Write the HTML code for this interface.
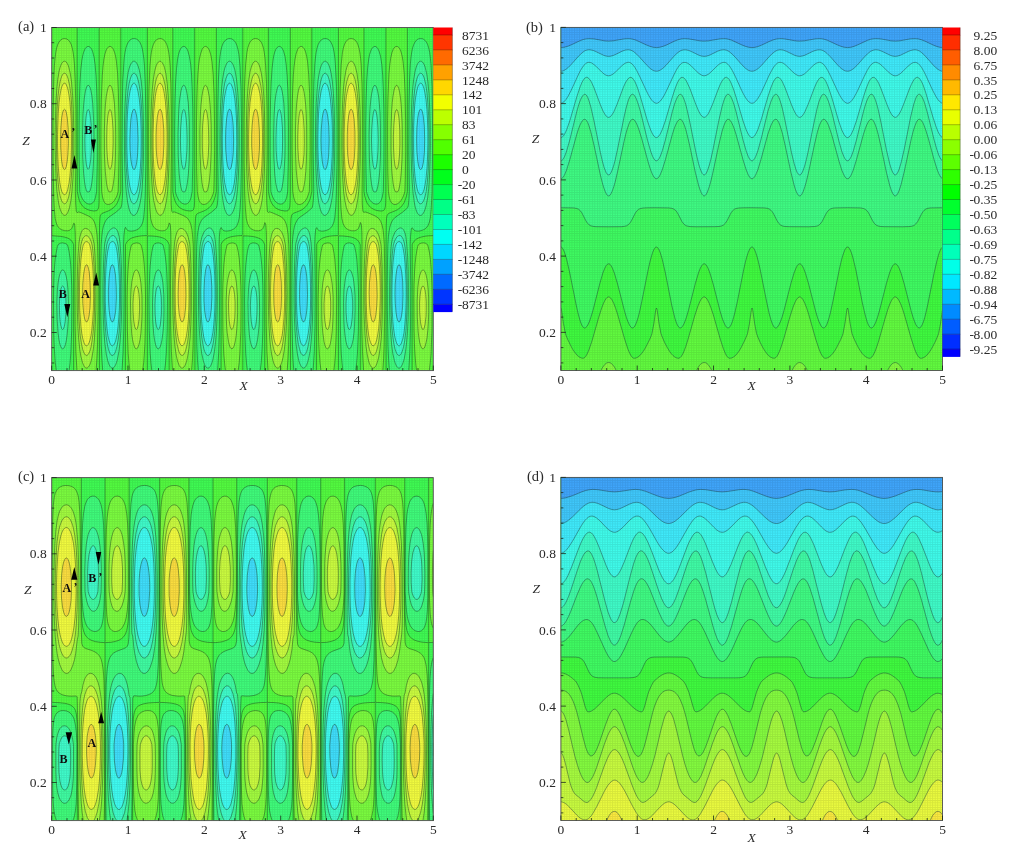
<!DOCTYPE html><html><head><meta charset="utf-8"><style>html,body{margin:0;padding:0;background:#fff;}svg{display:block}</style></head><body><svg width="1017" height="852" viewBox="0 0 1017 852"><clipPath id="cpa"><rect x="51.7" y="27.5" width="381.6" height="343.1"/></clipPath>
<clipPath id="cpb"><rect x="560.9" y="27.4" width="381.6" height="343.1"/></clipPath>
<clipPath id="cpc"><rect x="51.7" y="477.6" width="381.6" height="343"/></clipPath>
<clipPath id="cpd"><rect x="560.9" y="477.4" width="381.6" height="343.1"/></clipPath>
<defs><pattern id="mesh" x="0" y="0" width="2.54" height="2.286" patternUnits="userSpaceOnUse"><path d="M0.5 0V2.286M0 0.5H2.54" stroke="#000" stroke-width="0.9" stroke-opacity="0.1" fill="none"/></pattern></defs>
<g clip-path="url(#cpa)"><rect x="51.7" y="27.5" width="381.6" height="343.1" fill="#54ff40"/>
<path d="M51.7 370.6 73.6 370.6 73.6 244.5 72.5 242.1 71 240.2 69 238.7 67.2 237.9 64.5 237.1 60.8 236.4 51.7 235.7 51.7 28.4 52.6 27.5 77.2 27.5 77.3 191.4 78.3 196.8 79.3 200.4 80.5 203.1 82.3 205.8 84.5 207.9 87.2 209.4 90 210.4 93.6 211 96.3 210.7 97.2 210.2 97.9 209.5 98.3 208.6 98.7 206.7 99 202.2 99.1 191.4 99.1 28.4 100 27.5 120 27.5 120.8 28.4 120.8 191.4 119.8 195.9 118.7 199.5 117.3 202.9 115.5 205.7 113.6 207.6 110.9 209.6 108.2 211 102.8 213.1 101.8 213.6 100.7 214.9 100.3 215.8 100 217.6 99.6 224.9 99.4 243 99.4 370.6 125.4 370.6 125.5 244.6 126.8 242.1 128.2 240.4 130 239 131.8 238 134.6 237.1 138.2 236.3 141.9 235.8 146.4 235.6 147.3 234.8 147.3 27.5 171.9 27.5 172.8 28.4 172.8 191.4 173.6 195.9 174.8 200.4 176 203.1 177.8 205.8 180.1 207.9 182.8 209.5 185.6 210.4 189.2 211 192 210.7 192.9 210.2 193.5 209.5 194.3 206.7 194.6 202.2 194.7 191.4 194.7 28.4 195.6 27.5 215.6 27.5 216.3 28.4 216.3 191.4 215.4 195.9 214.3 199.5 212.9 202.7 211.1 205.6 209.3 207.5 206.5 209.6 203.8 211 198.4 213.1 196.9 214 196.2 214.9 195.9 215.8 195.5 218.5 195.1 226.7 194.9 244.8 194.9 370.6 221 370.6 221.1 244.4 222.3 242.1 223.8 240.3 225.7 238.9 227.5 238 230.2 237 233.8 236.3 237.5 235.8 242 235.6 242.8 234.8 242.8 28.4 243 27.5 267.5 27.5 268.4 28.4 268.4 191.4 269.2 195.9 270.4 200.4 271.6 203.1 273.4 205.8 275.7 208 278.5 209.5 281.2 210.4 284.8 211 286.7 210.9 287.6 210.7 288.5 210.1 289 209.5 289.8 206.7 290.1 202.2 290.3 191.4 290.3 27.5 311.3 27.5 311.8 28.4 311.8 191.4 310.9 195.9 309.9 199.5 308.5 202.6 306.7 205.5 304.9 207.5 302.2 209.6 299.4 211 293.9 213.1 292.5 214 291.8 214.9 291.5 215.8 291 218.5 290.6 226.7 290.5 244.8 290.5 370.6 316.5 370.6 316.7 244.2 317.9 242.1 319.4 240.2 321.3 238.9 323.1 237.9 325.8 237 329.5 236.2 333.1 235.8 337.7 235.6 338.3 234.8 338.4 28.4 338.6 27.5 363.2 27.5 364 28.4 364 191.4 364.7 195.9 366 200.4 367.1 203.1 369 205.8 371.4 208 374.1 209.5 376.8 210.5 380.5 211 382.3 210.9 383.2 210.6 384.1 210 384.6 209.5 385.4 206.7 385.7 202.2 385.8 191.4 385.9 27.5 406.9 27.5 407.4 28.4 407.4 191.4 406.5 195.9 405.4 199.5 404.2 202.5 402.3 205.4 400.5 207.4 397.8 209.5 395 210.9 389.4 213.1 388 214 387.4 214.9 387 215.8 386.5 218.5 386.2 225.8 386 243.9 386 370.6 412.1 370.6 412.2 244.8 412.4 244.1 412.9 243 414.2 241.1 416.1 239.3 418.7 237.9 421.5 237 425.1 236.2 428.7 235.8 433.3 235.6 433.3 27.5 51.7 27.5 51.7 370.6ZM147.3 370.6 169.2 370.6 169.2 244.7 168 242.1 166.6 240.2 164.6 238.8 162.8 237.9 160.1 237.1 156.4 236.4 151.9 236 147.3 235.9 147.3 370.6ZM242.8 370.6 264.8 370.6 264.7 244.8 263.6 242.1 262.2 240.2 260.3 238.8 258.4 238 255.7 237.1 252.1 236.4 247.5 236 243 235.9 242.8 370.6ZM338.4 370.6 360.3 370.6 360.2 244.8 359.1 242.1 357.7 240.2 355.9 238.9 354.1 238 351.3 237.1 347.7 236.5 343.1 236 338.6 235.9 338.4 236.6 338.4 241.1 338.4 370.6Z" fill="#40ff54"/>
<path d="M56.2 369.7 56.3 370.6 69.1 370.6 70.2 361.5 71 348.9 71.7 328.1 71.9 302.7 71.6 281.9 70.7 265.6 70 258.3 69.3 252.9 68.2 247.5 67.4 244.8 65.4 243.5 62.6 242.9 60.8 243.1 59 243.9 58 244.8 57.4 246.6 56.3 252 55.3 258.3 54.6 265.6 54.1 273.7 53.7 285.5 53.5 299.1 53.7 329.9 54.6 352.5 55.3 362.5 56.2 369.7ZM102.7 369.7 102.7 370.6 122 370.6 123.1 352.5 123.8 328.1 124.1 285.5 123.5 244.8 123.9 235.7 124.5 230.3 124.9 228.5 125.5 227.3 126.4 229.1 127.3 230 128.2 230.6 130 231.1 131.8 231.1 134.6 230.6 137.3 229.5 138.9 228.5 140 227.4 141 226.2 142.5 223 143.6 218.5 144 214.9 144.8 204 145.4 191.4 145.9 153.3 145.7 105.4 145.3 85.4 144.7 71 143.6 56.5 142.7 51 141.7 46.5 140.6 43.8 139 41.1 137.3 39.5 136.4 39 134.6 38.5 132.8 38.6 131.8 38.9 130 40 128.4 42 127.3 44 126.1 47.4 125.1 51.9 124.3 57.4 123.8 63.7 122.8 80.9 122.3 105.4 122.1 151.5 122.7 191.4 122.3 198.6 121.8 204.3 120.9 208 120 208.6 116 212.2 109.1 217 107.4 218.5 106 220.3 104.5 223.1 103.3 226.7 102.4 231.2 101.8 236.6 101.2 244.8 100.9 259.3 100.7 283.7 100.7 309 101.3 344.3 101.9 357.9 102.7 369.7ZM151.8 370.6 164.6 370.6 165.7 361.5 166.6 348.9 167.3 328.1 167.5 302.7 167.1 281.9 166.3 265.6 165.6 258.3 164.8 252.9 163.7 247.5 162.9 244.8 161 243.5 158.3 242.9 156.4 243.1 154.6 243.9 153.6 244.8 152.8 247.3 151.9 251.5 151 257.7 150.2 265.6 149.7 273.7 149.3 285.5 149 299.1 149.3 330.8 150.2 353.4 151 363.4 151.8 370.6ZM198.3 370.6 217.6 370.6 218.7 352.5 219.4 328.1 219.6 285.5 219.1 244.8 219.4 236.6 220 230.3 220.2 229.2 221.1 227.5 222 229.2 222.9 230.1 223.8 230.6 225.7 231.1 227.5 231.1 230.2 230.6 232.9 229.5 234.5 228.5 236.2 226.7 237.7 223.9 239 219.4 239.6 214.9 240.4 204 240.9 191.4 241.5 153.3 241.3 105.4 240.9 85.4 240.3 71 239.1 56.5 238.3 51 237.2 46.5 235.8 42.9 234.6 41.1 232.9 39.5 232 39 230.2 38.5 228.4 38.6 227.5 38.9 225.7 40 223.9 42 222.9 43.8 221.9 46.5 220.8 51 220 56.5 219.3 63.7 218.4 80 217.9 104.4 217.6 151.5 218.2 191.4 217.8 199.5 217.3 204.9 216.5 207.8 211.5 212.2 203.8 217.6 201.5 220.3 200.1 223 198.9 226.7 198 231.2 197.3 236.6 196.8 244.8 196.4 261.1 196.2 284.6 196.3 309.9 196.9 346.2 197.5 359.7 198.3 370.6ZM247.4 370.6 260.2 370.6 261.3 361.5 262.1 348.9 262.8 328.1 263 302.7 262.7 281.9 261.8 265.6 261.2 258.5 260.4 252.9 259.3 247.7 258.5 244.8 256.6 243.6 253.9 242.9 252.1 243 250.2 243.9 249.1 244.8 248.4 247 247.5 251.1 246.6 257.4 245.8 264.7 245.2 273.7 244.8 285.5 244.6 299.1 244.8 330.8 245.7 353.4 246.5 363.4 247.4 370.6ZM293.8 370.6 313.1 370.6 314.2 352.5 314.9 328.1 315.2 285.5 314.7 244.8 315 236.6 315.6 230.3 315.8 228.9 316.7 227.6 317.6 229.3 318.5 230.2 319.5 230.7 321.3 231.1 323.1 231.1 325.8 230.6 328.6 229.5 330 228.5 331.7 226.7 333.2 223.9 334.5 219.4 335.1 214.9 335.9 204 336.5 191.4 337 154.2 336.9 106.3 336.5 86.3 335.9 71.9 335.4 63.7 334.7 56.5 333.8 51 332.8 46.5 331.3 42.9 330.1 41.1 329.3 40.2 328 39.3 325.8 38.5 324 38.6 323.1 38.8 321.3 39.9 319.5 42 318.5 43.8 317.5 46.5 316.4 51 315.6 56.5 314.9 63.7 314 80.9 313.4 104.4 313.2 151.5 313.8 191.4 313.4 199.5 312.8 204.9 312.2 207.7 307.1 212.2 299.4 217.6 297.7 219.4 296.7 221 295.3 223.9 294.4 226.7 293.5 231.2 292.9 236.6 292.3 244.8 292 261.1 291.8 285.5 291.8 310.9 292.5 346.2 293 359.2 293.8 370.6ZM342.9 370.6 355.7 370.6 356.8 361.5 357.7 348.9 358.4 328.1 358.6 302.7 358.2 281.9 357.4 265.6 356.8 259.2 355.9 252.9 355 248 354.1 244.8 352.2 243.6 349.5 242.9 347.7 243 345.9 243.8 344.7 244.8 344 246.7 343.1 251.1 342.1 257.4 341.4 264.7 340.8 272.8 340.4 284.6 340.1 298.2 340.4 329.9 340.8 343.4 341.3 354.2 342.1 363.4 342.9 370.6ZM389.4 370.6 408.7 370.6 409.8 352.5 410.5 329 410.7 286.4 410.2 244.8 410.5 236.6 411.1 230.3 411.4 228.5 412.4 227.8 413.3 229.4 414.2 230.2 415.1 230.7 416.9 231.1 418.7 231.1 421.5 230.5 423.3 229.9 425.6 228.5 427.3 226.7 428.8 223.9 430.1 219.4 430.7 214.9 431.4 204.9 432 191.4 432.6 153.3 432.4 106.3 432 87.2 431.4 71.9 430.9 63.7 430.2 56.5 429.4 51 428.3 46.5 426.9 43 425.7 41.1 424.8 40.2 423.6 39.3 421.5 38.5 419.6 38.6 418.7 38.8 416.9 39.8 415.1 41.9 414 43.8 413 46.5 411.9 51 411.1 56.5 410.4 63.7 409.5 80.9 409 104.4 408.8 151.5 409.3 191.4 408.9 199.5 408.4 204.9 407.8 207.5 406.7 208.6 402.6 212.2 395 217.5 393.3 219.4 392.3 220.8 391.2 223 390 226.7 389.1 231.2 388.4 236.6 387.9 244.8 387.5 261.1 387.3 285.5 387.4 310.9 388 346.2 388.6 359.7 389.4 370.6ZM88.8 204 90 204.1 91.8 203.5 92.7 202.9 94 201.3 94.8 199.5 95.4 197.7 96.6 191.4 97.3 164.2 97.4 131.6 97.2 109 96.7 90.9 96.1 76.4 95.2 65.5 94.1 57.4 92.7 51.8 91.8 49.6 90.9 48.1 90 47.1 89 46.6 88.1 46.4 87.2 46.7 86.3 47.3 85.4 48.3 84.5 50 83.6 52.3 82.7 55.8 82.1 59.2 80.9 69.1 80 82.7 79.4 99.9 79.1 122.6 79 147.9 79.3 171.4 79.8 191.4 80.5 194.1 81.5 196.8 83.5 200.4 84.5 201.6 86.3 203.1 87.2 203.6 88.8 204ZM184.3 204 185.6 204.1 187.4 203.5 188.3 202.8 189.5 201.3 190.4 199.5 191 197.5 192.2 191.4 192.8 165.1 193 132.5 192.8 110.8 192.3 91.8 191.7 77.3 190.8 65.5 189.6 57.4 188.3 51.9 187.4 49.7 186.5 48.2 185.6 47.2 184.7 46.6 183.8 46.4 182.8 46.6 181.9 47.2 181 48.2 180.1 49.8 179.2 52.1 178.3 55.5 177.6 59.2 176.5 68.6 175.6 82.7 175 99.9 174.6 122.6 174.6 147 174.8 171.4 175.4 191.4 176.1 194.1 177.1 196.8 179 200.4 180.1 201.7 181.9 203.1 182.8 203.6 184.3 204ZM279.9 204 281.2 204.1 283 203.5 283.9 202.8 284.8 201.7 285.8 200 286.5 197.7 287.7 191.4 288.4 165.1 288.5 133.4 288.3 110.8 287.9 91.8 287.2 77.3 286.3 65.5 285.2 57.4 283.8 51.9 283 49.9 282.1 48.3 281.2 47.2 280.3 46.7 279.4 46.4 278.5 46.6 277.6 47.1 276.7 48.1 275.7 49.6 274.8 51.9 273.9 55.2 273.3 58.3 272.1 67.8 271.2 81.3 270.6 98.1 270.2 120.7 270.1 146.1 270.4 170.5 270.9 191.4 271.6 194.1 272.6 196.8 273.5 198.6 274.6 200.4 276.7 202.6 278.5 203.7 279.9 204ZM375.4 204 376.8 204.1 378.7 203.4 379.6 202.7 380.5 201.6 381.4 199.8 382.1 197.7 383.2 191.8 383.9 166.9 384.1 134.3 383.9 111.7 383.5 92.7 382.8 78.2 382 66.4 380.7 57.4 379.4 51.9 378.7 50.1 377.7 48.4 376.8 47.3 375.9 46.7 375 46.4 374.1 46.6 373.2 47.1 372.3 48 371.4 49.5 370.5 51.7 369.5 54.8 368.9 58.3 367.7 67 366.8 79.8 366.2 97.2 365.8 119.8 365.7 145.2 365.9 170.5 366.5 191.4 367.2 194.1 368.2 196.8 369 198.6 370.1 200.4 372.3 202.7 374.1 203.7 375.4 204Z" fill="#40ff7c"/>
<path d="M111.6 367.9 112.7 368.1 113.6 367.6 114.5 366.6 115.5 365.1 116.4 362.8 117.3 359.8 118.7 352.5 120 342.5 120.8 332.6 121.4 319.9 121.7 305.4 121.8 288.2 121.5 271 120.9 256 120 243.1 119.1 236.5 118.2 233 117.6 231.2 116.5 229.4 115.6 228.5 114.5 228 113.6 227.9 112.7 228.1 110.9 229.2 110 230 108.5 232.1 107.3 234.5 106.5 236.6 105.1 242.1 104.6 244.8 103.8 256.5 103 281 103 299.1 103.2 315.4 103.8 329.9 104.8 342.5 106 352.5 107.5 359.7 109.1 364.6 110 366.3 110.9 367.4 111.6 367.9ZM207.2 367.9 208.3 368.1 209.3 367.6 210.2 366.5 211.1 364.9 212 362.6 212.9 359.5 214.1 353.4 215.3 344.3 216.3 333.5 216.9 320.8 217.3 306.3 217.3 289.1 217.1 271.9 216.5 257.4 215.6 243.9 214.7 236.6 213.8 233 213.1 231.2 212 229.3 211.1 228.5 210.2 228 209.3 227.9 208.3 228.1 206.5 229.1 204.7 231.1 203.8 232.5 202 236.8 200.6 242.1 200.1 244.8 199.4 256.5 198.6 281 198.5 299.1 198.8 315.4 199.4 329.9 200.3 342.5 201.4 351.6 202.9 359.2 203.8 362.4 204.7 364.8 205.6 366.4 206.5 367.5 207.2 367.9ZM302.7 367.9 303.1 368.1 304 368 304.9 367.5 305.8 366.4 306.7 364.7 307.6 362.4 308.5 359.2 309.7 353.4 310.9 344.3 311.8 333.5 312.5 320.8 312.8 306.3 312.9 289.1 312.6 271.9 312.1 257.4 311.2 243.9 310.2 236.6 309.4 233.3 308.7 231.2 307.6 229.3 306.7 228.5 305.8 228 304.9 227.9 304 228.1 302.2 229 300.3 231 299.4 232.4 297.6 236.6 296.2 242.1 295.7 244.8 294.9 256.5 294.2 280.1 294.1 298.2 294.3 314.5 294.9 328.9 295.8 341.6 297 351.6 298.5 359.5 299.4 362.6 300.3 364.9 301.2 366.5 302.2 367.6 302.7 367.9ZM398.3 367.9 398.7 368.1 399.6 368 400.5 367.4 401.4 366.3 402.3 364.6 403.9 359.7 405.1 354.3 406.3 346.2 407.2 335.3 407.9 322.6 408.4 307.2 408.5 290 408.2 271.9 407.6 256.5 406.7 243.9 405.8 236.6 405.1 233.5 404.2 231.2 403.2 229.4 402.3 228.5 401.4 228.1 400.5 227.9 399.6 228.1 397.8 229 396 230.9 395 232.2 393.2 236.4 391.7 242.1 391.2 244.8 390.5 255.9 389.7 280.1 389.6 298.2 389.9 314.5 390.5 329.9 391.4 342.4 392.5 351.6 394.1 359.8 395 362.8 396 365.1 396.9 366.6 397.8 367.6 398.3 367.9ZM61.5 348 61.7 348.3 62.6 348.9 63.5 348.4 64.5 347.1 65.4 344.6 66.3 340.6 67.2 334.3 67.8 327.1 68.5 310.9 68.5 302.7 68.2 294.6 67.8 288.2 67.2 282 66.3 276.8 65.4 273.5 64.5 271.4 63.5 270.2 62.6 269.9 61.7 270.4 60.8 271.6 59.9 273.8 58.8 278.3 58.1 283 57.5 289.1 56.9 301.8 57.1 319 58.1 333.2 59 339.9 59.7 343.4 60.8 346.8 61.5 348ZM157.1 348 157.3 348.4 158.3 348.9 159.2 348.4 159.4 348 160.1 346.9 161 344.3 161.9 340.2 162.8 333.6 163.3 328.1 163.7 320.8 164 311.8 163.8 295.5 163.5 289.1 162.8 282.6 161.9 277.1 161 273.7 160.1 271.5 159.2 270.3 158.3 269.9 157.3 270.3 156.4 271.5 155.5 273.6 154.4 278.3 153.7 282.4 153 289.1 152.5 301.8 152.7 319 153.7 333.5 154.6 340.3 155.3 343.4 156.4 347 157.1 348ZM252.6 348 253 348.5 253.9 348.8 254.8 348.3 255 348 255.7 346.7 256.6 344 257.5 339.7 258.4 332.9 258.9 327.1 259.6 311.8 259.4 295.5 258.4 283.2 257.5 277.5 256.6 273.9 255.7 271.7 254.8 270.4 253.9 269.9 253 270.2 252.1 271.3 251.2 273.4 249.9 278.3 249.2 282.8 248.6 289.1 248 301.8 248.2 319 249.2 333.5 250.1 339.8 250.9 343.4 252.1 347.1 252.6 348ZM348.2 348 348.6 348.5 349.5 348.8 350.4 348.2 351.3 346.6 352.1 344.3 353.1 339.8 353.9 333.5 354.4 328.1 354.9 319.9 355.1 311.8 355 296 354.6 289.1 353.9 282.8 353.2 277.9 352.2 274.2 351.3 271.8 350.4 270.5 349.5 269.9 348.6 270.2 347.7 271.2 346.8 273.2 345.5 278.3 344.8 282.8 344.1 289.1 343.6 301.8 343.7 318.1 344 324.7 344.7 332.6 346 341.6 346.8 344.9 347.7 347.3 348.2 348ZM132.3 214.9 132.8 215.2 133.7 215.4 134.6 215.2 135.5 214.6 136.4 213.5 137.3 212 138.2 209.8 139.1 207 140.7 199.5 141.8 191.4 142.7 178.7 143.3 164.2 143.6 147.9 143.6 128 143.1 109.9 142.4 94.5 141.3 81.8 140 73.5 139.1 69.4 138.2 66.4 137.3 64.3 136.4 62.8 135.5 61.8 134.6 61.3 133.7 61.2 132.8 61.6 131.8 62.5 130.9 63.9 130 65.9 129.1 68.6 128.2 72.4 127.1 79.1 126.1 88.2 125.3 100.8 124.7 115.3 124.4 131.6 124.4 148.8 124.7 165.1 125.4 180.5 126.3 192.3 127.4 201.3 129 208.6 130 211.5 130.8 213.1 131.8 214.5 132.3 214.9ZM227.9 214.9 228.4 215.2 229.3 215.4 230.2 215.2 231.1 214.5 232 213.4 232.9 211.8 233.8 209.6 234.8 206.7 236.3 199.5 237.4 191.4 238.3 178.7 238.9 164.2 239.2 147.9 239.1 128 238.7 109.9 237.9 94.5 236.8 81.8 235.7 74 234.8 69.7 233.8 66.7 232.9 64.4 232 62.9 231.1 61.9 230.2 61.3 229.3 61.2 228.4 61.6 227.5 62.4 226.6 63.7 225.7 65.7 224.7 68.4 223.8 72.1 222.7 79.1 221.7 88.2 220.9 99.9 220.3 114.4 220 130.7 220 147.9 220.3 164.2 220.9 179.6 221.8 191.4 222.9 200.8 224.3 207.7 225.7 211.7 226.6 213.5 227.9 214.9ZM323.4 214.9 324 215.3 324.9 215.4 325.8 215.1 326.7 214.4 327.8 213.1 328.7 211.3 330 207.7 331.7 200.4 332.9 191.4 333.7 180.5 334.4 166 334.7 148.8 334.7 128.9 334.3 110.8 333.6 95.4 332.5 82.7 331.3 74.4 330.4 70 329.5 66.9 328.6 64.6 327.7 63 326.7 61.9 325.8 61.3 324.9 61.2 324 61.5 323.1 62.3 322.2 63.6 321.3 65.5 320.4 68.1 319.5 71.7 318.2 79.1 317.1 89.1 316.4 100.8 315.8 115.1 315.5 130.7 315.5 147.9 315.8 164.2 316.5 179.6 317.3 191.4 318.4 200.4 319.6 206.7 320.4 209.5 321.3 211.9 322.2 213.6 323.4 214.9ZM419 214.9 419.6 215.3 420.5 215.4 421.5 215.1 422.4 214.4 423.3 213.2 424.2 211.5 425.3 208.6 426.3 204.9 427.2 200.4 428.5 191.4 429.3 180.5 429.9 166 430.2 149.7 430.2 129.8 429.8 110.8 429.1 95.4 428 82.7 426.9 74.6 426 70.3 425.1 67.1 424.2 64.7 423.3 63.1 422.4 62 421.5 61.4 420.5 61.2 419.6 61.5 418.7 62.2 417.8 63.5 416.9 65.3 416 67.9 415.1 71.4 413.9 78.2 412.9 87.2 412 99 411.4 113.5 411.1 129.8 411.1 147.9 411.4 164.2 412 178.7 412.9 191.4 414 200.4 415.2 206.7 416 209.7 416.9 212.1 417.8 213.7 419 214.9ZM86.7 191.4 88.1 191.9 89 191.8 89.7 191.4 90.9 187.9 91.8 183 92.7 175.3 93.3 166.9 94 147 94 134.3 93.8 122.6 93.3 112.6 92.7 103.3 91.8 95.4 90.9 90.4 90 87.4 89 85.7 88.1 85.3 87.2 85.9 86.3 87.9 85.4 91.2 84.5 96.7 83.6 105.4 83.2 111.7 82.5 131.6 82.6 153.3 83.4 171.4 84.7 183.2 85.4 187.1 86.3 190.4 86.7 191.4ZM182.3 191.4 182.8 191.7 183.8 191.9 184.7 191.7 185.3 191.4 186.5 187.5 187.3 183.2 188.2 175.1 188.8 167.8 189.2 159.3 189.5 147.9 189.5 136.1 189.3 123.5 188.9 113.5 188.3 104.2 187.4 95.9 186.5 90.8 185.6 87.6 184.7 85.8 183.8 85.2 182.8 85.8 181.9 87.6 181 90.9 180 97.2 179.2 104.5 178.7 112.6 178 131.6 178.1 152.4 178.9 170.5 180.1 182.3 181 187.4 182.3 191.4ZM277.8 191.4 278.5 191.7 279.4 191.9 280.3 191.7 280.8 191.4 281.2 190.5 282.1 187.2 282.8 183.2 283.7 176 284.3 168.7 284.8 157.9 285.1 147.9 285.1 136.1 284.9 123.5 283.9 104.4 283 96.4 282.1 91.1 281.2 87.8 280.3 85.9 279.4 85.2 278.5 85.7 277.6 87.4 276.7 90.6 275.6 96.3 274.8 103.6 274.3 111.7 273.6 130.7 273.7 152.4 274.5 170.5 275.7 182.8 276.7 187.7 277.8 191.4ZM373.4 191.4 374.1 191.8 375 191.9 376.4 191.4 377 189.5 378.1 185 378.9 179.6 379.7 170.5 380.3 159.7 380.6 148.8 380.7 137 380.5 124.6 379.5 105.4 378.7 97 377.7 91.5 376.8 88 375.9 86 375 85.3 374.1 85.7 373.2 87.3 372.3 90.2 371.2 96.3 370.5 102.8 369.8 111.7 369.2 130.7 369.2 151.5 370 169.6 370.5 175.8 371.4 183.3 372.3 188.1 373.4 191.4Z" fill="#40ffa4"/>
<path d="M111.6 355.2 112.7 355.4 113.6 354.9 114.5 353.7 115.5 351.8 116.6 348 117.9 341.6 119 332.6 119.7 323.5 120.3 312.7 120.5 300 120.5 284.6 120.1 269.2 119.3 256.5 118.3 246.6 117.4 242.1 116.4 238.8 115.5 237.1 114.5 236.1 113.6 235.6 112.7 235.5 111.8 235.8 110.9 236.4 110 237.3 109.1 238.6 107.9 241.1 106.7 244.8 105.7 253.8 105 263.8 104.5 274.6 104.2 288.2 104.2 300.9 104.5 313.6 105.1 325.3 106 335.3 107.2 343.4 108.2 348.1 109.1 351.2 110 353.3 110.9 354.7 111.6 355.2ZM207.2 355.2 207.4 355.4 208.3 355.4 209.3 354.8 210.2 353.6 210.7 352.5 212 348.7 213.4 341.6 214.6 332.6 215.3 323.5 215.8 312.7 216.1 300 216 284.6 215.6 269.9 214.8 256.5 213.8 246.6 212.9 241.7 211.7 238.4 211.1 237.2 210.2 236.2 209.3 235.6 208.3 235.5 207.4 235.7 206.5 236.3 205.6 237.2 204.7 238.5 203.4 241.1 202.3 244.8 201.2 253.8 200.5 263.8 200 274.6 199.8 288.2 199.8 301.8 200.1 314.5 200.7 326.2 201.6 335.3 202.7 343.4 203.8 348.4 204.7 351.4 205.6 353.4 206.5 354.7 207.2 355.2ZM302.8 355.2 303.1 355.4 304 355.4 304.9 354.7 305.8 353.4 306.7 351.4 307.6 348.4 309 341.6 310 333.5 310.8 323.5 311.4 312.7 311.6 300 311.6 285.5 311.2 271 310.5 257.4 309.4 246.9 308.5 241.9 307.3 238.4 306.7 237.4 305.8 236.3 304.9 235.7 304 235.5 303.1 235.7 302.2 236.2 301.2 237.1 300.3 238.4 299 241.1 297.8 244.8 296.7 254.7 296.1 263.8 295.6 274.6 295.3 287.3 295.3 300.9 295.6 313.6 296.2 324.4 297 334.4 298.1 342.5 299.4 348.7 300.3 351.6 301.2 353.6 302.2 354.8 302.8 355.2ZM398.3 355.2 398.7 355.4 399.6 355.4 400.5 354.7 401.4 353.3 402.3 351.2 403.2 348.1 404.4 342.5 405.4 335.3 406.3 325.3 406.9 313.6 407.2 300.9 407.2 286.4 406.8 271.9 406.1 258.3 405.1 247.5 404.3 243 403.2 239.3 402.3 237.5 401.4 236.3 400.5 235.7 399.6 235.5 398.7 235.7 397.8 236.2 396.9 237 396 238.3 394.6 241.1 393.4 244.8 392.3 254.1 391.6 263.8 391.2 274.6 390.9 287.3 390.9 300.9 391.2 313.6 391.7 324.4 392.6 334.4 393.7 342.5 395 349 396 351.8 396.9 353.7 397.8 354.9 398.3 355.2ZM62.1 329 62.6 329.6 63.5 328.8 64.5 326.2 65.5 319 66 308.1 65.9 300.9 65.4 293.6 64.5 288.8 63.5 286.6 62.6 286 61.7 286.8 61.5 287.3 60.8 289.3 60.3 291.8 59.7 297.3 59.4 304.5 59.5 311.8 59.9 319.2 60.8 325.6 61.7 328.6 62.1 329ZM157.6 329 158.3 329.6 159.2 328.7 160.1 325.8 161.1 319 161.6 308.1 161.5 300.9 160.9 293.7 160.1 289.1 159.2 286.7 158.3 286 157.3 286.7 156.4 289 156 290.9 155.3 296.4 154.9 303.6 155 311.8 155.5 320 156.4 326 157.3 328.7 157.6 329ZM253.1 329 253.9 329.6 254.8 328.5 255.7 325.5 256.6 319 257.1 309 257.1 301.8 256.6 294.6 255.7 289.4 254.8 286.8 253.9 286 253 286.6 252.1 288.7 251.6 290.9 250.8 296.4 250.5 303.6 250.6 311.8 251.2 320.7 252.1 326.3 253.1 329ZM348.6 329 349.5 329.5 350.4 328.4 351.3 325.1 352.2 318.1 352.6 309.9 352.6 301.8 352.1 294.6 351.3 289.7 350.4 287 349.5 286 348.6 286.5 347.7 288.5 347.1 290.9 346.4 296.4 346 303.6 346.1 312.7 346.7 320.8 347.7 326.6 348.6 329ZM132.5 203.1 133.7 203.8 134.6 203.6 135.5 203 136.4 201.7 137.3 199.8 138.2 197.1 139.5 191.4 140.7 182.3 141.5 172.3 142 160.6 142.3 146.1 142.3 129.8 141.9 114.4 141.1 100.8 140.1 90.9 138.9 83.6 138.2 80.4 137.3 77.4 136.4 75.3 135.5 74 134.6 73.3 133.7 73.3 132.8 73.8 131.8 75 130.8 77.3 130 79.6 129.1 83.4 128.2 89.1 127.2 97.2 126.4 109 125.9 120.7 125.7 134.3 125.7 147.9 126 160.6 126.5 171.4 127.3 181.7 128.2 189.5 129.2 195 130 198.2 130.9 200.7 131.8 202.4 132.5 203.1ZM228.1 203.1 228.4 203.4 229.3 203.8 230.2 203.6 231.1 202.9 232 201.6 232.9 199.6 233.8 196.8 235.1 191.4 236.2 182.3 237 172.3 237.6 160.6 237.9 146.1 237.9 130.7 237.5 115.3 236.7 101.7 235.7 91.1 234.5 83.6 232.9 77.6 232 75.5 231.1 74.1 230.2 73.4 229.3 73.3 228.4 73.7 227.5 74.8 226.3 77.3 224.7 83.1 223.7 89.1 222.8 97.2 222 108.1 221.5 119.8 221.2 133.4 221.2 147 221.6 160.6 222.1 171.4 222.9 182.4 223.8 190 225 195.9 225.7 198.4 226.6 200.9 227.5 202.5 228.1 203.1ZM323.6 203.1 324 203.5 324.9 203.8 325.8 203.6 326.7 202.8 327.7 201.4 328.6 199.4 329.5 196.6 330.6 191.4 331.7 183.2 332.6 172.3 333.1 160.6 333.4 146.1 333.4 130.7 333 116.2 332.3 101.7 331.3 91.7 330.2 84.5 329.5 81 328.6 77.8 327.7 75.6 326.7 74.2 325.8 73.4 324.9 73.2 324 73.7 323.1 74.7 321.9 77.3 320.4 82.7 319.3 89.1 318.4 96.3 317.6 107.2 317.1 119.8 316.8 133.4 316.8 147 317.1 160.6 317.6 171.9 318.5 183.2 319.5 190.5 320.5 195.9 321.3 198.7 322.2 201 323.1 202.6 323.6 203.1ZM419.2 203.1 419.6 203.5 420.5 203.8 421.5 203.5 422.4 202.7 423.3 201.3 424.2 199.2 425.1 196.3 426.2 191.4 427.2 183.2 428.1 172.3 428.7 159.7 429 147 429 131.6 428.6 117.1 427.9 102.6 426.9 92.3 425.8 84.5 424.2 78.1 423.3 75.8 422.4 74.3 421.5 73.5 420.5 73.2 419.6 73.6 418.7 74.6 417.4 77.3 416 82.4 414.8 89.1 414 96.3 413.2 107.2 412.6 118.9 412.4 132.5 412.4 147 412.6 159.7 413.2 172.3 414 182.3 415.1 191 416 195.6 416.9 198.9 417.8 201.2 418.7 202.7 419.2 203.1ZM87.7 168.7 88.1 169.3 89 168.4 90 165.2 90.2 163.3 90.9 158.2 91.1 154.2 91.5 141.6 91.4 130.7 90.8 120.7 90 113.7 89 110.4 88.1 109.5 87.2 110.8 86.3 114.8 85.9 118 85.2 126.2 84.9 137.9 85 147.9 85.5 157 86.3 164.2 87.2 168 87.7 168.7ZM183.3 168.7 183.8 169.3 184.7 168.2 185.7 164.2 186.6 156 187.1 142.5 186.9 130.7 186.4 120.7 185.6 114.1 184.7 110.6 183.8 109.5 182.8 110.8 181.9 114.3 181.5 118 180.8 126.2 180.5 137.9 180.6 147.9 181 157 181.9 164.6 182.8 168.2 183.3 168.7ZM278.8 168.7 279.4 169.3 280.3 168.1 281.2 164.4 282.1 156 282.6 142.5 282.5 130.7 281.9 120.7 281 113.5 280.3 110.7 279.4 109.5 278.5 110.4 278.4 110.8 277.6 113.9 277 118 276.4 126.2 276 137.9 276.1 147.9 276.7 157.9 277.6 165 278.5 168.4 278.8 168.7ZM374.4 168.7 375 169.2 375.9 167.9 376.8 163.9 377.7 155.4 378.2 143.4 378 130.7 377.5 120.7 376.5 113.5 375.9 111 375 109.5 374.1 110.3 373.7 111.7 373.2 113.5 372.6 118 371.9 126.2 371.6 137 371.7 147.9 372.3 158.7 373.2 165.4 374.1 168.5 374.4 168.7Z" fill="#40ffcd"/>
<path d="M111.3 345.3 111.8 345.7 112.7 345.8 113.6 345.1 114.5 343.7 115.6 340.7 116.9 335.3 117.9 328.1 118.6 319.9 119.2 310.9 119.4 300 119.4 287.3 119.1 275.5 118.5 264.7 117.7 256.5 116.7 249.3 115.7 244.8 114.5 242.7 113.6 241.9 112.7 241.5 111.8 241.7 110.9 242.2 110 243.2 109.1 244.8 107.8 251.1 106.9 257.4 106.1 266.5 105.6 276.5 105.3 287.3 105.3 298.2 105.5 308.1 106 318.1 106.7 326.2 107.4 332.6 108.6 338.9 110 343.2 110.9 344.9 111.3 345.3ZM206.9 345.3 207.4 345.7 208.3 345.7 209.3 345 210.2 343.5 211.1 341.1 212.4 335.3 213.3 329 214.1 320.8 214.7 310.9 215 300.9 215 289.1 214.7 277 214.2 266.5 213.4 257.4 212.4 250.2 211.2 244.8 210.2 242.8 209.3 241.9 208.3 241.5 207.4 241.6 206.5 242.2 205.6 243.1 204.7 244.6 203.3 251.1 202.4 258.3 201.7 266.5 201.1 277.4 200.9 287.3 200.8 298.2 201.1 308.6 201.5 318.1 202.2 326.2 203 332.6 204.2 338.9 205.6 343.4 206.5 344.9 206.9 345.3ZM302.4 345.3 303.1 345.8 304 345.7 304.9 344.9 305.8 343.4 306.7 340.9 307.8 336.2 308.8 329.9 309.6 321.7 310.2 311.8 310.5 300.9 310.6 289.1 310.3 277.4 309.7 266.5 308.9 257.4 307.8 249.3 306.8 244.8 305.8 242.9 304.9 242 304 241.6 303.1 241.6 302.2 242.1 301.2 243 300.3 244.5 299 250.2 298 257.4 297.3 265.6 296.7 276.5 296.4 286.4 296.6 307.2 297 316.3 297.7 325.3 298.5 332.5 299.4 337.6 300.3 341.1 301.2 343.4 302.4 345.3ZM398 345.3 398.7 345.8 399.6 345.7 400.5 344.8 401.4 343.2 402.3 340.7 403.2 336.8 404.2 331.4 405.1 322.6 405.7 312.7 406.1 301.8 406.1 290 405.9 278.3 405.3 266.5 404.5 257.4 403.3 249.3 402.3 244.8 401.4 243 400.5 242 399.6 241.6 398.7 241.6 397.8 242 396.9 242.9 396 244.3 395.1 247.5 394.6 250.2 393.6 257.4 392.9 265.6 392.3 275 392 286.4 391.9 297.3 392.2 308.1 392.6 317.2 393.2 325.5 394.1 333 395 337.9 396.4 342.5 396.9 343.7 398 345.3ZM132.7 194.1 133.7 194.7 134.6 194.6 135.5 193.8 136.4 192.3 137.3 189.8 138.6 184.1 139.7 176 140.4 166.9 141 157 141.2 144.3 141.2 131.6 140.8 118.9 140 106.4 139.2 98.1 138.1 91.8 137.3 88.5 136.4 85.8 135.5 84.2 134.6 83.3 133.7 83.2 132.8 83.9 131.8 85.3 130.9 87.7 130 91.3 129 97.2 128.2 104 127.4 114.4 127 124.4 126.8 135.2 126.8 146.1 127.1 157 127.5 166 128.2 174.6 129.1 182 130 187.1 131.2 191.4 131.8 192.8 132.7 194.1ZM228.3 194.1 229.3 194.7 230.2 194.5 231.1 193.7 232 192.3 232.9 189.6 234.1 184.1 235.1 176.9 235.9 167.8 236.5 156 236.8 144.3 236.7 130.7 236.4 118.9 235.7 107.3 234.8 98.5 233.6 91.8 232.9 88.7 232 86 231.1 84.3 230.2 83.4 229.3 83.2 228.4 83.8 227.5 85.2 226.6 87.5 225.7 90.9 224.6 97.2 223.7 104.4 223 114.4 222.3 135.2 222.4 146.1 222.6 157 223.1 166 223.8 175.3 224.7 182.5 225.7 187.4 226.8 191.4 227.5 192.9 228.3 194.1ZM323.9 194.1 324.9 194.7 325.8 194.5 326.7 193.6 327.7 192 328.2 190.4 329.5 185.2 330.5 178.7 331.4 168.7 332.1 157 332.3 145.2 332.3 131.6 332 119.8 331.3 108.3 330.4 99.1 329.4 92.7 328.6 89 327.7 86.2 326.7 84.4 325.8 83.4 324.9 83.2 324 83.7 323.1 85 322.2 87.3 321.3 90.6 320.1 97.2 319.3 104.4 318.5 114.1 317.9 135.2 317.9 147 318.2 157.9 318.7 166.9 319.4 176 320.4 183 321.3 187.7 322.3 191.4 323.1 193.1 323.9 194.1ZM419.4 194.1 420.5 194.7 421.5 194.4 422.4 193.5 423.3 191.8 423.8 190.4 425.1 184.8 426 178.7 427 168.7 427.6 157 427.9 145.2 427.9 131.6 427.5 119.8 426.9 109.3 426 99.7 424.9 92.7 424.2 89.3 423.3 86.4 422.4 84.5 421.5 83.5 420.5 83.2 419.6 83.7 418.7 84.9 417.8 87 416.9 90.3 415.7 97.2 414.9 103.5 414.2 112.8 413.7 123.5 413.4 135.2 413.5 146.1 413.7 157 414.2 166 415 176 416 183.4 416.9 188 417.9 191.4 418.7 193.2 419.4 194.1Z" fill="#40fff5"/>
<path d="M111.8 321.7 112.7 321.9 113.6 320.7 114.6 317.2 115.5 312.3 115.8 309 116.4 297.6 116.2 286.4 115.5 275.1 114.5 269.3 113.6 266.2 112.7 264.8 111.8 265 110.9 266.7 110 270.4 109 278.3 108.4 290.9 108.5 300.9 109.1 310.3 110 316.7 110.9 320.1 111.8 321.7ZM207.4 321.7 208.3 321.8 209.3 320.5 210.2 317.2 211.3 309 211.9 297.3 211.8 286.4 211.1 275.8 210.2 269.6 209.3 266.3 208.3 264.9 207.4 264.9 206.5 266.5 205.6 270 204.6 278.3 204 290.9 204 300.9 204.7 311.1 205.6 317.1 206.5 320.3 207.4 321.7ZM303 321.7 303.1 321.8 304 321.8 304.9 320.3 305.9 316.3 306.7 311 307 307.2 307.5 294.6 307.1 281.9 306.7 276.5 306.1 271.9 305.8 270 304.9 266.5 304 264.9 303.1 264.9 302.2 266.3 301.2 269.6 300.4 275.5 299.7 284.6 299.5 293.7 299.7 302.7 300.3 311.7 301.2 317.4 302.2 320.5 303 321.7ZM398.6 321.7 398.7 321.9 399.6 321.7 400.5 320.1 401.5 316.3 402.3 310.9 402.6 307.2 403 294.6 402.7 281.9 402.3 277.3 401.7 271.9 400.5 266.7 399.6 265 398.7 264.8 397.8 266.1 396.9 269.2 396 275 395.2 284.6 395 293.7 395.2 302.7 396 312.4 396.9 317.8 397.8 320.7 398.6 321.7ZM133.1 168.7 133.7 169.5 134.6 169.3 135.5 167.7 136.4 164.2 137.5 155.1 138.1 141.6 137.8 128.9 137.3 121.6 136.9 118 136.4 114.8 135.5 111.2 134.6 109.4 133.7 109.3 132.8 110.6 131.8 113.7 130.9 119.4 130.2 128.9 129.9 137.9 130.1 147.9 130.8 158.8 131.8 165.2 132.8 168.2 133.1 168.7ZM228.7 168.7 229.3 169.5 230.2 169.2 231.1 167.5 232 163.8 233.1 155.1 233.6 142.5 233.4 128.9 232.9 122.3 232.4 118 232 115.2 231.1 111.4 230.2 109.5 229.3 109.2 228.4 110.4 227.5 113.3 226.6 118.8 225.8 128 225.5 137 225.6 148.8 226.3 157.9 227.5 165.6 228.4 168.4 228.7 168.7ZM324.2 168.7 324.9 169.6 325.8 169.1 326.7 167.2 327.7 163.4 328.6 155.1 329.2 142.5 328.9 128.9 328.6 123.1 328 118 327.7 115.6 326.7 111.6 325.8 109.6 324.9 109.2 324 110.3 323.1 113 322.2 118.2 321.3 128 321.1 137 321.2 148.8 321.9 157.9 322.2 160.9 323.1 165.9 324.2 168.7ZM419.7 168.7 420.5 169.6 421.5 169 422.4 167 423.3 163 424.2 155.1 424.7 143.4 424.5 129.8 424.2 124.1 423.7 118.9 423.3 116.1 422.4 111.8 421.5 109.7 420.5 109.2 419.6 110.1 418.7 112.7 417.8 117.6 416.9 127.1 416.6 136.1 416.7 147.9 417.3 157 417.8 161.4 418.5 165.1 419.7 168.7Z" fill="#40e1ff"/>
<path d="M77 370.6 96.1 370.6 96.8 360.6 97.3 348.9 98 320.8 98.1 281 97.6 244.8 97 234.8 96.2 228.5 95.1 223.9 94.4 222.1 93.5 220.3 92.1 218.5 91.1 217.6 89 216.3 87.2 215.4 79 212 78.1 212 77.2 212.8 76.3 211.3 76.2 210.4 75.7 204 75.4 191.4 76 154.2 75.9 109.9 75.3 83.6 74.5 65.5 73.9 58.3 73.2 52.8 72.3 48.3 71.3 44.7 69.9 41.9 68.1 39.8 66.3 38.8 64.5 38.5 62.6 38.8 60.8 39.9 59 42 57.7 44.7 56.6 48.3 55.7 52.8 55.1 58.3 54.4 65.5 53.9 76.4 53.5 89.1 53 122.6 53.1 164.2 53.7 195.9 54.3 208.6 55.2 218.5 56.3 223 57.2 225.3 58.1 226.8 59.9 228.7 61.7 229.8 64.5 230.6 67.2 230.8 69 230.5 69.9 230.1 70.8 229.4 71.7 228.5 72.6 226.6 73.6 223.3 74.5 223.7 74.8 225.8 75.2 232.1 75.5 244.8 75 283.7 75.2 325.3 75.8 351.6 77 370.6ZM129.9 370.6 142.7 370.6 143.7 362.1 144.5 351.6 145.2 331.7 145.5 306.3 145.3 285.5 144.5 268.3 143.3 255.6 142.6 251.1 141.5 246.6 141 244.8 140 243.9 139.1 243.4 137.3 242.9 135.5 243 133.7 243.5 131.6 244.8 131.3 245.7 130 251.2 129.2 256.5 128.5 262.9 127.9 271 127.4 282.8 127.1 296.4 127.3 329 127.7 342.5 128.2 353.4 129 363.4 129.9 370.6ZM172.5 370.6 191.6 370.6 192.4 360.6 192.9 348.9 193.5 320.8 193.7 281 193.2 244.8 192.5 234.8 191.7 228.5 190.6 223.9 190 222.1 189 220.3 187.7 218.5 186.7 217.6 182.8 215.4 174.6 212 173.7 211.9 172.8 212.7 171.9 211.4 171.7 210.4 171.2 204 171 191.4 171.5 154.2 171.4 109.9 170.9 83.6 170.1 65.5 169.5 58.3 168.8 52.8 167.9 48.3 166.8 44.7 165.5 42 163.7 39.9 161.9 38.8 160.1 38.5 158.3 38.8 156.4 39.8 154.6 41.9 153.3 44.7 152.2 48.3 151.3 52.8 150.6 58.3 150 65.5 149.5 75.5 149 89.1 148.6 122.6 148.6 164.2 149.2 195.9 149.9 208.6 150.7 218.5 151.9 223.2 152.8 225.4 153.7 226.9 155.5 228.8 157.3 229.8 160.1 230.7 162.8 230.8 164.6 230.5 165.5 230 166.5 229.4 167.2 228.5 168.3 226.4 169.2 222.9 170.1 224 170.4 225.8 170.8 232.1 171 244.8 170.5 283.7 170.7 325.3 171.4 351.6 172.5 370.6ZM225.5 370.6 238.2 370.6 239.3 361.5 240 351.6 240.8 331.7 241.1 307.2 240.8 286.4 240.1 269.2 239.6 262 238.8 255.6 238.1 251.1 237.1 246.6 236.5 244.8 235.7 244 234.8 243.4 232.9 242.9 231.1 242.9 229.3 243.5 227.2 244.8 226.9 245.7 225.7 250.8 224.7 256.6 224 263.8 223.5 271 223 282.8 222.7 296.4 222.9 329 223.3 342.5 223.8 353.4 224.6 363.4 225.5 370.6ZM268.1 370.6 287.2 370.6 287.9 360.6 288.4 349.8 289.1 320.8 289.2 281 288.7 244.8 288.1 234.8 287.3 228.5 286.2 223.9 285.5 222.1 284.6 220.3 283 218.3 280.3 216.4 276.7 214.6 270.3 212.1 269.4 211.9 268.5 212.5 267.5 211.7 267.3 210.4 266.8 204 266.5 191.4 267.1 154.2 267 109.9 266.5 83.6 265.6 65.5 265 58.3 264.3 52.8 263.5 48.3 262.4 44.7 261.2 42.2 259.3 39.9 257.5 38.8 255.7 38.5 253.9 38.7 252.1 39.7 250.2 41.8 248.8 44.7 247.7 48.3 246.9 52.8 245.6 64.6 245.1 74.6 244.6 87.2 244.1 120.7 244.1 162.4 244.8 195 245.4 208.6 246.3 218.5 247.5 223.4 249.1 226.7 250.7 228.5 253 229.9 255.7 230.7 258.4 230.8 260.3 230.4 261.2 230 262.1 229.3 262.8 228.5 263.9 226.2 264.8 222.6 265.6 223.9 265.9 225.8 266.3 232.1 266.6 244.8 266.1 283.7 266.3 325.3 266.9 351.6 268.1 370.6ZM321 370.6 333.8 370.6 334.9 360.5 335.7 348.9 336.4 328.1 336.6 302.7 336.3 281.9 335.4 265.6 334.8 259.3 334 253.2 333.1 248.5 332.2 245.1 332.1 244.8 331.3 244 330.4 243.5 329.5 243.1 327.7 242.9 324.9 243.4 323.1 244.5 322.7 244.8 322.2 246.5 321.2 251.1 320.2 257.4 319.5 264.7 318.9 272.8 318.5 284.6 318.2 298.2 318.4 329.9 318.8 343.4 319.4 354.3 320.1 363.4 321 370.6ZM363.6 370.6 382.8 370.6 383.5 360.6 384 349.8 384.6 320.8 384.8 281 384.3 244.8 383.7 235.7 382.8 228.5 381.7 223.9 381.1 222.1 380.1 220.3 378.7 218.4 375.9 216.4 373.2 215.1 366.8 212.4 365 211.9 364.1 212.4 363.5 212.2 363.2 211.9 362.8 210.4 362.3 204 362.1 191.4 362.6 154.2 362.5 109.9 362 83.6 361.2 65.5 360.6 58.3 359.9 52.8 359 48.3 357.9 44.7 356.8 42.3 355 40 353.2 38.9 351.3 38.5 349.5 38.7 348.6 39.1 347.1 40.2 345.7 42 344.4 44.7 343.3 48.3 342.4 52.8 341.2 64.6 340.2 87.2 339.7 120.7 339.7 162.4 340.3 195 341 208.6 341.9 218.5 343.1 223.6 344.7 226.7 346.3 228.5 348.6 229.9 351.3 230.7 354.1 230.8 355.9 230.4 356.8 230 358.3 228.5 359.5 225.9 360.4 222.5 361.1 223.9 361.5 225.8 361.9 232.1 362.1 244.8 361.6 283.7 361.8 325.3 362.5 351.6 363.6 370.6ZM416.6 370.6 429.3 370.6 430.5 360.6 431.2 349.8 431.9 329 432.2 303.6 431.8 282.8 431 266.5 430.5 260.2 429.7 253.7 428.7 248.8 427.8 245.3 427.6 244.8 426 243.5 425.1 243.1 423.3 242.9 421.5 243.1 419.6 243.8 418.3 244.8 417.8 246.2 416.9 250.2 415.9 256.5 415.1 263.8 414.5 272.8 414 284.6 413.8 298.2 414 329.9 414.4 343.4 415 354.3 415.7 363.4 416.6 370.6ZM106.3 204 107.3 204.4 109.1 204.4 110.9 203.7 111.8 203.2 113.6 201.5 114.5 200.3 116.4 197 117.3 194.7 118.2 191.4 118.6 177.8 119 149.7 118.9 118 118.4 92.7 117.6 73.7 116.4 61.2 115.5 55.9 114.7 52.8 113.6 49.9 112.7 48.3 111.8 47.2 110.9 46.6 110 46.4 109.1 46.6 108.2 47.2 107.3 48.2 106.3 49.8 105 53.8 103.9 59.2 103 66.4 102.3 75.5 101.3 99.9 101 122.6 100.9 148.8 101.2 172.3 101.7 191.4 102.5 196.8 103.5 200.4 104.5 202.4 105.4 203.5 106.3 204ZM201.8 204 202.9 204.4 204.7 204.4 206.5 203.7 207.4 203.1 208.5 202.2 210 200.4 211.6 197.7 212.9 194.5 213.8 191.4 214.2 178.7 214.6 150.6 214.5 119.8 214 93.6 213.2 74.6 212 61.8 211.1 56.5 210.5 53.8 209.3 50.1 208.3 48.4 207.4 47.3 206.5 46.7 205.6 46.4 204.7 46.6 203.8 47.1 202.9 48.1 202 49.7 200.6 53.8 199.4 59.2 198.5 66.4 197.9 74.6 197.3 85.4 196.9 99 196.5 121.6 196.5 147.9 196.7 171.4 197.3 191.4 198.1 196.8 199.1 200.4 200.2 202.5 201.1 203.5 201.8 204ZM297.4 204 298.5 204.4 299.4 204.5 300.3 204.4 302.2 203.7 304 202.3 304.9 201.3 305.8 200.1 307.2 197.7 308.5 194.2 309.3 191.4 309.7 178.7 310.1 150.6 310.1 119.8 309.6 93.6 308.7 74.6 307.6 61.9 306.7 56.6 305.8 52.8 304.9 50.2 304 48.5 303.1 47.4 302.2 46.7 301.2 46.4 300.3 46.6 299.4 47.1 298.5 48 297.6 49.5 296.1 53.8 295 59.2 294.1 66.4 293.4 74.6 292.9 85.4 292.4 99 292.1 122.6 292 147.9 292.3 171.4 292.8 191.4 293.6 196.8 294.6 200.4 295.8 202.6 296.7 203.6 297.4 204ZM393 204 394.1 204.4 395 204.5 396 204.4 397.8 203.6 399.6 202.2 400.5 201.2 402.3 198.5 403.8 195 404.9 191.4 405.3 179.6 405.7 151.5 405.6 120.7 405.1 94.5 404.3 74.6 403.1 61.9 402.3 57 401.4 53.1 400.5 50.4 399.6 48.6 398.7 47.4 397.8 46.7 396.9 46.5 396 46.5 395 47 394.1 47.9 393.2 49.4 391.9 52.8 390.7 58.3 389.7 65.5 389 73.7 388.5 84.5 388 98.1 387.6 120.7 387.6 147 387.8 171.4 388.4 191.4 389.2 196.8 390.2 200.4 391.4 202.7 393 204Z" fill="#7cff40"/>
<path d="M85.8 367.9 86.3 368.1 87.2 368 88.1 367.3 89 366.1 90 364.3 90.9 361.7 91.8 358.2 93.4 348.9 94.5 337.7 95.3 324.4 95.8 309 95.9 291.8 95.4 264.7 94.8 252 94.1 243.9 92.7 237.4 91.8 234.7 90.9 232.7 89.9 231.2 88.1 229.3 87.2 228.8 85.4 228.4 84.5 228.6 83.2 229.4 82.4 230.3 81.4 232.1 80.8 233.9 79.9 237.1 79 242.9 78.2 253.8 77.6 266.5 77.3 281.9 77.2 297.3 77.4 312.7 77.9 326.2 78.6 338 79.6 348 80.8 356 82.5 362.5 83.6 365.2 84.5 366.8 85.4 367.7 85.8 367.9ZM181.4 367.9 181.9 368.1 182.8 367.9 183.8 367.2 184.7 366 185.6 364.1 186.5 361.4 187.4 357.9 188.9 348.9 190.1 337.1 190.8 324.4 191.3 309 191.4 291.8 190.9 264.7 190.3 252 189.7 243.9 188.3 237.6 187.4 234.9 186.5 232.9 185.5 231.2 183.8 229.4 182.8 228.8 181 228.4 180.1 228.5 178.8 229.4 178 230.3 177 232.1 175.6 236.8 174.6 242.3 173.8 252.9 173.2 265.6 172.8 281 172.7 296.4 172.9 311.8 173.4 325.3 174.1 337.1 175 347.1 176.4 356.1 177.7 361.5 179.2 365.4 180.1 366.9 181.4 367.9ZM276.9 367.9 277.6 368.1 278.5 367.9 279.4 367.2 280.3 365.8 281.2 363.9 282.1 361.2 283 357.5 284.3 349.8 285.5 338.9 286.4 325.3 286.8 309.9 287 292.7 286.6 266.5 286 254.7 285.4 244.8 283.9 237.9 283 235.1 282.1 233 281 231.2 279.4 229.4 278.5 228.8 276.7 228.4 275.7 228.5 274.8 229 273.9 229.8 273 231.2 272.1 233.2 271.4 235.7 270.2 242.1 269.4 252 268.8 264.7 268.4 279.2 268.3 295.5 268.5 310.4 268.9 324.4 269.6 336.2 270.5 346.2 271.6 354.3 273 360.6 273.9 363.5 274.8 365.5 275.7 367 276.9 367.9ZM372.4 367.9 373.2 368.1 374.1 367.9 375 367.1 375.9 365.7 376.8 363.7 377.7 360.9 378.7 357.2 379.9 349.8 381.1 338.9 381.9 326.2 382.4 310.9 382.5 293.7 382.1 266.5 381.6 254.7 380.9 244.8 379.6 238.2 378.7 235.3 377.7 233.2 376.6 231.2 375 229.5 374.1 228.9 372.3 228.4 371.4 228.5 370.5 228.9 369.5 229.7 368.5 231.2 367.7 233 366.8 236.1 365.8 242.1 365 251.4 364.4 264.7 364 279.2 363.9 295.5 364 310.9 364.5 324.4 365.1 335.3 366 346.2 367.2 354.3 368.6 360.9 369.5 363.7 370.5 365.7 371.4 367.1 372.4 367.9ZM135.1 348 135.5 348.5 136.4 348.8 137.3 348.3 137.5 348 138.2 346.7 139.1 344 140 339.8 140.9 333.5 141.3 328.1 141.8 319.9 142 311.8 141.9 295.5 140.9 282.8 140 277.6 139.1 274 138.2 271.7 137.3 270.4 136.4 269.9 135.5 270.2 134.6 271.3 133.7 273.4 132.5 278.3 131.8 281.9 131.1 289.1 130.5 301.8 130.8 319 131.7 333.5 132.6 339.8 133.4 343.4 134.6 347.1 135.1 348ZM230.7 348 231.1 348.5 232 348.8 232.9 348.2 233.8 346.5 234.3 345.3 235.4 340.7 236.2 335.3 236.8 329 237.3 320.8 237.6 312.7 237.5 296.7 236.5 283.7 235.7 278 234.8 274.2 233.8 271.8 232.9 270.5 232 269.9 231.1 270.2 230.2 271.2 229.3 273.2 228 278.3 227.3 282.8 226.6 289.1 226.1 301.8 226.3 318.1 226.6 325.3 227.2 332.6 228.5 341.6 229.3 344.9 230.2 347.3 230.7 348ZM326.2 348 326.7 348.6 327.7 348.8 328.6 348.1 329.5 346.2 330.4 343.4 330.9 340.7 331.6 336.2 332.3 329.9 332.8 321.7 333.1 312.7 333.1 297.3 332.7 290 332.1 283.7 331.3 278.4 330.4 274.5 329.5 272 328.6 270.5 327.7 269.9 326.7 270.1 325.8 271.1 325.4 271.9 324.4 274.6 323.6 278.3 322.8 282.8 322.2 289.1 321.7 300.9 321.8 318.1 322.2 325.7 322.8 332.6 324 341.5 324.9 345.2 325.8 347.4 326.2 348ZM421.8 348 422.4 348.7 423.3 348.8 424.2 348 425.1 346.2 426.3 341.6 427 338 427.8 330.3 428.4 321.7 428.7 312.7 428.6 297.3 428.2 290 427.6 283.7 426.9 278.8 426 274.7 425.1 272.2 424.2 270.6 423.3 270 422.4 270.1 421.5 271 421 271.9 419.7 275.5 419.1 278.3 418.5 281.9 417.8 288.2 417.2 300.9 417.3 317.2 418.2 331.7 418.7 336.3 419.6 341.9 420.5 345.4 421.5 347.6 421.8 348ZM63.5 214.9 64.5 215.3 65.4 215.2 66.3 214.7 66.8 214 67.9 212.2 69.5 207.7 70.8 201.1 72 191.4 72.9 178.7 73.5 163.3 73.8 146.1 73.7 127.1 73.3 109.9 72.6 95.4 71.6 82.7 70.3 73.7 68.8 67.3 68.1 65.2 67.2 63.4 66.3 62.1 65.4 61.4 64.5 61.2 63.5 61.5 62.6 62.2 61.7 63.5 60.8 65.4 59.9 68.1 59 71.9 57.8 79.1 56.8 89.1 56 101.7 55.5 117.1 55.2 133.4 55.3 150.6 55.6 166 56.2 180.5 57 191.4 58.2 200.4 59 204.8 59.9 208.3 60.8 210.9 61.7 212.8 62.6 214.1 63.5 214.9ZM159.1 214.9 160.1 215.3 161 215.2 161.9 214.6 162.8 213.5 163.5 212.2 165 207.7 166.5 200.6 167.6 191.4 168.4 178.7 169 163.3 169.3 146.1 169.3 128 168.9 110.8 168.2 96.3 167.2 83.6 165.9 73.7 164.4 67.3 163.7 65.4 162.3 62.8 161 61.5 160.1 61.2 159.2 61.4 158.3 62.1 157.3 63.4 156.4 65.2 155.5 67.9 154.6 71.5 153.4 79.1 152.3 89.1 151.5 101.7 151 117.1 150.8 133.4 150.8 149.7 151.1 165.1 151.7 179.6 152.5 191.4 153.7 200.4 155.3 207.7 156.4 211.1 157.3 212.9 158.3 214.2 159.1 214.9ZM254.6 214.9 255.7 215.3 256.6 215.2 257.5 214.5 258.4 213.3 259 212.2 260.6 207.7 262.1 200.1 263.1 191.4 264 178.7 264.6 163.3 264.9 147 264.8 128 264.4 110.8 263.8 96.3 262.8 83.6 261.4 73.7 259.9 67.3 258.9 64.6 257.9 62.8 256.6 61.5 255.7 61.2 254.8 61.4 253.9 62 253 63.2 252.1 65 251.2 67.6 250.2 71.2 248.9 79.1 247.9 89.1 247.1 100.8 246.6 115.5 246.3 132.5 246.3 149.7 246.6 165.1 247.2 179.6 248.1 191.4 249.3 200.9 250.8 207.7 252.1 211.2 253 213 253.9 214.3 254.6 214.9ZM350.2 214.9 351.3 215.3 352.2 215.1 353.2 214.4 354.6 212.2 356.2 207.7 357.7 199.6 358.7 191.4 359.5 178.7 360.1 163.3 360.4 147 360.4 128 360 110.8 359.3 96.3 358.3 83.6 357 73.7 355.5 67.3 354.1 63.8 353.2 62.4 352.2 61.6 351.3 61.2 350.4 61.4 349.5 62 348.6 63.1 347.7 64.9 346.8 67.4 345.9 70.8 344.5 79.1 343.4 89.1 342.7 100.8 342.2 115.3 341.9 132.5 341.9 149.7 342.2 166 342.8 179.6 343.6 191.4 345 201.3 346.4 207.7 348.1 212.2 349.5 214.4 350.2 214.9ZM108.5 191.4 109.1 191.7 110 191.9 110.9 191.7 111.4 191.4 111.8 190.6 112.7 187.2 113.4 183.2 114.3 176 114.9 168.7 115.4 157.9 115.6 147.9 115.7 136.1 115.5 123.5 114.5 104.4 113.6 96.5 112.7 91.1 111.8 87.7 110.9 85.9 110 85.2 109.1 85.8 108.2 87.6 107.3 90.9 106.3 96.3 105.4 104.9 105 111.7 104.3 131.6 104.4 153.3 105.3 171.4 106.5 183.2 107.3 187.4 108.5 191.4ZM204 191.4 204.7 191.8 205.6 191.9 207 191.4 207.7 189.5 208.7 185 209.4 180.5 210.2 171.4 210.8 160.6 211.2 148.8 211.1 125.3 210.7 114.4 210 104.4 209.3 97.1 208.3 91.4 207.4 87.9 206.5 86 205.6 85.3 204.7 85.7 203.8 87.4 202.9 90.6 201.9 96.3 201.1 104 200.5 111.7 199.9 130.7 200 152.4 200.8 170.5 202 182.7 202.9 187.7 204 191.4ZM299.6 191.4 300.3 191.8 301.2 191.9 302.5 191.4 303.1 190.1 304.2 185 304.9 180.5 305.8 171.4 306.4 160.6 306.7 148.8 306.6 125.3 306.2 113.5 305.6 104.4 304.9 97.7 304 91.8 303.1 88.2 302.2 86.1 301.2 85.3 300.3 85.6 299.4 87.2 298.5 90.3 297.5 96.3 296.7 103.1 296.1 111.7 295.4 130.7 295.5 151.5 296.2 169.6 296.7 175.4 297.6 183.2 298.5 188 299.6 191.4ZM395.1 191.4 396 191.8 396.9 191.9 398.1 191.4 398.7 189.9 399.6 185.9 400.5 180.2 401.4 170.3 402 159.7 402.3 148.8 402.3 137 402.2 125.3 401.7 113.5 401.1 104.4 400.5 98.3 399.6 92.2 398.7 88.4 397.8 86.2 396.9 85.3 396 85.6 395 87.1 394.1 89.9 393 96.3 392.3 102.3 391.6 111.7 391 129.8 391 150.6 391.7 168.7 392.3 176.2 393.2 183.7 394.1 188.4 395.1 191.4Z" fill="#a4ff40"/>
<path d="M85.8 355.2 86.3 355.5 87.2 355.3 88.1 354.5 89 353 90 350.8 90.9 347.5 92.1 340.7 93.2 331.7 93.9 321.7 94.5 309 94.7 296.4 94.5 281 94.1 267.4 93.3 255.6 92.3 245.7 91.3 242.1 90 238.8 89 237.4 88.1 236.5 87.2 235.9 86.3 235.7 85.4 235.8 84.5 236.4 83.6 237.3 82.9 238.4 81.8 241.4 80.8 245.3 79.9 253.8 79.1 266.5 78.6 279.2 78.4 291.8 78.5 304.5 78.9 317.2 79.5 327.1 80.3 336.2 81.4 343.4 82.7 349.3 83.6 352 84.5 353.8 85.4 355 85.8 355.2ZM181.4 355.2 181.9 355.5 182.8 355.3 183.8 354.4 184.7 352.9 185.6 350.5 186.5 347.2 187.6 341.6 188.6 333.5 189.4 323.5 190 310.9 190.2 297.3 190.1 282.8 189.7 268.3 188.9 256.5 187.8 245.7 186.9 242.1 185.6 239 184.7 237.5 183.8 236.6 182.8 236 181.9 235.7 181 235.8 180.1 236.3 179 237.5 178.3 238.8 177.4 241.1 176.5 244.8 175.5 253.8 174.7 265.6 174.2 278.3 174 290.9 174.1 303.6 174.4 315.4 175 326.2 175.8 335.3 176.9 343.4 178.3 349.5 179.2 352.2 180.1 354 181 355 181.4 355.2ZM276.9 355.2 277.6 355.5 278.5 355.2 279.4 354.3 280.3 352.7 281.8 348 283 342.2 284.1 334.4 284.9 323.5 285.5 310.9 285.8 297.3 285.6 281.9 285.2 267.4 284.4 255.6 283.4 245.7 282.4 242.1 281.2 239.1 280.3 237.6 279.4 236.6 278.5 236 277.6 235.7 276.7 235.8 275.7 236.2 274.6 237.5 273.9 238.6 273 240.9 272 244.8 271.1 252.9 270.3 264.2 269.8 277.4 269.5 290.9 269.6 303.6 269.9 315.4 270.5 325.3 271.3 335.3 272.5 343.4 273.9 349.8 274.8 352.3 275.7 354.1 276.9 355.2ZM372.4 355.2 373.2 355.5 374.1 355.2 375 354.2 375.9 352.5 376.8 350.1 377.6 347.1 378.7 341.7 379.6 334.4 380.5 323.5 381 311.8 381.3 298.2 381.2 282.8 380.8 268.3 380 255.6 378.9 245.7 378 242.1 376.8 239.2 375.9 237.7 375 236.7 374.1 236 373.2 235.7 372.3 235.8 371.4 236.2 370.1 237.5 369.5 238.5 368.6 240.7 367.6 244.8 366.7 252.9 365.9 263.8 365.3 276.5 365.1 290 365.1 302.7 365.5 314.5 366 324.4 366.8 334.6 367.9 342.5 369.5 349.8 370.9 353.4 371.4 354.2 372.4 355.2ZM135.6 329 136.4 329.6 137.3 328.5 138.2 325.4 139.1 318.7 139.6 309 139.5 300.9 138.9 293.7 138.1 289.1 137.3 286.9 136.4 286 135.5 286.6 134.6 288.7 134.1 290.9 133.4 296.4 133 303.6 133.1 311.8 133.7 320.7 134.6 326.3 135.6 329ZM231.1 329 232 329.5 232.9 328.3 233.8 325 234.8 317.9 235.1 309.9 235.1 301.8 234.6 294.6 233.8 289.8 232.9 287 232 286 231.1 286.4 230.2 288.5 229.7 290.9 228.9 296.4 228.5 303.6 228.7 312.7 229.2 320.8 230.2 326.6 231.1 329ZM326.7 329 327.7 329.5 328.6 328.2 329.5 324.6 330.4 316.9 330.7 309.9 330.7 301.8 330.2 294.6 329.2 289.1 328.6 287.2 327.7 286 326.7 286.4 326.3 287.3 325.8 288.2 325.2 290.9 324.5 296.4 324.1 303.6 324.2 312.7 324.8 320.8 325.8 326.9 326.7 329ZM422.3 329 422.4 329.2 423.3 329.5 423.6 329 424.2 328 425.1 324.2 426 316.3 426.2 309.9 426.2 301.8 425.7 294.6 425.1 290.4 424.7 289.1 424.2 287.3 423.3 286.1 422.4 286.3 421.8 287.3 421.5 288 420.7 290.9 420 296.4 419.6 302.9 419.7 311.8 420.3 319.9 420.5 322.5 421.3 326.2 421.5 327.1 422.3 329ZM63.3 203.1 64.5 203.8 65.4 203.5 66.3 202.7 67.2 201.2 68.7 196.8 69.8 191.4 70.8 183.2 71.7 171.4 72.3 158.8 72.5 146.1 72.5 130.7 72.1 116.2 71.6 104.4 70.7 93.6 69.6 85.4 68.1 78.7 67.2 76.2 66.3 74.5 65.4 73.5 64.5 73.2 63.5 73.6 62.6 74.6 61.7 76.3 60.8 79 60.1 81.8 59 88.2 58 96.3 57.2 108.1 56.7 119.8 56.5 133.4 56.5 147 56.8 160.6 57.2 171.4 58.1 182.5 59 190.2 59.9 195 60.8 198.4 61.7 200.8 62.6 202.4 63.3 203.1ZM158.9 203.1 159.2 203.4 160.1 203.8 161 203.5 161.9 202.6 162.8 201 164.2 196.8 165.4 191.4 166.5 182.4 167.3 171.4 167.8 159.7 168.1 146.1 168 130.7 167.7 116.2 167.1 104.4 166.2 93.6 165.1 85.4 163.7 79 162.8 76.4 161.9 74.6 161 73.6 160.1 73.2 159.2 73.5 158.3 74.5 157.3 76.4 156.4 78.7 155.5 82.4 154.5 88.2 153.6 96.3 152.8 107.2 152.3 119.8 152 133.4 152 147 152.3 160.6 152.8 171.5 153.7 183.3 154.6 190.8 155.5 195.4 156.4 198.6 157.3 200.9 158.3 202.5 158.9 203.1ZM254.4 203.1 254.8 203.5 255.7 203.8 256.6 203.5 257.5 202.5 258.2 201.3 259.5 197.7 260.9 191.4 262.1 181.6 262.8 172.3 263.3 160.6 263.6 147 263.6 131.6 263.3 117.1 262.7 104.4 261.8 93.6 260.7 85.4 259.3 79.3 258.4 76.5 257.5 74.7 256.6 73.6 255.7 73.2 254.8 73.5 253.9 74.4 252.8 76.4 252.1 78.5 251.2 82 250.1 88.2 249.2 95.4 248.4 106.3 247.8 118.9 247.6 133.4 247.6 147.9 247.9 161.5 248.4 172.7 249.3 184 250.2 191.3 251.2 195.7 252.1 198.8 253 201.1 253.9 202.6 254.4 203.1ZM350 203.1 350.4 203.5 351.3 203.8 352.2 203.4 353.3 202.2 354.1 200.7 355 198.2 356.5 191.4 357.6 182.3 358.3 172.3 358.9 160.6 359.2 147 359.2 131.6 358.8 117.1 358.2 104.4 357.3 93.6 356.2 85.4 355 79.5 354.1 76.7 353.2 74.8 352.2 73.7 351.3 73.2 350.4 73.4 349.5 74.3 348.6 75.8 348 77.3 346.8 81.7 345.6 88.2 344.8 95.4 344 106.3 343.4 118.9 343.1 132.5 343.1 147 343.4 160.6 344 173.2 344.8 183.2 345.8 191.4 346.8 196 347.7 199.1 348.6 201.3 349.5 202.7 350 203.1ZM109.5 168.7 110 169.3 110.9 168.1 111.8 164.5 112.7 156 113.2 142.5 113.1 130.7 112.5 120.7 111.6 113.5 110.9 110.7 110 109.5 109 110.8 108.2 114.3 107.7 118 107 126.2 106.7 137.9 106.8 147.9 107.3 156.9 108.2 164.7 109.1 168.2 109.5 168.7ZM205 168.7 205.6 169.3 206.5 167.9 207.4 164 208.3 155.4 208.8 142.5 208.6 130.7 208.1 120.7 207.1 113.5 206.5 110.9 205.6 109.5 204.7 110.4 203.8 113.8 203.4 117.1 202.6 125.3 202.3 137 202.4 147.9 202.9 157.8 203.8 165.1 204.7 168.4 205 168.7ZM300.6 168.7 301.2 169.2 302.2 167.7 303.1 163.5 304 154.3 304.3 143.4 304.2 130.7 303.6 120.7 303.1 115.4 302.5 112.6 302.2 111.1 301.2 109.5 300.3 110.2 299.4 113.4 298.9 117.1 298.2 125.3 297.8 137 297.9 147.9 298.5 158.7 299.4 165.5 300.3 168.6 300.6 168.7ZM396 168.7 396.9 169.2 397.8 167.5 398.7 163 399.6 153.3 399.9 144.3 399.8 130.7 399.2 120.7 398.7 116 398 112.6 397.8 111.3 396.9 109.6 396 110.1 395.7 110.8 395 113.1 394.5 117.1 393.8 125.3 393.4 136.1 393.5 147.9 394.1 158.8 395 165.8 396 168.7Z" fill="#cdff40"/>
<path d="M85.4 345.3 86.3 345.8 87.2 345.6 88.1 344.7 89 342.9 89.8 340.7 90.9 336.1 91.8 330.2 92.7 320.8 93.3 309.9 93.6 298.2 93.5 286.4 93.2 274.6 92.7 265.6 91.7 255.6 90.9 249.6 89.8 244.8 89 243.4 88.1 242.3 87.2 241.7 86.3 241.6 85.4 241.9 84.5 242.7 83.3 244.8 82.7 247.3 81.8 252.5 80.8 260.3 80.2 269.2 79.7 279.2 79.5 290 79.8 309.9 80.9 326.2 81.8 333.4 82.7 338.3 83.9 342.5 84.5 343.9 85.4 345.3ZM181 345.3 181.9 345.8 182.8 345.6 183.8 344.6 184.7 342.7 185.3 340.7 186.5 335.7 187.4 329.6 188.3 320 188.9 309 189.1 298.2 189.1 286.4 188.7 274.6 188.2 265.6 187.3 255.6 186.5 250 185.3 244.8 184.7 243.5 183.8 242.4 182.8 241.8 181.9 241.6 181 241.8 180.1 242.6 178.8 244.8 177.4 252 176.5 259.5 175.7 269.2 175.3 279.2 175.1 290 175.3 309.9 175.8 318.1 176.5 326.9 177.4 333.9 178.3 338.6 179.2 341.8 180.1 344 181 345.3ZM276.6 345.3 277.6 345.8 278.5 345.5 279.4 344.4 280.3 342.5 281.1 339.8 282.1 335.3 283 329 283.9 318.9 284.4 309 284.7 298.2 284.6 286.4 284.3 274.6 283.7 264.7 282.8 255.6 282.1 250.5 280.9 244.8 279.4 242.5 278.5 241.8 277.6 241.6 276.7 241.8 275.7 242.5 274.8 243.9 273.9 246.6 273 251.5 272.1 258.7 271.3 268.3 270.9 278.3 270.6 289.1 270.6 300 270.9 309.9 271.4 319 272.1 327.6 273 334.3 273.9 338.9 274.8 342.1 275.7 344.2 276.6 345.3ZM372.1 345.3 373.2 345.8 374.1 345.5 375 344.3 375.9 342.3 376.7 339.8 377.7 334.8 378.7 328.4 379.5 318.1 380.2 299.1 380.2 287.3 379.9 275.5 379.3 265.6 378.5 256.5 377.7 250.9 376.4 244.8 375 242.6 374.1 241.8 373.2 241.6 372.3 241.8 371.4 242.4 370.4 243.9 369.5 246.3 368.6 251.1 367.7 258 366.9 268.3 366.4 278.3 366.2 289.1 366.2 300 366.5 310.9 366.9 319 367.7 328.1 368.6 334.8 369.5 339.2 370.5 342.3 371.4 344.3 372.1 345.3ZM63.3 194.1 64.5 194.7 65.4 194.4 66.3 193.3 67.2 191.4 67.7 189.5 69 183.4 69.9 176.4 70.8 166 71.2 156 71.4 145.2 71.4 133.4 71.2 121.6 70.7 111.7 69.9 101.7 68.9 94.5 68.1 90.2 67.3 87.2 66.3 84.8 65.4 83.5 64.5 83.2 63.5 83.6 62.6 84.9 61.7 87.1 60.8 90.5 59.8 96.3 59 102.8 58.2 113.5 57.5 134.3 57.5 146.1 57.8 157 58.2 166 59 175.7 59.9 183 60.8 187.9 61.8 191.4 62.6 193.2 63.3 194.1ZM158.9 194.1 159.2 194.4 160.1 194.7 161 194.3 161.9 193.2 162.8 191.2 163.5 188.6 164.6 182.9 165.5 175.6 166.3 166 166.8 156 167 145.2 167 132.5 166.7 120.7 166.2 110.8 165.4 101.7 164.3 93.6 163.7 90.5 162.8 87.1 161.9 84.9 161 83.6 160.1 83.2 159.2 83.5 158.3 84.7 157.3 86.9 156.4 90.1 155.3 96.3 154.5 103.5 153.7 113.5 153.1 134.3 153.1 146.1 153.3 157 153.8 166 154.6 176 155.5 183.4 156.4 188.2 157.3 191.4 158.3 193.3 158.9 194.1ZM254.5 194.1 254.8 194.4 255.7 194.7 256.6 194.3 257.5 193.1 258.4 191 259.1 188.6 260.3 182.4 261.2 174.9 261.9 165.1 262.6 145.2 262.5 132.5 262.2 120.7 261.7 110.8 261 101.7 259.9 93.6 258.4 87.3 257.5 85 256.6 83.7 255.7 83.2 254.8 83.5 253.9 84.6 253 86.6 252.1 89.8 250.9 96.3 250.1 102.6 249.3 112.6 248.9 123.5 248.6 134.3 248.6 146.1 248.9 157 249.3 166.2 250.1 176 251.2 183.9 252.1 188.5 253 191.6 253.9 193.4 254.5 194.1ZM350 194.1 350.4 194.5 351.3 194.7 352.2 194.2 353.2 192.9 354.4 189.5 355.7 183.2 356.7 175.1 357.3 166.9 357.8 157.9 358.1 146.1 358.1 133.4 357.8 121.6 357.3 110.8 356.5 101.7 355.4 93.6 354.1 87.6 353.2 85.2 352.2 83.8 351.3 83.2 350.4 83.4 349.5 84.5 348.6 86.4 347.7 89.5 346.4 96.3 345.7 102.6 345 111.4 344.5 121.6 344.2 133.4 344.2 145.2 344.4 156 344.9 166.9 345.6 175.1 346.6 183.2 347.7 188.8 348.6 191.8 349.5 193.5 350 194.1Z" fill="#f5ff40"/>
<path d="M86.1 321.7 86.3 321.9 87.2 321.6 88.1 319.8 89 316 90 308.1 90.5 295.5 90.1 281.9 89.2 271.9 88.1 267.1 87.2 265.1 86.3 264.8 85.4 265.9 84.5 268.8 83.6 274.4 82.8 283.7 82.6 293.7 82.8 303.6 83.6 313 84.5 318.2 85.4 320.9 86.1 321.7ZM181.7 321.7 181.9 322 182.8 321.5 183.8 319.5 184.7 315.6 185.6 307.2 186 295.5 185.7 281.9 184.7 271.9 183.8 267.3 182.8 265.2 181.9 264.7 181 265.8 180.1 268.5 179.2 273.8 178.4 283.7 178.1 293.7 178.3 303.6 179.2 313.6 180.1 318.4 181 321 181.7 321.7ZM277.3 321.7 277.6 322 278.5 321.4 279.4 319.3 280.3 315.2 281.2 306.9 281.6 295.5 281.3 281.9 280.3 272 279.4 267.6 278.5 265.3 277.6 264.7 276.7 265.6 275.7 268.2 274.8 273.2 273.9 283.7 273.7 292.7 273.9 304.3 274.8 313.6 275.7 318.7 276.7 321.1 277.3 321.7ZM372.8 321.7 373.2 322 374.1 321.3 375 319.1 375.9 314.7 376.8 305.8 377.2 295.5 376.8 282.1 375.9 272.6 375 267.9 374.1 265.5 373.2 264.7 372.3 265.5 371.4 267.9 370.5 272.6 369.5 282.3 369.2 292.7 369.5 304.5 370.3 313.6 371.4 319 372.3 321.3 372.8 321.7ZM63.5 168.7 64.5 169.6 65.4 168.9 66.3 166.5 66.7 164.2 67.2 161.5 67.9 154.2 68.4 143.4 68.2 128.9 67.3 118 66.3 112.4 65.4 109.9 64.5 109.2 63.5 110 62.6 112.6 61.7 117.7 60.9 127.1 60.6 136.1 60.7 147.9 61.3 157 61.7 161.3 62.2 164.2 62.6 166.2 63.5 168.7ZM159.1 168.7 160.1 169.6 161 168.7 162.1 165.1 162.8 161.3 163.3 156 163.9 144.3 163.8 129.8 162.9 118.9 161.9 112.7 161 110 160.1 109.2 159.2 109.9 158.3 112.3 157.3 117.2 156.4 127.1 156.1 136.1 156.2 147 156.7 156 157.6 163.3 158.3 166.5 159.1 168.7ZM254.7 168.7 254.8 169 255.7 169.6 256.6 168.6 257.5 165.9 258.4 160.7 258.8 157 259.3 150.6 259.5 144.3 259.3 130.4 258.4 118.4 257.5 113 256.6 110.2 255.7 109.2 254.8 109.8 253.9 112.1 253 116.7 252.1 125.9 251.7 135.2 251.7 146.1 252.3 156 253.1 163.3 253.9 166.8 254.7 168.7ZM350.2 168.7 350.4 169.1 351.3 169.6 352.2 168.5 353.2 165.6 354.1 160.1 354.4 157 355 144.3 354.9 131.6 354.1 119 353.2 113.3 352.2 110.3 351.3 109.2 350.4 109.7 349.5 111.8 348.6 116.2 347.7 124.8 347.3 135.2 347.3 145.2 347.7 155.1 348.6 162.9 349.5 167 350.2 168.7Z" fill="#ffe140"/>
<path d="M111.8 321.7 110.9 320.1 110 316.7 109.1 310.3 108.5 300.9 108.4 290.9 109 278.3 110 270.4 110.9 266.7 111.8 265 112.7 264.8 113.6 266.2 114.5 269.3 115.5 275.1 116.2 286.4 116.4 297.6 115.8 309 115.5 312.3 114.6 317.2 113.6 320.7 112.7 321.9 111.8 321.7M207.4 321.8 206.5 320.3 205.6 317.1 204.7 311.1 204 300.9 204 290.9 204.6 278.3 205.6 270 206.5 266.5 207.4 264.9 208.3 264.9 209.3 266.3 210.2 269.6 211.1 275.8 211.8 286.4 211.9 297.3 211.3 309 210.2 317.2 209.3 320.5 208.3 321.8 207.4 321.8M303.1 321.8 302.2 320.5 301.2 317.4 300.3 311.8 299.7 303.6 299.5 294.6 299.7 284.6 300.3 275.7 301.2 269.6 302.2 266.3 303.1 264.9 304 264.9 304.9 266.5 305.8 270 306.1 271.9 306.7 276.5 307.1 281.9 307.5 294.6 307.1 306.3 306.7 311 306.1 315.4 305.8 317.1 304.9 320.3 304 321.8 303.1 321.8M398.7 321.9 397.8 320.7 396.9 317.8 396 312.4 395.3 303.6 395 294.6 395.2 284.6 396 275 396.9 269.2 397.8 266.1 398.7 264.8 399.6 265 400.5 266.7 401.7 271.9 402.3 277.3 402.7 281.9 403 294.6 402.6 306.3 402.3 310.3 401.6 315.4 400.5 320.1 399.6 321.7 398.7 321.9M133.7 169.5 132.8 168.2 131.8 165.2 130.9 159.7 130.1 149.7 129.9 139.8 130.2 129.8 130.9 119.4 131.8 113.7 132.8 110.6 133.7 109.3 134.6 109.4 135.5 111.2 136.4 114.8 136.8 117.1 137.3 121.5 137.7 127.1 138.1 139.8 137.7 152.4 137.3 157.8 136.7 162.4 136.4 164.2 135.5 167.7 134.6 169.3 133.7 169.5M229.3 169.5 228.4 168.4 227.5 165.6 226.6 160.3 225.7 149.7 225.5 139.8 225.7 129.8 226.6 118.8 227.5 113.3 228.4 110.4 229.3 109.2 230.2 109.5 231.1 111.4 232.2 116.2 232.9 122.3 233.2 126.2 233.6 139.8 233.3 152.4 232.9 157 232.2 162.4 231.1 167.5 230.2 169.2 229.3 169.5M324.9 169.6 324 168.5 323.1 165.9 322.2 160.9 321.3 150.5 321 139.8 321.3 128.9 322.2 118.2 323.1 113 324 110.3 324.9 109.2 325.8 109.6 326.7 111.6 327.7 116.2 328.8 126.2 329.2 139.8 328.8 152.4 328.6 156.2 327.8 162.4 326.7 167.2 325.8 169.1 324.9 169.6M420.5 169.6 419.6 168.7 418.7 166.2 417.8 161.4 416.9 151.9 416.6 139.8 416.9 127.7 417.8 117.6 418.7 112.7 419.6 110.1 420.5 109.2 421.5 109.7 422.4 111.8 423.3 116.2 424.3 126.2 424.7 139.8 424.4 152.4 423.4 162.4 422.4 167 421.5 169 420.5 169.6M111.8 345.7 110.9 344.9 110.1 343.4 109.1 340.6 108 336.2 107 329 106.2 320.8 105.6 310.9 105.3 300.9 105.3 290 105.5 279.2 106 268.3 106.7 259.3 107.6 252 109.1 244.8 110 243.2 110.9 242.2 111.8 241.7 112.7 241.5 113.6 241.9 114.5 242.7 115.7 244.8 116.7 249.3 117.6 255.6 118.4 263.8 119.1 275.2 119.4 286.4 119.5 298.2 119.3 308.1 118.8 317.2 118.2 325.5 117.3 332.9 116.1 338.9 115.5 341.4 114.5 343.7 113.6 345.1 112.7 345.8 111.8 345.7M207.4 345.7 206.5 344.9 205.7 343.4 204.7 340.9 203.6 336.2 202.5 329 201.7 320.8 201.1 310.9 200.9 300.9 200.8 290 201.1 279.1 201.6 268.3 202.2 260.2 203.2 252 203.8 248.4 204.7 244.6 205.6 243.1 206.5 242.2 207.4 241.6 208.3 241.5 209.3 241.9 210.2 242.8 211.2 244.8 212.1 248.4 213.2 255.6 214 263.8 214.7 275.5 215 286.4 215 298.2 214.8 308.1 214.4 317.2 213.8 324.7 212.9 332.4 211.9 338 211.1 341.1 210.2 343.5 209.3 345 208.3 345.7 207.4 345.7M303.1 345.8 302.2 345 301.2 343.5 300.3 341.1 299.2 336.2 298.1 329 297.3 320.8 296.7 310.9 296.4 300.9 296.4 290 296.6 278.3 297.1 268.3 297.8 260.2 298.7 252 299.4 248 300.3 244.5 301.2 243 302.2 242.1 303.1 241.6 304 241.6 304.9 242 305.8 242.9 306.8 244.8 307.6 248.4 308.7 255.6 309.5 263.8 310.2 275.5 310.5 286.4 310.6 298.2 310.4 308.5 309.9 317.2 309.4 324.4 308.4 332.6 307.2 338.9 305.8 343.4 304.9 344.9 304 345.7 303.1 345.8M398.7 345.8 397.8 345.1 396.9 343.7 396 341.4 394.7 336.2 393.6 329 392.9 321.7 392.3 311.8 392 300.9 392 290 392.2 279.2 392.6 269.2 393.2 260.9 394.3 252 395 247.6 396 244.3 396.9 242.9 397.8 242 398.7 241.6 399.6 241.6 400.5 242 401.4 243 402.3 244.8 403.2 248.8 404.3 255.6 405.1 263.6 405.7 274.6 406.1 285.5 406.1 298.2 405.9 307.2 405.5 317.2 404.9 324.4 404 332.6 402.8 338.9 401.4 343.2 400.5 344.8 399.6 345.7 398.7 345.8M132.8 194.1 131.8 192.8 131.2 191.4 130 187.1 129.1 182 128.2 174.6 127.5 166 127.1 157 126.8 146.1 126.8 135.2 127 124.4 127.4 114.4 128.2 104 129 97.2 130 91.3 130.9 87.7 131.8 85.3 132.8 83.9 133.7 83.2 134.6 83.3 135.5 84.2 136.4 85.8 137.3 88.5 138.1 91.8 139.2 98.1 140 106.4 140.8 118.9 141.2 131.6 141.2 144.3 141 157 140.4 166.9 139.7 176 138.6 184.1 137.3 189.8 136.4 192.3 135.5 193.8 134.6 194.6 133.7 194.7 132.8 194.1M228.4 194.2 227.5 192.9 226.8 191.4 225.7 187.4 224.7 182.5 223.8 175.3 223.1 166 222.7 157.9 222.4 147 222.3 136.1 222.9 115.5 223.6 105.4 224.4 98.1 225.7 90.9 226.6 87.5 227.5 85.2 228.4 83.8 229.3 83.2 230.2 83.4 231.1 84.3 232 86 232.9 88.7 233.6 91.8 234.8 98.5 235.7 107.3 236.4 118.9 236.7 130.7 236.8 144.3 236.5 156 235.9 167.8 235.1 176.9 234.1 184.1 232.9 189.6 232 192.2 231.1 193.7 230.2 194.5 229.3 194.7 228.4 194.2M324 194.2 323.1 193.1 322.3 191.4 321.3 187.7 320.4 183 319.5 176.1 318.7 166.9 318.2 157.9 317.9 147 317.9 136.1 318.1 125.3 318.5 114.1 319.3 104.4 320 98.1 321.2 90.9 322.2 87.3 323.1 85 324 83.7 324.9 83.2 325.8 83.4 326.7 84.4 327.7 86.2 328.6 89 329.4 92.7 330.4 99.1 331.3 108.3 332 119.8 332.3 131.6 332.3 144.3 332.1 156 331.5 167.8 330.6 177.8 329.7 184.1 328.6 189.3 327.5 192.3 326.7 193.6 325.8 194.5 324.9 194.7 324 194.2M419.6 194.3 418.7 193.2 417.9 191.4 416.9 188 416 183.4 415.1 176.7 414.3 167.8 413.8 158.8 413.5 147.9 413.4 136.1 413.6 125.3 414.1 114.4 414.7 105.4 415.5 98.1 416.8 90.9 417.8 87 418.7 84.9 419.6 83.7 420.5 83.2 421.5 83.5 422.4 84.5 423.3 86.4 424.2 89.3 424.9 92.7 426 99.7 426.9 109.3 427.5 119.8 427.9 131.6 427.9 144.3 427.6 156 427 167.8 426.1 177.8 425.2 184.1 424.2 189 423.1 192.3 422.4 193.5 421.5 194.4 420.5 194.7 419.6 194.3M111.8 355.4 110.9 354.7 110 353.3 109.1 351.2 108.4 348.9 107.3 344 106.1 336.2 105.3 327.1 104.6 314.5 104.2 301.8 104.2 289.1 104.5 275.5 105 263.8 105.7 253.8 106.7 244.8 107.9 241.1 109.1 238.6 110 237.3 110.9 236.4 111.8 235.8 112.7 235.5 113.6 235.6 114.5 236.1 115.5 237.1 116.4 238.8 117.4 242.1 118.3 246.6 119.3 256.5 120.1 269.2 120.5 283.7 120.5 299.1 120.3 310.9 119.8 321.7 119.1 331.9 118.2 339.8 117 346.2 115.5 351.8 114.5 353.7 113.6 354.9 112.7 355.4 111.8 355.4M207.4 355.4 206.5 354.7 205.6 353.4 204.7 351.4 203.9 348.9 202.9 344.3 201.7 336.2 200.8 327.1 200.2 315.6 199.8 302.7 199.8 289.1 200 275.5 200.5 263.8 201.2 253.8 202.3 244.8 203.4 241.1 204.7 238.5 205.6 237.2 206.5 236.3 207.4 235.7 208.3 235.5 209.3 235.6 210.2 236.2 211.1 237.2 211.7 238.4 212.9 241.7 213.8 246.3 214.8 256.5 215.6 269.9 216 284.6 216.1 299.1 215.8 311.8 215.3 322.6 214.7 331.7 213.6 340.7 212.4 347.1 211.1 351.6 210.2 353.6 209.3 354.8 208.3 355.4 207.4 355.4M303.1 355.4 302.2 354.8 301.2 353.6 300.3 351.6 299.5 348.9 298.4 344.3 297.2 336.2 296.4 327.1 295.7 315.4 295.4 302.7 295.3 289.1 295.6 275.5 296.1 263.8 296.7 254.7 297.8 244.8 299 241.1 300.3 238.4 301.2 237.1 302.2 236.2 303.1 235.7 304 235.5 304.9 235.7 305.8 236.3 306.7 237.4 307.3 238.4 308.5 241.9 309.4 246.9 310.4 256.5 311.2 270.1 311.6 284.6 311.6 299.1 311.4 311.8 310.9 322.6 310.2 331.7 309.1 340.7 307.9 347.1 306.7 351.4 305.8 353.4 304.9 354.7 304 355.4 303.1 355.4M398.7 355.4 397.8 354.9 396.9 353.7 396 351.8 395 349 393.8 343.4 392.8 336.2 391.9 327.1 391.3 315.4 390.9 302.7 390.9 289.1 391.1 276.5 391.6 264.7 392.3 254.1 393.4 244.8 394.6 241.1 396 238.3 396.9 237 397.8 236.2 398.7 235.7 399.6 235.5 400.5 235.7 401.4 236.3 402.3 237.5 403.2 239.3 404.3 243 405.1 247.5 406 257.4 406.8 271 407.1 284.6 407.2 299.1 406.9 311.8 406.4 322.6 405.8 331.7 404.7 340.7 403.5 347.1 402.3 351.2 401.4 353.3 400.5 354.7 399.6 355.4 398.7 355.4M62.6 329.6 61.7 328.6 61.3 327.1 60.8 325.6 60.2 321.7 59.6 314.5 59.4 305.4 59.7 297.3 60.3 291.8 60.8 289.3 61.5 287.3 61.7 286.8 62.6 286 63.5 286.6 63.8 287.3 64.5 288.8 65.1 291.8 65.8 298.2 66 305.4 65.8 314.5 65.2 321.7 64.4 326.2 63.5 328.8 62.6 329.6M158.3 329.6 157.3 328.7 156.8 327.1 156.4 326 155.7 321.7 155.1 314.5 154.9 305.4 155.2 298.2 155.9 291.8 156.4 289 157.1 287.3 157.3 286.7 158.3 286 159.2 286.7 159.4 287.3 160.1 289.1 160.6 291.8 161.3 297.3 161.6 305.4 161.4 314.5 160.7 321.7 160.1 325.8 159.7 327.1 159.2 328.7 158.3 329.6M253.9 329.6 253 328.9 252.1 326.3 251.3 321.7 250.7 314.5 250.4 305.4 250.7 298.2 251.4 291.8 252.1 288.7 252.6 287.3 253 286.6 253.9 286 254.8 286.8 255.7 289.4 256.2 291.8 256.8 297.3 257.1 305.4 256.9 314.5 256.3 321.7 255.7 325.5 255.2 327.1 254.8 328.5 253.9 329.6M348.6 329 347.7 326.6 346.7 320.8 346.1 312.7 346 303.6 346.4 296.4 347.1 290.9 347.7 288.5 348.6 286.5 349.5 286 350.4 287 351.2 289.1 352 293.7 352.6 300.9 352.7 309 352.2 318.1 351.3 325.1 350.4 328.4 349.5 329.5 348.6 329M132.8 203.4 131.8 202.4 130.9 200.7 129.6 196.8 128.4 190.4 127.4 182.3 126.6 172.3 126 161.5 125.7 148.8 125.7 135.2 125.9 121.6 126.4 109.5 127.2 98.1 128.1 90 129.1 83.4 130.5 78.2 131.8 75 132.8 73.8 133.7 73.3 134.6 73.3 135.5 74 136.4 75.3 137.3 77.4 138.2 80.4 138.9 83.6 140 90.5 141.1 100.8 141.9 114.2 142.3 128.9 142.3 144.3 142.1 158.8 141.5 171.4 140.7 182.3 139.5 191.4 138.2 197.1 137.3 199.8 136.4 201.7 135.5 203 134.6 203.6 133.7 203.8 132.8 203.4M228.4 203.4 227.5 202.5 226.6 200.9 225.2 196.8 223.9 190.4 222.9 182.4 222.1 171.4 221.6 161.5 221.3 148.8 221.2 135.2 221.5 121.6 222 109 222.7 98.1 223.6 90 224.7 83.1 226 78.2 227.5 74.8 228.4 73.7 229.3 73.3 230.2 73.4 231.1 74.1 232 75.5 232.9 77.6 234.5 83.6 235.7 91.1 236.6 100.8 237.4 114.4 237.8 128.9 237.9 144.3 237.6 158.8 237.1 171.4 236.2 182.3 235.1 191.4 233.8 196.8 232.9 199.6 232 201.6 231.1 202.9 230.2 203.6 229.3 203.8 228.4 203.4M324 203.5 323.1 202.6 322.2 201 320.8 196.8 319.5 190.5 318.5 183.2 317.7 172.3 317.1 161.5 316.8 148.8 316.8 135.2 317 121.6 317.5 109 318.3 98.1 319.2 90 320.4 82.7 321.6 78.2 322.2 76.5 323.1 74.7 324 73.7 324.9 73.2 325.8 73.4 326.7 74.2 327.7 75.6 328.6 77.8 329.5 81 330.2 84.5 331.3 91.7 332.3 101.7 333 115.3 333.4 128.9 333.5 144.3 333.2 158.8 332.6 171.4 331.8 182.3 330.6 191.4 329.5 196.6 328.6 199.4 327.7 201.4 326.7 202.8 325.8 203.6 324.9 203.8 324 203.5M419.6 203.5 418.7 202.7 417.8 201.2 416.6 197.7 415.1 191.4 414.2 183.9 413.3 173.1 412.7 162.4 412.4 148.8 412.3 135.2 412.6 121.6 413.1 109 413.8 98.1 414.7 90 416 82.4 417.1 78.2 417.8 76.3 418.7 74.6 419.6 73.6 420.5 73.2 421.5 73.5 422.4 74.3 423.3 75.8 424.2 78.1 425.8 84.5 426.9 92.3 427.8 102.1 428.6 115.3 428.9 128.9 429 144.3 428.7 158.7 428.2 171.4 427.3 182.3 426.2 191.4 425.1 196.3 424.2 199.2 423.3 201.3 422.4 202.7 421.5 203.5 420.5 203.8 419.6 203.5M88.1 169.3 87.2 168 86.9 166.9 86.3 164.2 85.8 159.7 85.1 150.6 84.9 139.8 85.2 128 85.8 118.9 86.3 114.8 87 111.7 87.2 110.8 88.1 109.5 89 110.4 89.7 112.6 90.6 118.9 91.3 128 91.5 139.8 91.3 150.6 90.7 159.7 89.7 166 89 168.4 88.1 169.3M183.8 169.3 182.8 168.2 182.3 166 181.9 164.6 181.3 159.7 180.7 150.6 180.4 139.8 180.7 128 181.4 118.9 181.9 114.3 182.6 111.7 182.8 110.6 183.8 109.5 184.7 110.6 185 111.7 185.6 114.1 186.2 118.9 186.8 128 187.1 139.8 186.9 150.6 186.2 159.7 185.3 166 184.7 168.2 183.8 169.3M279.4 169.3 278.5 168.4 277.8 166 276.8 159.7 276.2 150.6 276 139.8 276.3 128 276.9 118.9 277.6 113.9 277.9 112.6 278.5 110.4 279.4 109.5 280.3 110.7 280.5 111.7 281.2 114.6 281.7 118.9 282.4 128 282.6 139.8 282.4 150.6 281.8 159.7 281.2 164.4 280.6 166.9 280.3 168.1 279.4 169.3M375 169.2 374.1 168.5 373.2 165.4 372.4 159.7 371.8 150.6 371.5 139.8 371.8 128.9 372.5 118.9 373.4 112.6 374.1 110.3 375 109.5 375.9 111 376.8 115 377.3 118.9 377.9 128 378.2 139.8 377.9 151.5 377.3 159.7 376.8 163.9 376.2 166.9 375.9 167.9 375 169.2M111.8 368 110.9 367.4 110 366.3 109.1 364.6 107.7 360.6 106.3 354.3 104.9 343.4 103.9 331.7 103.3 317.2 103 300.9 103 282.8 103.7 259.3 104.4 246.6 104.9 243 106.3 237 108.2 232.6 109.1 231.2 110.9 229.2 112.7 228.1 113.6 227.9 114.5 228 115.6 228.5 116.5 229.4 117.6 231.2 118.2 233 119.1 236.5 120 243.1 120.9 255.6 121.5 270.1 121.8 287.3 121.7 304.5 121.4 319 120.8 331.7 120 342.3 118.9 351.6 117.3 359.8 116.4 362.8 115.5 365.1 114.5 366.6 113.6 367.6 112.7 368.1 111.8 368M207.4 368 206.5 367.5 205.6 366.4 204.7 364.8 203.3 360.6 201.7 353.4 200.4 343.4 199.4 330.8 198.8 317.2 198.5 300.9 198.6 282.8 199.2 258.9 200 246.6 200.5 243 202 236.8 203.8 232.5 204.7 231.1 206.5 229.1 208.3 228.1 209.3 227.9 210.2 228 211.1 228.5 212 229.3 213.1 231.2 213.8 233 214.7 236.6 215.5 243 216.4 255.6 217 270.1 217.3 287.3 217.3 304.5 217 319 216.4 331.7 215.6 341.6 214.4 351.6 212.9 359.5 212 362.6 211.1 364.9 210.2 366.5 209.3 367.6 208.3 368.1 207.4 368M303.1 368.1 302.2 367.6 301 366.1 299.7 363.4 298.8 360.6 297.3 353.4 296 343.4 295 330.8 294.4 317.2 294.1 300.9 294.1 282.8 294.8 258.3 295.6 245.7 296 243 297.6 236.6 299.4 232.4 300.3 231 302.2 229 304 228.1 304.9 227.9 305.8 228 306.7 228.5 307.6 229.3 308.7 231.2 309.4 233.3 310 235.7 311.1 243 312 255.6 312.6 270.1 312.9 287.3 312.8 304.5 312.5 319 311.9 331.7 311.2 341.6 310 351.6 308.5 359.2 307.6 362.4 306.7 364.7 305.8 366.4 304.9 367.5 304 368 303.1 368.1M398.7 368.1 397.8 367.6 396.5 366.1 395.3 363.4 394.4 360.6 392.8 353.4 391.5 343.4 390.5 330.8 389.9 317.2 389.6 300.9 389.7 282.8 390.4 258.3 391.1 246.6 391.6 243 392.3 239.5 393.2 236.4 395 232.2 396 230.9 397.8 229 399.6 228.1 400.5 227.9 401.4 228.1 402.3 228.5 403.2 229.4 404.2 231.2 405.1 233.5 405.8 236.6 406.7 243.9 407.6 256.5 408.2 271 408.4 287.3 408.4 304.5 408.1 319 407.5 331.7 406.6 342.5 405.5 351.6 404.2 358.9 403.2 362.2 402.3 364.6 401.4 366.3 400.5 367.4 399.6 368 398.7 368.1M61.7 348.3 60.8 346.8 59.9 344.1 59 339.9 58.1 333.2 57.2 319.9 56.9 302.7 57.4 290 58.1 283 58.7 279.2 59.7 274.6 60.7 271.9 61.7 270.4 62.6 269.9 63.5 270.2 64.5 271.4 65.4 273.5 66.3 276.8 67.2 282 67.8 288.2 68.2 294.6 68.5 309.9 68.3 319 67.8 327.1 67.2 334.3 66.3 340.6 65.4 344.6 64.5 347.1 63.5 348.4 62.6 348.9 61.7 348.3M157.3 348.4 156.4 347 155.5 344.4 154.6 340.3 153.7 333.9 152.7 319.9 152.5 302.7 153 290 153.5 283.7 154.2 279.2 155.2 274.6 156.2 271.9 157.3 270.3 158.3 269.9 159.2 270.3 160.1 271.5 161 273.7 161.9 277.1 162.8 282.6 163.8 294.6 164 309.9 163.8 319.9 163.4 327.1 162.8 333.6 161.9 340.2 161 344.3 160.1 346.9 159.2 348.4 158.3 348.9 157.3 348.4M253 348.5 252.1 347.1 251.2 344.7 250.2 340.7 249.3 334.5 248.3 320.8 248 302.7 248.5 290 249.1 283.7 249.8 279.2 250.8 274.6 251.8 271.9 253 270.2 253.9 269.9 254.8 270.4 255.7 271.7 256.6 273.9 257.5 277.5 258.3 281.9 258.9 287.3 259.3 294.3 259.6 309.9 259.4 319 259 326.2 258.4 332.9 257.5 339.7 256.6 344 255.7 346.7 254.8 348.3 253.9 348.8 253 348.5M348.6 348.5 347.7 347.3 346.8 344.9 345.9 341.1 345 335.2 344.3 328.1 343.9 320.8 343.6 302.7 344 290 344.7 283.7 345.3 279.2 345.9 276.3 346.9 272.8 347.7 271.2 348.6 270.2 349.5 269.9 350.4 270.5 351.3 271.8 352.2 274.2 353.2 277.9 353.8 281.9 354.5 288.2 355 295.5 355.1 309.9 354.5 326.2 354.1 332.2 353.2 339.3 352.2 343.7 351.3 346.6 350.4 348.2 349.5 348.8 348.6 348.5M132.8 215.2 131.8 214.5 130.9 213.3 130 211.5 129.1 209 127.6 202.2 126.4 193 125.5 181.4 124.8 166.9 124.5 151.5 124.4 134.3 124.6 118 125.2 102.6 126 90 127 80 128.2 72.4 129.1 68.6 130 65.9 130.9 63.9 131.8 62.5 132.8 61.6 133.7 61.2 134.6 61.3 135.5 61.8 136.4 62.8 137.3 64.3 138.2 66.4 139.1 69.4 140 73.5 141.2 80.9 142.3 92.7 143 107.2 143.5 125.3 143.6 145.2 143.4 161.5 142.8 176.9 141.9 190.7 141 198 140 203.2 139.1 207 138.2 209.8 137.3 212 136.4 213.5 135.5 214.6 134.6 215.2 133.7 215.4 132.8 215.2M228.4 215.2 227.5 214.6 226.6 213.5 225.7 211.7 224.7 209.2 223.2 202.2 222 193.7 221.1 182.3 220.4 167.8 220 151.5 220 134.3 220.2 118 220.7 102.6 221.5 90 222.5 80 223.8 72.1 224.7 68.4 225.7 65.7 226.6 63.7 227.5 62.4 228.4 61.6 229.3 61.2 230.2 61.3 231.1 61.9 232 62.9 232.9 64.4 233.8 66.7 234.8 69.7 235.6 73.7 236.7 80.9 237.8 92.7 238.6 107.2 239.1 125.3 239.2 145.2 238.9 161.5 238.4 176 237.5 189.8 236.6 197.5 235.7 202.8 234.8 206.7 233.8 209.6 232.9 211.8 232 213.4 231.1 214.5 230.2 215.2 229.3 215.4 228.4 215.2M324 215.3 323.1 214.7 322.2 213.6 321.3 211.9 320.4 209.5 319.5 206.1 318.7 202.2 317.6 194.1 316.6 182.3 315.9 167.8 315.6 151.5 315.5 134.3 315.8 117.1 316.3 102.6 317.1 90 318.1 80 319.5 71.7 320.4 68.1 321.3 65.5 322.2 63.6 323.1 62.3 324 61.5 324.9 61.2 325.8 61.3 326.7 61.9 327.7 63 328.6 64.6 329.5 66.9 330.4 70 331.2 73.7 332.4 81.8 333.4 93.6 334.2 108.1 334.6 126.2 334.7 145.2 334.5 161.5 334 176 333.1 189 332.1 197.7 331.3 202.4 330.4 206.4 329.5 209.4 328.6 211.6 327.7 213.3 326.7 214.4 325.8 215.1 324.9 215.4 324 215.3M419.6 215.3 418.7 214.7 417.8 213.7 416.9 212.1 416 209.7 415.1 206.4 414.3 202.2 413.2 194.1 412.2 182.3 411.5 167.8 411.1 151.5 411.1 134.3 411.3 117.1 411.8 102.6 412.5 90.9 413.6 80 415.1 71.4 416 67.9 416.8 65.5 417.8 63.5 418.7 62.2 419.6 61.5 420.5 61.2 421.5 61.4 422.4 62 423.3 63.1 424.2 64.7 425.1 67.1 426.7 73.7 427.9 81.8 429 93.6 429.7 108.1 430.2 126.2 430.3 145.2 430 161.5 429.5 176 428.7 188.6 427.7 197.7 426 206.1 425.1 209.2 424.2 211.5 423.3 213.2 422.4 214.4 421.5 215.1 420.5 215.4 419.6 215.3M87.2 191.7 86.7 191.4 86.3 190.4 85.4 187.1 84.5 181.7 83.6 173.2 82.7 156 82.5 134.3 83 114.4 83.6 105.4 84.3 98.1 85.4 91.2 86.3 87.9 87.2 85.9 88.1 85.3 89 85.7 90 87.4 90.9 90.4 91.8 95.4 92.7 103.3 93.7 121.6 94 145.2 93.7 157 93.3 166 92.7 175.3 91.8 183 90.9 187.9 90 190.9 89.7 191.4 89 191.8 88.1 191.9 87.2 191.7M182.8 191.7 182.3 191.4 181.9 190.7 181 187.4 180.1 182.3 179.2 174.1 178.2 156 178 134.3 178.6 114.4 179.2 104.5 179.9 98.1 181 90.9 181.9 87.6 182.8 85.8 183.8 85.2 184.7 85.8 185.6 87.6 186.5 90.8 187.4 95.9 188.3 103.5 189.3 121.6 189.5 145.2 189.3 157 188.9 166 188.3 174.4 187.4 182.5 186.5 187.5 185.6 190.7 185.3 191.4 184.7 191.7 183.8 191.9 182.8 191.7M278.5 191.7 277.8 191.4 277.6 190.9 276.7 187.7 275.7 182.8 274.8 174.9 273.8 157 273.6 135.2 274.1 115.3 274.7 105.4 275.3 99 276.1 93.6 277.1 89.1 277.6 87.4 278.5 85.7 279.4 85.2 280.3 85.9 281.2 87.8 282.1 91.1 283 96.4 283.8 103.5 284.8 122.1 285.1 145.2 284.9 157 284.4 166 283.9 173.6 283 181.9 282.1 187.2 281.2 190.5 280.8 191.4 280.3 191.7 279.4 191.9 278.5 191.7M374.1 191.8 373.4 191.4 373.2 191 372.3 188.1 371.4 183.3 370.5 175.8 369.8 166.9 369.4 157.9 369.1 135.2 369.6 116.2 370.2 106.3 370.9 99 371.5 94.5 372.6 89.1 373.2 87.3 374.1 85.7 375 85.3 375.9 86 376.8 88 377.7 91.5 378.7 97 379.3 103.5 380 112.6 380.4 123.5 380.6 145.2 380.5 155.1 380 166 379.6 172.6 378.7 181.4 377.7 186.9 376.8 190.3 376.4 191.4 375.9 191.7 375 191.9 374.1 191.8M56.3 370.6 55.3 362.8 54.7 354.3 54.1 343.4 53.7 330.8 53.5 299.1 53.7 285.5 54.1 273.7 54.6 265.6 55.3 258.3 56.3 252 57.4 246.6 58 244.8 59 243.9 60.8 243.1 62.6 242.9 65.4 243.5 67.2 244.6 67.4 244.8 68.1 247.1 69 251.3 69.9 257.4 70.7 264.7 71.2 273.7 71.7 285.5 71.9 299.1 71.7 330.8 70.8 353.4 70 363.4 69.1 370.6M102.7 370.6 101.9 358.8 101.3 345.3 100.7 309.9 100.7 284.6 100.9 260.2 101.2 244.8 101.8 236.6 102.4 231.2 103.3 226.7 104.5 223.1 106 220.3 107.4 218.5 109.1 217 116 212.2 120 208.6 120.9 208 121.8 204.3 122.3 198.6 122.7 191.4 122.1 151.5 122.3 105.4 122.8 80.9 123.8 63.7 124.3 57.4 125.1 51.9 126.1 47.4 127.3 44 128.4 42 130 40 131.8 38.9 132.8 38.6 134.6 38.5 136.4 39 138.2 40.2 140 42.6 141.4 45.6 142.4 49.2 143.2 53.8 143.9 59.2 144.5 66.4 145.4 89.1 145.9 123.5 145.9 163.3 145.2 195 144.6 207.7 143.7 217.6 142.8 222.1 141.2 225.8 140 227.4 138.2 229 136.4 230 134.6 230.6 132.8 231 130.9 231.1 129.1 230.9 128.2 230.6 127.3 230 126.6 229.4 125.5 227.3 124.9 228.5 124.5 230.3 123.9 235.7 123.5 244.8 124.1 285.5 123.8 328.1 123.1 352.5 122 370.6M151.8 370.6 151 363.4 150.2 353.4 149.3 330.8 149 299.1 149.3 285.5 149.7 273.7 150.2 265.6 151 257.7 151.9 251.5 152.8 247.3 153.6 244.8 154.6 243.9 156.4 243.1 158.3 242.9 160.1 243.2 161.9 244 162.9 244.8 163.5 246.6 164.6 251.7 165.5 257.9 166.3 265.6 166.8 273.7 167.2 285.5 167.5 299.1 167.2 330.8 166.3 353.4 165.5 363.3 164.6 370.6M198.3 370.6 197.5 359.7 196.9 346.2 196.3 309.9 196.2 284.6 196.4 261.1 196.8 244.8 197.3 236.6 198 231.2 198.9 226.7 200.1 223 201.5 220.3 203.8 217.6 211.5 212.2 216.5 207.8 217.3 204.9 217.8 199.5 218.2 191.4 217.6 151.5 217.9 104.4 218.4 80 219.3 63.7 220 56.5 220.8 51 221.9 46.5 222.9 43.8 223.9 42 225.7 40 227.5 38.9 228.4 38.6 230.2 38.5 232 39 233.8 40.3 235.7 42.7 236.9 45.6 237.9 49.2 238.8 53.8 239.4 59.2 240 66.4 241 89.1 241.5 123.5 241.4 163.3 240.8 195 240.2 207.7 239.3 217.6 238.3 222.1 236.8 225.8 235.7 227.3 233.8 228.9 232 229.9 230.2 230.6 226.6 231.1 224.7 230.9 223.8 230.6 222.9 230.1 222.2 229.4 221.1 227.5 220.2 229.2 220 230.3 219.4 236.6 219.1 244.8 219.6 285.5 219.4 328.1 218.7 352.5 217.6 370.6M247.4 370.6 246.5 363.4 245.7 353.4 244.8 330.8 244.6 299.1 244.8 285.5 245.2 273.7 245.8 264.7 246.6 257.4 247.5 251.1 248.4 247 249.1 244.8 250.2 243.9 252.1 243 253.9 242.9 255.7 243.2 257.5 244.1 258.5 244.8 259 246.6 260.3 252.1 261.1 258.3 261.8 265.6 262.4 273.7 262.8 285.5 263 299.1 262.8 330.8 262.4 343.4 261.8 354.3 261.2 362.5 260.2 370.6M293.8 370.6 293 359.2 292.5 346.2 291.8 310.9 291.8 285.5 292 261.1 292.3 244.8 292.9 236.6 293.5 231.2 294.4 226.7 295.3 223.9 296.7 221 297.7 219.4 299.4 217.6 307.1 212.2 312.2 207.7 312.8 204.9 313.4 199.5 313.8 191.4 313.2 151.5 313.4 104.4 313.9 81.8 314.8 64.6 315.4 58.3 316.1 52.8 317 48.3 318.1 44.7 319.5 42 321.3 39.9 323.1 38.8 324.9 38.5 326.7 38.7 327.7 39.1 329.3 40.2 330.8 42 332.2 44.9 333.3 48.3 334.2 52.8 334.9 58.3 335.4 64.6 336.5 86.3 337 119.8 337 159.7 336.4 193.2 335.8 206.7 334.8 217.6 333.9 222.1 332.3 225.8 331.3 227.2 330.4 228.2 328.6 229.5 325.8 230.6 323.1 231.1 321.3 231.1 319.5 230.7 318.5 230.2 317.7 229.4 316.7 227.6 315.8 228.9 315.5 231.2 315 236.6 314.7 244.8 315.2 285.5 314.9 327.1 314.3 351.6 313.1 370.6M342.9 370.6 342.1 363.4 341.3 354.2 340.8 343.4 340.4 329.9 340.1 298.2 340.4 284.6 340.8 272.8 341.4 264.7 342.1 257.4 343.1 251.1 344 246.7 344.7 244.8 345.9 243.8 347.7 243 349.5 242.9 352.2 243.6 354 244.8 354.8 247.5 355.9 252.6 356.8 259.2 357.9 274.6 358.4 286.4 358.6 300 358.3 331.7 357.4 354.3 356.7 362.5 355.7 370.6M389.4 370.6 388.6 359.7 388 346.2 387.4 310.9 387.3 285.5 387.5 261.1 387.9 244.8 388.4 236.6 389.1 231.2 390 226.7 391.2 223 392.3 220.8 393.3 219.4 395 217.5 402.6 212.2 406.7 208.6 407.8 207.5 408.4 204.9 408.9 199.5 409.3 191.4 408.8 151.5 409 104.4 409.5 81.8 410.3 64.6 410.9 58.3 411.6 52.8 412.5 48.3 413.7 44.7 415.1 41.9 416.5 40.2 417.8 39.2 418.7 38.8 420.5 38.5 422.4 38.7 423.6 39.3 424.8 40.2 426.3 42 427.7 44.7 428.7 48 429.7 52.5 430.4 58.3 431 64.6 432 86.3 432.5 119.8 432.5 159.7 432 193.2 431.3 206.7 430.4 217.6 429.4 222.1 427.9 225.8 426 228.1 424.3 229.4 422.4 230.2 419.6 231 416.9 231.1 415.1 230.7 414.2 230.2 413.3 229.4 412.4 227.8 411.4 228.5 411 231.2 410.5 236.7 410.2 244.8 410.7 285.5 410.5 328.1 409.8 352.5 408.7 370.6M89 204.1 87.2 203.6 86.3 203.1 84.5 201.6 83.6 200.6 82.7 199.2 81.5 196.8 80.5 194.1 79.8 191.4 79.3 173.2 79.1 151.5 79.1 125.3 79.4 101.7 80 83.6 80.8 69.5 81.9 60.1 82.7 55.8 83.6 52.3 84.5 50 85.4 48.3 86.3 47.3 87.2 46.7 88.1 46.4 89 46.6 90 47.1 90.9 48.1 91.8 49.6 92.7 51.8 94.1 57.4 95.1 64.6 96 75.5 96.7 89.1 97.1 106.3 97.4 128 97.3 162.4 96.6 191.4 95.4 197.7 94.8 199.5 94 201.3 92.7 202.9 91.8 203.5 90.9 203.9 89 204.1M184.7 204.1 182.8 203.6 181.9 203.2 180.1 201.7 179.2 200.7 178.3 199.3 177.1 196.8 176.1 194.1 175.4 191.4 174.9 173.2 174.6 151.5 174.6 125.3 175 100.8 175.6 82.7 176.5 68.6 177.6 59.2 178.3 55.5 179.2 52.1 180.1 49.8 181 48.2 181.9 47.2 182.8 46.6 183.8 46.4 184.7 46.6 185.8 47.4 187.1 49.2 187.9 51 189.4 56.5 190.7 64.6 191.6 75.5 192.2 89.1 192.7 106.3 192.9 128 192.8 162.4 192.2 191.4 191 197.5 190.4 199.5 189.5 201.3 188.3 202.8 187.4 203.5 186.5 203.9 184.7 204.1M280.3 204.1 278.5 203.7 277.6 203.2 276.2 202.2 274.8 200.8 273.9 199.4 272.6 196.8 271.6 194.1 270.9 191.4 270.4 173.2 270.2 151.5 270.2 125.3 270.5 100.8 271.2 81.8 272.1 68.2 273.2 59.2 273.9 55.2 274.8 51.9 275.7 49.6 276.7 48.1 277.6 47.1 278.5 46.6 279.4 46.4 280.3 46.7 281.4 47.4 282.1 48.3 283.5 51 285 56.5 286.2 64.6 287.1 75.5 287.8 89.1 288.3 107.2 288.5 128 288.4 162.4 287.7 191.4 286.7 197.2 285.9 199.5 285.1 201.3 283.9 202.8 283 203.5 282.1 203.9 280.3 204.1M375.9 204.1 374.1 203.7 373.2 203.3 371.8 202.2 370.5 200.8 369.5 199.5 368.2 196.8 367.2 194.1 366.5 191.4 366 173.2 365.7 151.5 365.7 125.3 366.1 100.8 366.7 81.8 367.6 68.2 368.7 59.2 369.5 54.8 370.5 51.7 371.4 49.5 372.3 48 373.2 47.1 374.1 46.6 375 46.4 375.9 46.7 376.9 47.4 377.7 48.4 379 51 380.5 56 381.8 64.6 382.7 75.5 383.3 89.1 383.8 107.2 384 128 383.9 162.4 383.3 191.4 382.3 196.9 381.5 199.5 380.6 201.3 379.6 202.7 378.7 203.4 377.7 203.9 375.9 204.1M99.4 370.6 99.4 243 99.6 224.9 100 217.6 100.3 215.8 100.7 214.9 101.8 213.6 102.8 213.1 108.2 211 110.9 209.6 113.6 207.6 115.5 205.7 117.3 202.9 118.7 199.5 119.8 195.9 120.8 191.4 120.8 28.4 120 27.5 100 27.5 99.1 28.4 99.1 191.4 99 202.2 98.7 206.7 98.3 208.6 97.9 209.5 97.2 210.2 96.3 210.7 93.6 211 90 210.4 87.2 209.4 84.5 207.9 82.3 205.8 80.5 203.1 79.3 200.4 78.3 196.8 77.3 191.4 77.2 27.5 52.6 27.5 51.7 28.4 51.7 235.7 60.8 236.4 64.5 237.1 67.2 237.9 69 238.7 71 240.2 72.5 242.1 73.6 244.5 73.6 370.6M147.3 370.6 147.3 235.9 151.9 236 156.4 236.4 160.1 237.1 162.8 237.9 164.6 238.8 166.6 240.2 168 242.1 169.2 244.7 169.2 370.6M194.9 370.6 194.9 244.8 195.1 226.7 195.5 218.5 195.9 215.8 196.2 214.9 196.9 214 198.4 213.1 203.8 211 206.5 209.6 209.3 207.5 211.1 205.6 212.9 202.7 214.3 199.5 215.4 195.9 216.3 191.4 216.3 28.4 215.6 27.5 195.6 27.5 194.7 28.4 194.7 191.4 194.6 201.3 194.3 206.7 193.5 209.5 192.9 210.2 192 210.7 190.1 211 186.5 210.6 182.8 209.5 180.1 207.9 177.8 205.8 176 203.1 174.8 200.4 173.6 195.9 172.8 191.4 172.8 28.4 171.9 27.5 147.3 27.5 147.3 234.8 146.4 235.6 141.9 235.8 138.2 236.3 134.6 237.1 131.8 238 130 239 128.2 240.4 126.8 242.1 125.5 244.6 125.4 370.6M242.8 370.6 243 235.9 247.5 236 252.1 236.4 255.7 237.1 258.4 238 260.3 238.8 262.2 240.2 263.6 242.1 264.7 244.8 264.8 370.6M290.5 370.6 290.5 244.8 290.6 226.7 291 218.5 291.5 215.8 291.8 214.9 292.5 214 293.9 213.1 299.4 211 302.2 209.6 304.9 207.5 306.7 205.5 308.5 202.6 309.9 199.5 310.9 195.9 311.8 191.4 311.8 28.4 311.3 27.5 290.3 27.5 290.3 191.4 290.1 202.2 289.8 206.7 289 209.5 288.5 210.1 287.6 210.7 286.7 210.9 284.8 211 281.2 210.4 278.5 209.5 275.7 208 273.4 205.8 271.6 203.1 270.4 200.4 269.2 195.9 268.4 191.4 268.4 28.4 267.5 27.5 243 27.5 242.8 28.4 242.8 234.8 242 235.6 237.5 235.8 233.8 236.3 230.2 237 227.5 238 225.7 238.9 223.8 240.3 222.3 242.1 221.1 244.4 221 370.6M338.4 370.6 338.4 241.1 338.4 236.6 338.6 235.9 343.1 236 347.7 236.5 351.3 237.1 354.1 238 355.9 238.9 357.7 240.2 359.1 242.1 360.2 244.8 360.3 370.6M386 370.6 386 243.9 386.2 225.8 386.5 218.5 387 215.8 387.4 214.9 388 214 389.4 213.1 395 210.9 397.8 209.5 400.5 207.4 402.3 205.4 404.2 202.5 405.4 199.5 406.5 195.9 407.4 191.4 407.4 28.4 406.9 27.5 385.9 27.5 385.8 191.4 385.7 202.2 385.4 206.7 384.6 209.5 384.1 210 383.2 210.6 382.3 210.9 380.5 211 376.8 210.5 374.1 209.5 371.4 208 369 205.8 367.1 203.1 366 200.4 364.7 195.9 364 191.4 364 28.4 363.2 27.5 338.6 27.5 338.4 28.4 338.3 234.8 337.7 235.6 333.1 235.8 329.5 236.2 325.8 237 323.1 237.9 321.3 238.9 319.4 240.2 317.9 242.1 316.7 244.2 316.5 370.6M433.3 235.6 428.7 235.8 425.1 236.2 421.5 237 418.7 237.9 416.1 239.3 414.2 241.1 412.9 243 412.4 244.1 412.2 244.8 412.1 370.6M96.1 370.6 96.9 358.8 97.5 345.3 98.1 309.9 98.1 283.7 97.9 259.3 97.6 244.8 97 234.8 96.3 229.4 95.4 225.1 94.4 222.1 92.7 219.2 91.1 217.6 89 216.3 81.8 213 79 212 78.1 212 77.2 212.8 76.3 211.3 76.2 210.4 75.7 204 75.4 191.4 76 154.2 75.9 109.9 75.3 83.6 74.5 65.5 73.9 58.3 73.2 52.8 72.3 48.3 71.3 44.7 69.9 41.9 68.1 39.8 66.3 38.8 64.5 38.5 62.6 38.8 60.8 39.9 59 42 57.7 44.7 56.6 48.3 55.7 52.8 55.1 58.3 54.4 65.5 53.9 76.4 53.5 89.1 53 122.6 53.1 164.2 53.7 195.9 54.3 208.6 55.2 218.5 56.3 223 57.2 225.3 58.1 226.8 59.9 228.7 61.7 229.8 64.5 230.6 67.2 230.8 69 230.5 69.9 230.1 70.8 229.4 71.7 228.5 72.6 226.6 73.6 223.3 74.5 223.7 74.8 225.8 75.2 232.1 75.5 244.8 75 283.7 75.2 325.3 75.8 351.6 77 370.6M142.7 370.6 143.7 362.5 144.3 354.3 144.9 343.4 145.2 330.8 145.5 299.1 145.3 285.5 144.8 273.7 144.3 265.6 143.6 258.3 142.8 252.3 141.5 246.6 141 244.8 140 243.9 138.2 243.1 136.4 242.9 133.7 243.5 131.8 244.6 131.6 244.8 130.9 247 130 251.2 129.1 257.4 128.4 264.7 127.8 273.7 127.3 285.5 127.1 299.1 127.4 330.8 128.2 353.4 129 363.4 129.9 370.6M191.6 370.6 192.5 358.8 193 345.3 193.6 309 193.7 282.8 193.4 258.3 193.2 244.8 192.5 234.8 191.9 229.4 190.9 224.9 189.5 221.2 187.7 218.5 186.5 217.5 183.8 215.8 176.5 212.7 174.6 212 173.7 211.9 172.8 212.7 171.9 211.4 171.7 210.4 171.2 204 171 191.4 171.5 154.2 171.4 109.9 170.9 83.6 170.1 65.5 169.5 58.3 168.8 52.8 167.9 48.3 166.8 44.7 165.5 42 163.7 39.9 161.9 38.8 160.1 38.5 158.3 38.8 156.4 39.8 154.6 41.9 153.3 44.7 152.2 48.3 151.3 52.8 150.6 58.3 150 65.5 149.5 75.5 149 89.1 148.6 122.6 148.6 164.2 149.2 195.9 149.9 208.6 150.7 218.5 151.9 223.2 152.8 225.4 153.7 226.9 155.5 228.8 157.3 229.8 160.1 230.7 162.8 230.8 164.6 230.5 165.5 230 166.5 229.4 167.2 228.5 168.3 226.4 169.2 222.9 170.1 224 170.4 225.8 170.8 232.1 171 244.8 170.5 283.7 170.7 325.3 171.4 351.6 172.5 370.6M238.2 370.6 239.2 362.5 239.8 354.3 240.8 331.7 241 300 240.8 286.4 240.4 274.6 239.3 259.3 238.4 252.7 237.3 247.5 236.5 244.8 235.7 244 233.8 243.1 232 242.9 229.3 243.5 227.5 244.5 227.2 244.8 226.6 246.8 225.6 251.1 224.6 257.4 223.9 264.7 223.4 272.8 222.9 284.6 222.7 298.2 222.9 329.9 223.3 342.5 223.8 353.9 224.6 363.4 225.5 370.6M287.2 370.6 288 358.8 288.6 345.3 289.2 309 289.2 282.8 289 258.3 288.7 244.8 288.1 234.8 287.4 229.4 286.5 224.9 285.1 221.2 283.2 218.5 281.2 216.9 279.4 215.9 272.1 212.7 270.3 212.1 269.4 211.9 268.5 212.5 267.5 211.7 267.3 210.4 266.8 204 266.5 191.4 267.1 154.2 267 109.9 266.5 83.6 265.6 65.5 265 58.3 264.3 52.8 263.5 48.3 262.4 44.7 261.2 42.2 259.3 39.9 257.5 38.8 255.7 38.5 253.9 38.7 252.1 39.7 250.2 41.8 248.8 44.7 247.7 48.3 246.9 52.8 245.6 64.6 245.1 74.6 244.6 87.2 244.1 120.7 244.1 162.4 244.8 195 245.4 208.6 246.3 218.5 247.5 223.4 249.1 226.7 250.7 228.5 253 229.9 255.7 230.7 258.4 230.8 260.3 230.4 261.2 230 262.1 229.3 262.8 228.5 263.9 226.2 264.8 222.6 265.6 223.9 265.9 225.8 266.3 232.1 266.6 244.8 266.1 283.7 266.3 325.3 266.9 351.6 268.1 370.6M333.8 370.6 334.7 363.4 335.4 354.3 336.3 331.7 336.6 300 336.4 286.4 336 274.6 334.8 259.3 334 253.2 332.9 247.5 332.1 244.8 331.3 244 329.5 243.1 327.7 242.9 324.9 243.4 323.1 244.5 322.7 244.8 322.2 246.5 321.2 251.1 320.2 257.4 319.5 264.7 318.9 272.8 318.5 284.6 318.2 298.2 318.4 329.9 318.8 343.4 319.4 354.3 320.1 363.4 321 370.6M382.8 370.6 383.6 358.8 384.1 345.3 384.8 309 384.8 282.8 384.5 258.3 384.3 244.8 383.6 234.8 383 229.4 382 224.9 380.6 221.2 378.8 218.5 376.8 217 375 215.9 368.6 213.1 365.9 212.1 365 211.9 364.1 212.4 363.5 212.2 363.2 211.9 362.8 210.4 362.3 204 362.1 191.4 362.6 154.2 362.5 109.9 362 83.6 361.2 65.5 360.6 58.3 359.9 52.8 359 48.3 357.9 44.7 356.8 42.3 355 40 353.2 38.9 351.3 38.5 349.5 38.7 348.6 39.1 347.1 40.2 345.7 42 344.4 44.7 343.3 48.3 342.4 52.8 341.2 64.6 340.2 87.2 339.7 120.7 339.7 162.4 340.3 195 341 208.6 341.9 218.5 343.1 223.6 344.7 226.7 346.3 228.5 348.6 229.9 351.3 230.7 354.1 230.8 355.9 230.4 356.8 230 358.3 228.5 359.5 225.9 360.4 222.5 361.1 223.9 361.5 225.8 361.9 232.1 362.1 244.8 361.6 283.7 361.8 325.3 362.5 351.6 363.6 370.6M429.3 370.6 430.2 363.4 431 354.3 431.9 331.7 432.1 300 431.9 286.4 431.5 274.6 430.4 259.3 429.5 252.9 428.4 247.5 427.6 244.8 426.9 244.1 425.1 243.1 423.3 242.9 421.5 243.1 419.6 243.8 418.3 244.8 417.8 246.2 416.9 250.2 415.9 256.5 415.1 263.8 414.5 272.8 414 284.6 413.8 298.2 414 329.9 414.4 343.4 415 354.3 415.7 363.4 416.6 370.6M106.3 204 107.3 204.4 109.1 204.4 110.9 203.7 111.8 203.2 113.6 201.5 114.5 200.3 116.4 197 117.3 194.7 118.2 191.4 118.6 177.8 119 149.7 118.9 118 118.4 92.7 117.6 73.7 116.4 61.2 115.5 55.9 114.7 52.8 113.6 49.9 112.7 48.3 111.8 47.2 110.9 46.6 110 46.4 109.1 46.6 108.2 47.2 107.3 48.2 106.3 49.8 105 53.8 103.9 59.2 103 66.4 102.3 75.5 101.3 99.9 101 122.6 100.9 148.8 101.2 172.3 101.7 191.4 102.5 196.8 103.5 200.4 104.5 202.4 105.4 203.5 106.3 204M201.8 204 202.9 204.4 204.7 204.4 206.5 203.7 207.4 203.1 208.5 202.2 210 200.4 211.6 197.7 212.9 194.5 213.8 191.4 214.2 178.7 214.6 150.6 214.5 119.8 214 93.6 213.2 74.6 212 61.8 211.1 56.5 210.5 53.8 209.3 50.1 208.3 48.4 207.4 47.3 206.5 46.7 205.6 46.4 204.7 46.6 203.8 47.1 202.9 48.1 202 49.7 200.6 53.8 199.4 59.2 198.5 66.4 197.9 74.6 197.3 85.4 196.9 99 196.5 121.6 196.5 147.9 196.7 171.4 197.3 191.4 198.1 196.8 199.1 200.4 200.2 202.5 201.1 203.5 201.8 204M297.4 204 298.5 204.4 299.4 204.5 300.3 204.4 302.2 203.7 304 202.3 304.9 201.3 305.8 200.1 307.2 197.7 308.5 194.2 309.3 191.4 309.7 178.7 310.1 150.6 310.1 119.8 309.6 93.6 308.7 74.6 307.6 61.9 306.7 56.6 305.8 52.8 304.9 50.2 304 48.5 303.1 47.4 302.2 46.7 301.2 46.4 300.3 46.6 299.4 47.1 298.5 48 297.6 49.5 296.1 53.8 295 59.2 294.1 66.4 293.4 74.6 292.9 85.4 292.4 99 292.1 122.6 292 147.9 292.3 171.4 292.8 191.4 293.6 196.8 294.6 200.4 295.8 202.6 296.7 203.6 297.4 204M393 204 394.1 204.4 395 204.5 396 204.4 397.8 203.6 399.6 202.2 400.5 201.2 402.3 198.5 403.8 195 404.9 191.4 405.3 179.6 405.7 151.5 405.6 120.7 405.1 94.5 404.3 74.6 403.1 61.9 402.3 57 401.4 53.1 400.5 50.4 399.6 48.6 398.7 47.4 397.8 46.7 396.9 46.5 396 46.5 395 47 394.1 47.9 393.2 49.4 391.9 52.8 390.7 58.3 389.7 65.5 389 73.7 388.5 84.5 388 98.1 387.6 120.7 387.6 147 387.8 171.4 388.4 191.4 389.2 196.8 390.2 200.4 391.4 202.7 393 204M85.8 367.9 86.3 368.1 87.2 368 88.1 367.3 89 366.1 90 364.3 90.9 361.7 91.8 358.2 93.4 348.9 94.5 337.7 95.3 324.4 95.8 309 95.9 291.8 95.4 264.7 94.8 252 94.1 243.9 92.7 237.4 91.8 234.7 90.9 232.7 89.9 231.2 88.1 229.3 87.2 228.8 85.4 228.4 84.5 228.6 83.2 229.4 82.4 230.3 81.4 232.1 80.8 233.9 79.9 237.1 79 242.9 78.2 253.8 77.6 266.5 77.3 281.9 77.2 297.3 77.4 312.7 77.9 326.2 78.6 338 79.6 348 80.8 356 82.5 362.5 83.6 365.2 84.5 366.8 85.4 367.7 85.8 367.9M181.4 367.9 181.9 368.1 182.8 367.9 183.8 367.2 184.7 366 185.6 364.1 186.5 361.4 187.4 357.9 188.9 348.9 190.1 337.1 190.8 324.4 191.3 309 191.4 291.8 190.9 264.7 190.3 252 189.7 243.9 188.3 237.6 187.4 234.9 186.5 232.9 185.5 231.2 183.8 229.4 182.8 228.8 181 228.4 180.1 228.5 178.8 229.4 178 230.3 177 232.1 175.6 236.8 174.6 242.3 173.8 252.9 173.2 265.6 172.8 281 172.7 296.4 172.9 311.8 173.4 325.3 174.1 337.1 175 347.1 176.4 356.1 177.7 361.5 179.2 365.4 180.1 366.9 181.4 367.9M276.9 367.9 277.6 368.1 278.5 367.9 279.4 367.2 280.3 365.8 281.2 363.9 282.1 361.2 283 357.5 284.3 349.8 285.5 338.9 286.4 325.3 286.8 309.9 287 292.7 286.6 266.5 286 254.7 285.4 244.8 283.9 237.9 283 235.1 282.1 233 281 231.2 279.4 229.4 278.5 228.8 276.7 228.4 275.7 228.5 274.8 229 273.9 229.8 273 231.2 272.1 233.2 271.4 235.7 270.2 242.1 269.4 252 268.8 264.7 268.4 279.2 268.3 295.5 268.5 310.4 268.9 324.4 269.6 336.2 270.5 346.2 271.6 354.3 273 360.6 273.9 363.5 274.8 365.5 275.7 367 276.9 367.9M372.4 367.9 373.2 368.1 374.1 367.9 375 367.1 375.9 365.7 376.8 363.7 377.7 360.9 378.7 357.2 379.9 349.8 381.1 338.9 381.9 326.2 382.4 310.9 382.5 293.7 382.1 266.5 381.6 254.7 380.9 244.8 379.6 238.2 378.7 235.3 377.7 233.2 376.6 231.2 375 229.5 374.1 228.9 372.3 228.4 371.4 228.5 370.5 228.9 369.5 229.7 368.5 231.2 367.7 233 366.8 236.1 365.8 242.1 365 251.4 364.4 264.7 364 279.2 363.9 295.5 364 310.9 364.5 324.4 365.1 335.3 366 346.2 367.2 354.3 368.6 360.9 369.5 363.7 370.5 365.7 371.4 367.1 372.4 367.9M135.1 348 135.5 348.5 136.4 348.8 137.3 348.3 137.5 348 138.2 346.7 139.1 344 140 339.8 140.9 333.5 141.3 328.1 141.8 319.9 142 311.8 141.9 295.5 140.9 282.8 140 277.6 139.1 274 138.2 271.7 137.3 270.4 136.4 269.9 135.5 270.2 134.6 271.3 133.7 273.4 132.5 278.3 131.8 281.9 131.1 289.1 130.5 301.8 130.8 319 131.7 333.5 132.6 339.8 133.4 343.4 134.6 347.1 135.1 348M230.7 348 231.1 348.5 232 348.8 232.9 348.2 233.8 346.5 234.3 345.3 235.4 340.7 236.2 335.3 236.8 329 237.3 320.8 237.6 312.7 237.5 296.7 236.5 283.7 235.7 278 234.8 274.2 233.8 271.8 232.9 270.5 232 269.9 231.1 270.2 230.2 271.2 229.3 273.2 228 278.3 227.3 282.8 226.6 289.1 226.1 301.8 226.3 318.1 226.6 325.3 227.2 332.6 228.5 341.6 229.3 344.9 230.2 347.3 230.7 348M326.2 348 326.7 348.6 327.7 348.8 328.6 348.1 329.5 346.2 330.4 343.4 330.9 340.7 331.6 336.2 332.3 329.9 332.8 321.7 333.1 312.7 333.1 297.3 332.7 290 332.1 283.7 331.3 278.4 330.4 274.5 329.5 272 328.6 270.5 327.7 269.9 326.7 270.1 325.8 271.1 325.4 271.9 324.4 274.6 323.6 278.3 322.8 282.8 322.2 289.1 321.7 300.9 321.8 318.1 322.2 325.7 322.8 332.6 324 341.5 324.9 345.2 325.8 347.4 326.2 348M421.8 348 422.4 348.7 423.3 348.8 424.2 348 425.1 346.2 426.3 341.6 427 338 427.8 330.3 428.4 321.7 428.7 312.7 428.6 297.3 428.2 290 427.6 283.7 426.9 278.8 426 274.7 425.1 272.2 424.2 270.6 423.3 270 422.4 270.1 421.5 271 421 271.9 419.7 275.5 419.1 278.3 418.5 281.9 417.8 288.2 417.2 300.9 417.3 317.2 418.2 331.7 418.7 336.3 419.6 341.9 420.5 345.4 421.5 347.6 421.8 348M63.5 214.9 64.5 215.3 65.4 215.2 66.3 214.7 66.8 214 67.9 212.2 69.5 207.7 70.8 201.1 72 191.4 72.9 178.7 73.5 163.3 73.8 146.1 73.7 127.1 73.3 109.9 72.6 95.4 71.6 82.7 70.3 73.7 68.8 67.3 68.1 65.2 67.2 63.4 66.3 62.1 65.4 61.4 64.5 61.2 63.5 61.5 62.6 62.2 61.7 63.5 60.8 65.4 59.9 68.1 59 71.9 57.8 79.1 56.8 89.1 56 101.7 55.5 117.1 55.2 133.4 55.3 150.6 55.6 166 56.2 180.5 57 191.4 58.2 200.4 59 204.8 59.9 208.3 60.8 210.9 61.7 212.8 62.6 214.1 63.5 214.9M159.1 214.9 160.1 215.3 161 215.2 161.9 214.6 162.8 213.5 163.5 212.2 165 207.7 166.5 200.6 167.6 191.4 168.4 178.7 169 163.3 169.3 146.1 169.3 128 168.9 110.8 168.2 96.3 167.2 83.6 165.9 73.7 164.4 67.3 163.7 65.4 162.3 62.8 161 61.5 160.1 61.2 159.2 61.4 158.3 62.1 157.3 63.4 156.4 65.2 155.5 67.9 154.6 71.5 153.4 79.1 152.3 89.1 151.5 101.7 151 117.1 150.8 133.4 150.8 149.7 151.1 165.1 151.7 179.6 152.5 191.4 153.7 200.4 155.3 207.7 156.4 211.1 157.3 212.9 158.3 214.2 159.1 214.9M254.6 214.9 255.7 215.3 256.6 215.2 257.5 214.5 258.4 213.3 259 212.2 260.6 207.7 262.1 200.1 263.1 191.4 264 178.7 264.6 163.3 264.9 147 264.8 128 264.4 110.8 263.8 96.3 262.8 83.6 261.4 73.7 259.9 67.3 258.9 64.6 257.9 62.8 256.6 61.5 255.7 61.2 254.8 61.4 253.9 62 253 63.2 252.1 65 251.2 67.6 250.2 71.2 248.9 79.1 247.9 89.1 247.1 100.8 246.6 115.5 246.3 132.5 246.3 149.7 246.6 165.1 247.2 179.6 248.1 191.4 249.3 200.9 250.8 207.7 252.1 211.2 253 213 253.9 214.3 254.6 214.9M350.2 214.9 351.3 215.3 352.2 215.1 353.2 214.4 354.6 212.2 356.2 207.7 357.7 199.6 358.7 191.4 359.5 178.7 360.1 163.3 360.4 147 360.4 128 360 110.8 359.3 96.3 358.3 83.6 357 73.7 355.5 67.3 354.1 63.8 353.2 62.4 352.2 61.6 351.3 61.2 350.4 61.4 349.5 62 348.6 63.1 347.7 64.9 346.8 67.4 345.9 70.8 344.5 79.1 343.4 89.1 342.7 100.8 342.2 115.3 341.9 132.5 341.9 149.7 342.2 166 342.8 179.6 343.6 191.4 345 201.3 346.4 207.7 348.1 212.2 349.5 214.4 350.2 214.9M108.5 191.4 109.1 191.7 110 191.9 110.9 191.7 111.4 191.4 111.8 190.6 112.7 187.2 113.4 183.2 114.3 176 114.9 168.7 115.4 157.9 115.6 147.9 115.7 136.1 115.5 123.5 114.5 104.4 113.6 96.5 112.7 91.1 111.8 87.7 110.9 85.9 110 85.2 109.1 85.8 108.2 87.6 107.3 90.9 106.3 96.3 105.4 104.9 105 111.7 104.3 131.6 104.4 153.3 105.3 171.4 106.5 183.2 107.3 187.4 108.5 191.4M204 191.4 204.7 191.8 205.6 191.9 207 191.4 207.7 189.5 208.7 185 209.4 180.5 210.2 171.4 210.8 160.6 211.2 148.8 211.1 125.3 210.7 114.4 210 104.4 209.3 97.1 208.3 91.4 207.4 87.9 206.5 86 205.6 85.3 204.7 85.7 203.8 87.4 202.9 90.6 201.9 96.3 201.1 104 200.5 111.7 199.9 130.7 200 152.4 200.8 170.5 202 182.7 202.9 187.7 204 191.4M299.6 191.4 300.3 191.8 301.2 191.9 302.5 191.4 303.1 190.1 304.2 185 304.9 180.5 305.8 171.4 306.4 160.6 306.7 148.8 306.6 125.3 306.2 113.5 305.6 104.4 304.9 97.7 304 91.8 303.1 88.2 302.2 86.1 301.2 85.3 300.3 85.6 299.4 87.2 298.5 90.3 297.5 96.3 296.7 103.1 296.1 111.7 295.4 130.7 295.5 151.5 296.2 169.6 296.7 175.4 297.6 183.2 298.5 188 299.6 191.4M395.1 191.4 396 191.8 396.9 191.9 398.1 191.4 398.7 189.9 399.6 185.9 400.5 180.2 401.4 170.3 402 159.7 402.3 148.8 402.3 137 402.2 125.3 401.7 113.5 401.1 104.4 400.5 98.3 399.6 92.2 398.7 88.4 397.8 86.2 396.9 85.3 396 85.6 395 87.1 394.1 89.9 393 96.3 392.3 102.3 391.6 111.7 391 129.8 391 150.6 391.7 168.7 392.3 176.2 393.2 183.7 394.1 188.4 395.1 191.4M85.8 355.2 86.3 355.5 87.2 355.3 88.1 354.5 89 353 90 350.8 90.9 347.5 92.1 340.7 93.2 331.7 93.9 321.7 94.5 309 94.7 296.4 94.5 281 94.1 267.4 93.3 255.6 92.3 245.7 91.3 242.1 90 238.8 89 237.4 88.1 236.5 87.2 235.9 86.3 235.7 85.4 235.8 84.5 236.4 83.6 237.3 82.9 238.4 81.8 241.4 80.8 245.3 79.9 253.8 79.1 266.5 78.6 279.2 78.4 291.8 78.5 304.5 78.9 317.2 79.5 327.1 80.3 336.2 81.4 343.4 82.7 349.3 83.6 352 84.5 353.8 85.4 355 85.8 355.2M181.4 355.2 181.9 355.5 182.8 355.3 183.8 354.4 184.7 352.9 185.6 350.5 186.5 347.2 187.6 341.6 188.6 333.5 189.4 323.5 190 310.9 190.2 297.3 190.1 282.8 189.7 268.3 188.9 256.5 187.8 245.7 186.9 242.1 185.6 239 184.7 237.5 183.8 236.6 182.8 236 181.9 235.7 181 235.8 180.1 236.3 179 237.5 178.3 238.8 177.4 241.1 176.5 244.8 175.5 253.8 174.7 265.6 174.2 278.3 174 290.9 174.1 303.6 174.4 315.4 175 326.2 175.8 335.3 176.9 343.4 178.3 349.5 179.2 352.2 180.1 354 181 355 181.4 355.2M276.9 355.2 277.6 355.5 278.5 355.2 279.4 354.3 280.3 352.7 281.8 348 283 342.2 284.1 334.4 284.9 323.5 285.5 310.9 285.8 297.3 285.6 281.9 285.2 267.4 284.4 255.6 283.4 245.7 282.4 242.1 281.2 239.1 280.3 237.6 279.4 236.6 278.5 236 277.6 235.7 276.7 235.8 275.7 236.2 274.6 237.5 273.9 238.6 273 240.9 272 244.8 271.1 252.9 270.3 264.2 269.8 277.4 269.5 290.9 269.6 303.6 269.9 315.4 270.5 325.3 271.3 335.3 272.5 343.4 273.9 349.8 274.8 352.3 275.7 354.1 276.9 355.2M372.4 355.2 373.2 355.5 374.1 355.2 375 354.2 375.9 352.5 376.8 350.1 377.6 347.1 378.7 341.7 379.6 334.4 380.5 323.5 381 311.8 381.3 298.2 381.2 282.8 380.8 268.3 380 255.6 378.9 245.7 378 242.1 376.8 239.2 375.9 237.7 375 236.7 374.1 236 373.2 235.7 372.3 235.8 371.4 236.2 370.1 237.5 369.5 238.5 368.6 240.7 367.6 244.8 366.7 252.9 365.9 263.8 365.3 276.5 365.1 290 365.1 302.7 365.5 314.5 366 324.4 366.8 334.6 367.9 342.5 369.5 349.8 370.9 353.4 371.4 354.2 372.4 355.2M135.6 329 136.4 329.6 137.3 328.5 138.2 325.4 139.1 318.7 139.6 309 139.5 300.9 138.9 293.7 138.1 289.1 137.3 286.9 136.4 286 135.5 286.6 134.6 288.7 134.1 290.9 133.4 296.4 133 303.6 133.1 311.8 133.7 320.7 134.6 326.3 135.6 329M231.1 329 232 329.5 232.9 328.3 233.8 325 234.8 317.9 235.1 309.9 235.1 301.8 234.6 294.6 233.8 289.8 232.9 287 232 286 231.1 286.4 230.2 288.5 229.7 290.9 228.9 296.4 228.5 303.6 228.7 312.7 229.2 320.8 230.2 326.6 231.1 329M326.7 329 327.7 329.5 328.6 328.2 329.5 324.6 330.4 316.9 330.7 309.9 330.7 301.8 330.2 294.6 329.2 289.1 328.6 287.2 327.7 286 326.7 286.4 326.3 287.3 325.8 288.2 325.2 290.9 324.5 296.4 324.1 303.6 324.2 312.7 324.8 320.8 325.8 326.9 326.7 329M422.3 329 422.4 329.2 423.3 329.5 423.6 329 424.2 328 425.1 324.2 426 316.3 426.2 309.9 426.2 301.8 425.7 294.6 425.1 290.4 424.7 289.1 424.2 287.3 423.3 286.1 422.4 286.3 421.8 287.3 421.5 288 420.7 290.9 420 296.4 419.6 302.9 419.7 311.8 420.3 319.9 420.5 322.5 421.3 326.2 421.5 327.1 422.3 329M63.3 203.1 64.5 203.8 65.4 203.5 66.3 202.7 67.2 201.2 68.7 196.8 69.8 191.4 70.8 183.2 71.7 171.4 72.3 158.8 72.5 146.1 72.5 130.7 72.1 116.2 71.6 104.4 70.7 93.6 69.6 85.4 68.1 78.7 67.2 76.2 66.3 74.5 65.4 73.5 64.5 73.2 63.5 73.6 62.6 74.6 61.7 76.3 60.8 79 60.1 81.8 59 88.2 58 96.3 57.2 108.1 56.7 119.8 56.5 133.4 56.5 147 56.8 160.6 57.2 171.4 58.1 182.5 59 190.2 59.9 195 60.8 198.4 61.7 200.8 62.6 202.4 63.3 203.1M158.9 203.1 159.2 203.4 160.1 203.8 161 203.5 161.9 202.6 162.8 201 164.2 196.8 165.4 191.4 166.5 182.4 167.3 171.4 167.8 159.7 168.1 146.1 168 130.7 167.7 116.2 167.1 104.4 166.2 93.6 165.1 85.4 163.7 79 162.8 76.4 161.9 74.6 161 73.6 160.1 73.2 159.2 73.5 158.3 74.5 157.3 76.4 156.4 78.7 155.5 82.4 154.5 88.2 153.6 96.3 152.8 107.2 152.3 119.8 152 133.4 152 147 152.3 160.6 152.8 171.5 153.7 183.3 154.6 190.8 155.5 195.4 156.4 198.6 157.3 200.9 158.3 202.5 158.9 203.1M254.4 203.1 254.8 203.5 255.7 203.8 256.6 203.5 257.5 202.5 258.2 201.3 259.5 197.7 260.9 191.4 262.1 181.6 262.8 172.3 263.3 160.6 263.6 147 263.6 131.6 263.3 117.1 262.7 104.4 261.8 93.6 260.7 85.4 259.3 79.3 258.4 76.5 257.5 74.7 256.6 73.6 255.7 73.2 254.8 73.5 253.9 74.4 252.8 76.4 252.1 78.5 251.2 82 250.1 88.2 249.2 95.4 248.4 106.3 247.8 118.9 247.6 133.4 247.6 147.9 247.9 161.5 248.4 172.7 249.3 184 250.2 191.3 251.2 195.7 252.1 198.8 253 201.1 253.9 202.6 254.4 203.1M350 203.1 350.4 203.5 351.3 203.8 352.2 203.4 353.3 202.2 354.1 200.7 355 198.2 356.5 191.4 357.6 182.3 358.3 172.3 358.9 160.6 359.2 147 359.2 131.6 358.8 117.1 358.2 104.4 357.3 93.6 356.2 85.4 355 79.5 354.1 76.7 353.2 74.8 352.2 73.7 351.3 73.2 350.4 73.4 349.5 74.3 348.6 75.8 348 77.3 346.8 81.7 345.6 88.2 344.8 95.4 344 106.3 343.4 118.9 343.1 132.5 343.1 147 343.4 160.6 344 173.2 344.8 183.2 345.8 191.4 346.8 196 347.7 199.1 348.6 201.3 349.5 202.7 350 203.1M109.5 168.7 110 169.3 110.9 168.1 111.8 164.5 112.7 156 113.2 142.5 113.1 130.7 112.5 120.7 111.6 113.5 110.9 110.7 110 109.5 109 110.8 108.2 114.3 107.7 118 107 126.2 106.7 137.9 106.8 147.9 107.3 156.9 108.2 164.7 109.1 168.2 109.5 168.7M205 168.7 205.6 169.3 206.5 167.9 207.4 164 208.3 155.4 208.8 142.5 208.6 130.7 208.1 120.7 207.1 113.5 206.5 110.9 205.6 109.5 204.7 110.4 203.8 113.8 203.4 117.1 202.6 125.3 202.3 137 202.4 147.9 202.9 157.8 203.8 165.1 204.7 168.4 205 168.7M300.6 168.7 301.2 169.2 302.2 167.7 303.1 163.5 304 154.3 304.3 143.4 304.2 130.7 303.6 120.7 303.1 115.4 302.5 112.6 302.2 111.1 301.2 109.5 300.3 110.2 299.4 113.4 298.9 117.1 298.2 125.3 297.8 137 297.9 147.9 298.5 158.7 299.4 165.5 300.3 168.6 300.6 168.7M396 168.7 396.9 169.2 397.8 167.5 398.7 163 399.6 153.3 399.9 144.3 399.8 130.7 399.2 120.7 398.7 116 398 112.6 397.8 111.3 396.9 109.6 396 110.1 395.7 110.8 395 113.1 394.5 117.1 393.8 125.3 393.4 136.1 393.5 147.9 394.1 158.8 395 165.8 396 168.7M85.4 345.3 86.3 345.8 87.2 345.6 88.1 344.7 89 342.9 89.8 340.7 90.9 336.1 91.8 330.2 92.7 320.8 93.3 309.9 93.6 298.2 93.5 286.4 93.2 274.6 92.7 265.6 91.7 255.6 90.9 249.6 89.8 244.8 89 243.4 88.1 242.3 87.2 241.7 86.3 241.6 85.4 241.9 84.5 242.7 83.3 244.8 82.7 247.3 81.8 252.5 80.8 260.3 80.2 269.2 79.7 279.2 79.5 290 79.8 309.9 80.9 326.2 81.8 333.4 82.7 338.3 83.9 342.5 84.5 343.9 85.4 345.3M181 345.3 181.9 345.8 182.8 345.6 183.8 344.6 184.7 342.7 185.3 340.7 186.5 335.7 187.4 329.6 188.3 320 188.9 309 189.1 298.2 189.1 286.4 188.7 274.6 188.2 265.6 187.3 255.6 186.5 250 185.3 244.8 184.7 243.5 183.8 242.4 182.8 241.8 181.9 241.6 181 241.8 180.1 242.6 178.8 244.8 177.4 252 176.5 259.5 175.7 269.2 175.3 279.2 175.1 290 175.3 309.9 175.8 318.1 176.5 326.9 177.4 333.9 178.3 338.6 179.2 341.8 180.1 344 181 345.3M276.6 345.3 277.6 345.8 278.5 345.5 279.4 344.4 280.3 342.5 281.1 339.8 282.1 335.3 283 329 283.9 318.9 284.4 309 284.7 298.2 284.6 286.4 284.3 274.6 283.7 264.7 282.8 255.6 282.1 250.5 280.9 244.8 279.4 242.5 278.5 241.8 277.6 241.6 276.7 241.8 275.7 242.5 274.8 243.9 273.9 246.6 273 251.5 272.1 258.7 271.3 268.3 270.9 278.3 270.6 289.1 270.6 300 270.9 309.9 271.4 319 272.1 327.6 273 334.3 273.9 338.9 274.8 342.1 275.7 344.2 276.6 345.3M372.1 345.3 373.2 345.8 374.1 345.5 375 344.3 375.9 342.3 376.7 339.8 377.7 334.8 378.7 328.4 379.5 318.1 380.2 299.1 380.2 287.3 379.9 275.5 379.3 265.6 378.5 256.5 377.7 250.9 376.4 244.8 375 242.6 374.1 241.8 373.2 241.6 372.3 241.8 371.4 242.4 370.4 243.9 369.5 246.3 368.6 251.1 367.7 258 366.9 268.3 366.4 278.3 366.2 289.1 366.2 300 366.5 310.9 366.9 319 367.7 328.1 368.6 334.8 369.5 339.2 370.5 342.3 371.4 344.3 372.1 345.3M63.3 194.1 64.5 194.7 65.4 194.4 66.3 193.3 67.2 191.4 67.7 189.5 69 183.4 69.9 176.4 70.8 166 71.2 156 71.4 145.2 71.4 133.4 71.2 121.6 70.7 111.7 69.9 101.7 68.9 94.5 68.1 90.2 67.3 87.2 66.3 84.8 65.4 83.5 64.5 83.2 63.5 83.6 62.6 84.9 61.7 87.1 60.8 90.5 59.8 96.3 59 102.8 58.2 113.5 57.5 134.3 57.5 146.1 57.8 157 58.2 166 59 175.7 59.9 183 60.8 187.9 61.8 191.4 62.6 193.2 63.3 194.1M158.9 194.1 159.2 194.4 160.1 194.7 161 194.3 161.9 193.2 162.8 191.2 163.5 188.6 164.6 182.9 165.5 175.6 166.3 166 166.8 156 167 145.2 167 132.5 166.7 120.7 166.2 110.8 165.4 101.7 164.3 93.6 163.7 90.5 162.8 87.1 161.9 84.9 161 83.6 160.1 83.2 159.2 83.5 158.3 84.7 157.3 86.9 156.4 90.1 155.3 96.3 154.5 103.5 153.7 113.5 153.1 134.3 153.1 146.1 153.3 157 153.8 166 154.6 176 155.5 183.4 156.4 188.2 157.3 191.4 158.3 193.3 158.9 194.1M254.5 194.1 254.8 194.4 255.7 194.7 256.6 194.3 257.5 193.1 258.4 191 259.1 188.6 260.3 182.4 261.2 174.9 261.9 165.1 262.6 145.2 262.5 132.5 262.2 120.7 261.7 110.8 261 101.7 259.9 93.6 258.4 87.3 257.5 85 256.6 83.7 255.7 83.2 254.8 83.5 253.9 84.6 253 86.6 252.1 89.8 250.9 96.3 250.1 102.6 249.3 112.6 248.9 123.5 248.6 134.3 248.6 146.1 248.9 157 249.3 166.2 250.1 176 251.2 183.9 252.1 188.5 253 191.6 253.9 193.4 254.5 194.1M350 194.1 350.4 194.5 351.3 194.7 352.2 194.2 353.2 192.9 354.4 189.5 355.7 183.2 356.7 175.1 357.3 166.9 357.8 157.9 358.1 146.1 358.1 133.4 357.8 121.6 357.3 110.8 356.5 101.7 355.4 93.6 354.1 87.6 353.2 85.2 352.2 83.8 351.3 83.2 350.4 83.4 349.5 84.5 348.6 86.4 347.7 89.5 346.4 96.3 345.7 102.6 345 111.4 344.5 121.6 344.2 133.4 344.2 145.2 344.4 156 344.9 166.9 345.6 175.1 346.6 183.2 347.7 188.8 348.6 191.8 349.5 193.5 350 194.1M86.1 321.7 86.3 321.9 87.2 321.6 88.1 319.8 89 316 90 308.1 90.5 295.5 90.1 281.9 89.2 271.9 88.1 267.1 87.2 265.1 86.3 264.8 85.4 265.9 84.5 268.8 83.6 274.4 82.8 283.7 82.6 293.7 82.8 303.6 83.6 313 84.5 318.2 85.4 320.9 86.1 321.7M181.7 321.7 181.9 322 182.8 321.5 183.8 319.5 184.7 315.6 185.6 307.2 186 295.5 185.7 281.9 184.7 271.9 183.8 267.3 182.8 265.2 181.9 264.7 181 265.8 180.1 268.5 179.2 273.8 178.4 283.7 178.1 293.7 178.3 303.6 179.2 313.6 180.1 318.4 181 321 181.7 321.7M277.3 321.7 277.6 322 278.5 321.4 279.4 319.3 280.3 315.2 281.2 306.9 281.6 295.5 281.3 281.9 280.3 272 279.4 267.6 278.5 265.3 277.6 264.7 276.7 265.6 275.7 268.2 274.8 273.2 273.9 283.7 273.7 292.7 273.9 304.3 274.8 313.6 275.7 318.7 276.7 321.1 277.3 321.7M372.8 321.7 373.2 322 374.1 321.3 375 319.1 375.9 314.7 376.8 305.8 377.2 295.5 376.8 282.1 375.9 272.6 375 267.9 374.1 265.5 373.2 264.7 372.3 265.5 371.4 267.9 370.5 272.6 369.5 282.3 369.2 292.7 369.5 304.5 370.3 313.6 371.4 319 372.3 321.3 372.8 321.7M63.5 168.7 64.5 169.6 65.4 168.9 66.3 166.5 66.7 164.2 67.2 161.5 67.9 154.2 68.4 143.4 68.2 128.9 67.3 118 66.3 112.4 65.4 109.9 64.5 109.2 63.5 110 62.6 112.6 61.7 117.7 60.9 127.1 60.6 136.1 60.7 147.9 61.3 157 61.7 161.3 62.2 164.2 62.6 166.2 63.5 168.7M159.1 168.7 160.1 169.6 161 168.7 162.1 165.1 162.8 161.3 163.3 156 163.9 144.3 163.8 129.8 162.9 118.9 161.9 112.7 161 110 160.1 109.2 159.2 109.9 158.3 112.3 157.3 117.2 156.4 127.1 156.1 136.1 156.2 147 156.7 156 157.6 163.3 158.3 166.5 159.1 168.7M254.7 168.7 254.8 169 255.7 169.6 256.6 168.6 257.5 165.9 258.4 160.7 258.8 157 259.3 150.6 259.5 144.3 259.3 130.4 258.4 118.4 257.5 113 256.6 110.2 255.7 109.2 254.8 109.8 253.9 112.1 253 116.7 252.1 125.9 251.7 135.2 251.7 146.1 252.3 156 253.1 163.3 253.9 166.8 254.7 168.7M350.2 168.7 350.4 169.1 351.3 169.6 352.2 168.5 353.2 165.6 354.1 160.1 354.4 157 355 144.3 354.9 131.6 354.1 119 353.2 113.3 352.2 110.3 351.3 109.2 350.4 109.7 349.5 111.8 348.6 116.2 347.7 124.8 347.3 135.2 347.3 145.2 347.7 155.1 348.6 162.9 349.5 167 350.2 168.7" fill="none" stroke="#1d3a1d" stroke-width="0.75" stroke-opacity="0.6"/></g>
<g clip-path="url(#cpc)"><rect x="51.7" y="477.6" width="381.6" height="343" fill="#54ff40"/>
<path d="M51.7 820.6 77.4 820.6 77.5 798 77.6 744.6 77.3 726.5 77.2 722.7 76.8 718.3 76.3 713.8 75.8 712 74.9 709.3 73.6 707.3 71.7 705.7 69.9 704.8 67.2 703.9 63.5 703.2 58.1 702.6 52.6 702.4 51.7 702 51.7 478.5 52.6 477.6 80.8 477.6 81.3 478.5 81.2 591.6 81.8 619.1 82.6 626.9 83.6 631.1 84.8 634.2 86.3 636.6 88.5 638.7 91.8 640.5 95.4 641.6 100 642.3 104.5 642.6 105 642.3 105.1 640.5 105.1 478.5 105.4 477.6 129.1 477.6 129.2 592.5 128.5 615.2 128.2 621.5 127.6 626 126.7 630.5 125.5 634 123.6 636.8 121.8 638.5 119.1 640.2 115.5 641.4 110.9 642.3 105.4 642.6 105.1 643.2 105.1 820.6 132.7 820.6 132.6 744.6 132.8 731.1 133.4 718.3 133.7 715.8 134.2 712.9 135.1 710.2 136.4 707.8 138.2 706.1 140.7 704.8 143.7 703.8 148.2 703 153.7 702.6 159.2 702.4 159.6 702.9 159.6 703.9 159.6 820.6 185.2 820.6 185.3 743.7 184.7 717.7 183.8 712.2 182.8 709.6 181.5 707.5 180.1 706.1 177.4 704.6 174.6 703.8 171 703.1 165.5 702.6 160.1 702.4 159.6 702 159.6 478.5 160.1 477.6 188.3 477.6 189 478.5 188.9 591.6 189.2 612.2 190.1 624.6 191 629.8 192 632.7 193.7 636 195.6 638.1 198.3 639.9 202 641.3 207.4 642.3 212.9 642.6 213.1 643.2 213 820.6 240.7 820.6 240.6 743.7 241.1 719.2 242 712.9 243 710 244.5 707.5 246.6 705.7 248.4 704.8 251.2 703.9 254.8 703.2 260.3 702.6 266.6 702.4 267.3 702 267.3 478.5 267.5 477.6 295.8 477.6 296.7 478.5 296.7 592.5 297.4 617 297.6 621.1 298.2 626 299.1 630.5 300.3 634 302.2 636.8 304 638.5 306.7 640.1 310.4 641.4 314.9 642.2 320.4 642.6 320.8 642.3 320.8 640.5 320.8 478.5 321.3 477.6 344 477.6 344.6 478.5 344.7 591.6 344 619.6 343.2 626.9 342.2 631.2 341.1 634.2 339.5 636.6 337.3 638.7 334.9 640.1 331.3 641.4 326.7 642.3 321.3 642.6 320.8 643.2 320.8 820.6 348.4 820.6 348.4 736.4 348.7 723.8 349.3 716.5 349.9 712.9 350.7 710.2 351.3 708.9 352.2 707.6 354.1 705.9 355.9 705 358.6 704 363.2 703.1 368.6 702.6 375 702.4 375.3 702.9 375.3 703.9 375.3 820.6 400.9 820.6 401 743.7 400.5 719.5 399.6 712.8 398.7 709.9 397.2 707.5 396 706.2 393.4 704.8 390.5 703.8 386.9 703.1 381.4 702.6 375.9 702.4 375.3 702 375.3 478.5 375.9 477.6 404.2 477.6 404.8 478.5 404.6 591.6 405.1 615.8 406 625.8 406.9 630.4 407.8 633.1 408.7 635 409.6 636.3 411.4 638.2 414.2 640 417.8 641.3 422.4 642.2 427.8 642.6 428.5 642.3 428.6 641.4 428.6 478.5 428.7 477.6 433.3 477.6 51.7 477.6 51.7 820.6ZM213.8 642.6 213 642.3 213 478.5 213.8 477.6 236.6 477.6 236.8 478.5 236.9 591.6 236.6 613.2 235.7 624.9 234.8 629.8 233.8 632.8 232.1 636 230.2 638.1 227.5 639.9 223.8 641.3 219.3 642.2 213.8 642.6ZM267.3 820.6 293.2 820.6 293.3 743.7 293 726.5 292.5 718.3 291.9 713.8 291.2 710.9 290 708.4 288.5 706.6 285.8 704.9 282.7 703.9 278.5 703 273.9 702.6 268.5 702.4 267.5 702.4 267.3 702.9 267.3 820.6ZM428.6 820.6 433.3 820.6 433.3 642.4 428.7 642.6 428.6 643.2 428.6 820.6Z" fill="#40ff54"/>
<path d="M56.1 819.7 56.5 820.6 72.8 820.6 74.1 817 75.1 812.5 75.7 807.9 76.3 801.6 76.8 780.8 76.9 744.6 76.3 732.4 75.5 725.6 74.8 722 74.1 719.2 72.9 716.5 71.7 714.6 69.9 712.8 68.1 711.6 66.3 710.9 63.5 710.5 60.8 710.7 59 711.4 57.2 712.7 55.6 714.7 54.5 717.4 53.9 720.1 53.5 722.9 53 728.3 52.6 736 52.5 744.6 52.5 777.2 52.7 793.4 53.2 803.4 53.8 809.7 54.8 815.2 56.1 819.7ZM106.1 820.6 131.6 820.6 132 796.2 132.1 743.7 132.8 698 133.7 695.9 134.6 695.8 140 696.2 144.6 695.7 147.3 695.1 149.1 694.5 151.9 693 153.7 691.2 154.6 689.8 155.5 687.8 156.4 684.6 157.3 679.4 157.9 671.3 158.4 657.7 159.1 613.4 159 550 158.7 526.5 158.2 511.1 157.7 503.8 157.2 499.3 156.4 495.4 155.3 492.1 153.7 489.3 151.9 487.5 149.1 486.2 146.4 485.6 142.8 485.5 140 486 137.3 487.2 135.5 488.7 133.8 491.2 132.8 493.7 131.8 497.4 131.2 502 130.5 511.1 130 524.8 129.7 592.5 129.1 633.3 128.8 638.7 128.2 644 127.3 646.2 126.4 647.2 125.7 647.7 123.8 648.6 116.4 651.4 113.6 653 111.8 654.7 110.3 656.8 109.1 659.5 108.2 662.8 107.3 668.5 106.6 676.7 106.2 684.8 105.6 721 105.6 776.3 106.1 820.6ZM164.4 820.6 180.7 820.6 181.9 817.1 182.8 813.1 183.6 807.9 184 803.4 184.7 784.4 184.7 744.6 184.4 736.4 183.7 728.3 182.9 722.9 182.2 720.1 181.2 717.4 180.1 715.4 178.3 713.2 176.5 711.9 174.6 711.1 171.9 710.5 169.2 710.6 167.4 711.1 165.5 712.2 164 713.8 162.8 716.1 161.9 719.2 160.9 726.5 160.5 736.4 160.3 748.2 160.3 778.1 160.7 796.2 161 803.4 161.9 811.4 162.8 816.1 164.4 820.6ZM213.9 820.6 239.5 820.6 239.9 791.6 240 744.6 240.3 725.6 240.6 708.4 241.1 696.2 242 695.8 247.5 696.2 252.1 695.8 256.2 694.8 259.3 693.2 261.5 691.2 263 688.7 264 685.8 265 680.3 265.7 671.5 266.3 657.7 266.6 643.2 266.8 625.1 266.8 580.8 266.7 537.3 266.4 521.9 265.9 508.4 265.4 502.9 264.8 498 263.9 494.1 262.8 491.2 261.2 488.8 259.3 487.3 256.6 486.1 253.9 485.5 250.2 485.6 247.5 486.1 245.7 486.9 243.6 488.5 242 490.4 240.9 493 239.9 496.6 239.1 501.1 238.4 509.8 237.9 526.5 237.5 551.8 237.4 591.6 237.1 616.1 236.6 640.8 236.1 643.2 235.7 645.1 235.2 645.9 234.8 646.7 233.8 647.5 232 648.5 226.6 650.4 223.8 651.6 221.1 653.3 219.3 655.1 217.7 657.7 216.5 660.7 215.6 664.7 215.1 668.6 214.5 674.9 214 685.8 213.6 708.4 213.5 771.7 213.9 820.6ZM271.8 819.7 272.2 820.6 288.5 820.6 289.5 817.9 290.6 813.4 291.2 809.6 291.9 802.5 292.2 795.3 292.5 782.6 292.5 744.6 292.1 734.7 291.2 725.6 290.5 722 289.8 719.2 288.6 716.5 287.6 714.8 285.8 712.9 283.9 711.7 282.1 711 279.4 710.5 276.7 710.7 274.8 711.3 273 712.5 271.3 714.7 270.3 717.2 269.6 720.1 268.7 728.3 268.3 735.5 268.2 748.2 268.2 777.2 268.5 795.1 268.9 803.4 269.5 809.7 270.3 814.4 271.8 819.7ZM321.8 820.6 347.3 820.6 347.7 799.4 348 731.9 348.6 697.1 349.5 695.9 355.9 696.2 358.6 696 361.4 695.5 365 694.4 367.5 693 369.5 690.9 370.5 689.5 371.3 687.6 372.3 683.8 372.9 679.4 373.5 673.1 374.1 658.9 374.7 615.2 374.6 549.1 374.3 524.7 373.9 511.1 373.4 503.8 372.8 499.3 372.2 495.7 371 492.1 369.5 489.5 367.7 487.7 365 486.2 362.3 485.6 358.6 485.5 355.9 486 353.2 487.1 351.3 488.5 349.5 491.1 348.6 493.2 347.7 496.6 346.9 502 346.2 511.1 345.8 522.9 345.4 551.8 345.3 592.5 344.7 626 344 643.3 343.1 645.9 342.2 647.1 341.4 647.7 339.5 648.6 332.1 651.4 329.5 652.9 327.7 654.5 326 656.8 324.9 659.1 324 662.1 323.1 667.1 322.3 675.8 321.9 683.9 321.3 717.6 321.3 786.3 321.8 820.6ZM380 820.6 396.4 820.6 397.7 817 398.5 813.4 399.6 804.2 400.1 795.3 400.3 783.5 400.5 748.2 400.1 737.3 399.3 727.4 398.7 723.5 397.9 720.1 396.9 717.3 395.9 715.6 394.1 713.4 392.3 712 390.5 711.2 387.8 710.5 385 710.6 383.2 711.1 381.4 712.1 379.6 714 378.7 715.7 377.7 718.5 377 722.9 376.6 727.4 376.1 737.3 375.9 749.1 376 777.2 376.3 795.3 376.8 804.8 377.6 811.5 378.7 816.7 380 820.6ZM429.6 820.6 433.3 820.6 433.3 657.8 432.4 660.1 431.8 662.2 430.8 668.6 430.1 677.6 429.6 689.4 429.2 714.7 429.1 750 429.2 789.8 429.6 820.6ZM94.3 631.5 95.4 631.5 97.2 631 99.1 629.8 100 628.8 100.9 627.3 101.8 625 102.6 621.5 103.1 618.8 103.8 609.7 104.4 592.5 104.3 553.6 103.6 525.2 102.7 514 101.8 508.2 100.9 504.5 100 502 99.1 500.2 98.1 498.8 97.2 497.8 95.4 496.6 94.5 496.2 92.7 496.1 90.9 496.5 89 497.7 87.6 499.3 86.6 501.1 85.4 504 84.7 506.6 83.5 513.8 82.6 523.8 82 541.9 81.7 556.3 81.7 591.6 82.8 608.8 83.6 615.2 85 621.5 86 624.2 86.9 626 89 628.9 90 629.7 91.8 630.8 94.3 631.5ZM202.1 631.5 203.8 631.4 205.6 630.8 207.1 629.6 208.3 628 209.3 626.1 210.1 623.3 211 617.9 211.7 608.8 212.1 598 212.2 555.4 212 540 211.4 525.6 210.8 516.5 209.8 509.3 209.3 506.5 208.3 503.4 207.4 501.2 206.5 499.6 205.6 498.4 203.8 496.9 202.9 496.4 201.1 496.1 199.2 496.3 197.4 497.3 195.6 499.1 194.7 500.6 193.8 502.5 192.8 505.7 192 509.4 191.2 514.7 190.3 526.5 189.9 540 189.6 563.6 189.6 591.6 190.1 603.4 190.8 610.6 191.8 617 192.9 621.5 193.8 624 194.7 625.9 196.5 628.5 197.4 629.4 199.2 630.6 201.1 631.3 202.1 631.5ZM310 631.5 311.3 631.4 313.1 630.9 314.9 629.7 315.8 628.6 316.7 627 317.6 624.5 318.7 618.8 319.5 610.6 320 593.4 320 553.6 319.4 527.4 318.6 515.6 317.6 509 316.7 505.1 316 502.9 314.9 500.5 314 499 313.1 498 311.3 496.7 310.4 496.3 308.5 496.1 306.7 496.4 304.9 497.6 303.3 499.3 302.2 501.1 301.2 503.6 300.3 506.8 299.2 513.8 298.3 524.7 297.6 542.9 297.5 591.6 297.7 598.9 298.5 609.6 299.4 616.1 300.7 621.5 302.2 625.2 303.1 626.8 304.6 628.7 305.8 629.8 307.6 630.9 310 631.5ZM417.7 631.5 418.9 631.5 420.5 631.1 422.4 630 423.5 628.7 424.6 626.9 425.5 624.2 426 622.3 426.7 617.9 427.4 609.7 427.8 597.6 427.9 553.6 427.6 537.3 427 522.9 426.2 513.8 425.3 508.4 424.2 503.9 423.3 501.5 422.4 499.8 421.3 498.4 419.6 497 418.7 496.5 416.9 496.1 415.1 496.3 413.3 497.1 411.4 498.9 410.5 500.3 409.6 502.1 408.5 505.7 407.7 509.3 406.9 514.5 406 526.3 405.5 541 405.2 563.6 405.2 589.8 405.7 600.7 406.3 608.8 407.1 615.2 407.8 618.8 408.5 621.5 409.6 624.4 410.4 626 412.4 628.7 413.4 629.6 415.1 630.7 417.7 631.5Z" fill="#40ff7c"/>
<path d="M110.8 820.6 126.9 820.6 128.2 811.5 129.3 798.9 130.1 781.7 130.5 757.2 130.6 719.2 130 697.5 129.1 695.7 128.4 690.3 127.3 684.8 126.4 681.3 125.5 678.8 124.4 676.7 122.7 674.6 121.8 673.9 120 673.3 118.2 673.6 117.3 674 115.5 675.8 113.6 678.7 112 683 110.9 687.2 109.7 693.9 109 700.2 108.2 710.5 107.6 724.7 107.2 741 107.2 758.2 107.5 774.4 108 790.7 108.6 801.6 109.6 812.5 110.8 820.6ZM218.7 820.6 234.8 820.6 236.3 808.8 237.3 796.2 238 777.2 238.4 753.6 238.4 714.2 238.1 703.9 237.7 696.6 237.5 694.2 236.6 693 235.7 687.6 234.8 683.2 233.8 680.2 232.9 678 231.6 675.8 230.2 674.3 229.3 673.7 227.5 673.2 225.7 673.7 224.7 674.3 222.9 676.3 221.1 679.5 219.8 683 218.4 689 217.5 694.6 216.5 703 216 711.1 215.4 724.7 215 743.7 215.3 776.3 215.8 788.9 216.5 802.6 217.5 812.3 218.7 820.6ZM326.5 820.6 342.6 820.6 344 809.9 345 798.9 345.8 779.9 346.2 760 346.3 722 345.9 700.2 345.3 695.7 344 690.4 343.1 685.4 342.2 681.8 341.4 679.4 340.4 677.3 338.6 674.7 337.7 674 335.9 673.3 334 673.5 333.1 673.9 331.3 675.6 329.5 678.4 328 682.1 326.7 686.5 325.7 692.1 324.8 698.4 324 707.9 323.3 722.9 322.9 738.2 322.9 754.5 323.1 773.3 323.6 788.9 324.3 800.7 325.1 810.6 326.5 820.6ZM433.3 813.4 433.3 813.7 433.3 693.5 432.4 701.2 431.5 714.3 430.9 731 430.7 748.2 430.9 769 431.4 788 432.3 803.4 433.3 813.4ZM62.5 802.5 63.5 803.1 64.5 803.3 65.4 803.2 66.3 802.9 67.2 802.2 68.1 801.3 69 800 70.3 797.1 71.7 792 72.6 786.2 73.2 779.9 73.5 771.7 73.5 747.3 73.4 744.6 72.6 739.1 71.7 735.2 71 732.8 69.3 729.2 68.1 727.6 67.2 726.8 66.3 726.2 64.5 725.8 62.6 726.1 60.9 727.4 59.9 728.6 58.7 731 57.5 734.6 56.7 738.2 56 743.7 55.8 747.3 55.8 771.7 56.2 780.8 56.8 787.1 57.7 792.5 59 797 59.9 799.2 60.8 800.7 62.5 802.5ZM170.4 802.5 171.9 803.2 172.8 803.2 173.7 803 174.6 802.5 175.6 801.7 176.5 800.6 177.4 799 178.3 796.8 179.4 792.5 180.5 786.2 181 779.9 181.4 770.8 181.5 755.4 181.3 744.6 180.1 737.4 179.2 733.9 178.3 731.4 176.5 728.3 174.6 726.5 173.7 726.1 171.9 725.8 170.1 726.3 169.2 727 167.4 729.2 166.5 731.1 165.5 733.8 164.6 738.2 163.8 744.6 163.7 748.2 163.7 772.6 164 779.9 164.6 786.8 165.5 792.4 166.9 797.1 168.3 800.1 169.2 801.4 170.4 802.5ZM278.2 802.5 279.4 803.1 280.3 803.3 281.2 803.1 282.1 802.8 283 802.1 283.9 801.1 284.8 799.7 285.8 797.8 287.1 793.4 288.1 788 288.7 781.7 289.2 772.6 289.3 760.9 289.2 747.3 289.1 744.6 288.3 739.1 287.6 735.8 286.7 732.8 285 729.2 283.9 727.8 283 726.9 282.1 726.3 280.3 725.8 278.5 726.1 276.7 727.3 275.7 728.4 274.4 731 273.4 733.7 272.6 737.3 271.8 742.8 271.5 746.4 271.5 770.8 271.9 779.9 272.4 786.2 273.4 792.5 274.8 797.5 275.7 799.5 276.7 800.9 278.2 802.5ZM386 802.5 387.8 803.2 388.7 803.2 389.6 803 390.5 802.4 391.4 801.6 392.3 800.3 393.2 798.6 394.1 796.3 395.1 792.5 396 787.1 396.7 779.9 397 771.7 397.1 756.3 397 744.6 396 738.1 395 734.4 394.2 731.9 393.2 729.9 392.3 728.5 390.5 726.7 389.6 726.1 387.8 725.8 385.9 726.2 385 726.8 384.1 727.7 383.2 729 382.2 731 381.4 733.2 380.4 737.3 379.6 743.2 379.4 747.3 379.4 772.6 379.7 779.9 380.4 787.1 381.3 792.5 382.3 796.4 383.2 798.7 384.1 800.4 385 801.6 386 802.5ZM142.7 673.1 143.7 673.4 144.6 673.4 145.5 673.2 147.3 671.9 148.5 670.4 150.1 667.3 151.3 664 152.8 659 153.6 655 155 645 156.1 632.4 156.8 617.9 157.2 598.9 157.2 575.3 156.7 553.6 155.9 537.3 154.6 525.2 153.7 519.7 153 516.5 151.9 512.9 151 510.6 149.7 508.4 148.2 506.5 146.4 505.2 144.6 504.8 142.8 505 141 506.1 139.7 507.5 138.4 509.3 137.3 511.6 136.4 514.2 134.8 521 133.7 528.5 132.6 541 131.8 557.5 131.5 574.4 131.4 612.4 131.8 632.5 132.1 634.2 132.8 636.1 133.7 646 134.6 652.7 136.4 661.4 138.2 666.7 140 670.4 141 671.7 142.7 673.1ZM250.6 673.1 252.1 673.4 253 673.3 253.9 672.9 255.7 671.3 256.6 669.9 258.4 666.1 259.3 663.6 261.2 656.5 262.8 645.9 263.9 633.5 264.7 615.2 265.1 597.1 265 573.5 264.6 553.6 263.8 538.2 263.1 530.1 262.4 524.7 261.4 519.2 260.6 515.6 259.4 512 258.4 509.9 257.5 508.3 255.7 506.2 253.9 505.1 252.1 504.8 250.2 505.2 249.3 505.7 247.5 507.4 246.3 509.3 245 512 244.1 514.7 242.4 521.9 241.1 532 240.2 544.5 239.6 560 239.3 577.3 239.3 618.8 239.5 627.8 240 634.2 242.2 651.4 243 655.8 244.2 661.3 245.7 665.8 247.5 669.8 248.4 671.2 249.3 672.2 250.6 673.1ZM358.4 673.1 359.5 673.4 360.4 673.4 361.4 673.1 363.2 671.7 364.1 670.5 365.9 666.9 366.8 664.7 367.9 661.3 369.1 655.9 370.5 647.4 371.7 634.2 372.4 619.7 372.9 599.8 372.9 576.2 372.4 554.5 371.6 538.2 370.5 526.4 369.5 520.6 368.7 516.5 366.8 511 365.9 509.2 364.1 506.7 362.3 505.3 360.4 504.8 358.6 505 356.8 506 355.3 507.5 354.1 509.3 352.2 513.6 351.3 516.8 350.4 521.1 349.2 530.1 348.2 541.9 347.6 555.4 347.2 574.4 347.1 614.3 347.3 626 347.7 634.4 348.6 638.2 349.5 647.4 350.4 653.7 352.2 662 353.9 666.7 355.7 670.4 356.8 671.9 358.4 673.1ZM91.5 610.6 92.7 611.2 93.6 611.3 94.5 611.1 95.4 610.6 96.3 609.7 97.2 608.3 98.6 605.2 100 599.7 100.9 593.6 101.3 581.7 101.3 569 100.9 557.2 100.1 547.3 99.3 541 98.1 535.5 97.2 532.6 96.3 530.5 95.4 529.1 94.5 528.1 93.6 527.7 92.7 527.6 91.8 528 90.9 528.9 90 530.2 89 532.2 88.2 534.6 87.2 538.9 86.3 544.6 85.5 552.7 85.1 560.9 84.8 569.9 84.9 586.2 85.1 591.6 85.4 594.3 86.4 599.8 88.1 605.5 90 609 91.5 610.6ZM199.4 610.6 200.2 611.1 201.1 611.3 202 611.2 202.9 610.8 203.8 610.1 204.7 608.9 205.6 607.2 206.4 605.2 207.4 601.5 208.5 595.3 208.9 591.6 209.1 583.5 209.2 571.7 208.9 560.9 208.3 551.2 207.4 542.9 206.4 537.3 205.6 534.2 204.7 531.6 203.8 529.8 202.9 528.6 202 527.9 201.1 527.6 200.2 527.8 199.2 528.3 197.9 530.1 196.5 533.2 195.4 537.3 194.5 541.9 193.7 549.1 193 558.1 192.7 567.2 192.7 585.3 192.9 591.6 193.3 594.3 194.3 599.8 195.6 604.5 197.4 608.5 198.3 609.7 199.4 610.6ZM307.2 610.6 308.5 611.3 309.4 611.3 310.4 611 311.3 610.4 312.2 609.5 313.1 608 314 605.9 315.4 600.7 316.5 594.3 316.8 591.6 317 582.6 317 570.8 316.7 559.7 315.9 548.2 315 541 314 536.1 313.1 533 312.2 530.8 311.3 529.3 310.4 528.3 309.4 527.7 308.5 527.6 307.6 527.9 306.7 528.7 305.8 529.9 304.9 531.8 304 534.4 303 538.2 302.2 543.3 301.2 551.9 300.7 560.9 300.5 569.9 300.6 588 300.8 591.6 301.2 595.3 302.3 600.7 304 605.9 305.8 609.2 307.2 610.6ZM415 610.6 416 611.2 416.9 611.3 417.8 611.2 418.7 610.7 419.6 609.9 420.4 608.8 421.5 606.9 422.4 604.3 423.1 601.6 424.1 596.2 424.6 591.6 424.8 585.3 424.9 573.5 424.7 562.7 424.2 553.3 423.3 544.1 422.3 538.2 421.5 534.7 420.5 532 419.6 530.1 418.7 528.8 417.8 528 416.9 527.6 416 527.7 415.1 528.2 414.2 529.1 413.3 530.6 412 533.7 410.9 538.2 410 543.7 409.3 550 408.7 557.6 408.4 567.2 408.3 582.6 408.6 591.6 408.8 593.4 410 599.8 411.4 605 413.3 608.7 415 610.6Z" fill="#40ffa4"/>
<path d="M116.1 819.7 116.8 820.6 121 820.6 121.8 819.5 123.1 817 124.1 814.3 125 810.6 126.4 803.4 127.8 791.6 128.6 779 129.1 763.7 129.3 745.5 129 729.2 128.3 715.6 127.3 704.7 126.4 698.9 125.7 695.7 124.6 692.1 123.9 690.3 122.7 688.2 121.8 687.1 120.9 686.3 120 685.9 119.1 685.9 118.2 686.1 117.3 686.7 116.4 687.6 115.2 689.4 113.6 693 111.8 699.5 110.7 706.6 109.7 715.6 109.1 725.6 108.6 740.1 108.5 753.6 108.8 769 109.2 780.8 110 792.5 111.2 802.5 112.7 810.9 114.5 816.8 116.1 819.7ZM224.6 820.6 228.8 820.6 229.3 820 230.2 818.6 231.1 816.6 232.9 810.5 233.8 805.9 234.6 800.7 235.7 790.9 236.5 777.2 236.9 764.5 237.1 748.2 236.9 731 236.3 717.4 235.4 706.6 234.8 702.1 233.8 697.1 232.9 693.6 232 691 231.1 689.1 230.2 687.7 229.3 686.7 228.4 686.1 227.5 685.9 226.6 685.9 225.7 686.3 224.7 687 222.9 689.5 221.1 693.9 219.5 700.2 218.4 707.5 217.5 716.7 216.8 728.3 216.4 740.1 216.3 754.5 216.6 769.9 217.3 785.3 218.2 796.2 219.3 804.3 220.2 809.2 221.1 813 222.9 818 223.8 819.6 224.6 820.6ZM331.7 819.7 332.5 820.6 336.8 820.5 337.7 819.2 338.6 817.5 340.4 812 342.1 803.4 343.2 794.4 344.1 782.6 344.7 765.4 345 748.2 344.7 730.1 344.2 718.3 343.1 706 341.8 697.5 340.9 693.9 339.9 691.2 338.6 688.4 337.7 687.2 336.8 686.4 335.9 686 334.9 685.9 334 686 333.1 686.5 332.2 687.4 330.8 689.4 329.2 693 327.7 698.8 326.5 705.7 325.5 714.7 324.8 724.7 324.3 739.1 324.2 752.7 324.4 769 324.9 781.2 325.8 793.8 327 803.4 328.6 811.5 330.4 817.2 331.7 819.7ZM64 789.8 64.5 790 65.4 789.9 66.3 789.3 67.2 788.1 68.1 786.2 69 783.1 69.7 779 70.1 775.3 70.6 763.6 70.5 750.9 70.3 745.5 70 743.7 69 740.6 68.1 738.7 67.2 737.3 66.3 736.4 65.4 735.9 64.5 735.8 63.5 736 62.6 736.6 61.7 737.7 60.8 739.3 59.8 741.9 59.1 745.5 58.7 755.4 58.9 770.8 59.3 776.3 59.9 780.8 60.8 784.8 61.7 787.2 62.6 788.8 63.5 789.7 64 789.8ZM171.8 789.8 172.8 790 173.7 789.6 174.6 788.6 175.6 787.1 176.5 784.5 177.4 780.3 177.8 777.2 178.4 767.2 178.4 753.6 178 744.6 177 741 175.6 738.1 174.6 736.9 173.7 736.2 172.8 735.8 171.9 735.9 171 736.2 170.1 737 169.2 738.2 168.3 740.1 167 744.6 166.6 752.7 166.7 768.1 167.4 778.4 168.3 783.5 169.2 786.4 170.1 788.2 171 789.4 171.8 789.8ZM279.6 789.8 280.3 790 281.2 789.8 282.1 789.1 283.3 787.1 284.6 783.5 285.1 780.8 285.8 776.1 286.3 764.5 286.2 751.8 285.8 744 284.8 741 283.9 739 283 737.5 281.9 736.4 281.2 736 280.3 735.8 279.4 736 278.6 736.4 277.6 737.4 276.7 738.9 275.7 741.1 274.8 744.6 274.4 754.5 274.6 769.9 274.8 774.8 275.4 779.9 276.4 784.4 277.4 787.1 278.5 789 279.6 789.8ZM387.5 789.8 388.7 790 389.6 789.5 390.5 788.4 391.4 786.7 392.3 783.9 393.2 779.3 393.7 775.3 394 769.9 394.1 762.7 394.1 750.9 393.8 745.5 393.5 743.7 392.3 740.1 391.4 738.2 390.5 737.1 389.6 736.3 388.7 735.9 387.8 735.8 386.9 736.1 385.9 736.8 385 738 384.1 739.7 383.2 742.3 382.7 744.6 382.5 746.4 382.2 756.3 382.4 769.9 383.2 779.6 384.1 784.1 385 786.8 385.9 788.5 386.9 789.5 387.5 789.8ZM433.3 788.9 433.3 789.5 433.3 714.7 432.4 729.5 432 748.2 432.3 770.8 433.3 788.9ZM143.1 657.7 144.6 658 145.5 657.7 146.4 657.1 147.3 656.2 148.2 654.9 149.1 653.2 150.3 650.5 151.1 647.7 152.2 643.2 153.7 633.7 154.6 624.2 155.5 609.7 155.8 594.3 155.8 577.2 155.3 561.8 154.6 549.1 153.2 536.4 151.9 529 151 525.6 150 522.9 148.7 520.1 147.3 518.3 146.4 517.5 145.5 517 144.6 516.8 143.7 516.9 142.8 517.2 141.9 517.8 140 520.1 139.1 521.8 138 524.7 137.3 527.1 136.2 531.9 134.8 541.9 133.9 552.7 133.2 565.4 132.9 580.8 132.9 597.1 133.3 612.4 134.1 625.1 135.2 636 136.4 643 138.2 650.1 139.4 653.2 141 655.8 141.9 656.9 143.1 657.7ZM250.9 657.7 252.1 658 253 657.9 253.9 657.4 254.8 656.6 256 655 257.5 652 258.4 649.5 260.3 642.1 261.7 632.4 262.7 620.6 263.4 607.9 263.7 592.5 263.6 575.3 263.1 559.1 262.1 545.5 261.1 536.4 260.3 531.6 259.3 527.5 257.5 522.1 256.5 520.1 254.8 517.9 253.9 517.3 253 516.9 252.1 516.8 251.2 517 250.2 517.4 249.3 518.2 247.5 520.8 245.7 525.3 244.8 528.6 243.9 533 242.6 541.9 241.6 553.6 241 566.3 240.7 582.6 240.8 598 241.1 610.6 241.9 625.1 243 635.1 244.7 645 246.5 651.4 248.4 655.3 249.3 656.5 250.9 657.7ZM358.8 657.7 359.5 658 360.4 657.9 361.4 657.6 362.3 657 363.2 656 364.1 654.7 365.9 650.6 367.7 643.9 369.3 634.2 370.4 623.3 371.1 609.7 371.5 595.3 371.4 577.2 371 560.9 370.2 548.2 368.9 536.4 367.4 528.3 366.3 524.7 365.3 521.9 364.1 519.7 363.2 518.5 362.3 517.6 361.4 517.1 360.4 516.8 359.5 516.8 358.6 517.1 357.7 517.7 356.8 518.6 355.7 520.1 355 521.5 353.7 524.7 352.9 527.4 351.9 531.9 350.5 541.9 349.6 551.8 349 564.5 348.6 579 348.6 596.2 349 610.6 349.6 623.3 350.8 635.1 352.2 643.8 354.1 650.6 355 652.9 356.1 655 357.7 657 358.8 657.7ZM91.7 598.9 92.7 599.4 93.6 599.4 94.5 598.9 95.4 598 96.3 596.4 97.2 594.1 97.9 591.6 98 589.8 98.5 579 98.5 571.7 98.3 565.4 97.2 555.3 96.3 551 95.4 548.3 94.5 546.6 93.6 545.8 92.7 545.8 91.8 546.5 90.9 548 90 550.5 89 554.5 88.1 561.8 87.6 572.6 87.7 582.6 88.2 591.6 89 594.4 90 596.5 90.9 598 91.7 598.9ZM199.7 598.9 200.2 599.2 201.1 599.4 202 599.2 202.9 598.4 203.8 597.2 204.7 595.2 205.7 591.6 206.3 580.8 206.3 568.1 205.8 560.9 205.2 556.3 204.7 553.3 203.5 549.1 202.9 547.5 202.1 546.4 201.1 545.7 200.2 546 199.2 547 198.3 548.8 197.4 551.9 196.5 556.8 196.1 560 195.5 570.8 195.5 581.7 196.1 591.6 196.5 593.3 197.4 595.7 198.3 597.4 199.7 598.9ZM307.5 598.9 308.5 599.4 309.4 599.3 310.4 598.8 311.7 597.1 312.8 594.3 313.6 591.6 314 585.9 314.2 579.9 314.2 572.6 314 566.3 313.1 556.3 312.2 551.6 311.3 548.7 310.4 546.9 309.4 545.9 308.5 545.7 307.6 546.3 306.7 547.6 305.8 549.9 304.9 553.6 303.9 560.9 303.3 571.7 303.3 581.7 303.9 591.6 304.9 594.8 305.8 596.8 306.7 598.2 307.5 598.9ZM415.3 598.9 416 599.3 416.9 599.4 417.8 599.1 418.7 598.3 419.5 597.1 420.5 594.7 421.4 591.6 422 581.7 422 569 421.5 561.8 421 557.2 420.5 554.1 419.5 550 418.4 547.3 417.8 546.4 416.9 545.8 416 545.9 415.1 546.7 414.2 548.4 413.3 551.2 412.4 555.7 411.9 559.1 411.4 564 411.2 569.9 411.2 581.7 411.8 591.6 412.4 593.8 413.3 596.1 414.2 597.7 415.3 598.9Z" fill="#40ffcd"/>
<path d="M117.4 808.8 118.2 809.3 119.1 809.5 120 809.1 120.9 808.2 121.8 806.8 122.7 804.8 123.6 802 124.6 798.2 125.9 789.8 126.9 779.9 127.6 769 127.9 755.4 128 743.7 127.6 731 126.9 721 125.9 712 124.6 704.9 123.6 701.8 122.7 699.6 121.8 698 120.9 697 120 696.4 119.1 696.2 118.2 696.5 117.3 697.1 116.4 698.2 115.5 699.8 113.9 703.9 112.7 708.7 111.8 714.1 110.8 722.9 110.1 733.7 109.8 744.6 109.8 757.2 110.2 769 110.9 781.2 111.8 789.8 112.9 797.1 114.5 803.4 116 807 117.4 808.8ZM225.3 808.8 225.7 809.2 226.6 809.5 227.5 809.3 228.4 808.6 229.3 807.5 230.2 805.7 231.1 803.2 232.2 798.9 233.6 790.7 234.6 781.7 235.3 770.8 235.7 759.1 235.8 744.6 235.5 733.7 234.8 721 233.9 712.9 232.8 706.6 232 703.5 231.1 700.8 230.2 698.9 229.3 697.5 228.4 696.7 227.5 696.3 226.6 696.3 225.7 696.7 224.7 697.5 223.8 698.8 222.9 700.6 222 703 220.6 708.4 219.3 716.5 218.6 723.8 218 733.7 217.6 744.6 217.7 757.2 218 769 218.5 778.1 219.4 788 220.4 795.3 222 802.3 222.9 805 223.8 807 224.7 808.3 225.3 808.8ZM333.1 808.8 334 809.4 334.9 809.4 335.9 809 336.8 808 337.7 806.5 338.6 804.3 339.5 801.4 340.4 797.4 341.5 790.7 342.5 780.8 343.2 770.8 343.6 757.2 343.7 744.6 343.3 731 342.5 720.1 341.6 712 340.4 705.5 339.5 702.3 338.6 699.9 337.7 698.3 336.8 697.1 335.9 696.5 334.9 696.2 334 696.4 333.1 697 332.2 698 331.3 699.5 329.6 703.9 328.6 707.9 327.5 713.8 326.5 722.9 325.8 732.9 325.4 744.6 325.5 757.2 325.8 769 326.6 780.8 327.4 788.9 328.4 796.2 329.5 801 330.4 804 331.3 806.3 332.2 807.9 333.1 808.8ZM433.3 755.4 433.3 755.7 433.3 742.8 433.3 755.4ZM142.9 645.9 143.7 646.3 144.6 646.4 145.5 646.1 146.4 645.4 147.3 644.3 149.1 640.6 151 634.2 152.4 626 153.3 617 154 606.1 154.4 593.4 154.3 579 153.9 565.4 153 553.6 151.9 544.6 150.7 538.2 149 532.8 147.3 529.5 146.4 528.4 145.5 527.8 144.6 527.5 143.7 527.6 142.8 528 141.9 528.9 140.5 531 139 534.6 137.3 541.5 136.3 548.2 135.4 557.2 134.6 569 134.3 580.8 134.3 593.4 134.6 605.2 135.4 617.9 136.4 626.9 137.5 633.3 139.1 639.6 141 643.7 141.9 645 142.9 645.9ZM250.8 645.9 252.1 646.4 253 646.2 253.9 645.7 254.8 644.8 255.7 643.4 256.7 641.4 257.5 639.1 258.8 634.2 260.3 625.8 261.2 617.3 261.9 605.2 262.3 592.5 262.2 578.1 261.7 565.4 261 554.5 259.8 544.6 258.4 537.8 257.5 534.6 256.6 532.1 255.7 530.3 254.8 529 253.9 528.1 253 527.6 252.1 527.5 251.2 527.7 250.2 528.3 249.3 529.3 247.9 531.9 246.3 536.4 244.8 543.6 243.9 550.2 243 560.3 242.4 571.7 242.1 583.5 242.2 595.3 242.5 607 243.2 617 244.1 626 245.3 633.3 246.7 638.7 248.4 643.1 249.3 644.5 250.8 645.9ZM358.6 645.9 359.5 646.3 360.4 646.4 361.4 646 362.3 645.2 363.2 644 365 640.2 366.8 633.5 368.1 626 369 617 369.7 607 370.1 594.3 370 579.9 369.6 566.3 368.8 554.5 367.7 545.4 366.4 538.2 364.7 532.8 364.1 531.3 362.8 529.2 361.4 527.9 360.4 527.5 359.5 527.5 358.6 527.9 357.7 528.7 356.7 530.1 355 533.8 354.1 536.7 353.2 540.7 352.1 547.3 351 557.2 350.4 567.2 350 580.8 350 593.4 350.3 606.1 351 617 352 626 353.2 633.3 355 640.1 356.8 644 357.7 645.2 358.6 645.9Z" fill="#40fff5"/>
<path d="M119 778.1 120 777.3 120.9 775.5 121.8 772.2 122.4 769 122.9 765.4 123.4 759.1 123.7 748.2 123.7 744.6 123.4 740.1 122.7 734.1 122.2 731 120.9 726.5 120 724.9 119.1 724.4 118.2 724.7 117.3 725.9 116.4 728.2 115.5 731.9 114.4 740.1 114 744.6 114 748.2 114.4 760.9 115.5 769.9 116.4 774.1 117.3 776.6 118.2 777.9 119 778.1ZM226.5 778.1 227.5 777.8 228.4 776.4 229.3 773.7 230.2 769.3 231.2 760 231.6 748.2 231.5 744.6 231.2 739.1 230.2 731.8 229.3 728 228.4 725.7 227.5 724.6 226.6 724.4 225.7 725 224.7 726.7 223.8 729.5 223.3 731.9 222.8 734.6 222.1 741 221.8 748.2 222.1 758.2 223 768.1 223.8 772.6 224.7 775.7 225.7 777.5 226.5 778.1ZM333.3 777.2 334 778 334.9 778 335.9 777.1 336.8 775 337.1 773.5 337.7 771.4 338.6 765.3 339.3 753.6 339.4 744.6 338.6 735.3 337.7 730 336.8 726.9 335.9 725.2 334.9 724.4 334 724.5 333.1 725.6 332.2 727.7 331.5 730.1 330.4 736.7 329.7 744.6 329.8 754.5 330.4 764.5 331.5 771.7 332.2 774.6 333.3 777.2ZM143.6 616.1 144.6 616.3 145.5 615.7 146.4 614.3 147.6 610.6 148.4 607 149.1 601 149.7 590.7 149.7 584.4 149.4 577.2 149 572.6 148.2 566.9 147.3 562.7 146.4 560.1 145.5 558.6 144.6 557.9 143.7 558.1 142.8 559.2 141.9 561.2 141 564.4 140 569.7 139.6 573.5 139.2 579.9 139 585.3 139.1 595.3 140 605.2 141 610.2 141.9 613.3 142.8 615.2 143.6 616.1ZM251.5 616.1 252.1 616.4 253 616.1 253.9 615 254.8 612.9 255.7 609.6 256.6 604.3 257 600.7 257.6 589.8 257.5 583.5 257.2 577.2 256.6 570.6 255.9 566.3 254.8 561.5 253.9 559.4 253 558.2 252.1 557.9 251.2 558.5 250.2 559.9 249.3 562.3 248.4 566.3 247.4 574.4 246.8 586.2 247.1 597.1 247.5 602.2 248.2 607 249.4 612.4 250.2 614.5 251.2 615.9 251.5 616.1ZM359.3 616.1 359.5 616.3 360.4 616.3 361.4 615.5 362.3 613.9 363.2 611.2 364.1 606.8 364.7 602.5 365.1 598 365.4 591.6 365.4 585.3 365.1 578.1 364.1 567.9 363.2 563.4 362.3 560.5 361.4 558.8 360.4 558 359.5 558 358.6 558.9 357.7 560.7 356.8 563.7 355.9 568.6 355.4 572.6 355 577.6 354.7 584.4 354.9 596.2 355.9 606.3 356.8 610.9 357.7 613.7 358.6 615.4 359.3 616.1Z" fill="#40e1ff"/>
<path d="M78.6 820.6 104.1 820.6 104.5 800.5 104.7 743.7 104.5 704.9 104 683 103.6 674.9 102.7 666.2 101.7 661.3 100.9 658.7 100 656.8 98.1 654.3 95.4 652.2 92.7 650.8 86.1 648.6 84.2 647.7 83.6 647.2 82.7 646.1 81.8 643.4 81.1 626 80.6 592.5 80.5 552.7 80.1 523.8 79.8 512 79 501.7 78.3 496.6 77.6 493.9 76.5 491.2 75.4 489.3 73.6 487.5 71.7 486.5 69 485.7 65.4 485.5 62.6 485.9 59.9 487 58.1 488.4 56.7 490.3 55.3 493.2 54.4 496.6 53.8 501.1 53.3 505.7 52.6 521.3 52.2 569 52.4 630.5 52.6 652.8 53 663.1 53.5 675.2 54.3 682.1 55.3 687.1 56.3 689.4 57.2 690.9 58.1 692.1 59.9 693.5 61.7 694.5 63.5 695.1 66.3 695.8 69 696.1 71.7 696.2 76.3 696 77.2 696.9 77.9 729.2 78.1 787.1 78.6 820.6ZM137.2 819.7 137.6 820.6 154.6 820.6 155.5 818.2 156.4 814.9 157.5 807.9 158.3 797.1 158.7 775.3 158.7 744.6 158.5 733.7 158.1 726.5 157.3 720.1 156.4 716.9 155.5 714.8 154.6 713.5 152.8 711.8 151 711 149.1 710.6 146.4 710.6 143.7 711.2 141 712.5 139.1 714.1 137.5 716.5 136.3 719.2 135.3 722.9 134.4 728.3 133.7 737.4 133.4 744.6 133.4 775.3 133.7 793.7 134.2 803.4 134.8 809.7 135.8 815.2 137.2 819.7ZM186.5 820.6 212 820.6 212.4 788.9 212.5 746.4 212.3 711.1 212 686.7 211.4 674.9 210.7 667.7 209.8 662.2 209.3 660.2 208.3 657.7 206.5 654.9 204.7 653.2 203.4 652.3 200.2 650.7 194 648.6 192 647.7 191 646.9 190.1 645.3 189.6 643.2 189.2 640.8 188.7 615.2 188.1 529.2 187.6 512 187 502.9 186.5 498.8 185.6 494.4 184.7 491.8 183.3 489.4 181.5 487.6 179.2 486.3 176.5 485.6 173.7 485.5 171 485.8 168.3 486.7 166.5 487.9 165.5 488.8 164.5 490.3 163.3 493 162.3 496.6 161.6 501.1 161 507.5 160.5 519.2 160.2 536.4 160 579 160.1 628 160.4 648.6 160.9 665.8 161.5 676.7 162.2 683 162.8 685.8 163.7 688.5 164.6 690.4 165.5 691.6 167 693 168.4 693.9 170.1 694.7 172.8 695.5 177.4 696.1 180.1 696.2 183.8 696 184.7 696.3 185.2 704.8 185.6 718.3 185.9 744.6 186.1 793.4 186.5 820.6ZM245.4 820.6 262.4 820.6 263.4 817.9 264.4 814.3 265.6 806.1 266.3 792.5 266.6 771.7 266.6 743.7 266.3 732.8 265.8 724.7 264.8 718.8 263.9 716 263 714.2 261.9 712.9 260.3 711.6 258.4 710.9 256.6 710.5 253.9 710.6 251.2 711.3 248.4 712.8 246.5 714.7 244.9 717.4 243.8 720.1 242.9 723.8 242 730.2 241.2 744.6 241.2 776.3 241.6 795.3 242 804 243 811.9 243.9 816.2 245.4 820.6ZM294.3 820.6 319.8 820.6 320.3 784.4 320.4 741.9 320.2 707.5 319.6 682.1 319.1 673.1 318.3 665.8 317.1 660.4 315.6 656.8 314 654.5 311.2 652.3 307.6 650.6 301.2 648.4 299.4 647.4 298.5 646.4 297.6 644.1 296.7 631.5 296.2 592.5 295.8 525.6 295.5 513.8 294.9 503.3 294.3 498.4 293.5 494.8 292.6 492.1 291.2 489.5 289.4 487.6 287.6 486.5 284.8 485.7 281.2 485.5 278.5 485.9 275.7 486.9 273.9 488.3 272.3 490.3 271.2 492.7 270.3 495.9 269.4 501.1 269 505.7 268.5 516 268.2 525.6 267.9 569 268 624.2 268.5 661.3 269.2 674.9 269.9 682.1 270.4 684.8 271.2 687.6 272.1 689.7 273 691.1 273.9 692.2 275.7 693.6 278.5 694.9 281.2 695.6 284.8 696.1 292.1 696 293 697.5 293.6 732.8 293.9 798.9 294.3 820.6ZM352.9 819.7 353.3 820.6 370.2 820.6 371.4 817.7 372 815.2 373.2 808.4 374.1 795.1 374.4 777.2 374.4 744.6 374.1 731.9 373.7 726.5 372.9 720.1 372.3 717.4 371.4 715.2 370.5 713.7 368.6 712 366.8 711 365 710.6 363.2 710.5 361.4 710.7 358.6 711.4 356.2 712.9 354.3 714.7 353.1 716.5 351.7 720.1 350.6 724.7 350 729.2 349.5 734.8 349.1 744.6 349.1 776.3 349.4 795.3 349.8 802.5 350.5 809.7 351.3 814.7 352.9 819.7ZM402.2 820.6 427.7 820.6 428 793.4 428.1 744.6 428 703.9 427.6 685.8 426.9 673.1 426.3 666.7 425.2 661.3 424 657.7 422.3 655 420.5 653.3 419.1 652.3 416 650.8 408.7 648.3 406.9 647 406 645.7 405.1 642.2 404.6 624.2 404.1 592.5 404 556.3 403.7 529.2 403.2 511.1 402.6 502 401.9 497.5 401.1 493.9 400.1 491.2 398.7 489 396.9 487.4 395 486.4 392.3 485.6 389.6 485.4 386.9 485.7 384.1 486.6 382.3 487.8 380.5 489.8 379.3 492.1 378.2 495.7 377.5 499.3 376.8 505.7 376.3 516.5 375.9 531.5 375.7 566.3 375.9 636.9 376.5 663.1 377 674 377.7 682 378.7 686.7 379.6 688.9 380.5 690.6 381.7 692.1 383.2 693.4 385 694.4 386.9 695.1 389.6 695.7 392.3 696.1 395 696.2 399.6 696 400.5 696.5 401 708.4 401.3 725.6 401.6 744.6 401.7 791.6 402.2 820.6ZM114.5 631.5 115.5 631.5 117.3 631.2 119.1 630.5 120 629.9 121.8 628.1 122.7 626.9 124.6 623.2 125.5 620.4 126.3 617 127.3 610 128.2 598.9 128.4 591.6 128.4 564.5 128.2 540.4 127.6 523.8 126.7 513.8 125.5 506.5 124.6 503.4 123.6 501.1 122.6 499.3 120.9 497.5 119.1 496.4 117.3 496.1 115.5 496.3 114.5 496.7 112.7 498.1 110.9 500.7 110 502.7 109.1 505.5 108.1 510.2 107.2 517.4 106.4 529.2 106.1 540 105.9 563.6 105.9 591.6 106.3 607 106.8 615.2 107.6 621.5 108.2 624.1 109.1 626.7 110.2 628.7 111.8 630.4 112.7 630.9 114.5 631.5ZM222.5 631.5 223.8 631.5 225.7 631.1 227.5 630.1 228.4 629.4 229.9 627.8 231.1 626 232.9 621.7 234.1 617 235 610.6 235.7 604.1 236.3 591.6 236.3 564.5 236 541 235.6 527.4 234.7 514.7 233.8 509 233.1 505.7 232 502.4 231.1 500.4 230.2 499 228.4 497.2 226.6 496.3 224.7 496.1 222.9 496.5 222 496.9 221.1 497.6 219.6 499.3 218.4 501.4 217.7 502.9 216.5 507 215.6 512.1 214.7 521.1 214.2 532.8 213.8 546.4 213.8 596.2 214.1 607 214.7 616.5 215.6 622.6 216.5 625.8 217.5 627.8 218.4 629.2 219.3 630.1 221.1 631.1 222.5 631.5ZM330.3 631.5 331.3 631.5 333.1 631.2 334.9 630.4 335.9 629.7 337.7 627.9 338.6 626.6 340.4 622.8 341.3 619.8 341.9 617 342.9 610.6 343.6 602.5 344.1 592.5 344.1 561.8 343.9 542.8 343.2 523.8 342.4 513.8 341.3 507.2 340.4 503.9 339.3 501.1 338.2 499.3 336.8 497.6 334.9 496.5 333.1 496.1 331.3 496.3 330.4 496.6 329.5 497.2 328.1 498.4 326.4 501.1 324.7 505.7 323.6 511.1 322.8 518.3 322.2 527.6 321.8 541 321.5 564.5 321.5 591.6 321.9 606.1 322.5 615.2 323.5 622.4 324 624.7 324.9 627.1 325.9 628.7 327.7 630.5 328.6 631 330.3 631.5ZM433.2 627.8 433.3 628.1 433.3 503.2 432.4 506.3 431.5 510.9 430.7 517.4 430.3 523.8 429.6 539.1 429.4 572.6 429.5 597.1 429.7 604.6 430.1 612.4 430.6 617.9 431.3 622.4 432.3 626 433.2 627.8Z" fill="#7cff40"/>
<path d="M83.3 820.6 99.4 820.6 100.9 810.1 102.1 793.4 102.8 772.6 103.1 744.6 102.6 721 102.1 710.2 101.4 702 100.9 696.5 100 690.3 99.1 685.9 97.7 681.2 96.3 678.1 94.5 675.4 92.7 673.9 90.9 673.3 89 673.6 87.2 674.9 85.4 677.6 84.5 679.6 83 684.8 81.8 691.5 80.8 694.9 80.3 698.4 79.9 703.8 79.6 731.9 79.8 761.8 80.1 779 80.7 793.4 81.3 803.4 82.2 812.5 83.3 820.6ZM191 819.7 191.2 820.6 207.3 820.6 208.3 813.4 208.9 807.9 210 791.6 210.7 769 210.9 743.7 210.3 718.3 209.3 701.6 208.4 693.9 207.6 689.4 206.5 684.5 205.5 681.2 203.8 677.5 202 675 200.2 673.7 198.3 673.3 196.5 673.8 194.7 675.3 193.2 677.6 192.1 680.3 191 683.8 190.4 686.7 189.2 694.3 188.3 695.8 188 701.1 187.6 712 187.5 727.4 187.6 759.1 187.9 777.2 188.3 789.7 189.1 803.4 190.1 813.6 191 819.7ZM299 820.6 315.1 820.6 316.7 808.4 317.7 795.3 318.5 771.4 318.7 744.6 318.2 721 317.7 709.3 317.1 702 316.4 695.7 315.5 689.4 314.5 684.8 313.1 680.5 312.2 678.5 310.4 675.6 308.5 674 306.7 673.3 304.9 673.5 303.1 674.7 301.6 676.7 300.3 679.2 299.4 681.8 298.5 685.4 297.3 692.1 296.7 696.9 296.1 698.4 295.8 700.1 295.4 712.9 295.3 729.2 295.4 760 295.8 779.4 296.3 792.5 296.9 802.5 297.7 811.5 299 820.6ZM406.8 820.6 423 820.6 423.9 814.3 424.6 807.9 425.7 791.6 426.4 769.9 426.6 743.7 426 718.7 424.9 701.1 424.2 694.9 423.3 689.2 422.4 685.1 420.8 680.3 419.6 677.8 417.8 675.2 416 673.8 414.2 673.3 412.4 673.7 410.5 675.1 408.9 677.6 407.8 680.2 406.3 685.8 405.1 693 404.2 695 403.5 702.9 403.2 712.2 403.1 730.1 403.3 760 403.6 779 404.2 793.1 404.9 804.3 405.9 814.3 406.8 820.6ZM143.8 802.5 145.5 803.2 146.4 803.2 148.2 802.6 150.1 800.8 151 799.3 151.9 797.3 153.1 793.4 154.1 788 154.8 781.7 155.2 773.5 155.4 761.8 155.2 747.3 155.1 743.7 154.3 738.2 153.7 735.3 152.8 732.2 151.9 730.1 151 728.6 149.1 726.7 148.2 726.2 146.4 725.8 144.6 726.2 142.8 727.4 141.3 729.2 140 731.5 139.1 733.9 138.2 737.2 137.3 742 137 745.5 136.8 756.3 136.9 770.8 137.2 779.9 137.8 786.2 138.9 792.5 140 796.7 141 798.9 141.9 800.4 142.8 801.6 143.8 802.5ZM251.7 802.5 253 803.1 253.9 803.3 255.7 802.8 257.5 801.2 258.4 799.9 259.3 798.2 260.7 794.4 261.8 788.9 262.5 782.6 263 775.1 263.2 764.5 263.1 748.2 263 744.4 262.2 738.2 261.1 733.7 260.3 731.3 259.3 729.4 257.5 727.1 256.6 726.4 254.8 725.8 253 726 251.2 726.9 249.3 728.9 248.4 730.4 247.5 732.4 246.5 735.5 245.6 739.1 244.8 744.6 244.6 755.4 244.7 770.8 245 779 245.7 786.5 246.6 792.1 248 797.1 249.3 799.9 250.2 801.2 251.7 802.5ZM359.5 802.5 360.4 803 361.4 803.2 362.3 803.2 363.2 803 364.1 802.5 365.9 800.5 367.6 797.1 368.7 793.4 369.8 788 370.5 781.7 370.8 774.4 371 763.6 370.9 748.2 370.8 743.7 370 738.2 368.6 732.7 367.7 730.4 366.8 728.8 365 726.8 364.1 726.2 362.3 725.8 360.4 726.1 358.6 727.2 357 729.2 356 731 355 733.4 354.1 736.5 353.2 741 352.7 744.6 352.5 754.5 352.5 769.9 352.8 778.1 353.4 785.3 354.4 791.6 355.9 797.1 356.8 799.2 357.7 800.7 359.5 802.5ZM65.1 673.1 66.3 673.4 67.2 673.4 68.1 673 69 672.4 69.9 671.3 70.8 669.9 72.6 665.8 74.5 659.6 75.7 653.2 77.2 640.5 78.1 636 78.6 626.9 78.9 613.4 78.8 578.1 78.4 558.1 77.7 541 76.5 527.4 75.8 521.9 74.9 517.4 73.6 512.9 72.6 510.4 71.5 508.4 69.9 506.4 68.1 505.1 66.3 504.8 64.5 505.2 63.5 505.7 61.8 507.5 60.8 509 59.9 510.8 58.8 513.8 58.1 516.4 57.1 521 55.8 531 54.9 543.7 54.3 559.1 53.9 579.9 54 600.7 54.4 621 55.3 636.9 56.3 647.1 57.2 653.6 58.1 658.4 59.9 664.9 61.7 669.2 62.6 670.8 63.5 671.9 65.1 673.1ZM172.9 673.1 173.7 673.4 174.6 673.4 175.6 673.2 176.5 672.7 177.4 671.8 178.4 670.4 180.1 666.7 181.9 661.2 182.8 657.1 183.8 651.8 186.2 632.4 186.5 628 186.7 617 186.6 581.7 186.4 563.6 185.7 543.7 184.7 530 183.8 522.9 183.1 519.2 182 514.7 181 511.7 179.9 509.3 178.3 506.9 176.5 505.4 174.6 504.8 172.8 505 171.9 505.4 170.5 506.6 169.2 508.1 168.3 509.7 166.9 512.9 165.9 516.5 165.1 520.1 163.7 530 162.8 541.5 162.1 557.2 161.8 574.4 161.8 596.2 162.1 615.2 162.8 632.1 163.9 645 164.6 651.2 165.5 656.6 167.4 663.8 168.3 666.3 170.1 670.2 171.7 672.2 172.9 673.1ZM280.8 673.1 282.1 673.4 283 673.3 283.9 672.9 284.8 672.2 285.8 671.1 286.7 669.6 288.5 665.3 290.3 658.9 291.9 649.6 293 638.5 294 634.7 294.3 626 294.5 614.3 294.5 579 294.1 558.1 293.3 540 292.2 527.4 291.3 521 290.6 517.4 289.4 513.2 288.5 510.8 287.2 508.4 285.8 506.5 283.9 505.2 282.1 504.8 280.3 505.1 279.4 505.6 277.6 507.4 276.7 508.7 275.7 510.4 274.5 513.8 272.8 521 271.5 531 270.5 543.7 269.9 559.1 269.6 579 269.6 600.7 270.1 621.5 271 636.9 272.1 648.4 273 654.5 273.9 659.1 275.7 665.4 277.6 669.5 278.5 671 279.4 672.1 280.8 673.1ZM388.6 673.1 389.6 673.4 390.5 673.4 391.4 673.1 392.3 672.5 393.2 671.6 394.1 670.3 396 666.3 397.8 660.5 399.5 651.4 401.7 634.2 402.2 626 402.4 614.3 402.3 579.9 402 560 401.3 542.8 400.1 528.3 399.6 523.8 398.6 518.3 397.4 513.8 396 510.2 395 508.4 393.2 506.2 391.4 505.1 389.6 504.8 387.8 505.3 386.9 505.9 385.3 507.5 384.1 509.4 382.3 513.8 381.4 517.2 380.5 521.8 379.2 531.9 378.3 544.6 377.7 559.8 377.4 580.8 377.5 600.7 377.9 618.8 378.7 634.7 379.8 646.8 381.4 657.4 383.2 664.3 384.1 666.7 385.9 670.4 386.9 671.7 388.6 673.1ZM114.9 610.6 116.4 611.3 117.3 611.3 118.2 611 119.1 610.3 120 609.3 121.8 606.1 123.3 601.6 124.5 596.2 125.1 591.6 125.3 587.1 125.4 574.4 125.2 562.7 124.6 551.1 123.6 542.9 122.6 537.3 121.8 534.1 120.9 531.6 120 529.8 119.1 528.6 118.2 527.9 117.3 527.6 116.4 527.8 115.5 528.4 114.5 529.4 113.6 531 112.9 532.8 111.8 536.6 110.9 541.2 110 548.3 109.4 556.3 109 564.5 108.9 582.6 109.2 591.6 109.5 594.3 110.5 600.7 111.8 605.7 112.7 607.8 113.6 609.3 114.9 610.6ZM222.7 610.6 223.8 611.2 224.7 611.3 225.7 611.1 226.6 610.6 227.5 609.8 228.4 608.6 229.6 606.1 231.1 601.8 232.2 597.1 233 591.6 233.1 586.2 233.3 573.5 233 560.9 232.4 550.9 231.5 542.8 230.2 536.1 229.3 533 228.4 530.8 227.5 529.3 226.6 528.3 225.7 527.7 224.7 527.6 223.8 528 222.9 528.7 222 530 220.5 533.7 219.3 538.3 218.4 543.7 217.6 550.9 216.8 566.3 216.8 584.4 217 591.6 217.5 595.6 218.4 601 219.5 605.2 221.1 608.8 222 610 222.7 610.6ZM330.6 610.6 331.3 611.1 332.2 611.3 333.1 611.2 334 610.9 334.9 610.2 335.9 609.1 337.5 606.1 338.6 603.1 339.8 598 340.7 592.5 340.9 588 341.1 575.3 340.9 563.6 340.4 553.2 339.5 544.1 338.5 538.2 337.7 534.7 336.8 532 335.9 530.1 334.9 528.8 334 528 333.1 527.6 332.2 527.7 331.3 528.2 330.4 529.2 329.5 530.7 328.6 532.8 327.7 535.9 326.7 540.2 325.8 546.7 325.1 555.4 324.7 563.6 324.6 579.9 324.8 589.8 325 593.4 326 599.8 327.4 605.2 328.6 608.1 329.5 609.6 330.6 610.6ZM433.2 596.2 433.3 596.8 433.3 550.5 432.6 561.8 432.4 574.4 432.7 590.7 433.2 596.2Z" fill="#a4ff40"/>
<path d="M88.6 819.7 89.3 820.6 93.6 820.5 95.2 817.9 96.3 815.2 98 808.8 99.3 800.7 100.5 788.9 101.2 776.3 101.7 760 101.8 744.6 101.3 728.3 100.5 715.6 99.3 704.8 97.8 696.6 96.7 693 95.6 690.3 94.5 688.4 93.6 687.2 92.7 686.5 91.8 686 90.9 685.9 90 686 89 686.5 88.1 687.4 87.2 688.7 86.3 690.5 85.4 692.9 84 698.4 82.9 705.7 82.1 713.8 81.4 723.8 81.1 735.5 81 752.7 81.3 768.1 81.8 781 82.7 793.7 83.7 802.5 85.4 811.5 87.2 817.2 88.6 819.7ZM196.4 819.7 197.2 820.6 201.3 820.6 202.9 818.3 203.8 816.2 205.6 809.8 207.2 800.7 208.3 789.8 209 777.2 209.5 764.5 209.6 744.6 209.3 731.9 208.5 717.4 207.4 706.6 206.5 700.8 205.6 696.6 203.8 691.1 202 687.9 201.1 686.9 200.2 686.2 199.2 685.9 198.3 685.9 197.4 686.2 196.5 686.9 195.2 688.5 193.5 692.1 192 697.8 190.9 703.9 190 712 189.4 722 189 733.7 188.8 750 189 765.4 189.5 778.1 190.3 790.7 191.3 800.7 192.9 809.9 194.7 816.3 196.4 819.7ZM304.3 819.7 305 820.6 309.1 820.6 309.4 820.3 310.4 819 311.3 817.1 312.2 814.6 313.3 810.6 314.9 801.4 316 791.6 316.8 779 317.3 761.8 317.5 744.6 317 729.2 316.2 715.6 315 704.8 314 698.9 313.2 695.7 312.2 692.4 311.3 690.3 309.4 687.4 308.5 686.6 307.6 686.1 306.7 685.9 305.8 686 304.9 686.4 304 687.2 302.5 689.4 301 693 299.5 699.3 298.5 705.8 297.6 715.5 297.1 725.6 296.8 736.4 296.7 752.7 296.9 767.2 297.5 782.6 298.3 793.4 299.4 802.8 300.7 809.7 302.2 815.2 303.1 817.6 304.3 819.7ZM412.1 819.7 412.8 820.6 417 820.6 417.8 819.6 418.7 817.9 419.6 815.7 421.5 809 423.1 798.9 424.1 788 424.8 775.3 425.2 760.9 425.3 744.6 424.9 730.1 424.2 717.2 422.9 704.8 421.5 697.3 420.5 694 419.5 691.2 418.1 688.5 416.9 687 416 686.3 415.1 685.9 414.2 685.9 413.3 686.1 412.4 686.7 411.4 687.7 410.5 689 409.6 690.9 408.7 693.5 407.5 698.4 406.5 704.8 405.6 712.9 404.9 724.7 404.6 735.5 404.5 751.8 404.7 766.3 405.1 778.1 406 791.3 407.1 801.6 408.7 810.6 410.5 816.7 412.1 819.7ZM145.3 789.8 146.4 790 147.3 789.6 148.2 788.7 149.1 787.2 150.1 784.9 151 781.2 151.6 777.2 152 772.6 152.2 766.3 152.2 752.7 151.8 744.6 151 741.4 149.5 738.2 148.2 736.7 147.3 736.1 146.4 735.8 145.5 735.9 144.6 736.3 143.7 737.1 142.8 738.3 141.5 741 140.3 744.6 139.9 752.7 140 769.9 140.4 775.3 140.9 779.9 141.9 784.2 142.8 786.8 143.7 788.4 144.6 789.4 145.3 789.8ZM253.1 789.8 253.9 790 254.8 789.8 255.7 789.1 256.6 787.9 257.4 786.2 258.3 783.5 259 779.9 259.5 776.3 260.1 765.4 260 751.8 259.8 746.4 259.5 743.7 258.4 740.4 257.5 738.5 256.7 737.3 255.7 736.4 254.8 735.9 253.9 735.8 253 736 252.3 736.4 251.2 737.5 249.7 740.1 248.7 742.8 248.1 745.5 247.8 754.5 247.9 769 248.2 774.4 248.7 779 249.3 782.7 250.2 785.8 251.3 788 252.1 789.1 253.1 789.8ZM361 789.8 362.3 790 363.2 789.5 363.7 788.9 365 786.9 365.9 784.4 366.8 780.3 367.2 777.2 367.9 767.2 367.9 753.6 367.5 744.6 366.5 741 365 737.9 364.1 736.8 363.2 736.1 362.3 735.8 361.4 735.9 360.4 736.2 359.5 736.9 358.5 738.2 357.1 741 356 744.6 355.6 751.8 355.7 769 355.9 773.5 356.5 779 357.4 783.5 358.6 787.1 359.5 788.6 360.4 789.6 361 789.8ZM65.2 657.7 66.3 658 67.2 657.9 68.1 657.4 69 656.6 69.9 655.4 70.8 653.8 72.1 650.5 74 643.2 75.4 634.1 76.3 624.2 77.1 609.7 77.4 594.3 77.3 576.2 76.9 560 76.1 547.3 74.8 535.5 73.4 528.3 72.6 525.3 71.4 521.9 70 519.2 69 518.1 68.1 517.3 67.2 516.9 66.3 516.8 65.4 517 64.5 517.4 63.5 518.2 61.7 521 59.9 525.9 59 529.5 58.1 534.4 57.1 541.9 56.2 553.6 55.5 568.1 55.3 582.6 55.3 598.7 55.8 613.4 56.5 625.1 57.6 636 59 644.2 60.8 650.9 62.6 655 63.5 656.3 64.5 657.2 65.2 657.7ZM173.1 657.7 173.7 657.9 174.6 658 175.6 657.6 176.5 657 177.4 656 178.3 654.5 180.1 650.1 181.9 642.7 183.2 634.2 184.2 623.3 184.9 610.6 185.2 596.2 185.2 578.1 184.8 560.9 183.9 547.3 182.8 537 181.9 531.4 181.1 527.4 179.3 521.9 178.3 520 177.4 518.7 176.5 517.7 175.6 517.1 174.6 516.8 173.7 516.8 172.8 517.1 171.9 517.7 171 518.7 170.1 520 168.3 524.1 167.4 527.2 166.5 531.3 165.2 540 164.2 550.9 163.5 563.6 163.2 579.9 163.2 597.1 163.6 613.4 164.5 626.9 165.5 636.6 167.2 645.9 168.8 651.4 170.1 654.3 171 655.8 171.9 656.9 173.1 657.7ZM281 657.7 282.1 658 283 657.8 283.9 657.3 284.8 656.4 285.8 655.2 287.6 651.2 288.5 648.3 289.7 643.2 291.2 632.7 292.1 622.3 292.8 608.8 293.1 594.3 293 576.8 292.5 560 291.7 546.4 290.5 535.5 289.5 530.1 288.7 526.5 287.6 523.1 286.7 521 285.8 519.4 284.8 518.2 283.9 517.4 283 517 282.1 516.8 281.2 516.9 280.3 517.3 279.4 518.1 277.6 520.7 275.7 525.3 274.8 528.8 273.9 533.4 272.8 541.9 271.9 552.7 271.2 567.2 271 581.7 271 597.1 271.4 611.5 272.1 624.1 273.2 635.1 274.8 645 276.7 651.4 278.5 655.3 279.4 656.5 281 657.7ZM388.8 657.7 389.6 658 390.5 657.9 391.4 657.6 392.3 656.8 393.1 655.9 394.1 654.2 396 649.6 397.8 641.8 399 633.3 400 622.4 400.7 608.8 400.9 594.3 400.9 577.2 400.5 561.8 399.6 547.1 398.4 536.4 396.9 527.9 395 522.2 394 520.1 392.3 517.9 391.4 517.2 390.5 516.9 389.6 516.8 388.7 517 387.8 517.6 386.9 518.5 385 521.4 383.2 526.6 381.6 534.6 380.5 543.4 379.6 555.6 379 569.9 378.8 584.4 378.9 600.7 379.4 616.1 380.3 628.7 381.4 637.8 382.9 645.9 384.5 651.4 385.9 654.6 386.9 656 387.8 657 388.8 657.7ZM115.7 598.9 116.4 599.3 117.3 599.4 118.2 599.1 119.1 598.3 119.9 597.1 120.9 595 122 591.6 122.5 581.7 122.5 569 122.1 562.7 121.6 557.2 120.9 553.2 120 549.7 119.1 547.5 118.2 546.2 117.3 545.7 116.4 546 115.5 547 114.5 548.9 113.6 552 112.4 560 111.7 569.9 111.7 581.7 112.3 591.6 112.7 593.3 113.6 595.9 114.5 597.6 115.7 598.9ZM223.5 598.9 224.7 599.4 225.7 599.3 226.6 598.6 227.5 597.5 229 594.3 229.8 591.6 230.4 580.8 230.3 567.2 229.3 556.3 228.4 551.6 227.5 548.6 226.6 546.8 225.7 545.9 224.7 545.7 223.8 546.3 222.9 547.7 222 550 221.1 553.8 220.1 560.9 219.5 571.7 219.6 581.7 220.2 591.6 221.1 594.9 222 597 222.9 598.3 223.5 598.9ZM331.3 598.9 332.2 599.4 333.1 599.4 334 599 334.9 598.1 335.9 596.6 336.8 594.6 337.6 591.6 338.2 582.6 338.3 575.3 338.2 569 337.8 561.8 337.2 557.2 336.8 554.1 335.8 550 334.6 547.3 334 546.4 333.1 545.8 332.2 545.9 331.3 546.8 330.4 548.5 329.5 551.4 328.6 556 328.2 559.1 327.4 569 327.4 580.8 328 591.6 328.6 593.8 329.5 596.2 330.4 597.9 331.3 598.9Z" fill="#cdff40"/>
<path d="M89.9 808.8 90.9 809.4 91.8 809.4 92.7 809 93.6 808 94.5 806.5 95.4 804.4 96.3 801.4 97.2 797.5 98.6 788.9 99.5 779 100.2 767.2 100.5 752.7 100.5 743.7 100 730.5 99.1 719.2 98.1 712.2 96.6 704.8 95 700.2 93.6 697.8 92.7 696.9 91.8 696.4 90.9 696.3 90 696.6 89 697.3 88.1 698.5 87.2 700.2 85.7 704.8 84.6 710.2 83.6 718 83 725.6 82.5 733.7 82.3 744.6 82.3 756.3 82.7 768.7 83.4 780.8 84.2 788.9 85.4 796.8 86.5 801.6 88.1 806.2 89 807.8 89.9 808.8ZM197.8 808.8 198.3 809.2 199.2 809.5 200.2 809.2 201.1 808.5 202 807.2 202.9 805.3 203.8 802.7 205.1 797.1 206.5 788 207.4 778.1 208 766.3 208.3 754.5 208.3 744.5 207.9 731.9 207.2 722 206.1 712.9 204.7 705.8 203.8 702.6 202.9 700.3 202 698.6 201.1 697.4 200.2 696.6 199.2 696.3 198.3 696.3 197.4 696.8 196.5 697.7 195.6 699.1 194.1 702.9 192.9 707.9 192 713.4 191 722.2 190.4 732.8 190.1 743.7 190.1 755.4 190.5 768.1 191 778.3 192 788.2 193 795.3 193.8 799.4 194.7 802.8 195.6 805.4 196.5 807.3 197.8 808.8ZM305.6 808.8 306.7 809.4 307.6 809.4 308.5 808.9 309.4 807.8 310.4 806.2 311.3 803.9 312.2 800.8 313.1 796.7 314.2 788.9 315.2 779 315.8 768.1 316.2 753.6 316.2 744.6 315.8 732.8 314.9 720.7 313.9 712.9 312.7 706.6 311.1 701.1 310.4 699.5 309 697.5 307.6 696.4 306.7 696.2 305.8 696.5 304.9 697.1 304 698.2 303.1 699.9 302.2 702.2 301.4 704.8 300.3 709.9 299.4 716.5 298.6 725.6 298 744.6 298 757.2 298.4 769 298.9 779 299.8 788 300.8 795.3 302.2 801.5 303.1 804.4 304 806.6 304.9 808.1 305.6 808.8ZM413.5 808.8 414.2 809.3 415.1 809.5 416 809.1 416.9 808.3 417.8 806.9 418.7 804.9 419.6 802.2 421 796.2 422.4 786.5 423.2 776.3 423.8 764.5 424 751.8 424 741.9 423.3 728.3 422.4 717.4 421.5 710.9 420.1 704.8 418.5 700.2 416.9 697.6 416 696.7 415.1 696.3 414.2 696.3 413.3 696.7 412.4 697.5 411.4 698.8 410.5 700.7 409.3 704.8 408.1 710.2 407.2 717.4 406.6 724.7 406 734.6 405.8 744.6 405.9 757.2 406.2 769 406.9 780.5 407.8 789.6 409 797.1 410.5 803.4 411.4 805.8 412.4 807.5 413.5 808.8ZM65.1 645.9 66.3 646.4 67.2 646.2 68.1 645.7 69 644.7 69.9 643.2 70.8 641.2 71.7 638.5 72.6 634.9 74 626.9 75.1 617 75.7 606.1 76.1 592.5 76 578.1 75.5 564.5 74.6 552.7 73.6 543.9 72 536.4 70.5 531.9 69 529.2 68.1 528.2 67.2 527.6 66.3 527.5 65.4 527.7 64.5 528.3 63.5 529.4 62.6 530.9 61.7 533.1 60.8 535.9 59.4 542.8 58.1 551.8 57.4 560.9 56.9 571.7 56.6 583.5 56.7 595.3 57.1 607.9 57.8 618.8 58.7 626.9 59.9 633.9 60.8 637.7 61.7 640.6 62.6 642.8 63.5 644.4 64.5 645.5 65.1 645.9ZM172.9 645.9 173.7 646.3 174.6 646.4 175.6 646 176.5 645.2 177.4 643.9 178.3 642.1 179.2 639.7 180.4 635.1 181.9 626.4 182.8 617.8 183.5 607 183.9 595.3 183.9 581.7 183.6 569 182.8 556.7 181.9 547.3 180.7 540 179 533.7 177.4 530 176.5 528.7 175.6 527.9 174.6 527.5 173.7 527.5 172.8 527.9 171.9 528.7 170.5 531 169 534.6 167.4 541.7 166.5 547.7 165.5 557.2 164.9 568.1 164.5 579.9 164.5 592.5 164.8 604.3 165.5 617 166.5 626.1 167.6 633.3 169.2 639.5 170.1 641.9 171 643.8 171.9 645.1 172.9 645.9ZM280.8 645.9 281.2 646.2 282.1 646.4 283 646.2 283.9 645.5 284.8 644.5 285.8 642.9 286.7 640.8 287.6 637.9 288.5 634.1 289.7 626.9 290.7 617 291.4 606.1 291.7 593.4 291.7 579 291.2 565.4 290.4 553.6 289.4 545 288.1 538.2 286.6 532.8 284.8 529.4 283.9 528.3 283 527.7 282.1 527.5 281.2 527.6 280.3 528.2 279.4 529.2 278.3 531 276.7 535.4 275 542.8 273.9 550.9 273.1 560.9 272.6 571.7 272.3 582.6 272.3 594.3 272.7 607 273.4 617 274.3 626 275.5 633.3 276.8 638.7 278.5 643.1 279.4 644.6 280.8 645.9ZM388.6 645.9 389.6 646.4 390.5 646.3 391.4 645.9 392.3 645 393.2 643.6 394.1 641.7 395 639.2 396.5 633.3 397.8 625.1 398.7 615.7 399.3 604.3 399.6 591.6 399.5 577.2 398.9 562.7 398 550.9 396.9 542.8 395.5 536.4 394 531.9 393.2 530.2 392.3 528.9 391.4 528 390.5 527.6 389.6 527.5 388.7 527.8 387.8 528.5 386.9 529.7 385.9 531.4 385 533.7 384.1 536.7 382.9 542.8 381.8 550.9 381 560 380.5 569.9 380.2 583.5 380.2 595.3 380.6 607 381.3 618.8 382.3 627.3 383.5 634.2 385 640 385.9 642.3 386.9 644 387.8 645.3 388.6 645.9Z" fill="#f5ff40"/>
<path d="M199.1 778.1 200.2 777.6 201.1 776 202 773.1 202.9 768.3 203.8 758.9 204.1 748.2 203.8 740.7 202.6 731.9 202 729 201.1 726.4 200.2 724.9 199.2 724.4 198.3 724.7 197.4 726 196.5 728.4 195.9 731 195.3 734.6 194.7 740 194.4 747.3 194.7 759.4 195.6 768.5 196.5 773.3 197.4 776.1 198.3 777.6 199.1 778.1ZM415 778.1 416 777.4 416.9 775.6 417.8 772.4 418.4 769 419.5 759.1 419.8 749.1 419.6 742.8 418.5 732.8 417.8 729.6 416.9 726.8 416 725.1 415.1 724.4 414.2 724.6 413.3 725.7 412.4 727.9 411.4 731.6 410.5 738.2 410.1 747.3 410.4 760 411.4 769.5 412.4 773.9 413.3 776.5 414.2 777.8 415 778.1ZM90.2 777.2 90.9 778 91.8 778 92.7 777.1 93.6 775 94 773.5 94.5 771.5 95.4 765.4 96.2 753.6 96.2 744.6 95.4 735.5 94.5 730.5 93.6 727.3 92.7 725.4 91.8 724.5 90.9 724.5 90 725.3 89 727.3 88.3 730.1 87.2 736.3 86.6 744.6 86.6 754.5 87.3 764.5 88.3 771.7 89 774.6 90.2 777.2ZM305.8 777.2 306.7 778.1 307.6 777.9 308.5 776.8 309.4 774.5 309.9 772.6 310.5 769.9 311.3 763.8 311.9 750.9 311.9 744.6 311.7 741.9 311.3 737.1 310.4 731.3 309.4 727.8 308.5 725.7 307.6 724.6 306.7 724.4 305.8 725.1 304.9 726.8 304 729.9 302.9 736.4 302.2 745.5 302.3 755.4 303.1 765.6 304 771.7 304.9 775.1 305.8 777.2ZM65.7 616.1 66.3 616.4 67.2 616 68.1 614.8 69 612.6 69.9 608.9 71 600.7 71.5 589.8 71.4 582.6 71.1 576.2 70.7 571.7 69.9 565.9 69 562 68.1 559.6 67.2 558.3 66.3 557.9 65.4 558.4 64.5 559.9 63.5 562.5 62.6 566.8 61.7 574.4 61.2 586.2 61.5 598 62.5 607 63.7 612.4 64.5 614.4 65.4 615.9 65.7 616.1ZM173.5 616.1 173.7 616.3 174.6 616.3 175.6 615.4 176.5 613.6 177.4 610.6 178.3 605.7 178.7 602.5 179.3 591.6 179.2 580.1 178.3 569.3 177.4 564 176.5 560.8 175.6 558.9 174.6 558 173.7 558 172.8 558.9 171.9 560.8 171 564 170.1 569.3 169.7 572.6 169.2 579 169.1 584.4 169.2 595.6 170.1 605.6 171 610.5 171.9 613.6 172.8 615.4 173.5 616.1ZM281.3 616.1 282.1 616.4 283 615.9 283.9 614.5 285.2 610.6 285.9 607 286.7 601 287.2 590.7 287.2 584.4 286.9 577.2 286.5 572.6 285.8 566.8 284.8 562.5 283.9 559.9 283 558.4 282.1 557.9 281.2 558.3 280.3 559.6 279.4 561.9 278.5 565.8 277.4 574.4 276.9 586.2 277.1 597.1 278 606.1 278.5 608.8 279.4 612.5 280.3 614.8 281.3 616.1ZM389.3 616.1 389.6 616.3 390.5 616.2 391.4 615.2 392.3 613.2 393.2 609.9 394.1 604.4 394.5 600.7 394.9 594.3 395.1 588.9 394.6 576.2 394.1 570.6 393.3 565.4 392.3 561.3 391.4 559.2 390.5 558.1 389.6 558 388.7 558.7 387.8 560.4 386.9 563.3 385.9 568.1 385 577.1 384.7 587.1 385 598 385.9 606.7 386.9 611.2 387.8 614 388.7 615.6 389.3 616.1Z" fill="#ffe140"/>
<path d="M119.1 778.1 118.2 777.9 117.3 776.6 116.4 774.1 115.5 769.9 114.4 760.9 114 748.2 114 744.6 114.4 740.1 115.5 731.9 116.4 728.2 117.3 725.9 118.2 724.7 119.1 724.4 120 724.9 120.9 726.5 122.2 731 122.7 734.1 123.4 740.1 123.7 744.6 123.7 748.2 123.5 758.2 122.5 768.1 121.8 772.2 120.9 775.5 120 777.3 119.1 778.1M226.6 778.1 225.7 777.5 224.7 775.7 223.8 772.6 223 768.1 222.1 758.2 221.8 748.2 222.1 741 222.8 734.6 223.3 731.9 223.8 729.5 224.7 726.7 225.7 725 226.6 724.4 227.5 724.6 228.4 725.7 229.3 728 230.2 731.8 231.2 739.1 231.5 744.6 231.6 748.2 231.2 760 230.2 769.3 229.3 773.7 228.4 776.4 227.5 777.8 226.6 778.1M334 778 333.1 776.9 332.2 774.6 331.3 770.8 330.8 767.2 329.9 757.2 329.7 745.5 330.4 736.7 331.3 731 332.2 727.7 333.1 725.6 334 724.5 334.9 724.4 335.9 725.2 336.8 726.9 337.7 730 338.2 732.8 338.7 736.4 339.3 742.8 339.4 750.9 338.8 762.7 337.7 771.4 336.8 775 335.9 777.1 334.9 778 334 778M143.7 616.2 142.8 615.2 141.9 613.3 141 610.2 140 605.2 139.1 595.3 139 585.3 139.2 579.9 139.6 573.5 140 569.7 141 564.4 141.9 561.2 142.8 559.2 143.7 558.1 144.6 557.9 145.5 558.6 146.4 560.1 147.3 562.7 148.2 566.9 149 572.6 149.4 577.2 149.7 584.4 149.7 590.7 149.1 601 148.4 607 147.6 610.6 146.4 614.3 145.5 615.7 144.6 616.3 143.7 616.2M252.1 616.4 251.2 615.9 250.2 614.5 249.3 612.2 248.4 608.5 247.3 599.8 246.9 593.4 246.8 588 247.3 575.3 248.4 566.3 249.3 562.3 250.2 559.9 251.2 558.5 252.1 557.9 253 558.2 253.9 559.4 254.8 561.5 255.8 565.4 256.6 570.6 257.1 575.3 257.4 581.7 257.6 588 257.5 593.4 257.1 599.8 256.6 604.3 255.7 609.6 254.8 612.9 253.9 615 253 616.1 252.1 616.4M359.5 616.3 358.6 615.4 357.7 613.7 356.8 610.9 355.9 606.3 354.9 597.1 354.7 585.3 355 578.1 355.3 573.5 355.9 568.6 356.8 563.7 357.7 560.7 358.6 558.9 359.5 558 360.4 558 361.4 558.8 362.3 560.5 363.2 563.4 364.1 567.9 365.1 578.1 365.4 590.7 364.8 601.6 364.1 606.8 363.3 610.6 362.3 613.9 361.4 615.5 360.4 616.3 359.5 616.3M118.2 809.3 117.3 808.7 116.4 807.6 115.5 805.9 114.5 803.5 112.9 797.1 111.8 790 110.9 781.2 110.2 769 109.8 757.2 109.8 744.6 110.1 733.7 110.8 722.9 111.8 714.1 112.7 708.7 113.9 703.9 115.5 699.8 116.4 698.2 117.3 697.1 118.2 696.5 119.1 696.2 120 696.4 120.9 697 121.8 698 122.7 699.6 123.6 701.8 124.6 704.9 125.6 710.2 126.6 717.4 127.4 727.4 127.9 741 128 752.7 127.7 764.5 127.2 775.3 126.4 786 125.3 794.4 123.6 802 122.7 804.8 121.8 806.8 120.9 808.2 120 809.1 119.1 809.5 118.2 809.3M225.7 809.2 224.7 808.3 223.8 807 222.9 805 222 802.3 220.6 796.2 219.5 788.9 218.6 779 218 769 217.7 757.2 217.6 744.6 218 733.7 218.6 723.8 219.3 716.5 220.6 708.4 222 703 222.9 700.6 223.8 698.8 224.7 697.5 225.7 696.7 226.6 696.3 227.5 696.3 228.4 696.7 229.3 697.5 230.2 698.9 231.1 700.8 232 703.5 232.8 706.6 233.8 712.5 234.8 721 235.5 732.8 235.8 744.6 235.8 757.2 235.4 769 234.8 780 233.8 789.3 232.8 796.2 231.1 803.2 230.2 805.7 229.3 807.5 228.4 808.6 227.5 809.3 226.6 809.5 225.7 809.2M333.1 808.9 332.2 807.9 331.3 806.3 329.7 801.6 328.6 796.9 327.4 788.9 326.6 780.8 325.8 769 325.5 757.2 325.4 744.6 325.8 732.9 326.5 722.9 327.5 713.8 328.6 707.9 329.6 703.9 331.3 699.5 332.2 698 333.1 697 334 696.4 334.9 696.2 335.9 696.5 336.8 697.1 337.7 698.3 338.6 699.9 339.5 702.3 340.4 705.5 341.6 712 342.5 720.1 343.3 731 343.6 743.7 343.6 756.3 343.2 769.9 342.5 780.8 341.5 790.7 340.4 797.4 339.5 801.4 338.6 804.3 337.7 806.5 336.8 808 335.9 809 334.9 809.4 334 809.4 333.1 808.9M433.3 755.7 433.3 742.8M143.7 646.3 142.8 645.9 141.9 645 141 643.7 139.5 640.5 137.9 635.1 136.5 627.8 135.5 618.9 134.7 607.9 134.3 596.2 134.3 584.4 134.6 570.7 135.2 559.1 136.2 549.1 137.3 541.5 139 534.6 140.5 531 141.9 528.9 142.8 528 143.7 527.6 144.6 527.5 145.5 527.8 146.4 528.4 147.3 529.5 149 532.8 150.7 538.2 151.9 544.3 152.9 551.8 153.8 563.6 154.3 577.2 154.4 591.6 154.1 604.3 153.5 615.2 152.6 624.2 151.2 633.3 149.8 638.7 149.1 640.6 147.9 643.2 146.4 645.4 145.5 646.1 144.6 646.4 143.7 646.3M251.2 646.2 250.2 645.6 249.3 644.5 248.4 643.1 247.5 641.1 245.7 635 244.4 627.8 243.3 618.8 242.6 608.8 242.2 597.1 242.1 584.4 242.4 571.7 243 560.3 243.9 550.2 244.8 543.6 246.3 536.4 247.9 531.9 249.3 529.3 250.2 528.3 251.2 527.7 252.1 527.5 253 527.6 253.9 528.1 254.8 529 255.7 530.3 256.6 532.1 257.5 534.6 258.4 537.8 259.6 543.7 260.9 553.6 261.7 564.5 262.2 577.2 262.3 591.6 262 603.4 261.3 616.1 260.3 625.8 259.2 632.4 257.5 639.1 255.7 643.4 254.8 644.8 253.9 645.7 253 646.2 252.1 646.4 251.2 646.2M358.6 646 357.7 645.2 356.8 644 355 640.1 353.2 633.3 352 626 351 617 350.3 606.1 350 593.4 350 580.8 350.4 567.2 351 557.2 352.1 547.3 353.2 540.7 354.1 536.7 355 533.8 356.7 530.1 357.7 528.7 358.6 527.9 359.5 527.5 360.4 527.5 361.4 527.9 362.8 529.2 364.1 531.3 364.7 532.8 366.4 538.2 367.7 545.4 368.8 554.5 369.6 566.3 370 579.9 370.1 594.3 369.7 607 369 617 368.1 626 366.8 633.5 365 640.2 363.2 644 362.3 645.2 361.4 646 360.4 646.4 359.5 646.3 358.6 646M116.8 820.6 115.5 818.7 114.5 816.8 113.1 812.5 111.8 806.5 110.5 797.1 109.6 787.1 108.9 774.4 108.5 759.1 108.5 743.7 108.9 729.2 109.5 718.3 110.4 708.4 111.7 700.2 112.7 695.7 114.5 690.5 116.4 687.6 117.3 686.7 118.2 686.1 119.1 685.9 120 685.9 121.3 686.7 122.7 688.2 123.4 689.4 124.9 693 126.4 698.9 127.4 705.7 128.3 714.7 128.9 725.6 129.2 737.3 129.2 754.5 128.9 769.9 128.2 785.3 127.3 796.2 126.3 804.3 124.6 812.6 122.7 817.8 121.8 819.5 121 820.6M224.6 820.6 223.8 819.6 222.9 818 221.1 813 220.2 809.2 219.3 804.3 218.2 796.2 217.3 785.3 216.6 769.9 216.3 754.5 216.4 740.1 216.8 728.3 217.5 716.7 218.4 707.5 219.5 700.2 221.1 693.9 222.9 689.5 224.7 687 225.7 686.3 226.6 685.9 227.5 685.9 228.4 686.1 229.3 686.7 230.2 687.7 231.3 689.4 232.9 693.6 234.4 700.2 235.6 708.4 236.2 716.5 236.8 727.4 237.1 739.1 237.1 756.3 236.7 771.7 236.1 784.4 235.3 795.3 234 805.2 232.7 811.5 231.1 816.6 230.2 818.6 228.8 820.6M332.5 820.6 331.3 819 330.4 817.2 328.6 811.6 327.1 804.3 326 795.3 325.1 783.5 324.5 771.7 324.2 757.2 324.2 742.8 324.6 729.2 325.2 718.3 326 709.3 327.4 700.2 328.6 695.1 330.4 690.2 332.2 687.4 333.1 686.5 334 686 334.9 685.9 335.9 686 336.8 686.4 337.7 687.2 338.6 688.4 339.5 690.1 341.1 694.8 342.2 699.8 343.2 706.6 344.2 717.4 344.6 726.5 344.9 737.3 344.9 753.6 344.6 769 344 783.2 343.1 795 342.1 803.4 340.4 812 338.6 817.5 337.7 819.2 336.6 820.6M64.5 790 63.5 789.7 62.8 788.9 61.7 787.2 60.8 784.8 59.9 780.9 59 772.5 58.7 760 58.9 749.1 59.3 743.7 60.5 740.1 61.7 737.7 62.6 736.6 63.5 736 64.5 735.8 65.4 735.9 66.3 736.4 67.2 737.3 68.1 738.7 69 740.6 70 743.7 70.5 750 70.6 760 70.3 773.5 69.9 778.1 69.1 782.6 68.1 786.2 67.2 788.1 66.3 789.3 65.4 789.9 64.5 790M171.9 789.9 171 789.4 170.1 788.2 169.2 786.4 168.3 783.5 167.4 779 166.7 769 166.6 753.6 167 744.6 168 741 169.2 738.2 170.1 737 171 736.2 171.9 735.9 172.8 735.8 173.7 736.2 174.6 736.9 175.6 738.1 177 741 178 744.6 178.4 752.7 178.4 766.3 178.2 771.7 177.8 777.2 177.4 780.3 176.5 784.5 175.6 787.1 174.6 788.6 173.7 789.6 172.8 790 171.9 789.9M280.3 790 279.4 789.8 278.5 789 277.6 787.6 276.7 785.4 275.7 781.8 274.7 773.5 274.4 760 274.6 749.1 275 743.7 276.2 740.1 277.6 737.4 278.6 736.4 279.4 736 280.3 735.8 281.2 736 281.9 736.4 283 737.5 284.4 740.1 285.7 743.7 285.9 744.6 286.1 749.1 286.3 760 286 773.5 285.5 778.1 284.8 782.3 283.9 785.7 283 787.8 282.1 789.1 281.2 789.8 280.3 790M387.8 790 386.9 789.5 385.9 788.5 385 786.8 384.1 784.1 383.4 780.8 382.9 777.2 382.5 771.7 382.2 760 382.4 750 382.9 743.7 384 740.1 385 738 385.9 736.8 386.9 736.1 387.8 735.8 388.7 735.9 389.6 736.3 390.5 737.1 391.4 738.2 392.3 740.1 393.5 743.7 393.7 744.6 394 750 394.2 760 394.1 767.2 393.8 773.5 393.3 779 392.6 782.6 391.6 786.2 390.5 788.4 389.6 789.5 388.7 790 387.8 790M433.3 789.5 432.4 771.7 432 748.2 432.4 729.5 433.3 714.7M143.7 657.9 142.8 657.6 141.9 656.9 141 655.8 139.1 652.5 137.3 647 136.4 643 135.5 637.8 134.3 627.8 133.5 615.2 133 599.8 132.9 583.5 133.2 568.1 133.7 554.5 134.6 543.7 136.1 532.8 137.8 525.6 139.1 521.9 140 520.1 141.9 517.8 142.8 517.2 143.7 516.9 144.6 516.8 145.5 517 146.4 517.5 147.3 518.3 148.2 519.4 149.6 521.9 151 525.6 151.7 528.3 153.1 535.5 154.4 546.4 155.2 559.1 155.7 574.4 155.8 591.6 155.5 607.9 154.9 620.6 153.9 632.4 152.7 640.5 151 648.3 149.1 653.2 148.2 655 146.4 657.1 145.5 657.7 144.6 658 143.7 657.9M251.2 657.8 250.2 657.3 249.3 656.5 248.4 655.3 246.6 651.6 244.8 645.5 243.1 636 242 626.4 241.2 612.4 240.8 599.8 240.7 583.5 241 567.2 241.6 553.6 242.6 541.9 243.9 533 244.8 528.6 245.7 525.3 247.5 520.8 249.3 518.2 250.2 517.4 251.2 517 252.1 516.8 253 516.9 253.9 517.3 254.8 517.9 256.5 520.1 257.5 522.1 259.3 527.5 260.3 531.6 261.1 536.4 262.1 544.9 263 558.1 263.6 574.4 263.7 591.6 263.4 607 262.7 620.6 261.7 632.4 260.3 642.1 258.4 649.5 256.6 654 255.7 655.5 254.8 656.6 253.9 657.4 253 657.9 252.1 658 251.2 657.8M359.5 658 358.6 657.6 357.7 657 356.8 656 355 652.9 353.2 647.6 352.2 643.8 351.3 638.7 350.1 628.7 349.2 616.1 348.6 599.8 348.5 583.5 348.8 568.1 349.5 553 350.4 542.2 351.6 533.7 353.2 526.5 355 521.5 355.9 519.8 357.7 517.7 358.6 517.1 359.5 516.8 360.4 516.8 361.4 517.1 362.3 517.6 363.2 518.5 365 521.3 365.9 523.4 366.9 526.5 367.7 529.8 368.8 535.5 370 546.4 370.9 559.1 371.4 573.5 371.5 591.6 371.3 606.1 370.6 620.6 369.5 632.3 368.4 640.5 366.8 647.7 365.9 650.6 364.9 653.2 363.3 655.9 362.3 657 361.4 657.6 360.4 657.9 359.5 658M91.8 598.9 90.9 598 90 596.5 89 594.4 88.2 591.6 87.7 582.6 87.6 572.6 88.1 561.8 89 554.5 90 550.5 90.9 548 91.8 546.5 92.7 545.8 93.6 545.8 94.5 546.6 95.4 548.3 96.3 551 97.2 555.3 98.3 565.4 98.5 571.7 98.5 579 98 589.8 97.9 591.6 97.2 594.1 96.3 596.4 95.4 598 94.5 598.9 93.6 599.4 92.7 599.4 91.8 598.9M200.2 599.2 199.2 598.6 198.1 597.1 196.9 594.3 196.1 591.6 195.5 583.5 195.4 572.6 195.6 566.8 196 560.9 196.5 556.8 197.4 551.9 198.3 548.8 199.2 547 200.2 546 201.1 545.7 202 546.2 203.2 548.2 204.1 550.9 205.1 555.4 205.6 559.2 206.2 566.3 206.4 579 205.9 589.8 205.7 591.6 205.3 593.4 203.8 597.1 202.9 598.4 202 599.2 201.1 599.4 200.2 599.2M307.6 599 306.7 598.2 305.8 596.8 304.9 594.8 303.9 591.6 303.4 582.6 303.3 572.6 303.8 561.8 304.9 553.6 305.8 549.9 306.7 547.6 307.6 546.3 308.5 545.7 309.4 545.9 310.4 546.9 311.3 548.7 312.2 551.6 312.9 555.4 314 565.7 314.2 579 313.8 588.9 313.6 591.6 313.1 593.6 312.1 596.2 311.3 597.8 310.4 598.8 309.4 599.3 308.5 599.4 307.6 599M416 599.3 415.1 598.7 414.4 598 413.3 596.2 412.4 593.8 411.8 591.6 411.2 582.6 411.1 572.6 411.6 561.8 412.4 555.7 412.9 552.7 414.2 548.4 415.1 546.7 416 545.9 416.9 545.8 417.8 546.4 418.7 547.8 419.6 550.3 420.8 555.4 421.5 560.8 421.8 566.3 422.1 579 421.6 589.8 421.4 591.6 421 593.4 419.6 596.9 418.7 598.3 417.8 599.1 416.9 599.4 416 599.3M110.8 820.6 109.6 812.5 108.6 801.6 108 790.7 107.5 774.4 107.2 758.2 107.2 741 107.6 724.7 108.2 710.5 109 700.2 109.7 693.9 110.9 687.2 112 683 113.6 678.7 115.5 675.8 117.3 674 118.2 673.6 120 673.3 121.8 673.9 123 674.9 124.6 677 125.7 679.4 127.3 684.8 128.4 690.3 129.1 695.7 130 697.5 130.1 699.3 130.5 712 130.6 728.3 130.5 760 130.2 779 129.1 801.6 128.2 811.5 126.9 820.6M218.7 820.6 217.5 812.3 216.5 802.6 215.8 788.9 215.3 776.3 215 743.7 215.4 724.7 216 711.1 216.5 703 217.5 694.6 218.4 689 219.8 683 221.1 679.5 222.9 676.3 224.7 674.3 225.7 673.7 227.5 673.2 229.3 673.7 231.1 675.1 232.7 677.6 233.8 680.2 235.4 685.8 236.6 693 237.5 694.2 238 701.1 238.4 712.9 238.5 728.3 238.3 759.1 238 778.1 237.5 792.4 236.8 803.4 235.8 813.4 234.8 820.6M326.5 820.6 325.1 810.6 324.3 800.7 323.6 788.9 323.1 773.5 322.9 756.3 322.9 740.1 323.2 724.7 323.9 710.2 324.6 701.1 325.4 693.9 326.5 687.6 327.7 683.1 329.5 678.4 331.1 675.8 332.2 674.6 333.1 673.9 334.9 673.3 336.8 673.5 338.6 674.7 340.1 676.7 341.3 679.2 342.2 681.8 343.1 685.4 344 690.4 345.3 695.7 345.9 700.2 346.2 712.9 346.3 728.3 346.2 760 345.9 778 345.4 791.6 344.7 802.5 343.9 811.5 342.6 820.6M433.3 813.7 432.3 803.4 431.4 788.9 430.9 769.9 430.7 748.2 430.9 731 431.5 714.3 432.4 701.2 433.3 693.5M62.6 802.6 61.7 801.8 60.8 800.7 59.9 799.2 59 797 57.7 792.5 56.8 787.1 56.2 780.8 55.8 771.7 55.8 747.3 56 743.7 56.7 738.2 57.5 734.6 58.7 731 59.9 728.6 60.9 727.4 62.6 726.1 64.5 725.8 66.3 726.2 67.2 726.8 68.1 727.6 69.3 729.2 71 732.8 71.7 735.2 72.6 739.1 73.3 743.7 73.5 746.4 73.5 770.8 73.2 779 72.6 786.1 71.7 792 70.7 796.2 69 800 68.1 801.3 67.2 802.2 66.3 802.9 65.4 803.2 64.5 803.3 63.5 803.1 62.6 802.6M171 802.9 170.1 802.3 169.2 801.4 168.3 800.1 167.4 798.4 166.5 795.9 165.8 793.4 164.8 788 164.1 781.7 163.7 773.8 163.6 750.9 163.8 744.6 164 741.9 164.7 737.3 165.9 732.8 166.9 730.1 168.3 727.9 170.1 726.3 171.9 725.8 173.7 726.1 174.6 726.5 176.5 728.3 178.3 731.4 179.2 733.9 180.1 737.4 181.3 744.6 181.4 768.1 181.2 777.2 180.7 784.4 180 789.8 178.8 795.3 177.4 799 176.5 800.6 175.6 801.7 174.6 802.5 173.7 803 172.8 803.2 171.9 803.2 171 802.9M278.5 802.7 277.6 802 276.7 800.9 275.7 799.5 274.8 797.5 273.4 792.5 272.5 787.1 271.9 780.8 271.5 771.7 271.5 747.3 271.7 743.7 272.4 738.2 273.2 734.6 274.4 731 275.7 728.4 276.7 727.3 278.5 726.1 280.3 725.8 282.1 726.3 283 726.9 283.9 727.8 285 729.2 286.7 732.8 287.6 735.8 288.3 739.1 289.1 744.6 289.2 747.3 289.2 771.7 288.8 780.8 288.2 787.1 287.3 792.5 286 797.1 284.8 799.7 283.9 801.1 283 802.1 282.1 802.8 281.2 803.1 280.3 803.3 279.4 803.1 278.5 802.7M386.9 803 385.9 802.5 385 801.6 384.1 800.4 383.2 798.7 382.3 796.4 381.5 793.4 380.5 788.1 379.8 781.7 379.4 774.4 379.3 751.8 379.6 743.2 380.5 737 381.4 733.2 382.6 730.1 384.1 727.7 385.9 726.2 387.8 725.8 389.6 726.1 390.5 726.7 392.3 728.5 393.2 729.9 394.2 731.9 395 734.4 396 738.1 397 744.6 397.1 768.1 396.9 777.2 396.2 785.3 395.3 791.6 394.2 796.2 393.2 798.6 392.3 800.3 391.4 801.6 390.5 802.4 389.6 803 388.7 803.2 387.8 803.2 386.9 803M142.8 673.1 141.9 672.6 141 671.7 140 670.4 138.2 666.7 136.4 661.4 134.6 652.7 133.7 646 132.8 636.1 132.1 634.2 131.8 632.5 131.4 612.4 131.5 575.3 131.8 557.5 132.6 541 133.7 528.5 134.8 521 136.4 514.2 137.3 511.6 138.4 509.3 139.7 507.5 141 506.1 142.8 505 144.6 504.8 146.4 505.2 148.2 506.5 149.7 508.4 151 510.6 151.9 512.9 153 516.5 153.7 519.7 154.6 525.2 155.9 537.3 156.7 553.6 157.2 575.3 157.2 598.9 156.8 617.9 156.1 632.4 155 645 153.6 655 152.8 659 151.3 664 150.1 667.3 148.5 670.4 147.3 671.9 145.5 673.2 144.6 673.4 143.7 673.4 142.8 673.1M251.2 673.3 250.2 672.9 249.3 672.2 247.9 670.4 245.7 665.8 244.8 663.2 243.9 660 242.8 655 240.5 638.7 239.7 631.5 239.3 622.8 239.3 580.8 239.6 561.8 240.2 544.5 241.1 532 242.3 522.9 243.9 515.4 244.8 512.6 246.3 509.3 247.5 507.4 249.3 505.7 250.2 505.2 252.1 504.8 253.9 505.1 255.7 506.2 257.5 508.3 258.4 509.9 259.4 512 260.6 515.6 262.2 523.8 263.6 535.5 264.5 550.9 265 569.9 265.1 593.4 264.8 612.8 264.1 630.5 263 644.2 261.6 654.1 260.5 659.5 259.3 663.6 258.4 666.1 256.6 669.9 255.7 671.3 253.9 672.9 253 673.3 252.1 673.4 251.2 673.3M358.6 673.2 357.7 672.7 356.8 671.9 355.7 670.4 353.9 666.7 352.2 662 350.4 653.7 349.5 647.4 348.6 638.2 347.7 634.4 347.3 626 347.1 614.3 347.2 575.3 347.6 555.4 348.2 541.9 349.2 530.1 350.4 521.1 351.3 516.8 352.2 513.6 354.1 509.3 355.3 507.5 356.8 506 358.6 505 360.4 504.8 362.3 505.3 364.1 506.7 365.9 509.2 366.8 511 368.7 516.5 369.5 520.6 370.5 526.4 371.6 538.2 372.4 554.5 372.9 576.2 372.9 598.9 372.5 617.9 371.8 632.4 370.6 645.9 369.3 655 368.1 660.4 366.8 664.7 365.9 666.9 364.1 670.4 363.2 671.7 361.4 673.1 360.4 673.4 359.5 673.4 358.6 673.2M91.8 610.8 90.9 610.1 90 609 88.1 605.5 86.9 601.6 85.7 596.2 85.1 591.6 84.8 571.7 85.4 554.2 86.3 544.6 87.2 539.1 88.2 534.6 89 532.2 90 530.2 90.9 528.9 91.8 528 92.7 527.6 93.6 527.7 94.5 528.1 95.4 529.1 96.3 530.5 97.2 532.6 98.1 535.5 99.1 540 100 546.4 100.9 556.5 101.3 568.1 101.3 579.9 101 592.5 100 599.7 99.1 603.6 98.1 606.4 97.2 608.3 96.3 609.7 95.4 610.6 94.5 611.1 93.6 611.3 92.7 611.2 91.8 610.8M200.2 611.1 199.2 610.6 198.3 609.7 196.5 606.8 195 602.5 193.8 597.4 192.9 591.6 192.6 581.7 192.6 570.8 192.9 561.1 193.4 552.7 194 545.5 195 539.1 196.1 534.6 197.4 531 198.3 529.4 199.2 528.3 200.2 527.8 201.1 527.6 202 527.9 202.9 528.6 203.8 529.8 204.7 531.6 205.6 534.2 206.4 537.3 207.4 542.8 208.3 551.2 208.8 559.1 209.2 569 209.2 579.9 208.8 592.5 207.9 598.9 206.7 604.3 205.6 607.2 204.7 608.9 203.8 610.1 202.9 610.8 202 611.2 201.1 611.3 200.2 611.1M307.6 610.9 306.7 610.3 305.8 609.2 304 605.9 302.6 601.6 301.4 596.2 300.7 590.7 300.5 571.7 300.7 561.8 301.2 551.9 302.1 543.7 302.9 539.1 304 534.4 305.3 531 306.7 528.7 307.6 527.9 308.5 527.6 309.4 527.7 310.4 528.3 311.3 529.3 312.2 530.8 313.1 533 313.8 535.5 314.9 540.5 315.9 548.2 316.7 559.1 317 569.9 317 580.8 316.7 592.5 315.8 598.7 314.5 604.3 313.1 608 312.2 609.5 311.3 610.4 310.4 611 309.4 611.3 308.5 611.3 307.6 610.9M415.1 610.7 414.2 609.9 413.3 608.7 411.4 605 410 599.8 408.8 593.4 408.6 591.6 408.3 582.6 408.4 567.2 408.7 557.6 409.3 550 410 543.7 410.9 538.2 412 533.7 413.3 530.6 414.2 529.1 415.1 528.2 416 527.7 416.9 527.6 417.8 528 418.7 528.8 419.6 530.1 420.5 532 421.5 534.7 422.3 538.2 423.3 544.1 424.2 553.3 424.6 561.8 424.9 572.6 424.8 584.4 424.6 591.6 424.2 595.2 423.3 600.7 421.7 606.1 420.5 608.7 419.6 609.9 418.7 610.7 417.8 611.2 416.9 611.3 416 611.2 415.1 610.7M56.5 820.6 55.2 817 54.1 811.5 53.4 805.2 52.8 795.3 52.5 780.8 52.5 749.1 52.6 736 52.9 729.2 53.4 723.8 53.9 720.1 54.5 717.4 55.6 714.7 57.2 712.7 59 711.4 60.8 710.7 63.5 710.5 66.3 710.9 69 712.1 70.8 713.6 72.6 716 73.8 718.3 74.8 722 75.5 725.6 76.3 732.4 76.9 743.7 76.9 750.9 76.8 779.9 76.4 798 76.1 804.3 75.4 810.8 74.5 815.7 73.6 818.8 72.8 820.6M106.1 820.6 105.6 776.3 105.6 721 106.2 684.8 106.6 676.7 107.3 668.5 108.2 662.8 109.1 659.5 110.3 656.8 111.8 654.7 113.6 653 116.4 651.4 123.8 648.6 125.7 647.7 126.4 647.2 127.3 646.2 128.2 644 128.9 637.8 129.2 631.5 129.7 592.5 130 524.8 130.4 512.9 131 503.8 131.7 498.4 132.4 494.8 133.4 492.1 134.6 489.8 136.4 487.9 138.4 486.7 141 485.8 144.6 485.4 147.3 485.7 150.3 486.7 152.8 488.3 154.4 490.3 155.5 492.5 156.5 495.7 157.3 500.5 157.9 506.6 158.4 514.7 158.7 530.1 159.1 576.2 158.9 627.8 158.3 663.5 157.6 675.8 156.9 682.1 156.4 684.8 155.5 687.8 154.6 689.8 153.7 691.2 152.8 692.2 151 693.6 148.2 694.8 145.5 695.6 141.9 696.1 139.1 696.2 134.6 695.8 133.7 695.9 132.8 698 132.1 743.7 132 796.2 131.6 820.6M164.4 820.6 162.8 816.1 161.9 811.4 161.1 804.3 160.7 797.1 160.3 779.9 160.3 752.7 160.4 740.1 160.8 728.3 161.2 723.8 161.9 719.3 162.8 716.1 163.7 714.3 164.8 712.9 166.5 711.6 168.3 710.8 171 710.5 173.7 710.8 176.5 711.9 178.3 713.2 180.1 715.4 181.6 718.3 182.5 721 183.2 724.7 183.9 730.1 184.7 744.6 184.7 781.7 184.4 794.4 183.9 804.3 183.2 810.6 182 817 180.7 820.6M213.9 820.6 213.5 771.7 213.6 708.4 214 685.8 214.5 674.9 215.1 668.6 215.6 664.7 216.5 660.7 217.7 657.7 219.3 655.1 221.1 653.3 223.8 651.6 226.6 650.4 232 648.5 233.8 647.5 234.8 646.7 235.2 645.9 235.7 645.1 236.1 643.2 236.6 640.8 237.1 616.1 237.4 591.6 237.5 551.8 237.8 527.4 238.4 510.2 239 502 239.7 497.5 240.5 493.9 241.6 491.2 243 489.1 244.8 487.5 247.5 486.1 250.2 485.6 253 485.5 255.7 485.8 258.4 486.8 260.3 488 262.1 490 263.2 492.1 264.3 495.7 265 499.3 265.7 505.9 266.3 516.5 266.6 530.5 266.8 570.8 266.7 640.5 266 664.9 265.5 674.9 264.7 682.1 264 685.8 263.4 687.6 262.7 689.4 261.5 691.2 260.3 692.5 258.4 693.8 256.6 694.6 253.9 695.5 249.3 696.1 245.7 696.1 242 695.8 241.1 696.2 240.6 708.4 240.3 725.6 240 744.6 239.9 791.6 239.5 820.6M272.2 820.6 270.7 816.1 269.6 810.6 269 804.3 268.5 795.3 268.2 779 268.1 755.4 268.2 743.7 268.5 731 269.4 721.3 270.3 717.2 271.2 714.9 272.1 713.5 273.9 711.8 275.7 710.9 278.5 710.5 281.2 710.7 283.9 711.7 285.7 712.9 286.7 713.8 288.1 715.6 289.4 718.2 290.3 721.1 291.2 725.6 291.8 731 292.2 735.5 292.6 745.5 292.5 778.1 292.1 798 291.6 806.1 290.9 811.5 290 816.1 288.5 820.6M321.8 820.6 321.3 786.3 321.3 717.6 321.9 683.9 322.3 676.7 323 667.7 324 662.2 324.9 659.1 326 656.8 327.7 654.5 329.5 652.9 332.1 651.4 339.5 648.6 341.4 647.7 342.2 647.1 343.1 645.9 344 643.3 344.7 626 345.3 592.5 345.4 551.8 345.8 522.9 346.2 512 346.8 502.8 347.5 497.5 348.1 494.8 349.1 492.1 350.4 489.6 352.2 487.7 354.1 486.6 356.8 485.8 360.4 485.4 363.2 485.7 366 486.7 367.6 487.6 368.6 488.4 370.1 490.3 371.4 492.9 372.3 496.1 373.1 501.1 373.5 505.7 374.1 515.9 374.3 525.6 374.7 568.1 374.6 622.4 374 660.4 373.3 674.9 372.6 682.1 371.4 687.3 370.5 689.5 369.5 690.9 368.6 692.1 366.8 693.5 365 694.4 363.2 695.1 360.4 695.7 356.8 696.1 354.1 696.2 349.5 695.9 348.6 697.1 348 731.9 347.7 799.4 347.3 820.6M380 820.6 378.7 816.7 377.6 811.5 376.8 804.8 376.4 796.2 376 778.1 375.9 750.6 376.1 739.1 376.5 728.3 376.8 724.1 377.6 719.2 378.7 715.7 379.6 714 380.5 712.9 382.3 711.5 384.1 710.8 386.9 710.5 389.6 710.9 392.3 712 394.1 713.4 396 715.6 397.3 718.3 398.1 721 398.9 724.7 399.6 730.1 400.4 744.6 400.4 776.3 400.1 795.3 399.6 804.2 398.8 811.5 397.8 816.5 396.4 820.6M429.6 820.6 429.2 789.8 429.1 750 429.2 714.7 429.6 689.4 430.1 677.6 430.8 668.6 431.8 662.2 432.4 660.1 433.3 657.8M94.5 631.5 91.8 630.8 90 629.7 89 628.9 87.2 626.5 86.3 624.9 85.3 622.4 83.9 617 83 610.6 82.3 602.5 81.7 591.6 81.7 556.3 82 541.9 82.6 523.8 83.5 513.8 84.7 506.6 85.4 504 86.6 501.1 87.6 499.3 89 497.7 90.9 496.5 92.7 496.1 94.5 496.2 95.4 496.6 97.2 497.8 98.1 498.8 99.1 500.2 100 502 100.9 504.5 101.8 508.2 102.7 514 103.6 525.2 104.3 550.9 104.4 592.5 103.9 608.8 103.2 617.9 102.7 621.2 101.8 625 100.9 627.3 100 628.7 99.1 629.8 97.2 631 96.3 631.3 94.5 631.5M202.9 631.5 201.1 631.3 199.2 630.6 196.8 628.7 194.7 625.9 193.8 624 192.9 621.5 191.8 617 190.8 610.6 190.1 603.4 189.6 591.6 189.6 563.6 189.9 540 190.3 526.5 191.2 514.7 192 509.4 192.8 505.7 193.8 502.5 194.7 500.6 195.6 499.1 197.4 497.3 199.2 496.3 201.1 496.1 202.9 496.4 203.8 496.9 205.6 498.4 207.4 501.2 208.3 503.4 209.3 506.5 210.2 511.3 211.1 519.5 211.7 531.9 212.1 544.6 212.2 592.5 211.9 605.2 211.1 617.5 210.1 623.3 209.3 626.1 208.3 628 207.1 629.6 205.6 630.8 204.7 631.2 202.9 631.5M310.4 631.5 307.6 630.9 305.8 629.8 304.9 629 303.8 627.8 302.6 626 301.3 623.3 300.7 621.5 299.4 616.1 298.5 609.6 297.7 598.9 297.5 591.6 297.6 542.9 298.3 524.7 299.2 513.8 300.3 506.8 301.2 503.6 302.2 501.1 303.3 499.3 304.9 497.6 306.7 496.4 308.5 496.1 310.4 496.3 311.3 496.7 313.1 498 314 499 314.9 500.5 315.8 502.4 316.7 505.1 317.5 508.4 318.5 515.5 319.2 524.7 319.7 534.6 320 550 320.1 592.5 319.5 609.7 318.9 617.9 318.5 620.6 317.6 624.5 316.7 627 315.8 628.6 314.9 629.7 313.1 630.9 312.2 631.3 310.4 631.5M417.8 631.5 415.1 630.7 413.4 629.6 412.4 628.7 410.5 626.2 408.7 622 407.4 617 406.5 610.6 405.9 604.3 405.2 591.6 405.2 565.4 405.5 541.9 406 526.3 406.9 514.5 407.7 509.3 408.5 505.7 409.6 502.1 410.5 500.3 411.4 498.9 413.3 497.1 415.1 496.3 416.9 496.1 418.7 496.5 419.6 497 421.3 498.4 422.4 499.8 423.3 501.5 424.2 503.9 425.3 508.4 426.2 513.8 427 522.9 427.6 536.4 427.9 552.7 427.8 597.6 427.4 609.7 426.7 617.9 426 622.3 425.5 624.2 424.6 626.9 423.5 628.7 422.4 630 421.5 630.7 419.6 631.4 417.8 631.5M105.1 820.6 105.1 643.2 105.4 642.6 110.9 642.3 115.5 641.4 119.1 640.2 121.8 638.5 123.6 636.8 125.5 634 126.7 630.5 127.6 626 128.2 621.5 128.5 615.2 129.2 592.5 129.1 477.6 105.4 477.6 105.1 478.5 105.1 640.5 105 642.3 104.5 642.6 100 642.3 95.4 641.6 91.8 640.5 88.5 638.7 86.3 636.6 84.8 634.2 83.6 631.1 82.6 626.9 81.8 619.1 81.2 591.6 81.3 478.5 80.8 477.6 52.6 477.6 51.7 478.5 51.7 702 52.6 702.4 59 702.7 64.5 703.3 68.1 704.1 70.8 705.2 72.8 706.6 74.5 708.5 75.4 710.4 76.3 713.8 77.2 722.7 77.5 743.7 77.4 820.6M159.6 820.6 159.6 703.9 159.6 702.9 159.2 702.4 153.7 702.6 148.2 703 143.7 703.8 140.7 704.8 138.2 706.1 136.4 707.8 135.1 710.2 134.2 712.9 133.7 715.8 133.4 718.3 132.8 731.1 132.6 744.6 132.7 820.6M213 820.6 213.1 643.2 212.9 642.6 207.4 642.3 202 641.3 198.3 639.9 195.6 638.1 193.7 636 192 632.7 191 629.8 190.1 624.6 189.2 612.2 188.9 591.6 189 478.5 188.3 477.6 160.1 477.6 159.6 478.5 159.6 702 160.1 702.4 165.5 702.6 171 703.1 174.6 703.8 177.4 704.6 180.1 706.1 181.5 707.5 182.8 709.6 183.8 712.2 184.7 717.7 185.3 743.7 185.2 820.6M267.3 820.6 267.3 702.9 267.5 702.4 273 702.5 278.5 703 282.7 703.9 285.8 704.9 288.5 706.6 290 708.4 291.2 710.9 291.9 713.8 292.5 718.3 293 726.5 293.3 743.7 293.2 820.6M320.8 820.6 320.8 643.2 321.3 642.6 326.7 642.3 331.3 641.4 334.9 640.1 337.7 638.4 339.5 636.6 341.3 633.6 342.4 630.5 343.3 626 344 619.6 344.7 591.6 344.6 478.5 344 477.6 321.3 477.6 320.8 478.5 320.8 640.5 320.8 642.3 320.4 642.6 314.9 642.2 310.4 641.4 306.7 640.1 304 638.5 302.2 636.8 300.3 634 299.1 630.5 298.2 626 297.6 621.1 297.4 617 296.7 592.5 296.7 478.5 295.8 477.6 267.5 477.6 267.3 478.5 267.3 702 266.6 702.4 260.3 702.6 254.8 703.2 251.2 703.9 248.4 704.8 246.6 705.7 244.5 707.5 243 710 242 712.9 241.1 719.2 240.6 743.7 240.7 820.6M375.3 820.6 375.3 703.9 375.3 702.9 375 702.4 368.6 702.6 363.2 703.1 358.6 704 355.9 705 354.1 705.9 352.2 707.6 351.3 708.9 350.7 710.2 349.9 712.9 349.3 716.5 348.7 723.8 348.4 736.4 348.4 820.6M428.6 820.6 428.6 643.2 428.7 642.6 433.3 642.4M213 642.3 213.8 642.6 215.6 642.6 219.3 642.2 222 641.8 226.6 640.3 229.5 638.7 231.1 637.2 232 636.1 233.6 633.3 234.8 629.8 235.7 624.9 236.6 613.2 236.9 591.6 236.8 478.5 236.6 477.6 213.8 477.6 213 478.5 213 642.3M433.3 477.6 428.7 477.6 428.6 478.5 428.6 641.4 428.5 642.3 427.8 642.6 422.4 642.2 417.8 641.3 414.2 640 411.4 638.2 409.6 636.3 408.7 635 407.8 633.1 406.9 630.4 406 625.8 405.1 615.8 404.6 591.6 404.8 478.5 404.2 477.6 375.9 477.6 375.3 478.5 375.3 702 375.9 702.4 381.4 702.6 386.9 703.1 390.5 703.8 393.4 704.8 396 706.2 397.2 707.5 398.7 709.9 399.6 712.8 400.5 719.5 401 743.7 400.9 820.6M104.1 820.6 104.5 800.5 104.6 779.9 104.5 704.9 103.9 680.3 103.6 674.9 102.9 667.7 102.1 663.1 101.2 659.5 100 656.8 98.7 655 96.9 653.2 94.5 651.7 91.8 650.5 86.1 648.6 84.2 647.7 83.6 647.2 82.7 646.1 81.8 643.4 81.1 626 80.6 592.5 80.5 552.7 80.1 523.8 79.8 512 79 501.7 78.3 496.6 77.6 493.9 76.5 491.2 75.4 489.3 73.6 487.5 71.7 486.5 69 485.7 65.4 485.5 62.6 485.9 59.9 487 58.1 488.4 56.7 490.3 55.3 493.2 54.4 496.6 53.8 501.1 53.3 505.7 52.6 521.3 52.2 569 52.4 630.5 52.6 652.8 53 663.1 53.5 675.2 54.3 682.1 55.3 687.1 56.3 689.4 57.2 690.9 58.1 692.1 59.9 693.5 61.7 694.5 63.5 695.1 66.3 695.8 69 696.1 71.7 696.2 76.3 696 77.2 696.9 77.9 729.2 78.1 787.1 78.6 820.6M154.6 820.6 156.1 816.1 157.1 811.5 157.7 806.1 158.3 798 158.7 780.8 158.8 755.4 158.7 741.9 158.3 728.7 157.3 720.5 156.4 716.9 155.4 714.7 153.7 712.5 151.9 711.3 150.1 710.7 147.3 710.5 144.6 710.9 141.9 712 140 713.2 138 715.6 136.4 718.9 135.5 722 134.6 727 134.1 731.9 133.4 744.6 133.4 775.3 133.7 794.4 134.3 804.3 134.9 810.6 136 816.1 137.6 820.6M212 820.6 212.5 771.7 212.4 714.7 212 687.1 211.4 675.8 210.8 668.6 210.2 664 209.3 660.2 208.3 657.7 206.5 654.9 204.7 653.2 202 651.5 199.2 650.4 193.8 648.6 192 647.7 191 646.9 190.1 645.3 189.6 643.2 189.2 640.8 188.7 615.2 188.1 529.2 187.6 512 187 502.9 186.5 498.8 185.6 494.4 184.7 491.8 183.3 489.4 181.5 487.6 179.2 486.3 176.5 485.6 173.7 485.5 171 485.8 168.3 486.7 166.5 487.9 165.5 488.8 164.5 490.3 163.3 493 162.3 496.6 161.6 501.1 161 507.5 160.5 519.2 160.2 536.4 160 579 160.1 628 160.4 648.6 160.9 665.8 161.5 676.7 162.2 683 162.8 685.8 163.7 688.5 164.6 690.4 165.5 691.6 167 693 168.4 693.9 170.1 694.7 172.8 695.5 177.4 696.1 180.1 696.2 183.8 696 184.7 696.3 185.2 704.8 185.6 718.3 185.9 744.6 186.1 793.4 186.5 820.6M262.4 820.6 263.9 816.4 264.8 812.2 265.7 804.6 266.2 796.2 266.6 778.1 266.6 750.9 266.5 740.1 266.1 729.2 265.7 724.3 265.1 720.1 264.4 717.4 263.3 714.7 262.1 713.1 260.3 711.6 258.4 710.9 255.7 710.5 253 710.8 250.2 711.7 248.4 712.8 247.5 713.6 245.9 715.6 244.8 717.6 243.6 721 242.8 724.7 242 730.2 241.2 744.6 241.2 776.3 241.6 795.3 242 804 243 811.9 243.9 816.2 245.4 820.6M319.8 820.6 320.4 779.6 320.3 720.1 319.7 684.8 319.4 676.7 318.6 667.7 317.6 662.2 316.7 659.1 315.6 656.8 314 654.5 312.2 652.9 309.4 651.3 301.8 648.6 299.9 647.7 298.5 646.4 297.6 644.1 296.7 631.5 296.2 592.5 295.8 525.6 295.5 513.8 294.9 503.3 294.3 498.4 293.5 494.8 292.6 492.1 291.2 489.5 289.4 487.6 287.6 486.5 284.8 485.7 281.2 485.5 278.5 485.9 275.7 486.9 273.9 488.3 272.3 490.3 271.2 492.7 270.3 495.9 269.4 501.1 269 505.7 268.5 516 268.2 525.6 267.9 569 268 624.2 268.5 661.3 269.2 674.9 269.9 682.1 270.4 684.8 271.2 687.6 272.1 689.7 273 691.1 273.9 692.2 275.7 693.6 278.5 694.9 281.2 695.6 284.8 696.1 292.1 696 293 697.5 293.6 732.8 293.9 798.9 294.3 820.6M370.2 820.6 371.8 816.1 372.9 810.6 373.6 804.3 374.1 795.3 374.4 778.1 374.4 752.7 374.4 741 374 730.1 373.2 721.5 372.3 717.4 371.4 715.2 370.5 713.7 369.5 712.7 367.7 711.4 365.9 710.8 363.2 710.5 360.4 710.8 357.7 711.9 355.9 713.1 355 714 353.7 715.6 352.2 718.5 351.3 721.3 350.4 725.9 349.8 731.9 349.2 741 349.1 748.2 349.1 779 349.5 797.9 350.1 806.1 350.8 811.5 351.9 817 353.3 820.6M427.7 820.6 428.1 772.6 428 707.5 427.6 685.8 427.1 674.9 426.5 668.6 426 664.9 425.1 660.8 424 657.7 422.4 655.1 420.5 653.3 417.8 651.6 415.1 650.4 409.6 648.6 407.8 647.7 406.9 647 406 645.7 405.1 642.3 404.7 627.8 404.3 603.4 403.7 529.2 403.2 511.1 402.6 502 401.9 497.5 401.1 493.9 400.1 491.2 398.7 489 396.9 487.4 395 486.4 392.3 485.6 389.6 485.4 386.9 485.7 384.1 486.6 382.3 487.8 380.5 489.8 379.3 492.1 378.2 495.7 377.5 499.3 376.8 505.7 376.3 516.5 375.9 531.5 375.7 566.3 375.9 636.9 376.5 663.1 377 674 377.7 682 378.7 686.7 379.6 688.9 380.5 690.6 381.7 692.1 383.2 693.4 385 694.4 386.9 695.1 389.6 695.7 392.3 696.1 395 696.2 399.6 696 400.5 696.5 401 708.4 401.3 725.6 401.6 744.6 401.7 791.6 402.2 820.6M114.5 631.5 115.5 631.5 117.3 631.2 119.1 630.5 120 629.9 121.8 628.1 122.7 626.9 124.6 623.2 125.5 620.4 126.3 617 127.3 610 128.2 598.9 128.4 591.6 128.4 564.5 128.2 540.4 127.6 523.8 126.7 513.8 125.5 506.5 124.6 503.4 123.6 501.1 122.6 499.3 120.9 497.5 119.1 496.4 117.3 496.1 115.5 496.3 114.5 496.7 112.7 498.1 110.9 500.7 110 502.7 109.1 505.5 108.1 510.2 107.2 517.4 106.4 529.2 106.1 540 105.9 563.6 105.9 591.6 106.3 607 106.8 615.2 107.6 621.5 108.2 624.1 109.1 626.7 110.2 628.7 111.8 630.4 112.7 630.9 114.5 631.5M222.5 631.5 223.8 631.5 225.7 631.1 227.5 630.1 228.4 629.4 229.9 627.8 231.1 626 232.9 621.7 234.1 617 235 610.6 235.7 604.1 236.3 591.6 236.3 564.5 236 541 235.6 527.4 234.7 514.7 233.8 509 233.1 505.7 232 502.4 231.1 500.4 230.2 499 228.4 497.2 226.6 496.3 224.7 496.1 222.9 496.5 222 496.9 221.1 497.6 219.6 499.3 218.4 501.4 217.7 502.9 216.5 507 215.6 512.1 214.7 521.1 214.2 532.8 213.8 546.4 213.8 596.2 214.1 607 214.7 616.5 215.6 622.6 216.5 625.8 217.5 627.8 218.4 629.2 219.3 630.1 221.1 631.1 222.5 631.5M330.3 631.5 331.3 631.5 333.1 631.2 334.9 630.4 335.9 629.7 337.7 627.9 338.6 626.6 340.4 622.8 341.3 619.8 341.9 617 342.9 610.6 343.6 602.5 344.1 592.5 344.1 561.8 343.9 542.8 343.2 523.8 342.4 513.8 341.3 507.2 340.4 503.9 339.3 501.1 338.2 499.3 336.8 497.6 334.9 496.5 333.1 496.1 331.3 496.3 330.4 496.6 329.5 497.2 328.1 498.4 326.4 501.1 324.7 505.7 323.6 511.1 322.8 518.3 322.2 527.6 321.8 541 321.5 564.5 321.5 591.6 321.9 606.1 322.5 615.2 323.5 622.4 324 624.7 324.9 627.1 325.9 628.7 327.7 630.5 328.6 631 330.3 631.5M433.3 503.2 432.4 506.3 431.5 510.9 430.6 518.3 430.2 524.7 429.6 541 429.4 575.3 429.5 599.8 430.2 613.4 430.6 617.9 431.5 623.3 432.4 626.2 433.3 628.1M99.4 820.6 100.8 810.6 101.6 801.6 102.2 790.7 102.7 777.2 103 760 103 742.8 102.7 724.6 102.1 710.2 101.4 701.1 100.5 693.9 99.4 687.6 98.1 682.6 96.3 678.1 94.5 675.4 92.7 673.9 90.9 673.3 89 673.6 87.2 674.9 85.4 677.6 84.5 679.6 83 684.8 81.8 691.5 80.8 694.9 80.3 698.4 79.9 703.8 79.6 731.9 79.8 761.8 80.1 779 80.7 793.4 81.3 803.4 82.2 812.5 83.3 820.6M207.3 820.6 208.3 813.4 209.3 803.4 210.2 789.1 210.6 776.3 210.9 743.7 210.6 725.6 209.9 711.1 209.3 701.6 208.3 693.7 207.4 688.4 206.1 683 204.7 679.2 202.9 676.1 201.1 674.2 200.2 673.7 198.3 673.3 196.5 673.8 194.7 675.3 193.2 677.6 192 680.7 190.4 686.7 189.2 694.3 188.3 695.8 187.9 702 187.6 713.8 187.5 729.2 187.6 760 187.9 779 188.4 790.7 189.2 804.6 190.1 813.6 191.2 820.6M315.1 820.6 316.4 811.5 317.4 800.7 318 788 318.5 772.6 318.7 754.5 318.7 738.2 318.3 722.9 317.6 708.4 316.8 698.4 315.9 692.1 314.9 686.6 313.6 682.1 312.2 678.5 310.4 675.6 308.5 674 307.6 673.5 305.8 673.3 304 674 303.1 674.7 301.2 677.3 300.3 679.4 299.4 681.8 298.5 685.4 297.3 692.1 296.7 696.9 296.1 698.4 295.8 700.1 295.4 712.9 295.3 729.2 295.4 760 295.8 779.4 296.3 792.5 296.9 802.5 297.7 811.5 299 820.6M423 820.6 424.2 812 425.1 802.1 425.8 788.9 426.3 776.3 426.6 743.7 426.2 724.7 425.6 711.1 425.1 703.5 424.2 694.9 423.3 689.2 421.8 683 420.5 679.6 418.7 676.3 416.9 674.3 416 673.8 414.2 673.3 412.4 673.7 410.5 675.1 408.9 677.6 407.8 680.2 406.3 685.8 405.1 693 404.2 695 403.5 702.9 403.2 712.2 403.1 730.1 403.3 760 403.6 779 404.2 793.1 404.9 804.3 405.9 814.3 406.8 820.6M143.8 802.5 145.5 803.2 146.4 803.2 148.2 802.6 150.1 800.8 151 799.3 151.9 797.3 153.1 793.4 154.1 788 154.8 781.7 155.2 773.5 155.4 761.8 155.2 747.3 155.1 743.7 154.3 738.2 153.7 735.3 152.8 732.2 151.9 730.1 151 728.6 149.1 726.7 148.2 726.2 146.4 725.8 144.6 726.2 142.8 727.4 141.3 729.2 140 731.5 139.1 733.9 138.2 737.2 137.3 742 137 745.5 136.8 756.3 136.9 770.8 137.2 779.9 137.8 786.2 138.9 792.5 140 796.7 141 798.9 141.9 800.4 142.8 801.6 143.8 802.5M251.7 802.5 253 803.1 253.9 803.3 255.7 802.8 257.5 801.2 258.4 799.9 259.3 798.2 260.7 794.4 261.8 788.9 262.5 782.6 263 775.1 263.2 764.5 263.1 748.2 263 744.4 262.2 738.2 261.1 733.7 260.3 731.3 259.3 729.4 257.5 727.1 256.6 726.4 254.8 725.8 253 726 251.2 726.9 249.3 728.9 248.4 730.4 247.5 732.4 246.5 735.5 245.6 739.1 244.8 744.6 244.6 755.4 244.7 770.8 245 779 245.7 786.5 246.6 792.1 248 797.1 249.3 799.9 250.2 801.2 251.7 802.5M359.5 802.5 360.4 803 361.4 803.2 362.3 803.2 363.2 803 364.1 802.5 365.9 800.5 367.6 797.1 368.7 793.4 369.8 788 370.5 781.7 370.8 774.4 371 763.6 370.9 748.2 370.8 743.7 370 738.2 368.6 732.7 367.7 730.4 366.8 728.8 365 726.8 364.1 726.2 362.3 725.8 360.4 726.1 358.6 727.2 357 729.2 356 731 355 733.4 354.1 736.5 353.2 741 352.7 744.6 352.5 754.5 352.5 769.9 352.8 778.1 353.4 785.3 354.4 791.6 355.9 797.1 356.8 799.2 357.7 800.7 359.5 802.5M65.1 673.1 66.3 673.4 67.2 673.4 68.1 673 69 672.4 69.9 671.3 70.8 669.9 72.6 665.8 74.5 659.6 75.7 653.2 77.2 640.5 78.1 636 78.6 626.9 78.9 613.4 78.8 578.1 78.4 558.1 77.7 541 76.5 527.4 75.8 521.9 74.9 517.4 73.6 512.9 72.6 510.4 71.5 508.4 69.9 506.4 68.1 505.1 66.3 504.8 64.5 505.2 63.5 505.7 61.8 507.5 60.8 509 59.9 510.8 58.8 513.8 58.1 516.4 57.1 521 55.8 531 54.9 543.7 54.3 559.1 53.9 579.9 54 600.7 54.4 621 55.3 636.9 56.3 647.1 57.2 653.6 58.1 658.4 59.9 664.9 61.7 669.2 62.6 670.8 63.5 671.9 65.1 673.1M172.9 673.1 173.7 673.4 174.6 673.4 175.6 673.2 176.5 672.7 177.4 671.8 178.4 670.4 180.1 666.7 181.9 661.2 182.8 657.1 183.8 651.8 186.2 632.4 186.5 628 186.7 617 186.6 581.7 186.4 563.6 185.7 543.7 184.7 530 183.8 522.9 183.1 519.2 182 514.7 181 511.7 179.9 509.3 178.3 506.9 176.5 505.4 174.6 504.8 172.8 505 171.9 505.4 170.5 506.6 169.2 508.1 168.3 509.7 166.9 512.9 165.9 516.5 165.1 520.1 163.7 530 162.8 541.5 162.1 557.2 161.8 574.4 161.8 596.2 162.1 615.2 162.8 632.1 163.9 645 164.6 651.2 165.5 656.6 167.4 663.8 168.3 666.3 170.1 670.2 171.7 672.2 172.9 673.1M280.8 673.1 282.1 673.4 283 673.3 283.9 672.9 284.8 672.2 285.8 671.1 286.7 669.6 288.5 665.3 290.3 658.9 291.9 649.6 293 638.5 294 634.7 294.3 626 294.5 614.3 294.5 579 294.1 558.1 293.3 540 292.2 527.4 291.3 521 290.6 517.4 289.4 513.2 288.5 510.8 287.2 508.4 285.8 506.5 283.9 505.2 282.1 504.8 280.3 505.1 279.4 505.6 277.6 507.4 276.7 508.7 275.7 510.4 274.5 513.8 272.8 521 271.5 531 270.5 543.7 269.9 559.1 269.6 579 269.6 600.7 270.1 621.5 271 636.9 272.1 648.4 273 654.5 273.9 659.1 275.7 665.4 277.6 669.5 278.5 671 279.4 672.1 280.8 673.1M388.6 673.1 389.6 673.4 390.5 673.4 391.4 673.1 392.3 672.5 393.2 671.6 394.1 670.3 396 666.3 397.8 660.5 399.5 651.4 401.7 634.2 402.2 626 402.4 614.3 402.3 579.9 402 560 401.3 542.8 400.1 528.3 399.6 523.8 398.6 518.3 397.4 513.8 396 510.2 395 508.4 393.2 506.2 391.4 505.1 389.6 504.8 387.8 505.3 386.9 505.9 385.3 507.5 384.1 509.4 382.3 513.8 381.4 517.2 380.5 521.8 379.2 531.9 378.3 544.6 377.7 559.8 377.4 580.8 377.5 600.7 377.9 618.8 378.7 634.7 379.8 646.8 381.4 657.4 383.2 664.3 384.1 666.7 385.9 670.4 386.9 671.7 388.6 673.1M114.9 610.6 116.4 611.3 117.3 611.3 118.2 611 119.1 610.3 120 609.3 121.8 606.1 123.3 601.6 124.5 596.2 125.1 591.6 125.3 587.1 125.4 574.4 125.2 562.7 124.6 551.1 123.6 542.9 122.6 537.3 121.8 534.1 120.9 531.6 120 529.8 119.1 528.6 118.2 527.9 117.3 527.6 116.4 527.8 115.5 528.4 114.5 529.4 113.6 531 112.9 532.8 111.8 536.6 110.9 541.2 110 548.3 109.4 556.3 109 564.5 108.9 582.6 109.2 591.6 109.5 594.3 110.5 600.7 111.8 605.7 112.7 607.8 113.6 609.3 114.9 610.6M222.7 610.6 223.8 611.2 224.7 611.3 225.7 611.1 226.6 610.6 227.5 609.8 228.4 608.6 229.6 606.1 231.1 601.8 232.2 597.1 233 591.6 233.1 586.2 233.3 573.5 233 560.9 232.4 550.9 231.5 542.8 230.2 536.1 229.3 533 228.4 530.8 227.5 529.3 226.6 528.3 225.7 527.7 224.7 527.6 223.8 528 222.9 528.7 222 530 220.5 533.7 219.3 538.3 218.4 543.7 217.6 550.9 216.8 566.3 216.8 584.4 217 591.6 217.5 595.6 218.4 601 219.5 605.2 221.1 608.8 222 610 222.7 610.6M330.6 610.6 331.3 611.1 332.2 611.3 333.1 611.2 334 610.9 334.9 610.2 335.9 609.1 337.5 606.1 338.6 603.1 339.8 598 340.7 592.5 340.9 588 341.1 575.3 340.9 563.6 340.4 553.2 339.5 544.1 338.5 538.2 337.7 534.7 336.8 532 335.9 530.1 334.9 528.8 334 528 333.1 527.6 332.2 527.7 331.3 528.2 330.4 529.2 329.5 530.7 328.6 532.8 327.7 535.9 326.7 540.2 325.8 546.7 325.1 555.4 324.7 563.6 324.6 579.9 324.8 589.8 325 593.4 326 599.8 327.4 605.2 328.6 608.1 329.5 609.6 330.6 610.6M433.3 550.5 432.6 562.7 432.4 575.3 432.7 591.6 433.3 596.8M93.5 820.6 94.5 819.3 95.4 817.5 97.2 812.1 98.9 803.4 100 795.1 100.9 783.4 101.4 771.7 101.7 757.2 101.8 742.8 101.4 730.1 100.8 718.3 99.9 709.3 98.6 700.2 97.2 694.7 95.4 689.9 93.6 687.2 92.7 686.5 91.8 686 90.9 685.9 90 686 89 686.5 88.1 687.4 87.2 688.7 86.4 690.3 84.8 694.8 83.6 700.2 82.7 707.2 81.9 716.5 81.3 726.5 81 738.2 81 754.5 81.3 769 81.8 781 82.7 793.7 83.7 802.5 85.4 811.5 87.2 817.2 88.1 819 89.3 820.6M201.3 820.6 202.9 818.3 203.8 816.2 205 812.5 206.5 805 207.8 795.3 208.6 784.4 209.3 770.8 209.6 753.6 209.5 739.1 209.1 727.4 208.3 715.1 207.4 706.6 206.2 699.3 204.7 693.5 202.9 689.2 201.1 686.9 200.2 686.2 199.2 685.9 198.3 685.9 197.4 686.2 196.5 686.9 195.6 687.9 194.7 689.4 193.8 691.4 192.9 694.1 191.5 700.2 190.5 707.5 189.7 716.5 189.1 728.3 188.9 740.1 188.9 756.3 189.2 772.5 189.9 786.2 190.8 796.2 192 805.2 193.5 812.5 194.7 816.3 195.4 817.9 196.5 819.9 197.2 820.6M309.1 820.6 310.4 819 311.3 817.1 313.1 811.4 314.5 804.3 315.6 795.3 316.5 784.4 317.1 772.6 317.4 757.2 317.4 742.8 317 729.2 316.4 718.3 315.5 708.4 314.2 700.2 313.1 695.2 311.3 690.3 309.4 687.4 308.5 686.6 307.6 686.1 306.7 685.9 305.8 686 304.9 686.4 304 687.2 303.1 688.4 302.2 690.1 300.5 694.8 299.4 699.7 298.5 705.8 297.6 715.6 297 726.5 296.7 739.1 296.7 755.2 297 769.9 297.6 783.9 298.5 795.4 299.7 804.3 301.2 812.2 303.1 817.6 304 819.3 305 820.6M417 820.6 417.8 819.6 418.7 817.9 420.5 812.8 422.3 804.3 423.4 796.2 424.3 785.3 425 769.9 425.3 754.5 425.2 740.1 424.8 728.3 424.2 717.2 423.3 707.8 421.9 699.3 420.5 694 418.7 689.5 416.9 687 416 686.3 415.1 685.9 414.2 685.9 413.3 686.1 412.4 686.7 411.4 687.7 410.4 689.4 408.7 693.5 407.2 700.2 406.1 708.4 405.4 716.5 404.8 727.4 404.6 739.1 404.6 756.3 404.9 771.7 405.5 784.4 406.4 795.3 407.4 803.4 408.7 810.7 410.5 816.7 411.4 818.6 412.8 820.6M145.3 789.8 146.4 790 147.3 789.6 148.2 788.7 149.1 787.2 150.1 784.9 151 781.2 151.6 777.2 152 772.6 152.2 766.3 152.2 752.7 151.8 744.6 151 741.4 149.5 738.2 148.2 736.7 147.3 736.1 146.4 735.8 145.5 735.9 144.6 736.3 143.7 737.1 142.8 738.3 141.5 741 140.3 744.6 139.9 752.7 140 769.9 140.4 775.3 140.9 779.9 141.9 784.2 142.8 786.8 143.7 788.4 144.6 789.4 145.3 789.8M253.1 789.8 253.9 790 254.8 789.8 255.7 789.1 256.6 787.9 257.4 786.2 258.3 783.5 259 779.9 259.5 776.3 260.1 765.4 260 751.8 259.8 746.4 259.5 743.7 258.4 740.4 257.5 738.5 256.7 737.3 255.7 736.4 254.8 735.9 253.9 735.8 253 736 252.3 736.4 251.2 737.5 249.7 740.1 248.7 742.8 248.1 745.5 247.8 754.5 247.9 769 248.2 774.4 248.7 779 249.3 782.7 250.2 785.8 251.3 788 252.1 789.1 253.1 789.8M361 789.8 362.3 790 363.2 789.5 363.7 788.9 365 786.9 365.9 784.4 366.8 780.3 367.2 777.2 367.9 767.2 367.9 753.6 367.5 744.6 366.5 741 365 737.9 364.1 736.8 363.2 736.1 362.3 735.8 361.4 735.9 360.4 736.2 359.5 736.9 358.5 738.2 357.1 741 356 744.6 355.6 751.8 355.7 769 355.9 773.5 356.5 779 357.4 783.5 358.6 787.1 359.5 788.6 360.4 789.6 361 789.8M65.2 657.7 66.3 658 67.2 657.9 68.1 657.4 69 656.6 69.9 655.4 70.8 653.8 72.1 650.5 74 643.2 75.4 634.1 76.3 624.2 77.1 609.7 77.4 594.3 77.3 576.2 76.9 560 76.1 547.3 74.8 535.5 73.4 528.3 72.6 525.3 71.4 521.9 70 519.2 69 518.1 68.1 517.3 67.2 516.9 66.3 516.8 65.4 517 64.5 517.4 63.5 518.2 61.7 521 59.9 525.9 59 529.5 58.1 534.4 57.1 541.9 56.2 553.6 55.5 568.1 55.3 582.6 55.3 598.7 55.8 613.4 56.5 625.1 57.6 636 59 644.2 60.8 650.9 62.6 655 63.5 656.3 64.5 657.2 65.2 657.7M173.1 657.7 173.7 657.9 174.6 658 175.6 657.6 176.5 657 177.4 656 178.3 654.5 180.1 650.1 181.9 642.7 183.2 634.2 184.2 623.3 184.9 610.6 185.2 596.2 185.2 578.1 184.8 560.9 183.9 547.3 182.8 537 181.9 531.4 181.1 527.4 179.3 521.9 178.3 520 177.4 518.7 176.5 517.7 175.6 517.1 174.6 516.8 173.7 516.8 172.8 517.1 171.9 517.7 171 518.7 170.1 520 168.3 524.1 167.4 527.2 166.5 531.3 165.2 540 164.2 550.9 163.5 563.6 163.2 579.9 163.2 597.1 163.6 613.4 164.5 626.9 165.5 636.6 167.2 645.9 168.8 651.4 170.1 654.3 171 655.8 171.9 656.9 173.1 657.7M281 657.7 282.1 658 283 657.8 283.9 657.3 284.8 656.4 285.8 655.2 287.6 651.2 288.5 648.3 289.7 643.2 291.2 632.7 292.1 622.3 292.8 608.8 293.1 594.3 293 576.8 292.5 560 291.7 546.4 290.5 535.5 289.5 530.1 288.7 526.5 287.6 523.1 286.7 521 285.8 519.4 284.8 518.2 283.9 517.4 283 517 282.1 516.8 281.2 516.9 280.3 517.3 279.4 518.1 277.6 520.7 275.7 525.3 274.8 528.8 273.9 533.4 272.8 541.9 271.9 552.7 271.2 567.2 271 581.7 271 597.1 271.4 611.5 272.1 624.1 273.2 635.1 274.8 645 276.7 651.4 278.5 655.3 279.4 656.5 281 657.7M388.8 657.7 389.6 658 390.5 657.9 391.4 657.6 392.3 656.8 393.1 655.9 394.1 654.2 396 649.6 397.8 641.8 399 633.3 400 622.4 400.7 608.8 400.9 594.3 400.9 577.2 400.5 561.8 399.6 547.1 398.4 536.4 396.9 527.9 395 522.2 394 520.1 392.3 517.9 391.4 517.2 390.5 516.9 389.6 516.8 388.7 517 387.8 517.6 386.9 518.5 385 521.4 383.2 526.6 381.6 534.6 380.5 543.4 379.6 555.6 379 569.9 378.8 584.4 378.9 600.7 379.4 616.1 380.3 628.7 381.4 637.8 382.9 645.9 384.5 651.4 385.9 654.6 386.9 656 387.8 657 388.8 657.7M115.7 598.9 116.4 599.3 117.3 599.4 118.2 599.1 119.1 598.3 119.9 597.1 120.9 595 122 591.6 122.5 581.7 122.5 569 122.1 562.7 121.6 557.2 120.9 553.2 120 549.7 119.1 547.5 118.2 546.2 117.3 545.7 116.4 546 115.5 547 114.5 548.9 113.6 552 112.4 560 111.7 569.9 111.7 581.7 112.3 591.6 112.7 593.3 113.6 595.9 114.5 597.6 115.7 598.9M223.5 598.9 224.7 599.4 225.7 599.3 226.6 598.6 227.5 597.5 229 594.3 229.8 591.6 230.4 580.8 230.3 567.2 229.3 556.3 228.4 551.6 227.5 548.6 226.6 546.8 225.7 545.9 224.7 545.7 223.8 546.3 222.9 547.7 222 550 221.1 553.8 220.1 560.9 219.5 571.7 219.6 581.7 220.2 591.6 221.1 594.9 222 597 222.9 598.3 223.5 598.9M331.3 598.9 332.2 599.4 333.1 599.4 334 599 334.9 598.1 335.9 596.6 336.8 594.6 337.6 591.6 338.2 582.6 338.3 575.3 338.2 569 337.8 561.8 337.2 557.2 336.8 554.1 335.8 550 334.6 547.3 334 546.4 333.1 545.8 332.2 545.9 331.3 546.8 330.4 548.5 329.5 551.4 328.6 556 328.2 559.1 327.4 569 327.4 580.8 328 591.6 328.6 593.8 329.5 596.2 330.4 597.9 331.3 598.9M89.9 808.8 90.9 809.4 91.8 809.4 92.7 809 93.6 808 94.5 806.5 95.4 804.4 96.3 801.4 97.2 797.5 98.6 788.9 99.5 779 100.2 767.2 100.5 752.7 100.5 743.7 100 730.5 99.1 719.2 98.1 712.2 96.6 704.8 95 700.2 93.6 697.8 92.7 696.9 91.8 696.4 90.9 696.3 90 696.6 89 697.3 88.1 698.5 87.2 700.2 85.7 704.8 84.6 710.2 83.6 718 83 725.6 82.5 733.7 82.3 744.6 82.3 756.3 82.7 768.7 83.4 780.8 84.2 788.9 85.4 796.8 86.5 801.6 88.1 806.2 89 807.8 89.9 808.8M197.8 808.8 198.3 809.2 199.2 809.5 200.2 809.2 201.1 808.5 202 807.2 202.9 805.3 203.8 802.7 205.1 797.1 206.5 788 207.4 778.1 208 766.3 208.3 754.5 208.3 744.5 207.9 731.9 207.2 722 206.1 712.9 204.7 705.8 203.8 702.6 202.9 700.3 202 698.6 201.1 697.4 200.2 696.6 199.2 696.3 198.3 696.3 197.4 696.8 196.5 697.7 195.6 699.1 194.1 702.9 192.9 707.9 192 713.4 191 722.2 190.4 732.8 190.1 743.7 190.1 755.4 190.5 768.1 191 778.3 192 788.2 193 795.3 193.8 799.4 194.7 802.8 195.6 805.4 196.5 807.3 197.8 808.8M305.6 808.8 306.7 809.4 307.6 809.4 308.5 808.9 309.4 807.8 310.4 806.2 311.3 803.9 312.2 800.8 313.1 796.7 314.2 788.9 315.2 779 315.8 768.1 316.2 753.6 316.2 744.6 315.8 732.8 314.9 720.7 313.9 712.9 312.7 706.6 311.1 701.1 310.4 699.5 309 697.5 307.6 696.4 306.7 696.2 305.8 696.5 304.9 697.1 304 698.2 303.1 699.9 302.2 702.2 301.4 704.8 300.3 709.9 299.4 716.5 298.6 725.6 298 744.6 298 757.2 298.4 769 298.9 779 299.8 788 300.8 795.3 302.2 801.5 303.1 804.4 304 806.6 304.9 808.1 305.6 808.8M413.5 808.8 414.2 809.3 415.1 809.5 416 809.1 416.9 808.3 417.8 806.9 418.7 804.9 419.6 802.2 421 796.2 422.4 786.5 423.2 776.3 423.8 764.5 424 751.8 424 741.9 423.3 728.3 422.4 717.4 421.5 710.9 420.1 704.8 418.5 700.2 416.9 697.6 416 696.7 415.1 696.3 414.2 696.3 413.3 696.7 412.4 697.5 411.4 698.8 410.5 700.7 409.3 704.8 408.1 710.2 407.2 717.4 406.6 724.7 406 734.6 405.8 744.6 405.9 757.2 406.2 769 406.9 780.5 407.8 789.6 409 797.1 410.5 803.4 411.4 805.8 412.4 807.5 413.5 808.8M65.1 645.9 66.3 646.4 67.2 646.2 68.1 645.7 69 644.7 69.9 643.2 70.8 641.2 71.7 638.5 72.6 634.9 74 626.9 75.1 617 75.7 606.1 76.1 592.5 76 578.1 75.5 564.5 74.6 552.7 73.6 543.9 72 536.4 70.5 531.9 69 529.2 68.1 528.2 67.2 527.6 66.3 527.5 65.4 527.7 64.5 528.3 63.5 529.4 62.6 530.9 61.7 533.1 60.8 535.9 59.4 542.8 58.1 551.8 57.4 560.9 56.9 571.7 56.6 583.5 56.7 595.3 57.1 607.9 57.8 618.8 58.7 626.9 59.9 633.9 60.8 637.7 61.7 640.6 62.6 642.8 63.5 644.4 64.5 645.5 65.1 645.9M172.9 645.9 173.7 646.3 174.6 646.4 175.6 646 176.5 645.2 177.4 643.9 178.3 642.1 179.2 639.7 180.4 635.1 181.9 626.4 182.8 617.8 183.5 607 183.9 595.3 183.9 581.7 183.6 569 182.8 556.7 181.9 547.3 180.7 540 179 533.7 177.4 530 176.5 528.7 175.6 527.9 174.6 527.5 173.7 527.5 172.8 527.9 171.9 528.7 170.5 531 169 534.6 167.4 541.7 166.5 547.7 165.5 557.2 164.9 568.1 164.5 579.9 164.5 592.5 164.8 604.3 165.5 617 166.5 626.1 167.6 633.3 169.2 639.5 170.1 641.9 171 643.8 171.9 645.1 172.9 645.9M280.8 645.9 281.2 646.2 282.1 646.4 283 646.2 283.9 645.5 284.8 644.5 285.8 642.9 286.7 640.8 287.6 637.9 288.5 634.1 289.7 626.9 290.7 617 291.4 606.1 291.7 593.4 291.7 579 291.2 565.4 290.4 553.6 289.4 545 288.1 538.2 286.6 532.8 284.8 529.4 283.9 528.3 283 527.7 282.1 527.5 281.2 527.6 280.3 528.2 279.4 529.2 278.3 531 276.7 535.4 275 542.8 273.9 550.9 273.1 560.9 272.6 571.7 272.3 582.6 272.3 594.3 272.7 607 273.4 617 274.3 626 275.5 633.3 276.8 638.7 278.5 643.1 279.4 644.6 280.8 645.9M388.6 645.9 389.6 646.4 390.5 646.3 391.4 645.9 392.3 645 393.2 643.6 394.1 641.7 395 639.2 396.5 633.3 397.8 625.1 398.7 615.7 399.3 604.3 399.6 591.6 399.5 577.2 398.9 562.7 398 550.9 396.9 542.8 395.5 536.4 394 531.9 393.2 530.2 392.3 528.9 391.4 528 390.5 527.6 389.6 527.5 388.7 527.8 387.8 528.5 386.9 529.7 385.9 531.4 385 533.7 384.1 536.7 382.9 542.8 381.8 550.9 381 560 380.5 569.9 380.2 583.5 380.2 595.3 380.6 607 381.3 618.8 382.3 627.3 383.5 634.2 385 640 385.9 642.3 386.9 644 387.8 645.3 388.6 645.9M199.1 778.1 200.2 777.6 201.1 776 202 773.1 202.9 768.3 203.8 758.9 204.1 748.2 203.8 740.7 202.6 731.9 202 729 201.1 726.4 200.2 724.9 199.2 724.4 198.3 724.7 197.4 726 196.5 728.4 195.9 731 195.3 734.6 194.7 740 194.4 747.3 194.7 759.4 195.6 768.5 196.5 773.3 197.4 776.1 198.3 777.6 199.1 778.1M415 778.1 416 777.4 416.9 775.6 417.8 772.4 418.4 769 419.5 759.1 419.8 749.1 419.6 742.8 418.5 732.8 417.8 729.6 416.9 726.8 416 725.1 415.1 724.4 414.2 724.6 413.3 725.7 412.4 727.9 411.4 731.6 410.5 738.2 410.1 747.3 410.4 760 411.4 769.5 412.4 773.9 413.3 776.5 414.2 777.8 415 778.1M90.2 777.2 90.9 778 91.8 778 92.7 777.1 93.6 775 94 773.5 94.5 771.5 95.4 765.4 96.2 753.6 96.2 744.6 95.4 735.5 94.5 730.5 93.6 727.3 92.7 725.4 91.8 724.5 90.9 724.5 90 725.3 89 727.3 88.3 730.1 87.2 736.3 86.6 744.6 86.6 754.5 87.3 764.5 88.3 771.7 89 774.6 90.2 777.2M305.8 777.2 306.7 778.1 307.6 777.9 308.5 776.8 309.4 774.5 309.9 772.6 310.5 769.9 311.3 763.8 311.9 750.9 311.9 744.6 311.7 741.9 311.3 737.1 310.4 731.3 309.4 727.8 308.5 725.7 307.6 724.6 306.7 724.4 305.8 725.1 304.9 726.8 304 729.9 302.9 736.4 302.2 745.5 302.3 755.4 303.1 765.6 304 771.7 304.9 775.1 305.8 777.2M65.7 616.1 66.3 616.4 67.2 616 68.1 614.8 69 612.6 69.9 608.9 71 600.7 71.5 589.8 71.4 582.6 71.1 576.2 70.7 571.7 69.9 565.9 69 562 68.1 559.6 67.2 558.3 66.3 557.9 65.4 558.4 64.5 559.9 63.5 562.5 62.6 566.8 61.7 574.4 61.2 586.2 61.5 598 62.5 607 63.7 612.4 64.5 614.4 65.4 615.9 65.7 616.1M173.5 616.1 173.7 616.3 174.6 616.3 175.6 615.4 176.5 613.6 177.4 610.6 178.3 605.7 178.7 602.5 179.3 591.6 179.2 580.1 178.3 569.3 177.4 564 176.5 560.8 175.6 558.9 174.6 558 173.7 558 172.8 558.9 171.9 560.8 171 564 170.1 569.3 169.7 572.6 169.2 579 169.1 584.4 169.2 595.6 170.1 605.6 171 610.5 171.9 613.6 172.8 615.4 173.5 616.1M281.3 616.1 282.1 616.4 283 615.9 283.9 614.5 285.2 610.6 285.9 607 286.7 601 287.2 590.7 287.2 584.4 286.9 577.2 286.5 572.6 285.8 566.8 284.8 562.5 283.9 559.9 283 558.4 282.1 557.9 281.2 558.3 280.3 559.6 279.4 561.9 278.5 565.8 277.4 574.4 276.9 586.2 277.1 597.1 278 606.1 278.5 608.8 279.4 612.5 280.3 614.8 281.3 616.1M389.3 616.1 389.6 616.3 390.5 616.2 391.4 615.2 392.3 613.2 393.2 609.9 394.1 604.4 394.5 600.7 394.9 594.3 395.1 588.9 394.6 576.2 394.1 570.6 393.3 565.4 392.3 561.3 391.4 559.2 390.5 558.1 389.6 558 388.7 558.7 387.8 560.4 386.9 563.3 385.9 568.1 385 577.1 384.7 587.1 385 598 385.9 606.7 386.9 611.2 387.8 614 388.7 615.6 389.3 616.1" fill="none" stroke="#1d3a1d" stroke-width="0.75" stroke-opacity="0.6"/></g>
<g clip-path="url(#cpb)"><rect x="560.9" y="27.4" width="381.6" height="343.1" fill="#85ff40"/>
<path d="M555.9 378.1 L560.9 378.1 597.8 378.1 601 370.4 602.3 367.9 603.6 366 604.9 364.4 606.1 363.3 607.4 362.7 608.7 362.5 610 362.7 611.2 363.4 612.5 364.6 613.8 366.2 615.1 368.2 616.3 370.7 618.9 377 619.5 378.1 693.4 378.1 696.6 370.3 697.9 367.9 699.1 365.9 700.4 364.4 701.7 363.3 703 362.7 704.2 362.5 705.5 362.7 706.8 363.4 708.1 364.6 709.3 366.2 710.6 368.2 711.9 370.7 714.4 377 715.1 378.1 789 378.1 792.2 370.3 793.4 367.9 794.7 365.9 796 364.4 797.2 363.3 798.5 362.7 799.8 362.5 801.1 362.8 802.3 363.5 803.6 364.6 804.9 366.2 806.2 368.2 807.4 370.7 810 377 810.6 378.1 884.5 378.1 887.7 370.3 889 367.9 890.3 365.9 891.5 364.4 892.8 363.3 894.1 362.7 895.4 362.5 896.6 362.8 897.9 363.5 899.2 364.6 900.5 366.2 901.7 368.2 903 370.7 905.6 377.1 906.2 378.1 942.5 378.1 L947.5 22.4 L555.9 22.4Z" fill="#63ff40"/>
<path d="M555.9 308 L560.9 308 561.5 309.7 563.4 323.3 565.4 333.4 566 335.4 567.9 339.9 571.7 347.6 573.6 350.8 575.6 353.4 577.5 355.6 579.4 357.1 581.3 358 583.2 358.3 584.5 357.7 585.7 356.4 587 354.3 588.9 350 592.1 340.6 598.5 318.1 601.7 308 603.6 303.1 604.9 300.5 606.1 298.5 606.8 297.8 608 297 608.7 296.9 609.3 297.1 610.6 298 611.9 299.7 613.8 303.5 615.7 308.5 617.6 314.4 624.6 339 627.8 348.8 629.7 353.3 631 355.7 632.3 357.3 632.9 357.9 633.5 358.2 634.2 358.3 636.1 358 638 357 639.9 355.5 641.8 353.3 643.7 350.7 645.6 347.5 649.5 339.8 651.4 335.4 652 333.4 653.9 323.3 655.8 309.6 656.5 308 657.1 309.7 659 323.3 660.9 333.4 662.2 336.9 664.7 342.7 667.3 347.6 669.2 350.8 671.1 353.5 673 355.6 674.9 357.1 676.8 358 678.8 358.3 680 357.7 681.3 356.4 682.6 354.3 683.9 351.6 685.8 346.5 688.3 338.4 694.7 315.9 697.9 306.2 699.8 301.7 701.1 299.4 702.3 297.8 703.6 297 704.2 296.9 704.9 297.1 706.2 298 707.4 299.7 709.3 303.5 711.2 308.5 713.2 314.4 720.2 339 723.4 348.8 725.3 353.4 726.5 355.7 727.8 357.3 728.4 357.9 729.1 358.2 729.7 358.3 731.6 358 733.5 357 735.5 355.5 737.4 353.3 739.3 350.7 741.2 347.5 745 339.8 746.9 335.3 747.6 333.3 749.5 323.2 751.4 309.6 752 308 752.7 309.7 754.6 323.4 756.5 333.4 757.8 337 760.3 342.7 762.8 347.6 764.8 350.8 766.7 353.5 768.6 355.6 770.5 357.1 772.4 358 774.3 358.3 775.6 357.7 776.9 356.4 778.1 354.3 779.4 351.5 781.3 346.5 783.9 338.4 790.2 315.9 793.4 306.2 795.3 301.7 796.6 299.4 797.9 297.8 799.2 297 799.8 296.9 800.4 297.1 801.7 298 803 299.7 804.9 303.5 806.8 308.5 808.7 314.4 815.7 339 818.9 348.8 820.8 353.4 822.1 355.7 823.4 357.3 824 357.9 824.6 358.2 825.3 358.3 827.2 358 829.1 357 831 355.5 832.9 353.3 834.8 350.7 836.7 347.5 840.6 339.8 842.5 335.3 843.1 333.3 845 323.2 846.9 309.6 847.6 308 848.2 309.8 850.1 323.4 851.4 330.5 852 333.5 852.7 335.4 853.9 338.5 856.5 344 858.4 347.7 860.3 350.8 862.2 353.5 864.1 355.6 866.1 357.1 868 358 869.2 358.3 870.5 358.1 871.8 357.1 873.1 355.4 875 351.5 876.9 346.5 878.8 340.5 885.2 318.1 888.3 307.9 890.3 303 891.5 300.4 892.8 298.5 894.1 297.3 894.7 297 895.4 296.9 896 297.1 897.3 298 898.5 299.7 900.5 303.5 902.4 308.5 904.3 314.4 911.3 339 914.5 348.8 916.4 353.4 917.7 355.7 918.9 357.3 920.2 358.2 921.5 358.3 923.4 357.7 925.3 356.6 927.2 354.8 929.1 352.5 931 349.7 932.9 346.3 935.5 341.2 938 335.3 938.7 333.3 940.6 323.1 942.5 309.5 L947.5 22.4 L555.9 22.4Z" fill="#40ff40"/>
<path d="M555.9 247 L560.9 247 561.5 247.2 562.2 247.7 563.4 249.7 564.7 252.8 566.6 259.1 569.8 273.1 576.2 305 578.1 313.4 579.4 318.2 580.6 322.2 581.9 325.3 583.2 327.2 583.8 327.7 584.5 328 585.1 327.9 585.7 327.6 587 326.3 588.3 324 589.6 321 590.8 317.4 592.8 311 599.8 283.6 602.9 272.8 604.9 268 606.1 265.7 607.4 264.2 608 263.9 608.7 263.8 609.3 263.9 610 264.3 611.2 265.9 612.5 268.3 614.4 273.2 617.6 284.1 624.6 311.4 626.5 317.8 627.8 321.3 629.7 325.4 631 327.2 631.6 327.7 632.3 327.9 632.9 327.9 633.5 327.6 634.2 327 635.4 325 636.7 321.8 638 317.8 639.3 312.9 641.8 301.4 648.2 269.6 650.1 261.2 651.4 256.5 652.6 252.5 653.9 249.5 655.2 247.6 655.8 247.1 656.5 247 657.1 247.2 657.7 247.7 659 249.7 660.3 252.8 662.2 259.1 665.4 273.1 671.7 305 673.7 313.4 674.9 318.2 676.2 322.2 677.5 325.3 678.8 327.2 679.4 327.7 680 328 680.7 327.9 681.3 327.6 682.6 326.2 683.9 324 685.1 321 686.4 317.4 688.3 310.9 695.3 283.6 698.5 272.8 700.4 268 701.7 265.7 703 264.2 703.6 263.9 704.2 263.8 704.9 263.9 705.5 264.3 706.8 265.9 708.1 268.3 710 273.3 713.2 284.1 720.2 311.5 722.1 317.8 723.4 321.4 725.3 325.5 726.5 327.2 727.2 327.7 727.8 327.9 728.4 327.9 729.1 327.6 729.7 327 731 325 732.3 321.8 733.5 317.7 734.8 312.9 737.4 301.4 743.7 269.5 745.6 261.2 746.9 256.5 748.2 252.5 749.5 249.5 750.7 247.6 751.4 247.1 752 247 752.7 247.2 753.3 247.7 754.6 249.7 755.8 252.8 757.1 256.8 758.4 261.7 760.3 270.1 766.7 302 769.2 313.5 771.1 320.4 772.4 323.9 773.7 326.4 774.3 327.2 775 327.8 775.6 328 776.2 327.9 776.9 327.6 777.5 327 778.8 325.2 780.7 321 782 317.3 783.9 310.9 790.9 283.5 794.1 272.8 796 268 797.2 265.7 798.5 264.2 799.2 263.9 799.8 263.8 800.4 263.9 801.1 264.4 802.3 265.9 803.6 268.3 805.5 273.3 808.7 284.2 815.7 311.5 817.6 317.8 818.9 321.4 820.8 325.5 822.1 327.2 822.7 327.7 823.4 327.9 824 327.9 824.6 327.6 825.3 327 826.6 325 827.8 321.8 829.1 317.7 830.4 312.8 832.9 301.3 839.3 269.5 841.2 261.2 842.5 256.4 843.8 252.5 845 249.5 846.3 247.6 846.9 247.1 847.6 247 848.2 247.2 848.9 247.7 850.1 249.7 851.4 252.8 852.7 256.9 853.9 261.7 855.9 270.1 862.2 302.1 864.8 313.5 866.1 318.3 867.3 322.3 868.6 325.3 869.9 327.2 870.5 327.8 871.1 328 871.8 327.9 872.4 327.6 873.7 326.2 875.6 322.6 877.5 317.3 879.4 310.9 886.4 283.5 889.6 272.8 891.5 268 892.8 265.6 894.1 264.2 894.7 263.9 895.4 263.8 896 263.9 896.6 264.4 897.9 265.9 899.2 268.3 901.1 273.3 904.3 284.2 911.3 311.5 913.2 317.8 914.5 321.4 915.7 324.3 917 326.4 918.3 327.7 918.9 327.9 919.6 327.9 920.2 327.6 920.8 327 922.1 324.9 923.4 321.8 924.7 317.7 925.9 312.8 927.8 304.3 934.2 272.5 936.8 261.2 938.7 254.3 940 250.8 941.2 248.4 941.9 247.6 942.5 247.1 L947.5 22.4 L555.9 22.4Z" fill="#40ff63"/>
<path d="M555.9 207.7 L560.9 207.7 573.6 207.9 576.8 208.5 578.7 209.3 580.6 211.1 581.9 212.9 585.7 220.4 587 222.5 588.9 224.7 590.8 225.8 592.8 226.3 595.9 226.7 608.7 226.8 621.4 226.7 624.6 226.3 626.5 225.8 628.4 224.6 630.3 222.5 631.6 220.4 635.4 212.9 636.7 211.1 638.6 209.3 640.5 208.5 643.1 208 646.9 207.8 655.2 207.7 668.6 207.9 671.7 208.3 673.7 209 675.6 210.4 676.8 211.9 678.1 214 681.9 221.5 683.9 224.1 685.1 225.1 686.4 225.8 688.3 226.3 690.2 226.6 696 226.8 714.4 226.7 718.9 226.5 721.4 226 723.4 225.1 725.3 223.3 727.2 220.4 731 212.9 732.3 211.1 734.2 209.3 736.1 208.5 738.6 208 742.5 207.8 750.7 207.7 764.1 207.9 767.3 208.3 769.2 209 771.1 210.4 772.4 211.9 773.7 214 776.9 220.4 778.8 223.4 780.7 225.1 782.6 226 785.1 226.5 789.6 226.7 808.7 226.8 814.5 226.5 816.4 226.2 817.6 225.8 818.9 225.1 820.2 224 822.1 221.5 825.9 214 827.2 211.9 828.5 210.4 830.4 209 832.3 208.3 834.8 207.9 847.6 207.7 860.3 207.9 863.5 208.5 865.4 209.4 867.3 211.1 868.6 212.9 872.4 220.4 874.3 223.4 876.2 225.1 878.2 226 880.7 226.5 884.5 226.7 902.4 226.8 908.7 226.6 911.3 226.3 913.2 225.8 914.5 225.1 915.7 224 917.7 221.5 921.5 214 922.8 211.9 924 210.4 925.9 209 927.8 208.3 930.4 207.9 942.5 207.7 L947.5 22.4 L555.9 22.4Z" fill="#40ff85"/>
<path d="M555.9 178.7 L560.9 178.7 561.5 178.6 562.2 178.2 563.4 176.8 564.7 174.5 566.6 169.9 569.8 159.7 576.8 134.2 578.7 128.3 580 125 581.3 122.4 582.6 120.5 583.8 119.4 584.5 119.3 585.1 119.4 585.7 119.7 586.4 120.4 587.7 122.5 588.9 125.6 590.8 131.8 594 145.1 600.4 175 602.3 182.7 603.6 187.2 605.5 192.3 606.8 194.6 607.4 195.3 608 195.8 608.7 195.9 609.3 195.7 610 195.2 611.2 193.3 612.5 190.4 613.8 186.7 615.1 182.2 617.6 171.5 624 141.6 625.9 133.6 627.2 129 629.1 123.6 630.3 121 631.6 119.6 632.3 119.3 632.9 119.3 633.5 119.5 634.2 119.9 635.4 121.5 636.7 123.9 638.6 128.6 641.8 138.9 648.2 162.2 650.1 168.3 651.4 171.8 652.6 174.7 653.9 176.9 655.2 178.3 655.8 178.6 656.5 178.7 657.1 178.6 657.7 178.2 659 176.8 660.3 174.5 662.2 169.9 665.4 159.7 672.4 134.2 674.3 128.3 675.6 125 677.5 121.3 678.8 119.9 679.4 119.4 680 119.3 680.7 119.4 681.3 119.7 681.9 120.4 683.2 122.5 684.5 125.6 685.8 129.6 687 134.2 689.6 145.1 695.3 172.2 698.5 185 699.8 189.1 701.1 192.4 702.3 194.6 703 195.3 703.6 195.8 704.2 195.9 704.9 195.7 705.5 195.2 706.2 194.4 707.4 192 709.3 186.7 710.6 182.1 712.5 174.3 718.9 144.4 722.1 131.2 724 125.2 725.3 122.2 726.5 120.2 727.2 119.6 727.8 119.3 728.4 119.3 729.1 119.5 730.4 120.6 731.6 122.6 732.9 125.3 734.2 128.6 736.1 134.5 743.1 160 746.3 170.1 748.2 174.7 749.5 176.9 750.7 178.3 751.4 178.6 752 178.7 752.7 178.6 753.3 178.2 754.6 176.8 755.8 174.5 757.8 169.9 760.9 159.7 767.9 134.1 769.9 128.3 771.1 125 773 121.3 774.3 119.8 775 119.4 775.6 119.3 776.2 119.4 776.9 119.7 777.5 120.4 778.8 122.5 780 125.6 781.3 129.6 782.6 134.2 785.1 145.1 790.9 172.2 794.1 185.1 795.3 189.1 796.6 192.4 797.9 194.6 798.5 195.4 799.2 195.8 799.8 195.9 800.4 195.7 801.1 195.2 801.7 194.4 803 192 804.9 186.6 806.2 182.1 808.1 174.3 814.5 144.4 817.6 131.2 819.5 125.1 820.8 122.2 822.1 120.2 822.7 119.6 823.4 119.3 824 119.3 824.6 119.5 825.9 120.6 827.2 122.6 828.5 125.3 829.7 128.7 831.7 134.6 838.7 160.1 841.8 170.2 843.8 174.7 845 176.9 846.3 178.3 846.9 178.6 847.6 178.7 848.2 178.6 848.9 178.2 850.1 176.8 851.4 174.5 853.3 169.9 856.5 159.6 863.5 134.1 865.4 128.3 866.7 125 868.6 121.3 869.9 119.8 870.5 119.4 871.1 119.3 871.8 119.4 872.4 119.7 873.1 120.4 874.3 122.5 875.6 125.6 876.9 129.6 878.2 134.3 880.7 145.2 886.4 172.2 889.6 185.1 891.5 190.9 892.8 193.6 894.1 195.4 894.7 195.8 895.4 195.9 896 195.7 896.6 195.2 897.9 193.3 899.2 190.4 901.1 184.4 904.3 171.4 911.3 138.7 913.2 131.2 914.5 127 916.4 122.1 917.7 120.2 918.3 119.6 918.9 119.3 919.6 119.3 920.2 119.5 921.5 120.6 922.8 122.6 924 125.3 925.9 130.5 928.5 139 934.2 160.1 937.4 170.2 938.7 173.4 940 175.9 941.2 177.7 942.5 178.6 L947.5 22.4 L555.9 22.4Z" fill="#40ffa8"/>
<path d="M555.9 160.8 L560.9 160.8 561.5 160.7 562.2 160.3 563.4 158.7 564.7 156.2 566.6 151.1 569.8 139.8 576.8 111.4 578.7 104.8 580 101.1 581.3 98.1 582.6 95.9 583.8 94.6 584.5 94.3 585.1 94.3 585.7 94.6 586.4 95.2 587.7 97.3 588.9 100.5 590.8 106.9 594 120.9 600.4 152.6 602.3 160.9 604.2 167.7 606.1 172.5 607.4 174.3 608 174.8 608.7 174.9 609.3 174.7 610 174.2 611.2 172.2 612.5 169.1 613.8 165.1 615.1 160.3 617.6 148.9 624 117.2 625.9 108.9 627.2 104.1 628.4 100.1 629.7 97 631 95 631.6 94.5 632.3 94.2 632.9 94.3 633.5 94.6 634.8 96 636.1 98.3 637.3 101.4 638.6 105.2 640.5 111.8 647.5 140.2 650.7 151.3 652.6 156.4 653.9 158.8 655.2 160.3 655.8 160.7 656.5 160.8 657.1 160.7 657.7 160.2 659 158.7 660.3 156.2 662.2 151.1 665.4 139.8 672.4 111.4 674.3 104.8 675.6 101.1 677.5 96.9 678.8 95.1 679.4 94.6 680 94.3 680.7 94.3 681.3 94.6 681.9 95.2 683.2 97.3 684.5 100.5 685.8 104.6 687 109.5 689.6 121 696 152.7 698.5 163.4 699.8 167.7 701.1 171.1 702.3 173.6 703 174.3 703.6 174.8 704.2 174.9 704.9 174.7 705.5 174.2 706.2 173.3 707.4 170.8 709.3 165.1 710.6 160.3 712.5 151.9 718.9 120.2 722.1 106.4 724 100.1 725.3 97 726.5 95 727.2 94.5 727.8 94.2 728.4 94.3 729.1 94.6 730.4 96 731.6 98.3 732.9 101.4 734.2 105.2 736.1 111.9 743.1 140.2 746.3 151.3 748.2 156.4 749.5 158.8 750.7 160.3 751.4 160.7 752 160.8 752.7 160.7 753.3 160.2 754.6 158.7 755.8 156.2 757.8 151 760.9 139.8 767.9 111.4 769.9 104.8 771.1 101.1 773 96.8 774.3 95.1 775 94.5 775.6 94.3 776.2 94.3 776.9 94.6 777.5 95.2 778.8 97.3 780 100.5 781.3 104.6 782.6 109.5 785.1 121 791.5 152.7 794.1 163.4 796 169.6 797.2 172.5 798.5 174.3 799.2 174.8 799.8 174.9 800.4 174.7 801.1 174.2 802.3 172.2 803.6 169.1 804.9 165.1 806.2 160.2 808.1 151.9 814.5 120.2 817 108.8 818.9 101.9 820.2 98.4 821.5 95.8 822.1 95 822.7 94.5 823.4 94.2 824 94.3 824.6 94.6 825.3 95.2 826.6 97.1 828.5 101.5 829.7 105.2 831.7 111.9 838.7 140.2 841.8 151.4 843.8 156.4 845 158.8 846.3 160.3 846.9 160.7 847.6 160.8 848.2 160.7 848.9 160.2 850.1 158.6 851.4 156.2 853.3 151 856.5 139.7 863.5 111.4 865.4 104.8 866.7 101.1 868.6 96.8 869.9 95.1 870.5 94.5 871.1 94.3 871.8 94.3 872.4 94.6 873.1 95.2 874.3 97.3 875.6 100.5 876.9 104.7 878.2 109.5 880.7 121 886.4 149.7 889.6 163.4 891.5 169.6 892.8 172.5 894.1 174.4 894.7 174.8 895.4 174.9 896 174.7 896.6 174.2 897.9 172.2 899.2 169.1 901.1 162.7 904.3 148.8 910.6 117.1 912.6 108.8 913.8 104 915.7 98.4 917 95.8 917.7 95 918.3 94.5 918.9 94.2 919.6 94.3 920.2 94.6 920.8 95.2 922.1 97.1 923.4 99.8 924.7 103.3 927.8 114.3 934.2 140.2 936.8 149.4 938.7 154.9 940 157.7 941.2 159.7 942.5 160.7 L947.5 22.4 L555.9 22.4Z" fill="#40ffcb"/>
<path d="M555.9 137.6 L560.9 137.6 562.2 137.1 563.4 135.9 564.7 133.9 566.6 129.9 569.8 120.8 576.8 96.8 580 87.1 581.9 82.5 583.2 80.2 584.5 78.4 585.1 77.9 586.4 77.3 587.7 77.5 588.9 78.5 590.2 80.1 591.5 82.2 594 87.8 600.4 104.8 602.9 110.8 604.9 114.3 606.1 116 607.4 117 608.7 117.4 610 116.9 611.2 115.8 612.5 114 613.8 111.8 617 104.4 623.3 87.5 625.2 83.2 626.5 80.9 628.4 78.4 629.7 77.5 631 77.3 632.3 78 633.5 79.4 634.8 81.5 636.1 84.2 638 89.2 640.5 97.2 647.5 121.1 650.7 130.1 652.6 134.1 653.9 136 655.2 137.2 655.8 137.5 656.5 137.6 657.7 137.1 659 135.9 660.3 133.9 662.2 129.8 665.4 120.7 672.4 96.8 675.6 87.1 677.5 82.5 678.8 80.2 680 78.4 680.7 77.9 681.9 77.3 683.2 77.5 684.5 78.5 685.8 80.1 687 82.3 689.6 87.8 696 104.8 698.5 110.8 700.4 114.3 701.7 116 703 117 704.2 117.4 705.5 116.9 706.8 115.8 708.1 114 709.3 111.7 712.5 104.4 718.9 87.5 720.8 83.2 722.1 80.9 724 78.3 725.3 77.5 726.5 77.3 727.8 78 729.1 79.4 730.4 81.5 731.6 84.3 733.5 89.2 736.1 97.2 743.1 121.1 746.3 130.1 748.2 134.1 749.5 136 750.7 137.2 751.4 137.5 752 137.6 753.3 137.1 754.6 135.9 755.8 133.9 757.8 129.8 760.9 120.7 767.9 96.7 771.1 87.1 773 82.5 774.3 80.1 775.6 78.4 776.9 77.5 777.5 77.3 778.1 77.3 779.4 77.9 780.7 79.2 782 81.1 783.2 83.5 785.1 87.9 791.5 104.8 794.1 110.8 796 114.3 797.2 116 798.5 117 799.8 117.4 801.1 116.9 802.3 115.8 803.6 114 804.9 111.7 808.1 104.4 814.5 87.5 816.4 83.2 817.6 80.9 819.5 78.3 820.8 77.5 822.1 77.3 823.4 78 824.6 79.4 825.9 81.5 827.2 84.3 829.1 89.3 831.7 97.2 838.7 121.1 841.8 130.1 843.8 134.1 845 136 846.3 137.2 846.9 137.5 847.6 137.6 848.9 137.1 850.1 135.9 851.4 133.9 853.3 129.8 856.5 120.7 863.5 96.7 866.1 88.8 868 83.9 869.2 81.2 870.5 79.2 871.8 77.8 873.1 77.3 874.3 77.5 875.6 78.5 877.5 81.1 878.8 83.5 880.7 87.9 887.1 104.8 889.6 110.8 891.5 114.3 892.8 116 894.1 117 895.4 117.4 896.6 116.9 897.9 115.8 899.2 114 901.1 110.4 903.6 104.3 909.4 89 911.3 84.5 912.6 82 913.8 79.9 915.1 78.3 916.4 77.5 917.7 77.3 918.9 78 920.2 79.4 921.5 81.6 922.8 84.3 924 87.5 925.9 93.1 932.9 117 936.1 126.8 938 131.6 939.3 134.1 940.6 136 941.2 136.7 942.5 137.5 L947.5 22.4 L555.9 22.4Z" fill="#40ffee"/>
<path d="M555.9 103.3 L560.9 103.3 562.2 103 564.1 101.7 566 99.5 567.9 96.6 571.1 90.5 578.7 74 580.6 70.3 582.6 67.1 584.5 64.7 585.7 63.5 587 62.7 588.9 62.3 590.2 62.5 591.5 62.9 594 64.6 596.6 66.8 601.7 72 604.2 74.1 605.5 74.9 606.8 75.5 608.7 75.8 610.6 75.4 613.1 74 615.7 71.8 622.1 65.5 624 64 625.2 63.2 627.2 62.5 628.4 62.3 629.7 62.5 631 63.1 632.3 64.2 633.5 65.6 634.8 67.3 636.7 70.5 639.9 76.9 646.3 90.7 648.2 94.5 650.1 97.8 652 100.5 653.3 101.8 655.2 103 656.5 103.3 657.7 103 659 102.2 660.3 101.1 662.2 98.6 664.1 95.5 666 91.8 673.7 75.3 676.8 69.2 678.8 66.2 680.7 64 681.9 63 683.9 62.4 685.8 62.5 687 62.9 688.3 63.6 690.9 65.6 696.6 71.4 699.1 73.6 701.7 75.2 703 75.7 704.2 75.8 706.2 75.4 708.7 74 711.2 71.8 717.6 65.5 719.5 64 720.8 63.2 722.7 62.5 724 62.3 725.3 62.5 726.5 63.1 727.8 64.2 729.1 65.6 730.4 67.4 732.3 70.5 735.5 76.9 741.8 90.8 743.7 94.5 745.6 97.8 747.6 100.5 748.8 101.8 750.7 103 752 103.3 753.3 103 754.6 102.2 755.8 101.1 757.8 98.6 759.7 95.5 761.6 91.8 769.2 75.2 772.4 69.2 774.3 66.2 775.6 64.7 777.5 63 778.8 62.5 780 62.3 781.3 62.5 782.6 62.9 783.9 63.6 786.4 65.7 792.2 71.4 794.7 73.6 797.2 75.2 798.5 75.7 799.8 75.8 801.7 75.4 804.3 74 806.8 71.8 813.2 65.5 815.1 64 816.4 63.2 818.3 62.5 819.5 62.3 820.8 62.5 822.1 63.2 823.4 64.2 824.6 65.6 825.9 67.4 827.8 70.6 831 76.9 837.4 90.8 839.3 94.5 841.2 97.8 843.1 100.5 844.4 101.8 846.3 103 847.6 103.3 848.9 103 850.8 101.7 852 100.3 853.9 97.6 857.1 91.8 864.1 76.6 867.3 70.3 869.2 67.1 870.5 65.4 871.8 64 873.1 63 874.3 62.5 875.6 62.3 876.9 62.5 878.8 63.3 880.1 64.1 882 65.7 887.7 71.4 890.3 73.6 892.8 75.2 894.1 75.7 895.4 75.8 896.6 75.6 897.9 75.2 900.5 73.5 903 71.2 908.1 66.1 911.3 63.6 912.6 62.9 913.8 62.5 915.7 62.4 917 62.8 918.3 63.6 919.6 64.9 921.5 67.4 923.4 70.6 925.3 74.3 932.9 90.8 936.1 96.8 938 99.7 939.3 101.2 941.2 102.7 942.5 103.2 L947.5 22.4 L555.9 22.4Z" fill="#40eeff"/>
<path d="M555.9 71.2 L560.9 71.2 562.2 71.1 564.1 70.4 566 69.3 567.9 67.8 571.1 64.6 578.7 56 582.6 52.4 584.5 51 585.7 50.4 587 50 588.9 49.7 590.8 49.9 593.4 50.5 595.9 51.6 603.6 55.3 606.1 56.1 608.7 56.4 610.6 56.2 613.1 55.5 615.7 54.4 622.1 51.2 625.2 50.1 627.2 49.8 628.4 49.7 631 50.2 633.5 51.5 636.7 54.2 639.9 57.5 646.3 64.7 650.1 68.4 652 69.8 653.3 70.5 655.2 71.1 656.5 71.2 657.7 71.1 659 70.7 660.3 70.1 662.2 68.8 664.1 67.2 666 65.3 673.7 56.6 676.8 53.4 678.8 51.9 680.7 50.7 681.9 50.2 683.9 49.8 685.8 49.8 688.3 50.3 691.5 51.6 699.1 55.3 701.7 56.1 704.2 56.4 706.2 56.2 708.7 55.5 711.2 54.4 717.6 51.2 720.8 50.1 722.7 49.8 724 49.7 726.5 50.2 729.1 51.5 732.3 54.2 735.5 57.5 741.8 64.7 745.6 68.4 747.6 69.8 748.8 70.5 750.7 71.1 752 71.2 753.3 71.1 755.2 70.4 756.5 69.7 758.4 68.3 761.6 65.3 768.6 57.3 771.8 54 775 51.4 777.5 50.2 780 49.7 781.3 49.8 783.2 50.1 786.4 51.3 794.7 55.3 797.2 56.1 799.8 56.4 802.3 56 804.9 55.2 812.5 51.5 815.1 50.5 817.6 49.9 820.2 49.8 822.1 50.2 823.4 50.8 825.3 52 827.2 53.6 830.4 56.8 838 65.4 839.9 67.3 841.8 68.9 843.8 70.2 845 70.8 846.3 71.1 847.6 71.2 848.9 71.1 850.8 70.4 852 69.7 853.9 68.3 857.1 65.3 864.1 57.3 867.3 54 870.5 51.4 873.1 50.2 875.6 49.7 876.9 49.8 878.8 50.1 882 51.3 890.3 55.3 892.8 56.1 895.4 56.4 897.9 56 900.5 55.2 908.1 51.5 910.6 50.5 913.2 49.9 915.1 49.7 917 50 918.3 50.5 919.6 51.1 921.5 52.5 924.7 55.4 932.9 64.7 936.1 67.9 938 69.4 939.3 70.2 941.2 71 942.5 71.2 L947.5 22.4 L555.9 22.4Z" fill="#40cbff"/>
<path d="M555.9 47.6 L560.9 47.6 564.1 47.3 567.9 46.2 571.1 44.9 579.4 41 583.2 39.5 586.4 38.8 589.6 38.6 594 38.9 604.9 40.9 608.7 41.1 613.1 40.8 624.6 38.8 627.8 38.6 630.3 38.7 632.9 39.2 636.1 40.2 646.3 44.9 650.1 46.4 653.3 47.3 656.5 47.6 659.6 47.3 663.5 46.2 666.7 44.9 674.3 41.2 678.1 39.7 681.3 38.9 684.5 38.6 688.9 38.9 699.1 40.7 701.7 41 704.2 41.1 708.7 40.8 720.2 38.8 723.4 38.6 725.9 38.7 728.4 39.2 731.6 40.2 741.8 44.9 745.6 46.4 748.8 47.3 752 47.6 754.6 47.4 757.8 46.6 761.6 45.1 769.2 41.5 772.4 40.2 776.2 39 779.4 38.6 782 38.6 784.5 38.9 794.7 40.7 797.2 41 799.8 41.1 804.3 40.8 815.7 38.8 818.9 38.6 821.5 38.7 824 39.2 827.2 40.2 837.4 44.9 841.2 46.4 844.4 47.3 847.6 47.6 850.8 47.3 853.9 46.4 857.8 44.8 867.3 40.4 870.5 39.3 873.1 38.8 875.6 38.6 878.8 38.7 882 39.1 890.9 40.8 895.4 41.1 899.8 40.8 910.6 38.8 915.1 38.6 918.3 38.9 921.5 39.8 924.7 41 932.9 44.9 936.1 46.2 939.3 47.2 942.5 47.6 L947.5 22.4 L555.9 22.4Z" fill="#40a8ff"/>
<path d="M560.9 378.1 597.8 378.1 601 370.4 602.3 367.9 603.6 366 604.9 364.4 606.1 363.3 607.4 362.7 608.7 362.5 610 362.7 611.2 363.4 612.5 364.6 613.8 366.2 615.1 368.2 616.3 370.7 618.9 377 619.5 378.1 693.4 378.1 696.6 370.3 697.9 367.9 699.1 365.9 700.4 364.4 701.7 363.3 703 362.7 704.2 362.5 705.5 362.7 706.8 363.4 708.1 364.6 709.3 366.2 710.6 368.2 711.9 370.7 714.4 377 715.1 378.1 789 378.1 792.2 370.3 793.4 367.9 794.7 365.9 796 364.4 797.2 363.3 798.5 362.7 799.8 362.5 801.1 362.8 802.3 363.5 803.6 364.6 804.9 366.2 806.2 368.2 807.4 370.7 810 377 810.6 378.1 884.5 378.1 887.7 370.3 889 367.9 890.3 365.9 891.5 364.4 892.8 363.3 894.1 362.7 895.4 362.5 896.6 362.8 897.9 363.5 899.2 364.6 900.5 366.2 901.7 368.2 903 370.7 905.6 377.1 906.2 378.1 942.5 378.1M560.9 308 561.5 309.7 563.4 323.3 565.4 333.4 566 335.4 567.9 339.9 571.7 347.6 573.6 350.8 575.6 353.4 577.5 355.6 579.4 357.1 581.3 358 583.2 358.3 584.5 357.7 585.7 356.4 587 354.3 588.9 350 592.1 340.6 598.5 318.1 601.7 308 603.6 303.1 604.9 300.5 606.1 298.5 606.8 297.8 608 297 608.7 296.9 609.3 297.1 610.6 298 611.9 299.7 613.8 303.5 615.7 308.5 617.6 314.4 624.6 339 627.8 348.8 629.7 353.3 631 355.7 632.3 357.3 632.9 357.9 633.5 358.2 634.2 358.3 636.1 358 638 357 639.9 355.5 641.8 353.3 643.7 350.7 645.6 347.5 649.5 339.8 651.4 335.4 652 333.4 653.9 323.3 655.8 309.6 656.5 308 657.1 309.7 659 323.3 660.9 333.4 662.2 336.9 664.7 342.7 667.3 347.6 669.2 350.8 671.1 353.5 673 355.6 674.9 357.1 676.8 358 678.8 358.3 680 357.7 681.3 356.4 682.6 354.3 683.9 351.6 685.8 346.5 688.3 338.4 694.7 315.9 697.9 306.2 699.8 301.7 701.1 299.4 702.3 297.8 703.6 297 704.2 296.9 704.9 297.1 706.2 298 707.4 299.7 709.3 303.5 711.2 308.5 713.2 314.4 720.2 339 723.4 348.8 725.3 353.4 726.5 355.7 727.8 357.3 728.4 357.9 729.1 358.2 729.7 358.3 731.6 358 733.5 357 735.5 355.5 737.4 353.3 739.3 350.7 741.2 347.5 745 339.8 746.9 335.3 747.6 333.3 749.5 323.2 751.4 309.6 752 308 752.7 309.7 754.6 323.4 756.5 333.4 757.8 337 760.3 342.7 762.8 347.6 764.8 350.8 766.7 353.5 768.6 355.6 770.5 357.1 772.4 358 774.3 358.3 775.6 357.7 776.9 356.4 778.1 354.3 779.4 351.5 781.3 346.5 783.9 338.4 790.2 315.9 793.4 306.2 795.3 301.7 796.6 299.4 797.9 297.8 799.2 297 799.8 296.9 800.4 297.1 801.7 298 803 299.7 804.9 303.5 806.8 308.5 808.7 314.4 815.7 339 818.9 348.8 820.8 353.4 822.1 355.7 823.4 357.3 824 357.9 824.6 358.2 825.3 358.3 827.2 358 829.1 357 831 355.5 832.9 353.3 834.8 350.7 836.7 347.5 840.6 339.8 842.5 335.3 843.1 333.3 845 323.2 846.9 309.6 847.6 308 848.2 309.8 850.1 323.4 851.4 330.5 852 333.5 852.7 335.4 853.9 338.5 856.5 344 858.4 347.7 860.3 350.8 862.2 353.5 864.1 355.6 866.1 357.1 868 358 869.2 358.3 870.5 358.1 871.8 357.1 873.1 355.4 875 351.5 876.9 346.5 878.8 340.5 885.2 318.1 888.3 307.9 890.3 303 891.5 300.4 892.8 298.5 894.1 297.3 894.7 297 895.4 296.9 896 297.1 897.3 298 898.5 299.7 900.5 303.5 902.4 308.5 904.3 314.4 911.3 339 914.5 348.8 916.4 353.4 917.7 355.7 918.9 357.3 920.2 358.2 921.5 358.3 923.4 357.7 925.3 356.6 927.2 354.8 929.1 352.5 931 349.7 932.9 346.3 935.5 341.2 938 335.3 938.7 333.3 940.6 323.1 942.5 309.5M560.9 247 561.5 247.2 562.2 247.7 563.4 249.7 564.7 252.8 566.6 259.1 569.8 273.1 576.2 305 578.1 313.4 579.4 318.2 580.6 322.2 581.9 325.3 583.2 327.2 583.8 327.7 584.5 328 585.1 327.9 585.7 327.6 587 326.3 588.3 324 589.6 321 590.8 317.4 592.8 311 599.8 283.6 602.9 272.8 604.9 268 606.1 265.7 607.4 264.2 608 263.9 608.7 263.8 609.3 263.9 610 264.3 611.2 265.9 612.5 268.3 614.4 273.2 617.6 284.1 624.6 311.4 626.5 317.8 627.8 321.3 629.7 325.4 631 327.2 631.6 327.7 632.3 327.9 632.9 327.9 633.5 327.6 634.2 327 635.4 325 636.7 321.8 638 317.8 639.3 312.9 641.8 301.4 648.2 269.6 650.1 261.2 651.4 256.5 652.6 252.5 653.9 249.5 655.2 247.6 655.8 247.1 656.5 247 657.1 247.2 657.7 247.7 659 249.7 660.3 252.8 662.2 259.1 665.4 273.1 671.7 305 673.7 313.4 674.9 318.2 676.2 322.2 677.5 325.3 678.8 327.2 679.4 327.7 680 328 680.7 327.9 681.3 327.6 682.6 326.2 683.9 324 685.1 321 686.4 317.4 688.3 310.9 695.3 283.6 698.5 272.8 700.4 268 701.7 265.7 703 264.2 703.6 263.9 704.2 263.8 704.9 263.9 705.5 264.3 706.8 265.9 708.1 268.3 710 273.3 713.2 284.1 720.2 311.5 722.1 317.8 723.4 321.4 725.3 325.5 726.5 327.2 727.2 327.7 727.8 327.9 728.4 327.9 729.1 327.6 729.7 327 731 325 732.3 321.8 733.5 317.7 734.8 312.9 737.4 301.4 743.7 269.5 745.6 261.2 746.9 256.5 748.2 252.5 749.5 249.5 750.7 247.6 751.4 247.1 752 247 752.7 247.2 753.3 247.7 754.6 249.7 755.8 252.8 757.1 256.8 758.4 261.7 760.3 270.1 766.7 302 769.2 313.5 771.1 320.4 772.4 323.9 773.7 326.4 774.3 327.2 775 327.8 775.6 328 776.2 327.9 776.9 327.6 777.5 327 778.8 325.2 780.7 321 782 317.3 783.9 310.9 790.9 283.5 794.1 272.8 796 268 797.2 265.7 798.5 264.2 799.2 263.9 799.8 263.8 800.4 263.9 801.1 264.4 802.3 265.9 803.6 268.3 805.5 273.3 808.7 284.2 815.7 311.5 817.6 317.8 818.9 321.4 820.8 325.5 822.1 327.2 822.7 327.7 823.4 327.9 824 327.9 824.6 327.6 825.3 327 826.6 325 827.8 321.8 829.1 317.7 830.4 312.8 832.9 301.3 839.3 269.5 841.2 261.2 842.5 256.4 843.8 252.5 845 249.5 846.3 247.6 846.9 247.1 847.6 247 848.2 247.2 848.9 247.7 850.1 249.7 851.4 252.8 852.7 256.9 853.9 261.7 855.9 270.1 862.2 302.1 864.8 313.5 866.1 318.3 867.3 322.3 868.6 325.3 869.9 327.2 870.5 327.8 871.1 328 871.8 327.9 872.4 327.6 873.7 326.2 875.6 322.6 877.5 317.3 879.4 310.9 886.4 283.5 889.6 272.8 891.5 268 892.8 265.6 894.1 264.2 894.7 263.9 895.4 263.8 896 263.9 896.6 264.4 897.9 265.9 899.2 268.3 901.1 273.3 904.3 284.2 911.3 311.5 913.2 317.8 914.5 321.4 915.7 324.3 917 326.4 918.3 327.7 918.9 327.9 919.6 327.9 920.2 327.6 920.8 327 922.1 324.9 923.4 321.8 924.7 317.7 925.9 312.8 927.8 304.3 934.2 272.5 936.8 261.2 938.7 254.3 940 250.8 941.2 248.4 941.9 247.6 942.5 247.1M560.9 207.7 573.6 207.9 576.8 208.5 578.7 209.3 580.6 211.1 581.9 212.9 585.7 220.4 587 222.5 588.9 224.7 590.8 225.8 592.8 226.3 595.9 226.7 608.7 226.8 621.4 226.7 624.6 226.3 626.5 225.8 628.4 224.6 630.3 222.5 631.6 220.4 635.4 212.9 636.7 211.1 638.6 209.3 640.5 208.5 643.1 208 646.9 207.8 655.2 207.7 668.6 207.9 671.7 208.3 673.7 209 675.6 210.4 676.8 211.9 678.1 214 681.9 221.5 683.9 224.1 685.1 225.1 686.4 225.8 688.3 226.3 690.2 226.6 696 226.8 714.4 226.7 718.9 226.5 721.4 226 723.4 225.1 725.3 223.3 727.2 220.4 731 212.9 732.3 211.1 734.2 209.3 736.1 208.5 738.6 208 742.5 207.8 750.7 207.7 764.1 207.9 767.3 208.3 769.2 209 771.1 210.4 772.4 211.9 773.7 214 776.9 220.4 778.8 223.4 780.7 225.1 782.6 226 785.1 226.5 789.6 226.7 808.7 226.8 814.5 226.5 816.4 226.2 817.6 225.8 818.9 225.1 820.2 224 822.1 221.5 825.9 214 827.2 211.9 828.5 210.4 830.4 209 832.3 208.3 834.8 207.9 847.6 207.7 860.3 207.9 863.5 208.5 865.4 209.4 867.3 211.1 868.6 212.9 872.4 220.4 874.3 223.4 876.2 225.1 878.2 226 880.7 226.5 884.5 226.7 902.4 226.8 908.7 226.6 911.3 226.3 913.2 225.8 914.5 225.1 915.7 224 917.7 221.5 921.5 214 922.8 211.9 924 210.4 925.9 209 927.8 208.3 930.4 207.9 942.5 207.7M560.9 178.7 561.5 178.6 562.2 178.2 563.4 176.8 564.7 174.5 566.6 169.9 569.8 159.7 576.8 134.2 578.7 128.3 580 125 581.3 122.4 582.6 120.5 583.8 119.4 584.5 119.3 585.1 119.4 585.7 119.7 586.4 120.4 587.7 122.5 588.9 125.6 590.8 131.8 594 145.1 600.4 175 602.3 182.7 603.6 187.2 605.5 192.3 606.8 194.6 607.4 195.3 608 195.8 608.7 195.9 609.3 195.7 610 195.2 611.2 193.3 612.5 190.4 613.8 186.7 615.1 182.2 617.6 171.5 624 141.6 625.9 133.6 627.2 129 629.1 123.6 630.3 121 631.6 119.6 632.3 119.3 632.9 119.3 633.5 119.5 634.2 119.9 635.4 121.5 636.7 123.9 638.6 128.6 641.8 138.9 648.2 162.2 650.1 168.3 651.4 171.8 652.6 174.7 653.9 176.9 655.2 178.3 655.8 178.6 656.5 178.7 657.1 178.6 657.7 178.2 659 176.8 660.3 174.5 662.2 169.9 665.4 159.7 672.4 134.2 674.3 128.3 675.6 125 677.5 121.3 678.8 119.9 679.4 119.4 680 119.3 680.7 119.4 681.3 119.7 681.9 120.4 683.2 122.5 684.5 125.6 685.8 129.6 687 134.2 689.6 145.1 695.3 172.2 698.5 185 699.8 189.1 701.1 192.4 702.3 194.6 703 195.3 703.6 195.8 704.2 195.9 704.9 195.7 705.5 195.2 706.2 194.4 707.4 192 709.3 186.7 710.6 182.1 712.5 174.3 718.9 144.4 722.1 131.2 724 125.2 725.3 122.2 726.5 120.2 727.2 119.6 727.8 119.3 728.4 119.3 729.1 119.5 730.4 120.6 731.6 122.6 732.9 125.3 734.2 128.6 736.1 134.5 743.1 160 746.3 170.1 748.2 174.7 749.5 176.9 750.7 178.3 751.4 178.6 752 178.7 752.7 178.6 753.3 178.2 754.6 176.8 755.8 174.5 757.8 169.9 760.9 159.7 767.9 134.1 769.9 128.3 771.1 125 773 121.3 774.3 119.8 775 119.4 775.6 119.3 776.2 119.4 776.9 119.7 777.5 120.4 778.8 122.5 780 125.6 781.3 129.6 782.6 134.2 785.1 145.1 790.9 172.2 794.1 185.1 795.3 189.1 796.6 192.4 797.9 194.6 798.5 195.4 799.2 195.8 799.8 195.9 800.4 195.7 801.1 195.2 801.7 194.4 803 192 804.9 186.6 806.2 182.1 808.1 174.3 814.5 144.4 817.6 131.2 819.5 125.1 820.8 122.2 822.1 120.2 822.7 119.6 823.4 119.3 824 119.3 824.6 119.5 825.9 120.6 827.2 122.6 828.5 125.3 829.7 128.7 831.7 134.6 838.7 160.1 841.8 170.2 843.8 174.7 845 176.9 846.3 178.3 846.9 178.6 847.6 178.7 848.2 178.6 848.9 178.2 850.1 176.8 851.4 174.5 853.3 169.9 856.5 159.6 863.5 134.1 865.4 128.3 866.7 125 868.6 121.3 869.9 119.8 870.5 119.4 871.1 119.3 871.8 119.4 872.4 119.7 873.1 120.4 874.3 122.5 875.6 125.6 876.9 129.6 878.2 134.3 880.7 145.2 886.4 172.2 889.6 185.1 891.5 190.9 892.8 193.6 894.1 195.4 894.7 195.8 895.4 195.9 896 195.7 896.6 195.2 897.9 193.3 899.2 190.4 901.1 184.4 904.3 171.4 911.3 138.7 913.2 131.2 914.5 127 916.4 122.1 917.7 120.2 918.3 119.6 918.9 119.3 919.6 119.3 920.2 119.5 921.5 120.6 922.8 122.6 924 125.3 925.9 130.5 928.5 139 934.2 160.1 937.4 170.2 938.7 173.4 940 175.9 941.2 177.7 942.5 178.6M560.9 160.8 561.5 160.7 562.2 160.3 563.4 158.7 564.7 156.2 566.6 151.1 569.8 139.8 576.8 111.4 578.7 104.8 580 101.1 581.3 98.1 582.6 95.9 583.8 94.6 584.5 94.3 585.1 94.3 585.7 94.6 586.4 95.2 587.7 97.3 588.9 100.5 590.8 106.9 594 120.9 600.4 152.6 602.3 160.9 604.2 167.7 606.1 172.5 607.4 174.3 608 174.8 608.7 174.9 609.3 174.7 610 174.2 611.2 172.2 612.5 169.1 613.8 165.1 615.1 160.3 617.6 148.9 624 117.2 625.9 108.9 627.2 104.1 628.4 100.1 629.7 97 631 95 631.6 94.5 632.3 94.2 632.9 94.3 633.5 94.6 634.8 96 636.1 98.3 637.3 101.4 638.6 105.2 640.5 111.8 647.5 140.2 650.7 151.3 652.6 156.4 653.9 158.8 655.2 160.3 655.8 160.7 656.5 160.8 657.1 160.7 657.7 160.2 659 158.7 660.3 156.2 662.2 151.1 665.4 139.8 672.4 111.4 674.3 104.8 675.6 101.1 677.5 96.9 678.8 95.1 679.4 94.6 680 94.3 680.7 94.3 681.3 94.6 681.9 95.2 683.2 97.3 684.5 100.5 685.8 104.6 687 109.5 689.6 121 696 152.7 698.5 163.4 699.8 167.7 701.1 171.1 702.3 173.6 703 174.3 703.6 174.8 704.2 174.9 704.9 174.7 705.5 174.2 706.2 173.3 707.4 170.8 709.3 165.1 710.6 160.3 712.5 151.9 718.9 120.2 722.1 106.4 724 100.1 725.3 97 726.5 95 727.2 94.5 727.8 94.2 728.4 94.3 729.1 94.6 730.4 96 731.6 98.3 732.9 101.4 734.2 105.2 736.1 111.9 743.1 140.2 746.3 151.3 748.2 156.4 749.5 158.8 750.7 160.3 751.4 160.7 752 160.8 752.7 160.7 753.3 160.2 754.6 158.7 755.8 156.2 757.8 151 760.9 139.8 767.9 111.4 769.9 104.8 771.1 101.1 773 96.8 774.3 95.1 775 94.5 775.6 94.3 776.2 94.3 776.9 94.6 777.5 95.2 778.8 97.3 780 100.5 781.3 104.6 782.6 109.5 785.1 121 791.5 152.7 794.1 163.4 796 169.6 797.2 172.5 798.5 174.3 799.2 174.8 799.8 174.9 800.4 174.7 801.1 174.2 802.3 172.2 803.6 169.1 804.9 165.1 806.2 160.2 808.1 151.9 814.5 120.2 817 108.8 818.9 101.9 820.2 98.4 821.5 95.8 822.1 95 822.7 94.5 823.4 94.2 824 94.3 824.6 94.6 825.3 95.2 826.6 97.1 828.5 101.5 829.7 105.2 831.7 111.9 838.7 140.2 841.8 151.4 843.8 156.4 845 158.8 846.3 160.3 846.9 160.7 847.6 160.8 848.2 160.7 848.9 160.2 850.1 158.6 851.4 156.2 853.3 151 856.5 139.7 863.5 111.4 865.4 104.8 866.7 101.1 868.6 96.8 869.9 95.1 870.5 94.5 871.1 94.3 871.8 94.3 872.4 94.6 873.1 95.2 874.3 97.3 875.6 100.5 876.9 104.7 878.2 109.5 880.7 121 886.4 149.7 889.6 163.4 891.5 169.6 892.8 172.5 894.1 174.4 894.7 174.8 895.4 174.9 896 174.7 896.6 174.2 897.9 172.2 899.2 169.1 901.1 162.7 904.3 148.8 910.6 117.1 912.6 108.8 913.8 104 915.7 98.4 917 95.8 917.7 95 918.3 94.5 918.9 94.2 919.6 94.3 920.2 94.6 920.8 95.2 922.1 97.1 923.4 99.8 924.7 103.3 927.8 114.3 934.2 140.2 936.8 149.4 938.7 154.9 940 157.7 941.2 159.7 942.5 160.7M560.9 137.6 562.2 137.1 563.4 135.9 564.7 133.9 566.6 129.9 569.8 120.8 576.8 96.8 580 87.1 581.9 82.5 583.2 80.2 584.5 78.4 585.1 77.9 586.4 77.3 587.7 77.5 588.9 78.5 590.2 80.1 591.5 82.2 594 87.8 600.4 104.8 602.9 110.8 604.9 114.3 606.1 116 607.4 117 608.7 117.4 610 116.9 611.2 115.8 612.5 114 613.8 111.8 617 104.4 623.3 87.5 625.2 83.2 626.5 80.9 628.4 78.4 629.7 77.5 631 77.3 632.3 78 633.5 79.4 634.8 81.5 636.1 84.2 638 89.2 640.5 97.2 647.5 121.1 650.7 130.1 652.6 134.1 653.9 136 655.2 137.2 655.8 137.5 656.5 137.6 657.7 137.1 659 135.9 660.3 133.9 662.2 129.8 665.4 120.7 672.4 96.8 675.6 87.1 677.5 82.5 678.8 80.2 680 78.4 680.7 77.9 681.9 77.3 683.2 77.5 684.5 78.5 685.8 80.1 687 82.3 689.6 87.8 696 104.8 698.5 110.8 700.4 114.3 701.7 116 703 117 704.2 117.4 705.5 116.9 706.8 115.8 708.1 114 709.3 111.7 712.5 104.4 718.9 87.5 720.8 83.2 722.1 80.9 724 78.3 725.3 77.5 726.5 77.3 727.8 78 729.1 79.4 730.4 81.5 731.6 84.3 733.5 89.2 736.1 97.2 743.1 121.1 746.3 130.1 748.2 134.1 749.5 136 750.7 137.2 751.4 137.5 752 137.6 753.3 137.1 754.6 135.9 755.8 133.9 757.8 129.8 760.9 120.7 767.9 96.7 771.1 87.1 773 82.5 774.3 80.1 775.6 78.4 776.9 77.5 777.5 77.3 778.1 77.3 779.4 77.9 780.7 79.2 782 81.1 783.2 83.5 785.1 87.9 791.5 104.8 794.1 110.8 796 114.3 797.2 116 798.5 117 799.8 117.4 801.1 116.9 802.3 115.8 803.6 114 804.9 111.7 808.1 104.4 814.5 87.5 816.4 83.2 817.6 80.9 819.5 78.3 820.8 77.5 822.1 77.3 823.4 78 824.6 79.4 825.9 81.5 827.2 84.3 829.1 89.3 831.7 97.2 838.7 121.1 841.8 130.1 843.8 134.1 845 136 846.3 137.2 846.9 137.5 847.6 137.6 848.9 137.1 850.1 135.9 851.4 133.9 853.3 129.8 856.5 120.7 863.5 96.7 866.1 88.8 868 83.9 869.2 81.2 870.5 79.2 871.8 77.8 873.1 77.3 874.3 77.5 875.6 78.5 877.5 81.1 878.8 83.5 880.7 87.9 887.1 104.8 889.6 110.8 891.5 114.3 892.8 116 894.1 117 895.4 117.4 896.6 116.9 897.9 115.8 899.2 114 901.1 110.4 903.6 104.3 909.4 89 911.3 84.5 912.6 82 913.8 79.9 915.1 78.3 916.4 77.5 917.7 77.3 918.9 78 920.2 79.4 921.5 81.6 922.8 84.3 924 87.5 925.9 93.1 932.9 117 936.1 126.8 938 131.6 939.3 134.1 940.6 136 941.2 136.7 942.5 137.5M560.9 103.3 562.2 103 564.1 101.7 566 99.5 567.9 96.6 571.1 90.5 578.7 74 580.6 70.3 582.6 67.1 584.5 64.7 585.7 63.5 587 62.7 588.9 62.3 590.2 62.5 591.5 62.9 594 64.6 596.6 66.8 601.7 72 604.2 74.1 605.5 74.9 606.8 75.5 608.7 75.8 610.6 75.4 613.1 74 615.7 71.8 622.1 65.5 624 64 625.2 63.2 627.2 62.5 628.4 62.3 629.7 62.5 631 63.1 632.3 64.2 633.5 65.6 634.8 67.3 636.7 70.5 639.9 76.9 646.3 90.7 648.2 94.5 650.1 97.8 652 100.5 653.3 101.8 655.2 103 656.5 103.3 657.7 103 659 102.2 660.3 101.1 662.2 98.6 664.1 95.5 666 91.8 673.7 75.3 676.8 69.2 678.8 66.2 680.7 64 681.9 63 683.9 62.4 685.8 62.5 687 62.9 688.3 63.6 690.9 65.6 696.6 71.4 699.1 73.6 701.7 75.2 703 75.7 704.2 75.8 706.2 75.4 708.7 74 711.2 71.8 717.6 65.5 719.5 64 720.8 63.2 722.7 62.5 724 62.3 725.3 62.5 726.5 63.1 727.8 64.2 729.1 65.6 730.4 67.4 732.3 70.5 735.5 76.9 741.8 90.8 743.7 94.5 745.6 97.8 747.6 100.5 748.8 101.8 750.7 103 752 103.3 753.3 103 754.6 102.2 755.8 101.1 757.8 98.6 759.7 95.5 761.6 91.8 769.2 75.2 772.4 69.2 774.3 66.2 775.6 64.7 777.5 63 778.8 62.5 780 62.3 781.3 62.5 782.6 62.9 783.9 63.6 786.4 65.7 792.2 71.4 794.7 73.6 797.2 75.2 798.5 75.7 799.8 75.8 801.7 75.4 804.3 74 806.8 71.8 813.2 65.5 815.1 64 816.4 63.2 818.3 62.5 819.5 62.3 820.8 62.5 822.1 63.2 823.4 64.2 824.6 65.6 825.9 67.4 827.8 70.6 831 76.9 837.4 90.8 839.3 94.5 841.2 97.8 843.1 100.5 844.4 101.8 846.3 103 847.6 103.3 848.9 103 850.8 101.7 852 100.3 853.9 97.6 857.1 91.8 864.1 76.6 867.3 70.3 869.2 67.1 870.5 65.4 871.8 64 873.1 63 874.3 62.5 875.6 62.3 876.9 62.5 878.8 63.3 880.1 64.1 882 65.7 887.7 71.4 890.3 73.6 892.8 75.2 894.1 75.7 895.4 75.8 896.6 75.6 897.9 75.2 900.5 73.5 903 71.2 908.1 66.1 911.3 63.6 912.6 62.9 913.8 62.5 915.7 62.4 917 62.8 918.3 63.6 919.6 64.9 921.5 67.4 923.4 70.6 925.3 74.3 932.9 90.8 936.1 96.8 938 99.7 939.3 101.2 941.2 102.7 942.5 103.2M560.9 71.2 562.2 71.1 564.1 70.4 566 69.3 567.9 67.8 571.1 64.6 578.7 56 582.6 52.4 584.5 51 585.7 50.4 587 50 588.9 49.7 590.8 49.9 593.4 50.5 595.9 51.6 603.6 55.3 606.1 56.1 608.7 56.4 610.6 56.2 613.1 55.5 615.7 54.4 622.1 51.2 625.2 50.1 627.2 49.8 628.4 49.7 631 50.2 633.5 51.5 636.7 54.2 639.9 57.5 646.3 64.7 650.1 68.4 652 69.8 653.3 70.5 655.2 71.1 656.5 71.2 657.7 71.1 659 70.7 660.3 70.1 662.2 68.8 664.1 67.2 666 65.3 673.7 56.6 676.8 53.4 678.8 51.9 680.7 50.7 681.9 50.2 683.9 49.8 685.8 49.8 688.3 50.3 691.5 51.6 699.1 55.3 701.7 56.1 704.2 56.4 706.2 56.2 708.7 55.5 711.2 54.4 717.6 51.2 720.8 50.1 722.7 49.8 724 49.7 726.5 50.2 729.1 51.5 732.3 54.2 735.5 57.5 741.8 64.7 745.6 68.4 747.6 69.8 748.8 70.5 750.7 71.1 752 71.2 753.3 71.1 755.2 70.4 756.5 69.7 758.4 68.3 761.6 65.3 768.6 57.3 771.8 54 775 51.4 777.5 50.2 780 49.7 781.3 49.8 783.2 50.1 786.4 51.3 794.7 55.3 797.2 56.1 799.8 56.4 802.3 56 804.9 55.2 812.5 51.5 815.1 50.5 817.6 49.9 820.2 49.8 822.1 50.2 823.4 50.8 825.3 52 827.2 53.6 830.4 56.8 838 65.4 839.9 67.3 841.8 68.9 843.8 70.2 845 70.8 846.3 71.1 847.6 71.2 848.9 71.1 850.8 70.4 852 69.7 853.9 68.3 857.1 65.3 864.1 57.3 867.3 54 870.5 51.4 873.1 50.2 875.6 49.7 876.9 49.8 878.8 50.1 882 51.3 890.3 55.3 892.8 56.1 895.4 56.4 897.9 56 900.5 55.2 908.1 51.5 910.6 50.5 913.2 49.9 915.1 49.7 917 50 918.3 50.5 919.6 51.1 921.5 52.5 924.7 55.4 932.9 64.7 936.1 67.9 938 69.4 939.3 70.2 941.2 71 942.5 71.2M560.9 47.6 564.1 47.3 567.9 46.2 571.1 44.9 579.4 41 583.2 39.5 586.4 38.8 589.6 38.6 594 38.9 604.9 40.9 608.7 41.1 613.1 40.8 624.6 38.8 627.8 38.6 630.3 38.7 632.9 39.2 636.1 40.2 646.3 44.9 650.1 46.4 653.3 47.3 656.5 47.6 659.6 47.3 663.5 46.2 666.7 44.9 674.3 41.2 678.1 39.7 681.3 38.9 684.5 38.6 688.9 38.9 699.1 40.7 701.7 41 704.2 41.1 708.7 40.8 720.2 38.8 723.4 38.6 725.9 38.7 728.4 39.2 731.6 40.2 741.8 44.9 745.6 46.4 748.8 47.3 752 47.6 754.6 47.4 757.8 46.6 761.6 45.1 769.2 41.5 772.4 40.2 776.2 39 779.4 38.6 782 38.6 784.5 38.9 794.7 40.7 797.2 41 799.8 41.1 804.3 40.8 815.7 38.8 818.9 38.6 821.5 38.7 824 39.2 827.2 40.2 837.4 44.9 841.2 46.4 844.4 47.3 847.6 47.6 850.8 47.3 853.9 46.4 857.8 44.8 867.3 40.4 870.5 39.3 873.1 38.8 875.6 38.6 878.8 38.7 882 39.1 890.9 40.8 895.4 41.1 899.8 40.8 910.6 38.8 915.1 38.6 918.3 38.9 921.5 39.8 924.7 41 932.9 44.9 936.1 46.2 939.3 47.2 942.5 47.6" fill="none" stroke="#1d3a3a" stroke-width="0.75" stroke-opacity="0.6"/></g>
<g clip-path="url(#cpd)"><rect x="560.9" y="477.4" width="381.6" height="343.1" fill="#ffee40"/>
<path d="M555.9 828.1 L560.9 828.1 603.6 828.1 604.2 827.4 605.5 823.6 607.4 818.9 609.3 815.3 610.6 813.5 611.9 812.3 613.1 811.6 614.4 811.4 615.7 811.6 617 812.4 618.2 813.8 619.5 815.6 620.8 817.9 622.1 820.7 624.6 828 625.2 828.1 711.2 828.1 711.9 828 714.4 820.7 715.7 817.9 717 815.6 718.3 813.8 719.5 812.4 720.8 811.6 722.1 811.4 723.4 811.6 724.6 812.3 725.9 813.5 727.2 815.3 729.1 818.9 731 823.6 732.3 827.4 732.9 828.1 819.5 828.1 822.1 821.2 823.4 818.3 824.6 815.9 825.9 814 827.2 812.6 828.5 811.7 829.7 811.4 831 811.5 832.3 812.2 833.6 813.3 834.8 815 836.1 817.2 837.4 819.9 839.9 826.8 840.6 828.1 927.2 828.1 927.8 827 929.8 821.6 931.7 817.3 932.9 815.1 934.9 812.8 935.5 812.2 936.8 811.5 938 811.4 938.7 811.5 940 812 940.6 812.5 942.5 814.8 L947.5 472.4 L555.9 472.4Z" fill="#eeff40"/>
<path d="M555.9 801.8 L560.9 801.8 562.2 802 563.4 802.4 564.7 803.1 566.6 804.4 569.8 807.5 576.8 815.1 578.7 816.9 580.6 818.4 582.6 819.4 583.8 819.8 585.7 819.8 587 819.5 588.3 818.8 590.2 817 591.5 815.5 593.4 812.6 596.6 806.9 604.2 791.6 606.1 788.2 608 785.2 610 782.8 611.9 781.1 613.8 780.2 615.1 780.1 616.3 780.5 618.2 781.7 619.5 783 621.4 785.5 623.3 788.4 625.2 791.8 632.9 806.8 636.1 812.4 638 815.2 639.3 816.8 641.2 818.6 642.4 819.3 643.7 819.7 645.6 819.7 646.9 819.3 648.8 818.3 650.7 816.9 652.6 815.1 659.6 807.5 662.8 804.5 664.7 803.1 666 802.4 667.3 802 668.6 801.8 669.8 801.9 671.7 802.6 673 803.4 674.9 804.8 678.1 807.9 684.5 814.9 687.7 817.8 689.6 819 690.9 819.6 692.1 819.9 693.4 819.9 695.3 819.3 696.6 818.4 698.5 816.5 700.4 813.9 704.2 807.3 712.5 790.8 714.4 787.4 716.3 784.6 718.3 782.3 719.5 781.2 721.4 780.2 722.7 780.1 724 780.4 725.9 781.6 727.2 782.8 729.1 785.2 731 788.1 732.9 791.5 740.6 806.5 743.7 812.2 745.6 815 746.9 816.6 748.8 818.4 750.1 819.2 751.4 819.7 753.3 819.7 754.6 819.4 756.5 818.4 758.4 817 760.3 815.3 767.3 807.7 770.5 804.6 772.4 803.2 773.7 802.5 775.6 801.9 776.9 801.8 778.1 802 779.4 802.5 780.7 803.2 782.6 804.7 785.8 807.8 792.2 814.8 795.3 817.7 797.2 818.9 798.5 819.5 799.8 819.8 801.1 819.9 803 819.4 804.9 818 806.8 815.9 808.7 813.2 811.9 807.6 820.2 791.1 822.1 787.7 824 784.8 825.9 782.5 827.2 781.3 829.1 780.3 830.4 780.1 831.7 780.3 833.6 781.4 835.5 783.3 837.4 785.9 841.2 792.3 848.2 806.2 851.4 811.9 853.3 814.8 854.6 816.4 856.5 818.3 857.8 819.1 859 819.6 861 819.7 862.9 819.2 864.8 818.1 868 815.5 875.6 807.2 878.8 804.3 880.7 802.9 882 802.3 883.3 801.9 884.5 801.8 885.8 802 887.1 802.4 888.3 803.1 890.3 804.5 893.4 807.6 900.5 815.2 903.6 818 906.2 819.4 907.5 819.8 908.7 819.9 910.6 819.4 911.9 818.7 913.8 816.9 915.7 814.4 917.7 811.4 919.6 807.9 926.6 793.9 929.1 789.1 931.7 785.1 933.6 782.7 934.9 781.5 936.1 780.6 937.4 780.1 938 780.1 938.7 780.1 940 780.5 941.2 781.3 942.5 782.4 L947.5 472.4 L555.9 472.4Z" fill="#cbff40"/>
<path d="M555.9 753 L560.9 753 561.5 753.3 562.2 754.1 562.8 755.3 564.1 758.8 565.4 763.5 569.8 782.1 571.1 786.4 573 791 574.3 793.1 576.2 795.1 579.4 797.6 583.2 800.9 584.5 801.8 585.7 802.3 587 802.5 587.7 802.3 588.9 801.6 590.8 799.5 592.8 796.3 594.7 792.3 596.6 787.6 604.2 766.2 607.4 758.4 609.3 754.6 611.2 751.7 612.5 750.4 613.1 750 614.4 749.6 615.7 749.8 616.3 750.2 617.6 751.3 618.9 752.9 620.8 756.1 622.7 760.1 624.6 764.8 631.6 784 634.8 792 636.7 796.1 638 798.3 639.9 800.8 641.2 801.9 642.4 802.4 643.7 802.3 645 801.8 646.3 801 653.9 794.7 655.2 793.3 656.5 791.3 658.4 786.9 659.6 782.7 664.1 764.2 666 757.4 667.3 754.4 667.9 753.5 668.6 753 669.2 753.2 669.8 753.8 670.5 754.9 671.7 758.2 673 762.8 678.1 783.8 679.4 787.7 681.3 791.8 682.6 793.6 683.9 795 691.5 801.3 692.8 802 694 802.4 695.3 802.4 696 802.1 697.2 801.2 699.1 798.8 700.4 796.7 702.3 792.7 705.5 784.6 712.5 765 714.4 760.2 716.3 756.1 718.3 752.8 719.5 751.2 720.8 750.1 721.4 749.8 722.7 749.6 724 750 725.9 751.8 727.2 753.6 729.1 757 731 761.2 732.9 766 739.3 783.6 742.5 791.6 744.4 795.7 745.6 798 747.6 800.6 748.8 801.8 750.1 802.3 751.4 802.4 752.7 801.9 753.9 801.2 761.6 794.9 762.8 793.5 764.1 791.6 766 787.4 767.3 783.4 771.8 764.9 773.7 757.9 775 754.7 775.6 753.7 776.2 753.1 776.9 753.1 777.5 753.6 778.1 754.5 778.8 755.9 780 759.8 785.8 783.1 787.1 787.2 788.3 790.3 790.2 793.4 792.2 795.4 794.7 797.3 799.2 801.2 801.1 802.2 802.3 802.5 803.6 802.2 804.3 801.9 805.5 800.8 806.8 799.1 808.7 795.8 810.6 791.6 812.5 786.8 819.5 767.2 822.7 759.2 824.6 755.2 825.9 753.1 827.8 750.7 829.1 749.9 830.4 749.6 831 749.7 832.3 750.3 834.2 752.4 836.1 755.4 838 759.3 839.9 763.9 848.2 786.5 851.4 794.1 853.3 797.7 855.2 800.4 856.5 801.6 857.1 802 858.4 802.4 859.7 802.3 861.6 801.3 868.6 795.6 870.5 793.7 872.4 790.8 873.7 787.9 875 784 876.2 779.2 880.1 763 881.3 758.5 882.6 755 883.3 753.9 883.9 753.2 884.5 753 885.2 753.4 885.8 754.2 887.1 757.2 889 763.9 893.4 782.5 894.7 786.7 896.6 791.2 897.9 793.2 899.8 795.2 903 797.7 906.8 801 908.7 802.2 910 802.5 911.3 802.3 911.9 802 913.2 800.9 915.1 798.4 917 794.8 918.9 790.5 920.8 785.6 929.1 762.6 931.7 756.8 933.6 753.3 934.9 751.6 936.1 750.3 937.4 749.7 938 749.6 938.7 749.6 940 750.2 941.2 751.4 942.5 753 L947.5 472.4 L555.9 472.4Z" fill="#a8ff40"/>
<path d="M555.9 711.1 L560.9 711.1 561.5 711.2 562.2 711.7 563.4 713.5 564.7 716.2 566 719.9 568.5 729.3 572.4 746 574.9 756.3 577.5 765.3 579.4 771 581.3 775.7 583.2 779.2 585.1 781.5 586.4 782.3 587 782.5 588.3 782.3 589.6 781.4 590.8 779.9 592.8 776.7 594.7 772.5 596.6 767.5 604.2 744.7 607.4 736.2 609.3 732.1 611.2 729 612.5 727.6 613.1 727.1 614.4 726.7 615.7 727 616.3 727.3 617.6 728.6 619.5 731.4 621.4 735.2 624.6 743.3 632.9 767.5 635.4 773.9 637.3 777.7 639.3 780.6 640.5 781.8 641.2 782.2 642.4 782.4 643.1 782.3 644.4 781.6 645.6 780.3 647.5 777.3 648.8 774.6 650.7 769.6 652.6 763.7 655.2 754.5 660.9 730 663.5 720.5 664.7 716.7 666 713.8 667.3 711.9 667.9 711.3 668.6 711.1 669.2 711.2 669.8 711.5 671.1 713.2 672.4 715.8 673.7 719.3 676.2 728.6 682.6 755.6 685.1 764.7 687 770.5 688.9 775.3 690.9 779 692.8 781.4 694 782.3 694.7 782.4 696 782.3 696.6 782 697.9 780.9 699.1 779.2 701.1 775.8 704.2 768 712.5 743.4 715.7 735.2 717.6 731.3 718.9 729.2 720.2 727.8 720.8 727.3 722.1 726.7 723.4 726.9 724 727.2 725.3 728.4 727.2 731.1 729.1 734.8 731 739.4 732.9 744.6 741.2 768.7 743.1 773.5 745 777.4 746.9 780.3 748.2 781.6 748.8 782.1 749.5 782.3 750.7 782.4 751.4 782.1 752.7 781.2 753.9 779.7 755.8 776.3 757.1 773.5 759 768.3 760.9 762.1 762.8 755.2 769.2 728.1 771.1 721 772.4 717.2 773.7 714.1 775 712.1 775.6 711.5 776.2 711.1 776.9 711.1 777.5 711.4 778.8 712.9 780 715.4 782 720.8 783.9 727.9 788.3 747.2 790.9 757.3 793.4 766.2 795.3 771.7 797.2 776.3 799.2 779.7 800.4 781.2 801.1 781.8 802.3 782.4 803 782.5 804.3 782.1 804.9 781.7 806.2 780.4 807.4 778.5 809.4 774.8 812.5 766.7 819.5 745.7 822.7 737.1 824.6 732.8 825.9 730.5 827.8 727.9 829.1 727 830.4 726.7 831 726.8 832.3 727.6 834.2 729.8 836.1 733.1 838 737.4 839.9 742.3 847.6 764.8 850.8 773.1 852.7 777.1 854.6 780.1 855.9 781.5 856.5 782 857.8 782.4 858.4 782.4 859.7 781.9 860.3 781.4 861.6 779.9 863.5 776.7 866.1 770.6 868 764.9 870.5 755.8 873.1 745.5 876.9 728.9 878.8 721.6 880.1 717.7 881.3 714.5 882.6 712.3 883.3 711.6 883.9 711.2 884.5 711.1 885.2 711.3 886.4 712.6 887.7 715 889.6 720.2 892.2 729.8 896 746.4 898.5 756.7 901.1 765.6 903 771.3 904.9 775.9 906.8 779.4 908.7 781.6 910 782.4 911.3 782.4 911.9 782.2 913.2 781.3 915.1 778.8 917 775.1 918.9 770.6 920.8 765.4 929.1 740.8 931.7 734.5 933.6 730.8 934.9 728.9 936.1 727.5 937.4 726.8 938 726.7 938.7 726.8 940 727.4 941.2 728.7 942.5 730.5 L947.5 472.4 L555.9 472.4Z" fill="#85ff40"/>
<path d="M555.9 690.1 L560.9 690.1 562.8 690.3 564.1 690.6 566 691.5 567.3 692.4 569.2 694.4 570.5 696.2 571.7 698.4 573 701 574.9 705.9 576.8 712 578.7 719.4 583.2 738 585.7 747.3 587 750.9 588.3 753.6 589.6 755.2 590.2 755.7 590.8 755.9 591.5 755.9 592.1 755.7 593.4 754.8 594.7 753.2 595.9 751 597.2 748.2 599.1 743.4 605.5 724.8 608.7 716.5 610.6 712.7 611.9 710.8 613.1 709.6 614.4 709.2 615.7 709.5 617 710.6 618.2 712.3 620.1 715.9 623.3 723.8 630.3 744.1 632.3 748.8 633.5 751.5 635.4 754.5 636.7 755.8 638 756.4 638.6 756.4 639.9 755.7 641.2 754.2 641.8 753 643.1 749.9 644.4 746 646.3 738.9 652.6 712.7 654.5 706.4 656.5 701.4 657.7 698.7 659 696.4 660.3 694.6 661.6 693.1 662.8 692 664.1 691.2 665.4 690.6 667.3 690.2 669.2 690.1 671.1 690.4 673 691.1 674.3 691.8 676.2 693.5 677.5 695 678.8 697 680 699.3 682.6 705.4 684.5 711.4 686.4 718.6 691.5 739.9 694 748.7 695.3 752 696.6 754.3 697.9 755.6 698.5 755.9 699.1 755.9 700.4 755.5 701.7 754.3 703 752.4 704.2 750 705.5 747.1 707.4 742.2 713.8 723.5 716.3 716.9 718.3 713 719.5 711.1 720.8 709.8 722.1 709.2 723.4 709.4 724.6 710.4 725.9 712 727.8 715.5 731 723.4 738.6 745.3 740.6 749.8 741.8 752.3 743.7 755.1 745 756.1 746.3 756.4 746.9 756.2 747.6 755.9 748.8 754.4 749.5 753.4 750.7 750.4 752 746.6 753.9 739.6 760.3 713.3 762.2 706.9 764.1 701.8 766 697.8 767.3 695.7 768.6 694 769.9 692.7 771.1 691.7 772.4 691 774.3 690.3 776.2 690.1 778.8 690.3 780.7 691 782 691.7 783.9 693.3 785.1 694.8 786.4 696.7 787.7 699 790.2 704.9 792.2 710.8 794.1 717.9 799.2 739.2 801.7 748.1 803 751.6 804.3 754 805.5 755.5 806.2 755.8 806.8 755.9 808.1 755.6 809.4 754.5 810.6 752.7 812.5 749 815.7 740.9 822.1 722.2 824 717.3 825.3 714.5 826.6 712.2 827.8 710.5 829.1 709.5 830.4 709.2 831.7 709.7 832.9 710.9 834.2 712.7 836.1 716.5 839.3 724.6 846.3 744.8 848.2 749.4 849.5 752 851.4 754.9 852.7 756 853.9 756.4 854.6 756.3 855.9 755.5 857.1 753.7 857.8 752.4 859 749.1 860.3 745 862.2 737.8 868 714 869.2 709.5 871.1 703.9 873.1 699.4 874.3 697 875.6 695.1 876.9 693.5 878.2 692.3 879.4 691.4 881.3 690.5 883.3 690.2 885.2 690.1 887.1 690.4 889 691.2 890.9 692.5 892.2 693.8 894.1 696.4 895.4 698.6 897.9 704.5 900.5 712.4 902.4 719.8 906.8 738.5 909.4 747.6 910.6 751.1 911.9 753.7 912.6 754.6 913.8 755.7 914.5 755.9 915.1 755.9 915.7 755.7 917 754.7 918.3 753 920.2 749.4 923.4 741.4 928.5 726.3 931 719.3 932.9 714.9 934.9 711.5 936.1 710.1 936.8 709.6 938 709.2 938.7 709.3 939.3 709.6 940.6 710.7 942.5 713.6 L947.5 472.4 L555.9 472.4Z" fill="#63ff40"/>
<path d="M555.9 673 L560.9 673 562.2 673 564.1 673.4 566 674.1 567.9 675.1 569.8 676.3 572.4 678.3 575.6 681.1 576.2 681.9 578.1 685.3 580.6 691 581.9 694.9 585.1 706.5 586.4 710 587 711.1 587.7 711.8 588.3 711.8 589.6 711.7 591.5 711 592.8 710.2 594.7 708.9 597.8 706 605.5 698.1 608.7 695.4 610.6 694.2 611.9 693.6 613.1 693.3 614.4 693.2 615.7 693.3 617.6 693.9 619.5 694.9 621.4 696.3 624.6 699.1 632.3 706.7 636.1 709.8 638 710.9 639.3 711.4 640.5 711.7 641.8 711.9 642.4 711.5 643.1 710.6 643.7 709.2 645 705.2 647.5 695.6 648.8 691.5 651.4 685.7 653.3 682.1 653.9 681.3 656.5 679 659 676.9 660.9 675.6 662.8 674.5 664.7 673.7 666.7 673.2 667.9 673 669.2 673 671.1 673.2 673 673.8 674.9 674.7 676.8 675.8 679.4 677.6 681.9 679.8 683.9 681.7 685.8 684.9 688.9 692.3 692.8 705.9 694 709.6 694.7 710.9 695.3 711.6 696 711.9 697.2 711.7 699.1 711 700.4 710.4 702.3 709 705.5 706.1 713.2 698.2 716.3 695.5 718.3 694.3 719.5 693.7 720.8 693.3 722.1 693.2 723.4 693.3 725.3 693.8 727.2 694.8 729.1 696.1 732.3 698.9 740.6 707.1 742.5 708.7 744.4 710.1 746.3 711.1 747.6 711.5 749.5 711.8 750.1 711.7 750.7 710.9 752 707.9 756.5 692 759 686 760.9 682.4 762.2 680.8 764.1 679.1 768.6 675.7 770.5 674.6 772.4 673.8 774.3 673.2 775.6 673 777.5 673 779.4 673.3 781.3 674 783.2 674.9 785.8 676.5 788.3 678.5 790.9 680.8 792.2 682.3 794.1 685.9 796.6 691.8 797.9 695.9 800.4 705.3 801.7 709.2 802.3 710.6 803 711.5 803.6 711.8 804.9 711.7 806.2 711.4 807.4 710.8 809.4 709.6 812.5 706.9 820.2 699 823.4 696.1 825.3 694.8 826.6 694 828.5 693.4 829.7 693.2 831 693.2 832.9 693.8 834.8 694.7 836.7 696 839.9 698.7 848.2 706.9 852 709.9 853.9 711 855.2 711.5 856.5 711.8 857.8 711.8 858.4 711.2 859.7 708.4 861 704.2 863.5 694.6 864.8 690.7 867.3 685.1 868.6 682.7 869.9 681 871.1 679.8 873.7 677.7 876.2 675.8 878.2 674.7 880.1 673.8 882 673.3 883.3 673 885.2 673 887.1 673.3 889 673.9 890.9 674.8 892.8 676 895.4 677.9 898.5 680.6 899.8 682 901.7 685.5 904.3 691.3 905.6 695.3 908.1 704.7 909.4 708.7 910.6 711.3 911.3 711.8 912.6 711.8 914.5 711.2 915.7 710.6 917.7 709.3 920.8 706.5 929.1 698 931.7 695.8 933.6 694.5 936.1 693.4 938 693.2 940 693.5 942.5 694.6 L947.5 472.4 L555.9 472.4Z" fill="#40ff40"/>
<path d="M555.9 657 L560.9 657 575.6 657.1 578.7 657.5 580.6 658.3 582.6 659.7 583.8 661.4 585.1 663.6 588.9 671.9 590.8 674.8 592.1 676 594 677 595.9 677.5 598.5 677.8 605.5 677.9 628.4 677.9 632.9 677.6 635.4 677.1 637.3 676.1 639.3 674.2 641.2 671 644.4 664 645.6 661.7 646.9 659.9 648.8 658.4 650.7 657.6 653.9 657.1 667.3 657 683.2 657.1 686.4 657.5 688.3 658.2 690.2 659.6 692.1 662.1 693.4 664.6 696.6 671.6 698.5 674.6 699.8 675.9 701.1 676.7 703 677.4 704.9 677.7 711.2 677.9 734.8 677.9 739.3 677.8 742.5 677.3 743.7 676.9 745 676.3 746.9 674.5 748.8 671.4 752 664.4 753.3 662 755.2 659.5 757.1 658.1 759 657.5 762.2 657.1 780 657 788.3 657 792.2 657.2 794.1 657.5 795.3 657.8 797.2 658.9 799.2 660.9 800.4 663 804.3 671.2 805.5 673.5 807.4 675.7 808.7 676.6 810 677.1 812.5 677.7 817 677.9 841.2 677.9 847.6 677.7 850.1 677.4 852 676.7 853.3 675.9 854.6 674.7 856.5 671.7 861 662.3 862.9 659.6 864.8 658.2 866.7 657.5 869.9 657.1 887.1 657 896 657 899.8 657.2 903 657.8 904.9 658.7 906.8 660.6 908.1 662.6 911.9 670.9 913.8 674.1 915.7 676.1 917.7 677.1 920.2 677.6 923.4 677.9 942.5 677.9 L947.5 472.4 L555.9 472.4Z" fill="#40ff63"/>
<path d="M555.9 642.1 L560.9 642.1 562.2 641.9 564.1 641.1 565.4 640.2 567.3 638.5 570.5 634.9 577.5 625.8 579.4 623.7 581.3 621.9 583.2 620.5 585.1 619.7 587 619.5 588.3 619.9 590.2 621.1 591.5 622.5 592.8 624.2 594.7 627.4 597.8 633.9 604.9 649.6 606.8 653.5 608.7 656.7 610.6 659.3 611.9 660.5 613.1 661.3 613.8 661.5 615.1 661.5 616.3 660.9 617.6 660 618.9 658.6 620.8 655.8 624 649.8 631 634.1 634.2 627.6 636.1 624.4 637.3 622.6 638.6 621.2 640.5 619.9 641.8 619.5 643.7 619.6 645.6 620.3 647.5 621.6 649.5 623.3 651.4 625.4 659 635.1 662.2 638.6 664.1 640.3 665.4 641.1 667.3 641.9 668.6 642.1 669.8 641.9 671.7 641.2 673 640.3 674.9 638.6 678.1 635.1 685.8 625.3 688.9 622 690.9 620.6 692.1 619.9 693.4 619.6 694.7 619.5 696.6 620.1 697.9 621 699.8 623 701.7 625.9 704.9 632.1 713.2 650.6 715.1 654.3 717 657.4 718.9 659.8 720.2 660.8 721.4 661.4 722.7 661.5 724 661 725.3 660.1 726.5 658.8 728.4 656.1 730.4 652.7 732.3 648.8 738.6 634.5 741.8 627.9 743.7 624.7 745 622.8 746.9 620.8 748.2 620 749.5 619.6 751.4 619.5 753.3 620.2 755.2 621.4 757.1 623.1 759 625.2 766.7 634.9 769.9 638.5 771.8 640.2 773 641 775 641.9 776.2 642.1 777.5 642 779.4 641.3 780.7 640.4 782.6 638.8 785.8 635.3 793.4 625.5 796.6 622.2 798.5 620.7 799.8 620 801.1 619.6 802.3 619.5 804.3 620 805.5 620.8 806.8 622 808.7 624.6 810.6 627.9 812.5 631.7 820.2 648.9 823.4 655.1 825.3 658.1 827.2 660.2 828.5 661.1 829.1 661.4 830.4 661.5 831.7 661.1 832.9 660.3 834.2 659 836.1 656.3 838 653 839.9 649.2 846.9 633.5 850.1 627.1 852 624 853.3 622.3 854.6 621 855.9 620.1 857.1 619.6 859 619.5 861 620.1 862.9 621.3 864.8 623 866.7 625 875 635.4 878.2 638.9 880.1 640.5 881.3 641.3 883.3 642 884.5 642.1 885.8 641.9 887.7 641 889 640.1 890.9 638.4 894.1 634.7 901.1 625.7 904.3 622.3 906.2 620.8 907.5 620.1 908.7 619.7 910 619.5 911.9 619.9 913.2 620.7 915.1 622.6 917 625.3 918.9 628.8 920.8 632.7 929.1 651.2 931.7 655.9 933.6 658.7 934.9 660 936.1 661 937.4 661.5 938 661.5 938.7 661.4 940 660.9 941.2 659.9 942.5 658.4 L947.5 472.4 L555.9 472.4Z" fill="#40ff85"/>
<path d="M555.9 626.1 L560.9 626.1 562.2 625.7 563.4 624.7 564.7 623.3 566.6 620.3 568.5 616.4 570.5 612 576.8 595.5 580 588 581.9 584.2 583.2 582.2 585.1 579.9 586.4 579.1 587.7 578.8 588.3 579 589.6 579.7 590.2 580.3 591.5 582.2 593.4 586.2 595.3 591.4 597.2 597.6 604.9 625.4 608 635.5 610 640.1 611.2 642.5 612.5 644.2 613.1 644.7 613.8 645 614.4 645.1 615.1 645 615.7 644.7 616.3 644.2 617.6 642.5 618.9 640.2 620.8 635.6 624 625.7 630.3 602.4 633.5 591.8 635.4 586.5 636.7 583.6 638 581.4 639.3 579.8 640.5 579 641.2 578.8 642.4 578.9 643.1 579.2 644.4 580.2 646.3 582.7 648.2 586 650.1 590 659 612.5 662.2 619.4 664.1 622.6 665.4 624.2 666.7 625.4 667.3 625.8 668.6 626.1 669.8 625.8 670.5 625.4 671.7 624.3 673.7 621.7 675.6 618.1 678.8 610.9 685.8 592.8 687.7 588.3 689.6 584.5 691.5 581.5 692.8 580.1 694 579.2 694.7 578.9 696 578.9 697.2 579.5 697.9 580.1 699.1 581.9 700.4 584.3 702.3 589 705.5 599.1 713.2 627 715.1 633.1 717 638.3 718.9 642.2 720.2 644 721.4 645 722.1 645.1 722.7 645.1 724 644.3 725.3 642.8 726.5 640.6 728.4 636.1 731.6 626.3 738.6 600.8 741.8 590.4 743.7 585.4 745 582.7 746.3 580.7 747.6 579.4 748.8 578.8 749.5 578.8 750.7 579.1 751.4 579.5 752.7 580.7 754.6 583.4 756.5 586.9 758.4 591.1 766.7 612.1 769.9 619.1 771.8 622.4 773 624 775 625.7 776.2 626.1 777.5 625.9 778.1 625.5 779.4 624.5 781.3 621.9 783.2 618.5 786.4 611.3 794.1 591.6 796 587.4 797.9 583.7 799.8 581 801.1 579.7 802.3 579 803.6 578.9 804.9 579.4 805.5 579.9 806.8 581.6 808.1 583.9 810 588.6 813.2 598.5 820.8 626.4 822.7 632.6 824.6 637.9 826.6 641.9 827.8 643.8 829.1 644.9 829.7 645.1 830.4 645.1 831.7 644.5 832.9 643.1 834.2 640.9 836.1 636.5 839.3 626.9 846.3 601.4 849.5 590.9 851.4 585.8 852.7 583.1 853.9 580.9 855.2 579.5 856.5 578.9 857.1 578.8 858.4 579.1 859 579.4 860.3 580.5 862.2 583.1 864.1 586.5 866.1 590.7 874.3 611.7 877.5 618.7 879.4 622.1 881.3 624.5 882.6 625.6 883.3 625.9 884.5 626.1 885.8 625.6 887.7 623.9 889 622.2 890.9 618.9 894.1 611.7 901.7 592.1 903.6 587.7 905.6 584 907.5 581.2 908.7 579.9 910 579.1 911.3 578.9 912.6 579.3 913.2 579.8 914.5 581.3 915.7 583.6 917.7 588.1 919.6 593.7 921.5 600.1 929.1 628 931.7 635.8 933.6 640.3 934.9 642.7 936.1 644.3 937.4 645.1 938 645.1 938.7 645 940 644.1 941.2 642.4 942.5 640 L947.5 472.4 L555.9 472.4Z" fill="#40ffa8"/>
<path d="M555.9 607.8 L560.9 607.8 562.2 607.3 563.4 606.2 564.7 604.5 566.6 601 568.5 596.5 570.5 591.2 577.5 569.8 580.6 561 582.6 556.7 583.8 554.4 585.7 552 587 551.1 588.3 550.9 588.9 551.1 590.2 552.1 591.5 554 593.4 558.1 595.3 563.7 597.2 570.4 604.9 600.9 608 611.9 610 617.1 611.2 619.7 612.5 621.6 613.1 622.2 613.8 622.5 614.4 622.6 615.1 622.5 615.7 622.2 617 620.8 618.2 618.6 620.1 613.9 623.3 603.5 630.3 575.7 633.5 564.1 635.4 558.5 636.7 555.5 638 553.1 639.3 551.6 640.5 550.9 641.2 550.8 642.4 551.2 643.1 551.7 644.4 553.1 646.3 556.1 648.2 560.3 650.1 565.2 658.4 590 661.6 598.5 663.5 602.6 665.4 605.6 666.7 607 667.3 607.4 668.6 607.8 669.8 607.4 670.5 607 671.7 605.7 673.7 602.6 675.6 598.5 678.8 589.9 686.4 566.6 688.3 561.5 690.2 557.1 692.1 553.7 693.4 552.1 694.7 551.2 696 550.9 697.2 551.4 697.9 551.9 699.1 553.7 700.4 556.2 702.3 561.2 705.5 572.1 713.2 602.6 715.1 609.4 717 615.1 718.9 619.4 720.2 621.3 721.4 622.4 722.1 622.6 722.7 622.6 724 621.8 725.3 620.1 726.5 617.6 728.4 612.6 731.6 601.8 738.6 573.9 741.2 564.7 743.1 559 744.4 555.8 745.6 553.4 746.9 551.8 748.2 550.9 748.8 550.8 750.1 551.1 750.7 551.6 752 552.8 753.9 555.8 755.8 559.8 757.8 564.7 766 589.5 767.9 594.9 769.9 599.6 771.8 603.4 773 605.4 774.3 606.8 775 607.3 776.2 607.8 777.5 607.5 778.8 606.6 780 605 782 601.7 783.9 597.4 785.8 592.2 793.4 568.9 796.6 560.3 798.5 556.2 800.4 553.1 801.7 551.7 802.3 551.3 803.6 550.9 804.9 551.3 806.2 552.5 807.4 554.5 809.4 558.9 810.6 562.6 812.5 569.1 820.8 602 824 612.8 825.9 617.7 827.2 620.2 828.5 621.8 829.1 622.3 829.7 622.6 830.4 622.6 831 622.4 831.7 621.9 832.9 620.3 834.2 618 836.1 613.1 839.3 602.5 846.3 574.6 849.5 563.2 851.4 557.8 852.7 554.9 853.9 552.7 855.2 551.4 856.5 550.8 857.1 550.9 858.4 551.4 859 551.9 860.3 553.5 862.2 556.7 864.1 560.9 866.1 565.9 874.3 590.9 877.5 599.2 879.4 603.1 881.3 606 882.6 607.2 883.3 607.6 884.5 607.8 885.8 607.3 886.4 606.8 887.7 605.3 889 603.3 890.9 599.3 894.1 590.9 902.4 565.8 905.6 557.8 907.5 554.3 908.7 552.5 910 551.4 911.3 550.9 912.6 551.2 913.2 551.6 914.5 553.1 915.7 555.4 917.7 560.2 919.6 566.2 921.5 573.2 927.2 596.4 929.8 606 932.3 614.1 934.2 618.7 935.5 620.9 936.1 621.7 937.4 622.6 938 622.6 938.7 622.5 940 621.4 941.2 619.6 942.5 616.9 L947.5 472.4 L555.9 472.4Z" fill="#40ffcb"/>
<path d="M555.9 583.8 L560.9 583.8 562.2 583.4 564.1 581.8 566 579.2 567.9 575.7 571.7 566.8 579.4 546.6 581.3 542.1 583.2 538.3 585.1 535.2 586.4 533.7 587.7 532.7 588.3 532.4 589.6 532.2 590.8 532.6 591.5 533 592.8 534.4 594 536.2 595.9 539.7 599.1 547.2 606.1 565.4 608 569.7 609.3 572.1 610.6 574.1 611.9 575.6 613.1 576.6 614.4 576.9 615.7 576.6 616.3 576.2 617.6 574.9 618.9 573.2 620.8 569.8 624 562.5 631 544.3 632.9 540 634.8 536.4 636.7 533.8 638 532.7 638.6 532.3 639.9 532.1 640.5 532.3 641.8 532.9 643.1 534.1 645 536.7 646.3 539 648.2 542.9 651.4 550.6 658.4 569 660.3 573.4 662.2 577.3 664.1 580.4 665.4 582 666.7 583.1 667.3 583.5 668.6 583.8 669.8 583.5 670.5 583.1 671.7 582 673.7 579.5 675.6 576 677.5 571.9 679.4 567.2 687 547 688.9 542.5 690.9 538.6 692.8 535.5 694 533.9 695.3 532.8 696 532.4 697.2 532.2 698.5 532.5 699.8 533.4 701.1 535 702.3 537 703.6 539.4 705.5 543.6 712.5 561.9 715.7 569.3 717.6 572.9 718.9 574.7 720.2 576 720.8 576.5 722.1 576.9 723.4 576.7 724.6 575.8 725.9 574.4 727.8 571.3 731 564.5 738 546.3 741.2 539.1 743.1 535.7 744.4 534 745.6 532.8 746.3 532.4 747.6 532.1 748.8 532.5 749.5 532.8 750.7 533.9 752 535.5 753.9 538.6 755.8 542.5 757.8 547 765.4 567 768.6 574.4 770.5 578.1 772.4 581 774.3 583 775.6 583.6 776.9 583.7 777.5 583.6 778.8 582.8 780 581.5 782 578.7 783.9 575.1 785.8 570.8 794.7 547.5 797.9 540.2 799.8 536.7 801.7 534.1 803 532.9 803.6 532.5 804.9 532.2 806.2 532.4 807.4 533.3 808.7 534.7 810.6 537.8 813.8 544.7 820.8 563 823.4 568.9 825.3 572.6 826.6 574.5 827.8 575.9 829.1 576.7 830.4 576.9 831.7 576.4 832.9 575.3 834.8 572.7 836.7 569.2 838.7 564.9 845.7 546.7 848.9 539.4 850.8 536 852 534.2 853.3 532.9 853.9 532.5 855.2 532.1 856.5 532.4 857.1 532.7 858.4 533.7 859.7 535.3 861.6 538.3 863.5 542.1 865.4 546.6 873.1 566.5 876.9 575.4 878.8 578.9 880.1 580.8 882 582.8 883.3 583.6 884.5 583.8 885.2 583.6 886.4 582.9 888.3 580.9 890.3 577.9 892.2 574.1 894.1 569.7 902.4 547.9 905.6 540.6 907.5 537 909.4 534.3 911.3 532.6 912.6 532.2 913.8 532.3 914.5 532.7 915.7 533.7 917 535.4 918.9 538.7 922.1 545.9 929.8 565.7 932.3 571.1 934.2 574.2 936.1 576.2 937.4 576.8 938 576.9 938.7 576.8 940 576.1 941.2 574.8 942.5 573 L947.5 472.4 L555.9 472.4Z" fill="#40ffee"/>
<path d="M555.9 553.3 L560.9 553.3 562.8 552.8 564.7 551.6 566.6 549.7 568.5 547.3 572.4 541.4 581.3 525.7 583.2 522.8 585.1 520.3 587 518.3 588.3 517.2 590.2 516.3 591.5 516.1 592.8 516.2 594 516.5 596.6 518 599.8 520.7 606.1 527.4 608.7 529.7 610.6 531.1 611.9 531.7 613.1 532.1 614.4 532.3 615.7 532.2 617 531.7 618.2 531.1 620.1 529.7 622.7 527.5 629.7 520.2 631.6 518.6 633.5 517.2 635.4 516.4 636.7 516.1 638.6 516.2 639.9 516.8 641.2 517.6 643.1 519.3 646.3 523.4 649.5 528.4 657.7 542.9 659.6 545.9 661.6 548.5 663.5 550.6 665.4 552.2 667.3 553.1 668.6 553.3 669.8 553.1 671.7 552.2 673 551.2 674.9 549.2 676.8 546.7 679.4 542.7 687.7 528.1 691.5 522.2 693.4 519.7 695.3 517.9 697.2 516.6 699.1 516.1 700.4 516.1 701.7 516.5 704.2 517.9 707.4 520.6 713.8 527.2 716.3 529.6 718.3 531 719.5 531.7 720.8 532.1 722.1 532.3 723.4 532.2 724.6 531.8 725.9 531.2 727.8 529.9 731 527 737.4 520.4 739.3 518.7 741.2 517.3 743.1 516.4 744.4 516.1 746.3 516.2 747.6 516.7 748.8 517.4 750.7 519.1 753.9 523.1 757.1 528.1 765.4 542.6 769.2 548.2 771.1 550.4 773 552.1 775 553 776.2 553.3 777.5 553.1 779.4 552.3 781.3 550.7 783.2 548.6 785.1 546 787.1 543 795.3 528.4 799.2 522.4 801.1 519.9 803 518 804.9 516.7 806.8 516.1 808.1 516.1 809.4 516.4 811.9 517.7 815.1 520.4 821.5 527 824 529.4 825.9 530.9 827.2 531.6 828.5 532.1 829.7 532.3 831 532.2 832.3 531.9 833.6 531.3 835.5 530 838.7 527.2 845.7 520 848.9 517.5 850.8 516.5 852 516.1 853.9 516.2 855.2 516.6 856.5 517.3 858.4 519 861.6 522.9 865.4 528.9 873.1 542.3 876.9 548 878.8 550.2 880.7 551.9 882.6 553 883.9 553.3 885.2 553.2 887.1 552.4 889 550.9 890.9 548.8 892.8 546.3 894.7 543.3 903.6 527.6 906.8 522.7 908.7 520.2 910 518.8 911.9 517.2 913.2 516.5 914.5 516.1 916.4 516.2 917.7 516.6 919.6 517.6 922.8 520.2 931 528.7 932.9 530.3 934.9 531.5 936.8 532.2 938.7 532.2 940.6 531.7 942.5 530.6 L947.5 472.4 L555.9 472.4Z" fill="#40eeff"/>
<path d="M555.9 523.5 L560.9 523.5 562.8 523.3 564.7 522.6 566.6 521.6 568.5 520.2 572.4 517 581.3 508.2 583.8 506 585.7 504.6 588.9 502.9 590.2 502.6 592.1 502.3 594.7 502.5 597.2 503.2 600.4 504.5 608.7 508.5 611.9 509.5 614.4 509.8 617 509.5 619.5 508.8 622.7 507.4 629.1 504.3 632.9 502.8 636.1 502.3 638 502.4 639.3 502.7 640.5 503.1 642.4 504.1 645.6 506.3 648.8 509.1 657.1 517.2 659.6 519.4 661.6 520.9 663.5 522.1 665.4 522.9 667.3 523.4 668.6 523.5 669.8 523.4 671.7 522.9 673.7 522 675.6 520.8 679.4 517.7 688.3 508.9 692.1 505.6 694 504.3 696 503.3 697.9 502.6 699.8 502.3 702.3 502.5 704.9 503.1 708.1 504.4 714.4 507.6 717 508.7 719.5 509.5 722.1 509.8 724.6 509.6 727.8 508.6 737.4 504.1 740.6 502.9 743.7 502.3 745.6 502.4 746.9 502.6 748.2 503.1 750.1 504 752 505.2 753.9 506.7 757.1 509.6 764.8 517.1 769.2 520.8 771.1 522 773 522.9 775 523.4 776.2 523.5 777.5 523.5 779.4 523 781.3 522.1 783.2 521 787.1 517.9 796 509.1 799.8 505.8 801.7 504.4 803.6 503.4 805.5 502.7 807.4 502.3 810 502.5 812.5 503.1 815.7 504.4 822.1 507.5 824.6 508.6 827.2 509.4 829.7 509.8 832.3 509.6 835.5 508.7 838 507.6 845 504.2 848.2 502.9 851.4 502.3 853.3 502.4 854.6 502.6 855.9 503 857.8 503.9 859.7 505.1 861.6 506.6 864.8 509.4 873.1 517.5 876.9 520.6 878.8 521.9 880.7 522.8 882.6 523.4 883.9 523.5 885.8 523.4 887.7 522.8 889.6 521.9 891.5 520.6 895.4 517.5 903.6 509.3 906.8 506.4 908.7 505 910.6 503.8 912.6 502.9 913.8 502.5 915.1 502.3 917 502.3 920.2 503 923.4 504.3 931.7 508.3 935.5 509.5 937.4 509.8 938.7 509.8 940.6 509.5 942.5 509 L947.5 472.4 L555.9 472.4Z" fill="#40cbff"/>
<path d="M555.9 498.4 L560.9 498.4 564.7 498 568.5 497 572.4 495.7 581.9 491.8 585.7 490.5 589.6 489.7 592.8 489.4 597.8 489.7 609.3 491.5 614.4 491.9 619.5 491.5 632.3 489.6 635.4 489.4 638.6 489.6 641.8 490.2 645.6 491.3 657.1 495.8 660.9 497.1 664.7 498 668.6 498.4 671.7 498.1 675.6 497.3 679.4 496 688.9 492.1 692.8 490.8 696.6 489.8 700.4 489.4 705.5 489.7 717 491.5 722.1 491.9 727.2 491.5 739.9 489.6 743.1 489.4 746.3 489.6 749.5 490.1 753.3 491.2 764.8 495.7 769.2 497.2 773 498.1 776.2 498.4 779.4 498.1 783.2 497.3 787.7 495.8 796.6 492.2 800.4 490.8 804.3 489.9 808.1 489.4 813.2 489.7 824.6 491.5 829.7 491.9 834.8 491.6 844.4 490 848.2 489.6 851.4 489.4 854.6 489.6 857.8 490.2 861 491.2 872.4 495.7 876.9 497.2 880.7 498.1 883.9 498.4 887.7 498.1 891.5 497.2 895.4 495.9 907.5 491.1 910.6 490.2 913.8 489.6 917 489.4 920.8 489.6 931.7 491.4 935.5 491.8 938.7 491.9 942.5 491.6 L947.5 472.4 L555.9 472.4Z" fill="#40a8ff"/>
<path d="M560.9 828.1 603.6 828.1 604.2 827.4 605.5 823.6 607.4 818.9 609.3 815.3 610.6 813.5 611.9 812.3 613.1 811.6 614.4 811.4 615.7 811.6 617 812.4 618.2 813.8 619.5 815.6 620.8 817.9 622.1 820.7 624.6 828 625.2 828.1 711.2 828.1 711.9 828 714.4 820.7 715.7 817.9 717 815.6 718.3 813.8 719.5 812.4 720.8 811.6 722.1 811.4 723.4 811.6 724.6 812.3 725.9 813.5 727.2 815.3 729.1 818.9 731 823.6 732.3 827.4 732.9 828.1 819.5 828.1 822.1 821.2 823.4 818.3 824.6 815.9 825.9 814 827.2 812.6 828.5 811.7 829.7 811.4 831 811.5 832.3 812.2 833.6 813.3 834.8 815 836.1 817.2 837.4 819.9 839.9 826.8 840.6 828.1 927.2 828.1 927.8 827 929.8 821.6 931.7 817.3 932.9 815.1 934.9 812.8 935.5 812.2 936.8 811.5 938 811.4 938.7 811.5 940 812 940.6 812.5 942.5 814.8M560.9 801.8 562.2 802 563.4 802.4 564.7 803.1 566.6 804.4 569.8 807.5 576.8 815.1 578.7 816.9 580.6 818.4 582.6 819.4 583.8 819.8 585.7 819.8 587 819.5 588.3 818.8 590.2 817 591.5 815.5 593.4 812.6 596.6 806.9 604.2 791.6 606.1 788.2 608 785.2 610 782.8 611.9 781.1 613.8 780.2 615.1 780.1 616.3 780.5 618.2 781.7 619.5 783 621.4 785.5 623.3 788.4 625.2 791.8 632.9 806.8 636.1 812.4 638 815.2 639.3 816.8 641.2 818.6 642.4 819.3 643.7 819.7 645.6 819.7 646.9 819.3 648.8 818.3 650.7 816.9 652.6 815.1 659.6 807.5 662.8 804.5 664.7 803.1 666 802.4 667.3 802 668.6 801.8 669.8 801.9 671.7 802.6 673 803.4 674.9 804.8 678.1 807.9 684.5 814.9 687.7 817.8 689.6 819 690.9 819.6 692.1 819.9 693.4 819.9 695.3 819.3 696.6 818.4 698.5 816.5 700.4 813.9 704.2 807.3 712.5 790.8 714.4 787.4 716.3 784.6 718.3 782.3 719.5 781.2 721.4 780.2 722.7 780.1 724 780.4 725.9 781.6 727.2 782.8 729.1 785.2 731 788.1 732.9 791.5 740.6 806.5 743.7 812.2 745.6 815 746.9 816.6 748.8 818.4 750.1 819.2 751.4 819.7 753.3 819.7 754.6 819.4 756.5 818.4 758.4 817 760.3 815.3 767.3 807.7 770.5 804.6 772.4 803.2 773.7 802.5 775.6 801.9 776.9 801.8 778.1 802 779.4 802.5 780.7 803.2 782.6 804.7 785.8 807.8 792.2 814.8 795.3 817.7 797.2 818.9 798.5 819.5 799.8 819.8 801.1 819.9 803 819.4 804.9 818 806.8 815.9 808.7 813.2 811.9 807.6 820.2 791.1 822.1 787.7 824 784.8 825.9 782.5 827.2 781.3 829.1 780.3 830.4 780.1 831.7 780.3 833.6 781.4 835.5 783.3 837.4 785.9 841.2 792.3 848.2 806.2 851.4 811.9 853.3 814.8 854.6 816.4 856.5 818.3 857.8 819.1 859 819.6 861 819.7 862.9 819.2 864.8 818.1 868 815.5 875.6 807.2 878.8 804.3 880.7 802.9 882 802.3 883.3 801.9 884.5 801.8 885.8 802 887.1 802.4 888.3 803.1 890.3 804.5 893.4 807.6 900.5 815.2 903.6 818 906.2 819.4 907.5 819.8 908.7 819.9 910.6 819.4 911.9 818.7 913.8 816.9 915.7 814.4 917.7 811.4 919.6 807.9 926.6 793.9 929.1 789.1 931.7 785.1 933.6 782.7 934.9 781.5 936.1 780.6 937.4 780.1 938 780.1 938.7 780.1 940 780.5 941.2 781.3 942.5 782.4M560.9 753 561.5 753.3 562.2 754.1 562.8 755.3 564.1 758.8 565.4 763.5 569.8 782.1 571.1 786.4 573 791 574.3 793.1 576.2 795.1 579.4 797.6 583.2 800.9 584.5 801.8 585.7 802.3 587 802.5 587.7 802.3 588.9 801.6 590.8 799.5 592.8 796.3 594.7 792.3 596.6 787.6 604.2 766.2 607.4 758.4 609.3 754.6 611.2 751.7 612.5 750.4 613.1 750 614.4 749.6 615.7 749.8 616.3 750.2 617.6 751.3 618.9 752.9 620.8 756.1 622.7 760.1 624.6 764.8 631.6 784 634.8 792 636.7 796.1 638 798.3 639.9 800.8 641.2 801.9 642.4 802.4 643.7 802.3 645 801.8 646.3 801 653.9 794.7 655.2 793.3 656.5 791.3 658.4 786.9 659.6 782.7 664.1 764.2 666 757.4 667.3 754.4 667.9 753.5 668.6 753 669.2 753.2 669.8 753.8 670.5 754.9 671.7 758.2 673 762.8 678.1 783.8 679.4 787.7 681.3 791.8 682.6 793.6 683.9 795 691.5 801.3 692.8 802 694 802.4 695.3 802.4 696 802.1 697.2 801.2 699.1 798.8 700.4 796.7 702.3 792.7 705.5 784.6 712.5 765 714.4 760.2 716.3 756.1 718.3 752.8 719.5 751.2 720.8 750.1 721.4 749.8 722.7 749.6 724 750 725.9 751.8 727.2 753.6 729.1 757 731 761.2 732.9 766 739.3 783.6 742.5 791.6 744.4 795.7 745.6 798 747.6 800.6 748.8 801.8 750.1 802.3 751.4 802.4 752.7 801.9 753.9 801.2 761.6 794.9 762.8 793.5 764.1 791.6 766 787.4 767.3 783.4 771.8 764.9 773.7 757.9 775 754.7 775.6 753.7 776.2 753.1 776.9 753.1 777.5 753.6 778.1 754.5 778.8 755.9 780 759.8 785.8 783.1 787.1 787.2 788.3 790.3 790.2 793.4 792.2 795.4 794.7 797.3 799.2 801.2 801.1 802.2 802.3 802.5 803.6 802.2 804.3 801.9 805.5 800.8 806.8 799.1 808.7 795.8 810.6 791.6 812.5 786.8 819.5 767.2 822.7 759.2 824.6 755.2 825.9 753.1 827.8 750.7 829.1 749.9 830.4 749.6 831 749.7 832.3 750.3 834.2 752.4 836.1 755.4 838 759.3 839.9 763.9 848.2 786.5 851.4 794.1 853.3 797.7 855.2 800.4 856.5 801.6 857.1 802 858.4 802.4 859.7 802.3 861.6 801.3 868.6 795.6 870.5 793.7 872.4 790.8 873.7 787.9 875 784 876.2 779.2 880.1 763 881.3 758.5 882.6 755 883.3 753.9 883.9 753.2 884.5 753 885.2 753.4 885.8 754.2 887.1 757.2 889 763.9 893.4 782.5 894.7 786.7 896.6 791.2 897.9 793.2 899.8 795.2 903 797.7 906.8 801 908.7 802.2 910 802.5 911.3 802.3 911.9 802 913.2 800.9 915.1 798.4 917 794.8 918.9 790.5 920.8 785.6 929.1 762.6 931.7 756.8 933.6 753.3 934.9 751.6 936.1 750.3 937.4 749.7 938 749.6 938.7 749.6 940 750.2 941.2 751.4 942.5 753M560.9 711.1 561.5 711.2 562.2 711.7 563.4 713.5 564.7 716.2 566 719.9 568.5 729.3 572.4 746 574.9 756.3 577.5 765.3 579.4 771 581.3 775.7 583.2 779.2 585.1 781.5 586.4 782.3 587 782.5 588.3 782.3 589.6 781.4 590.8 779.9 592.8 776.7 594.7 772.5 596.6 767.5 604.2 744.7 607.4 736.2 609.3 732.1 611.2 729 612.5 727.6 613.1 727.1 614.4 726.7 615.7 727 616.3 727.3 617.6 728.6 619.5 731.4 621.4 735.2 624.6 743.3 632.9 767.5 635.4 773.9 637.3 777.7 639.3 780.6 640.5 781.8 641.2 782.2 642.4 782.4 643.1 782.3 644.4 781.6 645.6 780.3 647.5 777.3 648.8 774.6 650.7 769.6 652.6 763.7 655.2 754.5 660.9 730 663.5 720.5 664.7 716.7 666 713.8 667.3 711.9 667.9 711.3 668.6 711.1 669.2 711.2 669.8 711.5 671.1 713.2 672.4 715.8 673.7 719.3 676.2 728.6 682.6 755.6 685.1 764.7 687 770.5 688.9 775.3 690.9 779 692.8 781.4 694 782.3 694.7 782.4 696 782.3 696.6 782 697.9 780.9 699.1 779.2 701.1 775.8 704.2 768 712.5 743.4 715.7 735.2 717.6 731.3 718.9 729.2 720.2 727.8 720.8 727.3 722.1 726.7 723.4 726.9 724 727.2 725.3 728.4 727.2 731.1 729.1 734.8 731 739.4 732.9 744.6 741.2 768.7 743.1 773.5 745 777.4 746.9 780.3 748.2 781.6 748.8 782.1 749.5 782.3 750.7 782.4 751.4 782.1 752.7 781.2 753.9 779.7 755.8 776.3 757.1 773.5 759 768.3 760.9 762.1 762.8 755.2 769.2 728.1 771.1 721 772.4 717.2 773.7 714.1 775 712.1 775.6 711.5 776.2 711.1 776.9 711.1 777.5 711.4 778.8 712.9 780 715.4 782 720.8 783.9 727.9 788.3 747.2 790.9 757.3 793.4 766.2 795.3 771.7 797.2 776.3 799.2 779.7 800.4 781.2 801.1 781.8 802.3 782.4 803 782.5 804.3 782.1 804.9 781.7 806.2 780.4 807.4 778.5 809.4 774.8 812.5 766.7 819.5 745.7 822.7 737.1 824.6 732.8 825.9 730.5 827.8 727.9 829.1 727 830.4 726.7 831 726.8 832.3 727.6 834.2 729.8 836.1 733.1 838 737.4 839.9 742.3 847.6 764.8 850.8 773.1 852.7 777.1 854.6 780.1 855.9 781.5 856.5 782 857.8 782.4 858.4 782.4 859.7 781.9 860.3 781.4 861.6 779.9 863.5 776.7 866.1 770.6 868 764.9 870.5 755.8 873.1 745.5 876.9 728.9 878.8 721.6 880.1 717.7 881.3 714.5 882.6 712.3 883.3 711.6 883.9 711.2 884.5 711.1 885.2 711.3 886.4 712.6 887.7 715 889.6 720.2 892.2 729.8 896 746.4 898.5 756.7 901.1 765.6 903 771.3 904.9 775.9 906.8 779.4 908.7 781.6 910 782.4 911.3 782.4 911.9 782.2 913.2 781.3 915.1 778.8 917 775.1 918.9 770.6 920.8 765.4 929.1 740.8 931.7 734.5 933.6 730.8 934.9 728.9 936.1 727.5 937.4 726.8 938 726.7 938.7 726.8 940 727.4 941.2 728.7 942.5 730.5M560.9 690.1 562.8 690.3 564.1 690.6 566 691.5 567.3 692.4 569.2 694.4 570.5 696.2 571.7 698.4 573 701 574.9 705.9 576.8 712 578.7 719.4 583.2 738 585.7 747.3 587 750.9 588.3 753.6 589.6 755.2 590.2 755.7 590.8 755.9 591.5 755.9 592.1 755.7 593.4 754.8 594.7 753.2 595.9 751 597.2 748.2 599.1 743.4 605.5 724.8 608.7 716.5 610.6 712.7 611.9 710.8 613.1 709.6 614.4 709.2 615.7 709.5 617 710.6 618.2 712.3 620.1 715.9 623.3 723.8 630.3 744.1 632.3 748.8 633.5 751.5 635.4 754.5 636.7 755.8 638 756.4 638.6 756.4 639.9 755.7 641.2 754.2 641.8 753 643.1 749.9 644.4 746 646.3 738.9 652.6 712.7 654.5 706.4 656.5 701.4 657.7 698.7 659 696.4 660.3 694.6 661.6 693.1 662.8 692 664.1 691.2 665.4 690.6 667.3 690.2 669.2 690.1 671.1 690.4 673 691.1 674.3 691.8 676.2 693.5 677.5 695 678.8 697 680 699.3 682.6 705.4 684.5 711.4 686.4 718.6 691.5 739.9 694 748.7 695.3 752 696.6 754.3 697.9 755.6 698.5 755.9 699.1 755.9 700.4 755.5 701.7 754.3 703 752.4 704.2 750 705.5 747.1 707.4 742.2 713.8 723.5 716.3 716.9 718.3 713 719.5 711.1 720.8 709.8 722.1 709.2 723.4 709.4 724.6 710.4 725.9 712 727.8 715.5 731 723.4 738.6 745.3 740.6 749.8 741.8 752.3 743.7 755.1 745 756.1 746.3 756.4 746.9 756.2 747.6 755.9 748.8 754.4 749.5 753.4 750.7 750.4 752 746.6 753.9 739.6 760.3 713.3 762.2 706.9 764.1 701.8 766 697.8 767.3 695.7 768.6 694 769.9 692.7 771.1 691.7 772.4 691 774.3 690.3 776.2 690.1 778.8 690.3 780.7 691 782 691.7 783.9 693.3 785.1 694.8 786.4 696.7 787.7 699 790.2 704.9 792.2 710.8 794.1 717.9 799.2 739.2 801.7 748.1 803 751.6 804.3 754 805.5 755.5 806.2 755.8 806.8 755.9 808.1 755.6 809.4 754.5 810.6 752.7 812.5 749 815.7 740.9 822.1 722.2 824 717.3 825.3 714.5 826.6 712.2 827.8 710.5 829.1 709.5 830.4 709.2 831.7 709.7 832.9 710.9 834.2 712.7 836.1 716.5 839.3 724.6 846.3 744.8 848.2 749.4 849.5 752 851.4 754.9 852.7 756 853.9 756.4 854.6 756.3 855.9 755.5 857.1 753.7 857.8 752.4 859 749.1 860.3 745 862.2 737.8 868 714 869.2 709.5 871.1 703.9 873.1 699.4 874.3 697 875.6 695.1 876.9 693.5 878.2 692.3 879.4 691.4 881.3 690.5 883.3 690.2 885.2 690.1 887.1 690.4 889 691.2 890.9 692.5 892.2 693.8 894.1 696.4 895.4 698.6 897.9 704.5 900.5 712.4 902.4 719.8 906.8 738.5 909.4 747.6 910.6 751.1 911.9 753.7 912.6 754.6 913.8 755.7 914.5 755.9 915.1 755.9 915.7 755.7 917 754.7 918.3 753 920.2 749.4 923.4 741.4 928.5 726.3 931 719.3 932.9 714.9 934.9 711.5 936.1 710.1 936.8 709.6 938 709.2 938.7 709.3 939.3 709.6 940.6 710.7 942.5 713.6M560.9 673 562.2 673 564.1 673.4 566 674.1 567.9 675.1 569.8 676.3 572.4 678.3 575.6 681.1 576.2 681.9 578.1 685.3 580.6 691 581.9 694.9 585.1 706.5 586.4 710 587 711.1 587.7 711.8 588.3 711.8 589.6 711.7 591.5 711 592.8 710.2 594.7 708.9 597.8 706 605.5 698.1 608.7 695.4 610.6 694.2 611.9 693.6 613.1 693.3 614.4 693.2 615.7 693.3 617.6 693.9 619.5 694.9 621.4 696.3 624.6 699.1 632.3 706.7 636.1 709.8 638 710.9 639.3 711.4 640.5 711.7 641.8 711.9 642.4 711.5 643.1 710.6 643.7 709.2 645 705.2 647.5 695.6 648.8 691.5 651.4 685.7 653.3 682.1 653.9 681.3 656.5 679 659 676.9 660.9 675.6 662.8 674.5 664.7 673.7 666.7 673.2 667.9 673 669.2 673 671.1 673.2 673 673.8 674.9 674.7 676.8 675.8 679.4 677.6 681.9 679.8 683.9 681.7 685.8 684.9 688.9 692.3 692.8 705.9 694 709.6 694.7 710.9 695.3 711.6 696 711.9 697.2 711.7 699.1 711 700.4 710.4 702.3 709 705.5 706.1 713.2 698.2 716.3 695.5 718.3 694.3 719.5 693.7 720.8 693.3 722.1 693.2 723.4 693.3 725.3 693.8 727.2 694.8 729.1 696.1 732.3 698.9 740.6 707.1 742.5 708.7 744.4 710.1 746.3 711.1 747.6 711.5 749.5 711.8 750.1 711.7 750.7 710.9 752 707.9 756.5 692 759 686 760.9 682.4 762.2 680.8 764.1 679.1 768.6 675.7 770.5 674.6 772.4 673.8 774.3 673.2 775.6 673 777.5 673 779.4 673.3 781.3 674 783.2 674.9 785.8 676.5 788.3 678.5 790.9 680.8 792.2 682.3 794.1 685.9 796.6 691.8 797.9 695.9 800.4 705.3 801.7 709.2 802.3 710.6 803 711.5 803.6 711.8 804.9 711.7 806.2 711.4 807.4 710.8 809.4 709.6 812.5 706.9 820.2 699 823.4 696.1 825.3 694.8 826.6 694 828.5 693.4 829.7 693.2 831 693.2 832.9 693.8 834.8 694.7 836.7 696 839.9 698.7 848.2 706.9 852 709.9 853.9 711 855.2 711.5 856.5 711.8 857.8 711.8 858.4 711.2 859.7 708.4 861 704.2 863.5 694.6 864.8 690.7 867.3 685.1 868.6 682.7 869.9 681 871.1 679.8 873.7 677.7 876.2 675.8 878.2 674.7 880.1 673.8 882 673.3 883.3 673 885.2 673 887.1 673.3 889 673.9 890.9 674.8 892.8 676 895.4 677.9 898.5 680.6 899.8 682 901.7 685.5 904.3 691.3 905.6 695.3 908.1 704.7 909.4 708.7 910.6 711.3 911.3 711.8 912.6 711.8 914.5 711.2 915.7 710.6 917.7 709.3 920.8 706.5 929.1 698 931.7 695.8 933.6 694.5 936.1 693.4 938 693.2 940 693.5 942.5 694.6M560.9 657 575.6 657.1 578.7 657.5 580.6 658.3 582.6 659.7 583.8 661.4 585.1 663.6 588.9 671.9 590.8 674.8 592.1 676 594 677 595.9 677.5 598.5 677.8 605.5 677.9 628.4 677.9 632.9 677.6 635.4 677.1 637.3 676.1 639.3 674.2 641.2 671 644.4 664 645.6 661.7 646.9 659.9 648.8 658.4 650.7 657.6 653.9 657.1 667.3 657 683.2 657.1 686.4 657.5 688.3 658.2 690.2 659.6 692.1 662.1 693.4 664.6 696.6 671.6 698.5 674.6 699.8 675.9 701.1 676.7 703 677.4 704.9 677.7 711.2 677.9 734.8 677.9 739.3 677.8 742.5 677.3 743.7 676.9 745 676.3 746.9 674.5 748.8 671.4 752 664.4 753.3 662 755.2 659.5 757.1 658.1 759 657.5 762.2 657.1 780 657 788.3 657 792.2 657.2 794.1 657.5 795.3 657.8 797.2 658.9 799.2 660.9 800.4 663 804.3 671.2 805.5 673.5 807.4 675.7 808.7 676.6 810 677.1 812.5 677.7 817 677.9 841.2 677.9 847.6 677.7 850.1 677.4 852 676.7 853.3 675.9 854.6 674.7 856.5 671.7 861 662.3 862.9 659.6 864.8 658.2 866.7 657.5 869.9 657.1 887.1 657 896 657 899.8 657.2 903 657.8 904.9 658.7 906.8 660.6 908.1 662.6 911.9 670.9 913.8 674.1 915.7 676.1 917.7 677.1 920.2 677.6 923.4 677.9 942.5 677.9M560.9 642.1 562.2 641.9 564.1 641.1 565.4 640.2 567.3 638.5 570.5 634.9 577.5 625.8 579.4 623.7 581.3 621.9 583.2 620.5 585.1 619.7 587 619.5 588.3 619.9 590.2 621.1 591.5 622.5 592.8 624.2 594.7 627.4 597.8 633.9 604.9 649.6 606.8 653.5 608.7 656.7 610.6 659.3 611.9 660.5 613.1 661.3 613.8 661.5 615.1 661.5 616.3 660.9 617.6 660 618.9 658.6 620.8 655.8 624 649.8 631 634.1 634.2 627.6 636.1 624.4 637.3 622.6 638.6 621.2 640.5 619.9 641.8 619.5 643.7 619.6 645.6 620.3 647.5 621.6 649.5 623.3 651.4 625.4 659 635.1 662.2 638.6 664.1 640.3 665.4 641.1 667.3 641.9 668.6 642.1 669.8 641.9 671.7 641.2 673 640.3 674.9 638.6 678.1 635.1 685.8 625.3 688.9 622 690.9 620.6 692.1 619.9 693.4 619.6 694.7 619.5 696.6 620.1 697.9 621 699.8 623 701.7 625.9 704.9 632.1 713.2 650.6 715.1 654.3 717 657.4 718.9 659.8 720.2 660.8 721.4 661.4 722.7 661.5 724 661 725.3 660.1 726.5 658.8 728.4 656.1 730.4 652.7 732.3 648.8 738.6 634.5 741.8 627.9 743.7 624.7 745 622.8 746.9 620.8 748.2 620 749.5 619.6 751.4 619.5 753.3 620.2 755.2 621.4 757.1 623.1 759 625.2 766.7 634.9 769.9 638.5 771.8 640.2 773 641 775 641.9 776.2 642.1 777.5 642 779.4 641.3 780.7 640.4 782.6 638.8 785.8 635.3 793.4 625.5 796.6 622.2 798.5 620.7 799.8 620 801.1 619.6 802.3 619.5 804.3 620 805.5 620.8 806.8 622 808.7 624.6 810.6 627.9 812.5 631.7 820.2 648.9 823.4 655.1 825.3 658.1 827.2 660.2 828.5 661.1 829.1 661.4 830.4 661.5 831.7 661.1 832.9 660.3 834.2 659 836.1 656.3 838 653 839.9 649.2 846.9 633.5 850.1 627.1 852 624 853.3 622.3 854.6 621 855.9 620.1 857.1 619.6 859 619.5 861 620.1 862.9 621.3 864.8 623 866.7 625 875 635.4 878.2 638.9 880.1 640.5 881.3 641.3 883.3 642 884.5 642.1 885.8 641.9 887.7 641 889 640.1 890.9 638.4 894.1 634.7 901.1 625.7 904.3 622.3 906.2 620.8 907.5 620.1 908.7 619.7 910 619.5 911.9 619.9 913.2 620.7 915.1 622.6 917 625.3 918.9 628.8 920.8 632.7 929.1 651.2 931.7 655.9 933.6 658.7 934.9 660 936.1 661 937.4 661.5 938 661.5 938.7 661.4 940 660.9 941.2 659.9 942.5 658.4M560.9 626.1 562.2 625.7 563.4 624.7 564.7 623.3 566.6 620.3 568.5 616.4 570.5 612 576.8 595.5 580 588 581.9 584.2 583.2 582.2 585.1 579.9 586.4 579.1 587.7 578.8 588.3 579 589.6 579.7 590.2 580.3 591.5 582.2 593.4 586.2 595.3 591.4 597.2 597.6 604.9 625.4 608 635.5 610 640.1 611.2 642.5 612.5 644.2 613.1 644.7 613.8 645 614.4 645.1 615.1 645 615.7 644.7 616.3 644.2 617.6 642.5 618.9 640.2 620.8 635.6 624 625.7 630.3 602.4 633.5 591.8 635.4 586.5 636.7 583.6 638 581.4 639.3 579.8 640.5 579 641.2 578.8 642.4 578.9 643.1 579.2 644.4 580.2 646.3 582.7 648.2 586 650.1 590 659 612.5 662.2 619.4 664.1 622.6 665.4 624.2 666.7 625.4 667.3 625.8 668.6 626.1 669.8 625.8 670.5 625.4 671.7 624.3 673.7 621.7 675.6 618.1 678.8 610.9 685.8 592.8 687.7 588.3 689.6 584.5 691.5 581.5 692.8 580.1 694 579.2 694.7 578.9 696 578.9 697.2 579.5 697.9 580.1 699.1 581.9 700.4 584.3 702.3 589 705.5 599.1 713.2 627 715.1 633.1 717 638.3 718.9 642.2 720.2 644 721.4 645 722.1 645.1 722.7 645.1 724 644.3 725.3 642.8 726.5 640.6 728.4 636.1 731.6 626.3 738.6 600.8 741.8 590.4 743.7 585.4 745 582.7 746.3 580.7 747.6 579.4 748.8 578.8 749.5 578.8 750.7 579.1 751.4 579.5 752.7 580.7 754.6 583.4 756.5 586.9 758.4 591.1 766.7 612.1 769.9 619.1 771.8 622.4 773 624 775 625.7 776.2 626.1 777.5 625.9 778.1 625.5 779.4 624.5 781.3 621.9 783.2 618.5 786.4 611.3 794.1 591.6 796 587.4 797.9 583.7 799.8 581 801.1 579.7 802.3 579 803.6 578.9 804.9 579.4 805.5 579.9 806.8 581.6 808.1 583.9 810 588.6 813.2 598.5 820.8 626.4 822.7 632.6 824.6 637.9 826.6 641.9 827.8 643.8 829.1 644.9 829.7 645.1 830.4 645.1 831.7 644.5 832.9 643.1 834.2 640.9 836.1 636.5 839.3 626.9 846.3 601.4 849.5 590.9 851.4 585.8 852.7 583.1 853.9 580.9 855.2 579.5 856.5 578.9 857.1 578.8 858.4 579.1 859 579.4 860.3 580.5 862.2 583.1 864.1 586.5 866.1 590.7 874.3 611.7 877.5 618.7 879.4 622.1 881.3 624.5 882.6 625.6 883.3 625.9 884.5 626.1 885.8 625.6 887.7 623.9 889 622.2 890.9 618.9 894.1 611.7 901.7 592.1 903.6 587.7 905.6 584 907.5 581.2 908.7 579.9 910 579.1 911.3 578.9 912.6 579.3 913.2 579.8 914.5 581.3 915.7 583.6 917.7 588.1 919.6 593.7 921.5 600.1 929.1 628 931.7 635.8 933.6 640.3 934.9 642.7 936.1 644.3 937.4 645.1 938 645.1 938.7 645 940 644.1 941.2 642.4 942.5 640M560.9 607.8 562.2 607.3 563.4 606.2 564.7 604.5 566.6 601 568.5 596.5 570.5 591.2 577.5 569.8 580.6 561 582.6 556.7 583.8 554.4 585.7 552 587 551.1 588.3 550.9 588.9 551.1 590.2 552.1 591.5 554 593.4 558.1 595.3 563.7 597.2 570.4 604.9 600.9 608 611.9 610 617.1 611.2 619.7 612.5 621.6 613.1 622.2 613.8 622.5 614.4 622.6 615.1 622.5 615.7 622.2 617 620.8 618.2 618.6 620.1 613.9 623.3 603.5 630.3 575.7 633.5 564.1 635.4 558.5 636.7 555.5 638 553.1 639.3 551.6 640.5 550.9 641.2 550.8 642.4 551.2 643.1 551.7 644.4 553.1 646.3 556.1 648.2 560.3 650.1 565.2 658.4 590 661.6 598.5 663.5 602.6 665.4 605.6 666.7 607 667.3 607.4 668.6 607.8 669.8 607.4 670.5 607 671.7 605.7 673.7 602.6 675.6 598.5 678.8 589.9 686.4 566.6 688.3 561.5 690.2 557.1 692.1 553.7 693.4 552.1 694.7 551.2 696 550.9 697.2 551.4 697.9 551.9 699.1 553.7 700.4 556.2 702.3 561.2 705.5 572.1 713.2 602.6 715.1 609.4 717 615.1 718.9 619.4 720.2 621.3 721.4 622.4 722.1 622.6 722.7 622.6 724 621.8 725.3 620.1 726.5 617.6 728.4 612.6 731.6 601.8 738.6 573.9 741.2 564.7 743.1 559 744.4 555.8 745.6 553.4 746.9 551.8 748.2 550.9 748.8 550.8 750.1 551.1 750.7 551.6 752 552.8 753.9 555.8 755.8 559.8 757.8 564.7 766 589.5 767.9 594.9 769.9 599.6 771.8 603.4 773 605.4 774.3 606.8 775 607.3 776.2 607.8 777.5 607.5 778.8 606.6 780 605 782 601.7 783.9 597.4 785.8 592.2 793.4 568.9 796.6 560.3 798.5 556.2 800.4 553.1 801.7 551.7 802.3 551.3 803.6 550.9 804.9 551.3 806.2 552.5 807.4 554.5 809.4 558.9 810.6 562.6 812.5 569.1 820.8 602 824 612.8 825.9 617.7 827.2 620.2 828.5 621.8 829.1 622.3 829.7 622.6 830.4 622.6 831 622.4 831.7 621.9 832.9 620.3 834.2 618 836.1 613.1 839.3 602.5 846.3 574.6 849.5 563.2 851.4 557.8 852.7 554.9 853.9 552.7 855.2 551.4 856.5 550.8 857.1 550.9 858.4 551.4 859 551.9 860.3 553.5 862.2 556.7 864.1 560.9 866.1 565.9 874.3 590.9 877.5 599.2 879.4 603.1 881.3 606 882.6 607.2 883.3 607.6 884.5 607.8 885.8 607.3 886.4 606.8 887.7 605.3 889 603.3 890.9 599.3 894.1 590.9 902.4 565.8 905.6 557.8 907.5 554.3 908.7 552.5 910 551.4 911.3 550.9 912.6 551.2 913.2 551.6 914.5 553.1 915.7 555.4 917.7 560.2 919.6 566.2 921.5 573.2 927.2 596.4 929.8 606 932.3 614.1 934.2 618.7 935.5 620.9 936.1 621.7 937.4 622.6 938 622.6 938.7 622.5 940 621.4 941.2 619.6 942.5 616.9M560.9 583.8 562.2 583.4 564.1 581.8 566 579.2 567.9 575.7 571.7 566.8 579.4 546.6 581.3 542.1 583.2 538.3 585.1 535.2 586.4 533.7 587.7 532.7 588.3 532.4 589.6 532.2 590.8 532.6 591.5 533 592.8 534.4 594 536.2 595.9 539.7 599.1 547.2 606.1 565.4 608 569.7 609.3 572.1 610.6 574.1 611.9 575.6 613.1 576.6 614.4 576.9 615.7 576.6 616.3 576.2 617.6 574.9 618.9 573.2 620.8 569.8 624 562.5 631 544.3 632.9 540 634.8 536.4 636.7 533.8 638 532.7 638.6 532.3 639.9 532.1 640.5 532.3 641.8 532.9 643.1 534.1 645 536.7 646.3 539 648.2 542.9 651.4 550.6 658.4 569 660.3 573.4 662.2 577.3 664.1 580.4 665.4 582 666.7 583.1 667.3 583.5 668.6 583.8 669.8 583.5 670.5 583.1 671.7 582 673.7 579.5 675.6 576 677.5 571.9 679.4 567.2 687 547 688.9 542.5 690.9 538.6 692.8 535.5 694 533.9 695.3 532.8 696 532.4 697.2 532.2 698.5 532.5 699.8 533.4 701.1 535 702.3 537 703.6 539.4 705.5 543.6 712.5 561.9 715.7 569.3 717.6 572.9 718.9 574.7 720.2 576 720.8 576.5 722.1 576.9 723.4 576.7 724.6 575.8 725.9 574.4 727.8 571.3 731 564.5 738 546.3 741.2 539.1 743.1 535.7 744.4 534 745.6 532.8 746.3 532.4 747.6 532.1 748.8 532.5 749.5 532.8 750.7 533.9 752 535.5 753.9 538.6 755.8 542.5 757.8 547 765.4 567 768.6 574.4 770.5 578.1 772.4 581 774.3 583 775.6 583.6 776.9 583.7 777.5 583.6 778.8 582.8 780 581.5 782 578.7 783.9 575.1 785.8 570.8 794.7 547.5 797.9 540.2 799.8 536.7 801.7 534.1 803 532.9 803.6 532.5 804.9 532.2 806.2 532.4 807.4 533.3 808.7 534.7 810.6 537.8 813.8 544.7 820.8 563 823.4 568.9 825.3 572.6 826.6 574.5 827.8 575.9 829.1 576.7 830.4 576.9 831.7 576.4 832.9 575.3 834.8 572.7 836.7 569.2 838.7 564.9 845.7 546.7 848.9 539.4 850.8 536 852 534.2 853.3 532.9 853.9 532.5 855.2 532.1 856.5 532.4 857.1 532.7 858.4 533.7 859.7 535.3 861.6 538.3 863.5 542.1 865.4 546.6 873.1 566.5 876.9 575.4 878.8 578.9 880.1 580.8 882 582.8 883.3 583.6 884.5 583.8 885.2 583.6 886.4 582.9 888.3 580.9 890.3 577.9 892.2 574.1 894.1 569.7 902.4 547.9 905.6 540.6 907.5 537 909.4 534.3 911.3 532.6 912.6 532.2 913.8 532.3 914.5 532.7 915.7 533.7 917 535.4 918.9 538.7 922.1 545.9 929.8 565.7 932.3 571.1 934.2 574.2 936.1 576.2 937.4 576.8 938 576.9 938.7 576.8 940 576.1 941.2 574.8 942.5 573M560.9 553.3 562.8 552.8 564.7 551.6 566.6 549.7 568.5 547.3 572.4 541.4 581.3 525.7 583.2 522.8 585.1 520.3 587 518.3 588.3 517.2 590.2 516.3 591.5 516.1 592.8 516.2 594 516.5 596.6 518 599.8 520.7 606.1 527.4 608.7 529.7 610.6 531.1 611.9 531.7 613.1 532.1 614.4 532.3 615.7 532.2 617 531.7 618.2 531.1 620.1 529.7 622.7 527.5 629.7 520.2 631.6 518.6 633.5 517.2 635.4 516.4 636.7 516.1 638.6 516.2 639.9 516.8 641.2 517.6 643.1 519.3 646.3 523.4 649.5 528.4 657.7 542.9 659.6 545.9 661.6 548.5 663.5 550.6 665.4 552.2 667.3 553.1 668.6 553.3 669.8 553.1 671.7 552.2 673 551.2 674.9 549.2 676.8 546.7 679.4 542.7 687.7 528.1 691.5 522.2 693.4 519.7 695.3 517.9 697.2 516.6 699.1 516.1 700.4 516.1 701.7 516.5 704.2 517.9 707.4 520.6 713.8 527.2 716.3 529.6 718.3 531 719.5 531.7 720.8 532.1 722.1 532.3 723.4 532.2 724.6 531.8 725.9 531.2 727.8 529.9 731 527 737.4 520.4 739.3 518.7 741.2 517.3 743.1 516.4 744.4 516.1 746.3 516.2 747.6 516.7 748.8 517.4 750.7 519.1 753.9 523.1 757.1 528.1 765.4 542.6 769.2 548.2 771.1 550.4 773 552.1 775 553 776.2 553.3 777.5 553.1 779.4 552.3 781.3 550.7 783.2 548.6 785.1 546 787.1 543 795.3 528.4 799.2 522.4 801.1 519.9 803 518 804.9 516.7 806.8 516.1 808.1 516.1 809.4 516.4 811.9 517.7 815.1 520.4 821.5 527 824 529.4 825.9 530.9 827.2 531.6 828.5 532.1 829.7 532.3 831 532.2 832.3 531.9 833.6 531.3 835.5 530 838.7 527.2 845.7 520 848.9 517.5 850.8 516.5 852 516.1 853.9 516.2 855.2 516.6 856.5 517.3 858.4 519 861.6 522.9 865.4 528.9 873.1 542.3 876.9 548 878.8 550.2 880.7 551.9 882.6 553 883.9 553.3 885.2 553.2 887.1 552.4 889 550.9 890.9 548.8 892.8 546.3 894.7 543.3 903.6 527.6 906.8 522.7 908.7 520.2 910 518.8 911.9 517.2 913.2 516.5 914.5 516.1 916.4 516.2 917.7 516.6 919.6 517.6 922.8 520.2 931 528.7 932.9 530.3 934.9 531.5 936.8 532.2 938.7 532.2 940.6 531.7 942.5 530.6M560.9 523.5 562.8 523.3 564.7 522.6 566.6 521.6 568.5 520.2 572.4 517 581.3 508.2 583.8 506 585.7 504.6 588.9 502.9 590.2 502.6 592.1 502.3 594.7 502.5 597.2 503.2 600.4 504.5 608.7 508.5 611.9 509.5 614.4 509.8 617 509.5 619.5 508.8 622.7 507.4 629.1 504.3 632.9 502.8 636.1 502.3 638 502.4 639.3 502.7 640.5 503.1 642.4 504.1 645.6 506.3 648.8 509.1 657.1 517.2 659.6 519.4 661.6 520.9 663.5 522.1 665.4 522.9 667.3 523.4 668.6 523.5 669.8 523.4 671.7 522.9 673.7 522 675.6 520.8 679.4 517.7 688.3 508.9 692.1 505.6 694 504.3 696 503.3 697.9 502.6 699.8 502.3 702.3 502.5 704.9 503.1 708.1 504.4 714.4 507.6 717 508.7 719.5 509.5 722.1 509.8 724.6 509.6 727.8 508.6 737.4 504.1 740.6 502.9 743.7 502.3 745.6 502.4 746.9 502.6 748.2 503.1 750.1 504 752 505.2 753.9 506.7 757.1 509.6 764.8 517.1 769.2 520.8 771.1 522 773 522.9 775 523.4 776.2 523.5 777.5 523.5 779.4 523 781.3 522.1 783.2 521 787.1 517.9 796 509.1 799.8 505.8 801.7 504.4 803.6 503.4 805.5 502.7 807.4 502.3 810 502.5 812.5 503.1 815.7 504.4 822.1 507.5 824.6 508.6 827.2 509.4 829.7 509.8 832.3 509.6 835.5 508.7 838 507.6 845 504.2 848.2 502.9 851.4 502.3 853.3 502.4 854.6 502.6 855.9 503 857.8 503.9 859.7 505.1 861.6 506.6 864.8 509.4 873.1 517.5 876.9 520.6 878.8 521.9 880.7 522.8 882.6 523.4 883.9 523.5 885.8 523.4 887.7 522.8 889.6 521.9 891.5 520.6 895.4 517.5 903.6 509.3 906.8 506.4 908.7 505 910.6 503.8 912.6 502.9 913.8 502.5 915.1 502.3 917 502.3 920.2 503 923.4 504.3 931.7 508.3 935.5 509.5 937.4 509.8 938.7 509.8 940.6 509.5 942.5 509M560.9 498.4 564.7 498 568.5 497 572.4 495.7 581.9 491.8 585.7 490.5 589.6 489.7 592.8 489.4 597.8 489.7 609.3 491.5 614.4 491.9 619.5 491.5 632.3 489.6 635.4 489.4 638.6 489.6 641.8 490.2 645.6 491.3 657.1 495.8 660.9 497.1 664.7 498 668.6 498.4 671.7 498.1 675.6 497.3 679.4 496 688.9 492.1 692.8 490.8 696.6 489.8 700.4 489.4 705.5 489.7 717 491.5 722.1 491.9 727.2 491.5 739.9 489.6 743.1 489.4 746.3 489.6 749.5 490.1 753.3 491.2 764.8 495.7 769.2 497.2 773 498.1 776.2 498.4 779.4 498.1 783.2 497.3 787.7 495.8 796.6 492.2 800.4 490.8 804.3 489.9 808.1 489.4 813.2 489.7 824.6 491.5 829.7 491.9 834.8 491.6 844.4 490 848.2 489.6 851.4 489.4 854.6 489.6 857.8 490.2 861 491.2 872.4 495.7 876.9 497.2 880.7 498.1 883.9 498.4 887.7 498.1 891.5 497.2 895.4 495.9 907.5 491.1 910.6 490.2 913.8 489.6 917 489.4 920.8 489.6 931.7 491.4 935.5 491.8 938.7 491.9 942.5 491.6" fill="none" stroke="#1d3a3a" stroke-width="0.75" stroke-opacity="0.6"/></g>
<rect x="51.7" y="27.5" width="381.6" height="343.1" fill="url(#mesh)"/>
<rect x="560.9" y="27.4" width="381.6" height="343.1" fill="url(#mesh)"/>
<rect x="51.7" y="477.6" width="381.6" height="343" fill="url(#mesh)"/>
<rect x="560.9" y="477.4" width="381.6" height="343.1" fill="url(#mesh)"/>
<defs><filter id="tb" x="-5%" y="-5%" width="110%" height="110%"><feGaussianBlur stdDeviation="0.3"/></filter></defs>
<g filter="url(#tb)">
<rect x="51.7" y="27.5" width="381.6" height="343.1" fill="none" stroke="#505050" stroke-width="0.9"/>
<path d="M51.7 370.6v-5M67 370.6v-2.5M82.2 370.6v-2.5M97.5 370.6v-2.5M112.8 370.6v-2.5M128 370.6v-5M143.3 370.6v-2.5M158.5 370.6v-2.5M173.8 370.6v-2.5M189.1 370.6v-2.5M204.3 370.6v-5M219.6 370.6v-2.5M234.9 370.6v-2.5M250.1 370.6v-2.5M265.4 370.6v-2.5M280.7 370.6v-5M295.9 370.6v-2.5M311.2 370.6v-2.5M326.5 370.6v-2.5M341.7 370.6v-2.5M357 370.6v-5M372.2 370.6v-2.5M387.5 370.6v-2.5M402.8 370.6v-2.5M418 370.6v-2.5M433.3 370.6v-5M51.7 363h2.5M51.7 347.7h2.5M51.7 332.5h5M51.7 317.2h2.5M51.7 302h2.5M51.7 286.7h2.5M51.7 271.5h2.5M51.7 256.2h5M51.7 241h2.5M51.7 225.7h2.5M51.7 210.5h2.5M51.7 195.2h2.5M51.7 180h5M51.7 164.7h2.5M51.7 149.5h2.5M51.7 134.2h2.5M51.7 119h2.5M51.7 103.7h5M51.7 88.5h2.5M51.7 73.2h2.5M51.7 58h2.5M51.7 42.7h2.5M51.7 27.5h5" stroke="#1a2a1a" stroke-width="0.8" fill="none"/>
<text x="51.7" y="384.2" text-anchor="middle" font-family="Liberation Serif, serif" font-size="13.5" fill="#2a2a2a">0</text>
<text x="128" y="384.2" text-anchor="middle" font-family="Liberation Serif, serif" font-size="13.5" fill="#2a2a2a">1</text>
<text x="204.3" y="384.2" text-anchor="middle" font-family="Liberation Serif, serif" font-size="13.5" fill="#2a2a2a">2</text>
<text x="280.7" y="384.2" text-anchor="middle" font-family="Liberation Serif, serif" font-size="13.5" fill="#2a2a2a">3</text>
<text x="357" y="384.2" text-anchor="middle" font-family="Liberation Serif, serif" font-size="13.5" fill="#2a2a2a">4</text>
<text x="433.3" y="384.2" text-anchor="middle" font-family="Liberation Serif, serif" font-size="13.5" fill="#2a2a2a">5</text>
<text x="46.7" y="337.1" text-anchor="end" font-family="Liberation Serif, serif" font-size="13.5" fill="#2a2a2a">0.2</text>
<text x="46.7" y="260.8" text-anchor="end" font-family="Liberation Serif, serif" font-size="13.5" fill="#2a2a2a">0.4</text>
<text x="46.7" y="184.6" text-anchor="end" font-family="Liberation Serif, serif" font-size="13.5" fill="#2a2a2a">0.6</text>
<text x="46.7" y="108.3" text-anchor="end" font-family="Liberation Serif, serif" font-size="13.5" fill="#2a2a2a">0.8</text>
<text x="46.7" y="32.1" text-anchor="end" font-family="Liberation Serif, serif" font-size="13.5" fill="#2a2a2a">1</text>
<text x="243.6" y="389.5" text-anchor="middle" font-family="Liberation Serif, serif" font-size="13.5" font-style="italic" fill="#2a2a2a">X</text>
<text x="26" y="145" text-anchor="middle" font-family="Liberation Serif, serif" font-size="13.5" font-style="italic" fill="#2a2a2a">Z</text>
<text x="18.1" y="31" font-family="Liberation Serif, serif" font-size="14.5" fill="#2a2a2a">(a)</text>
<rect x="560.9" y="27.4" width="381.6" height="343.1" fill="none" stroke="#505050" stroke-width="0.9"/>
<path d="M560.9 370.5v-5M576.2 370.5v-2.5M591.4 370.5v-2.5M606.7 370.5v-2.5M622 370.5v-2.5M637.2 370.5v-5M652.5 370.5v-2.5M667.7 370.5v-2.5M683 370.5v-2.5M698.3 370.5v-2.5M713.5 370.5v-5M728.8 370.5v-2.5M744.1 370.5v-2.5M759.3 370.5v-2.5M774.6 370.5v-2.5M789.9 370.5v-5M805.1 370.5v-2.5M820.4 370.5v-2.5M835.7 370.5v-2.5M850.9 370.5v-2.5M866.2 370.5v-5M881.4 370.5v-2.5M896.7 370.5v-2.5M912 370.5v-2.5M927.2 370.5v-2.5M942.5 370.5v-5M560.9 362.9h2.5M560.9 347.6h2.5M560.9 332.4h5M560.9 317.1h2.5M560.9 301.9h2.5M560.9 286.6h2.5M560.9 271.4h2.5M560.9 256.1h5M560.9 240.9h2.5M560.9 225.6h2.5M560.9 210.4h2.5M560.9 195.1h2.5M560.9 179.9h5M560.9 164.6h2.5M560.9 149.4h2.5M560.9 134.1h2.5M560.9 118.9h2.5M560.9 103.6h5M560.9 88.4h2.5M560.9 73.1h2.5M560.9 57.9h2.5M560.9 42.6h2.5M560.9 27.4h5" stroke="#1a2a1a" stroke-width="0.8" fill="none"/>
<text x="560.9" y="384.1" text-anchor="middle" font-family="Liberation Serif, serif" font-size="13.5" fill="#2a2a2a">0</text>
<text x="637.2" y="384.1" text-anchor="middle" font-family="Liberation Serif, serif" font-size="13.5" fill="#2a2a2a">1</text>
<text x="713.5" y="384.1" text-anchor="middle" font-family="Liberation Serif, serif" font-size="13.5" fill="#2a2a2a">2</text>
<text x="789.9" y="384.1" text-anchor="middle" font-family="Liberation Serif, serif" font-size="13.5" fill="#2a2a2a">3</text>
<text x="866.2" y="384.1" text-anchor="middle" font-family="Liberation Serif, serif" font-size="13.5" fill="#2a2a2a">4</text>
<text x="942.5" y="384.1" text-anchor="middle" font-family="Liberation Serif, serif" font-size="13.5" fill="#2a2a2a">5</text>
<text x="555.9" y="337" text-anchor="end" font-family="Liberation Serif, serif" font-size="13.5" fill="#2a2a2a">0.2</text>
<text x="555.9" y="260.7" text-anchor="end" font-family="Liberation Serif, serif" font-size="13.5" fill="#2a2a2a">0.4</text>
<text x="555.9" y="184.5" text-anchor="end" font-family="Liberation Serif, serif" font-size="13.5" fill="#2a2a2a">0.6</text>
<text x="555.9" y="108.2" text-anchor="end" font-family="Liberation Serif, serif" font-size="13.5" fill="#2a2a2a">0.8</text>
<text x="555.9" y="32" text-anchor="end" font-family="Liberation Serif, serif" font-size="13.5" fill="#2a2a2a">1</text>
<text x="751.6" y="390.2" text-anchor="middle" font-family="Liberation Serif, serif" font-size="13.5" font-style="italic" fill="#2a2a2a">X</text>
<text x="535.6" y="143.4" text-anchor="middle" font-family="Liberation Serif, serif" font-size="13.5" font-style="italic" fill="#2a2a2a">Z</text>
<text x="525.9" y="32.1" font-family="Liberation Serif, serif" font-size="14.5" fill="#2a2a2a">(b)</text>
<rect x="51.7" y="477.6" width="381.6" height="343" fill="none" stroke="#505050" stroke-width="0.9"/>
<path d="M51.7 820.6v-5M67 820.6v-2.5M82.2 820.6v-2.5M97.5 820.6v-2.5M112.8 820.6v-2.5M128 820.6v-5M143.3 820.6v-2.5M158.5 820.6v-2.5M173.8 820.6v-2.5M189.1 820.6v-2.5M204.3 820.6v-5M219.6 820.6v-2.5M234.9 820.6v-2.5M250.1 820.6v-2.5M265.4 820.6v-2.5M280.7 820.6v-5M295.9 820.6v-2.5M311.2 820.6v-2.5M326.5 820.6v-2.5M341.7 820.6v-2.5M357 820.6v-5M372.2 820.6v-2.5M387.5 820.6v-2.5M402.8 820.6v-2.5M418 820.6v-2.5M433.3 820.6v-5M51.7 813h2.5M51.7 797.7h2.5M51.7 782.5h5M51.7 767.2h2.5M51.7 752h2.5M51.7 736.8h2.5M51.7 721.5h2.5M51.7 706.3h5M51.7 691h2.5M51.7 675.8h2.5M51.7 660.5h2.5M51.7 645.3h2.5M51.7 630h5M51.7 614.8h2.5M51.7 599.6h2.5M51.7 584.3h2.5M51.7 569.1h2.5M51.7 553.8h5M51.7 538.6h2.5M51.7 523.3h2.5M51.7 508.1h2.5M51.7 492.8h2.5M51.7 477.6h5" stroke="#1a2a1a" stroke-width="0.8" fill="none"/>
<text x="51.7" y="834.2" text-anchor="middle" font-family="Liberation Serif, serif" font-size="13.5" fill="#2a2a2a">0</text>
<text x="128" y="834.2" text-anchor="middle" font-family="Liberation Serif, serif" font-size="13.5" fill="#2a2a2a">1</text>
<text x="204.3" y="834.2" text-anchor="middle" font-family="Liberation Serif, serif" font-size="13.5" fill="#2a2a2a">2</text>
<text x="280.7" y="834.2" text-anchor="middle" font-family="Liberation Serif, serif" font-size="13.5" fill="#2a2a2a">3</text>
<text x="357" y="834.2" text-anchor="middle" font-family="Liberation Serif, serif" font-size="13.5" fill="#2a2a2a">4</text>
<text x="433.3" y="834.2" text-anchor="middle" font-family="Liberation Serif, serif" font-size="13.5" fill="#2a2a2a">5</text>
<text x="46.7" y="787.1" text-anchor="end" font-family="Liberation Serif, serif" font-size="13.5" fill="#2a2a2a">0.2</text>
<text x="46.7" y="710.9" text-anchor="end" font-family="Liberation Serif, serif" font-size="13.5" fill="#2a2a2a">0.4</text>
<text x="46.7" y="634.6" text-anchor="end" font-family="Liberation Serif, serif" font-size="13.5" fill="#2a2a2a">0.6</text>
<text x="46.7" y="558.4" text-anchor="end" font-family="Liberation Serif, serif" font-size="13.5" fill="#2a2a2a">0.8</text>
<text x="46.7" y="482.2" text-anchor="end" font-family="Liberation Serif, serif" font-size="13.5" fill="#2a2a2a">1</text>
<text x="242.7" y="839.3" text-anchor="middle" font-family="Liberation Serif, serif" font-size="13.5" font-style="italic" fill="#2a2a2a">X</text>
<text x="27.8" y="594.2" text-anchor="middle" font-family="Liberation Serif, serif" font-size="13.5" font-style="italic" fill="#2a2a2a">Z</text>
<text x="18.1" y="480.8" font-family="Liberation Serif, serif" font-size="14.5" fill="#2a2a2a">(c)</text>
<rect x="560.9" y="477.4" width="381.6" height="343.1" fill="none" stroke="#505050" stroke-width="0.9"/>
<path d="M560.9 820.5v-5M576.2 820.5v-2.5M591.4 820.5v-2.5M606.7 820.5v-2.5M622 820.5v-2.5M637.2 820.5v-5M652.5 820.5v-2.5M667.7 820.5v-2.5M683 820.5v-2.5M698.3 820.5v-2.5M713.5 820.5v-5M728.8 820.5v-2.5M744.1 820.5v-2.5M759.3 820.5v-2.5M774.6 820.5v-2.5M789.9 820.5v-5M805.1 820.5v-2.5M820.4 820.5v-2.5M835.7 820.5v-2.5M850.9 820.5v-2.5M866.2 820.5v-5M881.4 820.5v-2.5M896.7 820.5v-2.5M912 820.5v-2.5M927.2 820.5v-2.5M942.5 820.5v-5M560.9 812.9h2.5M560.9 797.6h2.5M560.9 782.4h5M560.9 767.1h2.5M560.9 751.9h2.5M560.9 736.6h2.5M560.9 721.4h2.5M560.9 706.1h5M560.9 690.9h2.5M560.9 675.6h2.5M560.9 660.4h2.5M560.9 645.1h2.5M560.9 629.9h5M560.9 614.6h2.5M560.9 599.4h2.5M560.9 584.1h2.5M560.9 568.9h2.5M560.9 553.6h5M560.9 538.4h2.5M560.9 523.1h2.5M560.9 507.9h2.5M560.9 492.6h2.5M560.9 477.4h5" stroke="#1a2a1a" stroke-width="0.8" fill="none"/>
<text x="560.9" y="834.1" text-anchor="middle" font-family="Liberation Serif, serif" font-size="13.5" fill="#2a2a2a">0</text>
<text x="637.2" y="834.1" text-anchor="middle" font-family="Liberation Serif, serif" font-size="13.5" fill="#2a2a2a">1</text>
<text x="713.5" y="834.1" text-anchor="middle" font-family="Liberation Serif, serif" font-size="13.5" fill="#2a2a2a">2</text>
<text x="789.9" y="834.1" text-anchor="middle" font-family="Liberation Serif, serif" font-size="13.5" fill="#2a2a2a">3</text>
<text x="866.2" y="834.1" text-anchor="middle" font-family="Liberation Serif, serif" font-size="13.5" fill="#2a2a2a">4</text>
<text x="942.5" y="834.1" text-anchor="middle" font-family="Liberation Serif, serif" font-size="13.5" fill="#2a2a2a">5</text>
<text x="555.9" y="787" text-anchor="end" font-family="Liberation Serif, serif" font-size="13.5" fill="#2a2a2a">0.2</text>
<text x="555.9" y="710.7" text-anchor="end" font-family="Liberation Serif, serif" font-size="13.5" fill="#2a2a2a">0.4</text>
<text x="555.9" y="634.5" text-anchor="end" font-family="Liberation Serif, serif" font-size="13.5" fill="#2a2a2a">0.6</text>
<text x="555.9" y="558.2" text-anchor="end" font-family="Liberation Serif, serif" font-size="13.5" fill="#2a2a2a">0.8</text>
<text x="555.9" y="482" text-anchor="end" font-family="Liberation Serif, serif" font-size="13.5" fill="#2a2a2a">1</text>
<text x="751.6" y="842.2" text-anchor="middle" font-family="Liberation Serif, serif" font-size="13.5" font-style="italic" fill="#2a2a2a">X</text>
<text x="536.2" y="593" text-anchor="middle" font-family="Liberation Serif, serif" font-size="13.5" font-style="italic" fill="#2a2a2a">Z</text>
<text x="526.9" y="480.7" font-family="Liberation Serif, serif" font-size="14.5" fill="#2a2a2a">(d)</text>
<text x="60.6" y="138.3" font-family="Liberation Serif, serif" font-size="12" font-weight="bold" fill="#111">A</text>
<text x="71.2" y="136" font-family="Liberation Serif, serif" font-size="12" font-weight="bold" fill="#111">&#8217;</text>
<path d="M74.4 155.1L77.3 168.6L71.5 168.6Z" fill="#000"/>
<text x="84.2" y="133.8" font-family="Liberation Serif, serif" font-size="12" font-weight="bold" fill="#111">B</text>
<text x="93.4" y="133" font-family="Liberation Serif, serif" font-size="12" font-weight="bold" fill="#111">&#8217;</text>
<path d="M90.9 139.6L95.9 139.6L93.4 153.2Z" fill="#000"/>
<text x="58.7" y="297.6" font-family="Liberation Serif, serif" font-size="12" font-weight="bold" fill="#111">B</text>
<path d="M64.3 304L70.3 304L67.3 317.2Z" fill="#000"/>
<text x="81.3" y="297.6" font-family="Liberation Serif, serif" font-size="12" font-weight="bold" fill="#111">A</text>
<path d="M96.2 272.5L99.1 285.6L93.2 285.6Z" fill="#000"/>
<text x="62.6" y="592.2" font-family="Liberation Serif, serif" font-size="12" font-weight="bold" fill="#111">A</text>
<text x="73.6" y="590.6" font-family="Liberation Serif, serif" font-size="12" font-weight="bold" fill="#111">&#8217;</text>
<path d="M74.3 567L77.4 579.8L71.2 579.8Z" fill="#000"/>
<text x="88.2" y="582" font-family="Liberation Serif, serif" font-size="12" font-weight="bold" fill="#111">B</text>
<text x="98.3" y="580.8" font-family="Liberation Serif, serif" font-size="12" font-weight="bold" fill="#111">&#8217;</text>
<path d="M95.7 552L101.3 552L98.5 564.8Z" fill="#000"/>
<text x="59.6" y="762.8" font-family="Liberation Serif, serif" font-size="12" font-weight="bold" fill="#111">B</text>
<path d="M65.6 732.3L72.1 732.3L68.8 744.4Z" fill="#000"/>
<text x="87.4" y="746.9" font-family="Liberation Serif, serif" font-size="12" font-weight="bold" fill="#111">A</text>
<path d="M101.2 711.7L104.1 723.2L98.2 723.2Z" fill="#000"/>
<rect x="433.3" y="27.5" width="19.1" height="7.8" fill="#ff0000"/>
<rect x="433.3" y="35" width="19.1" height="15.3" fill="#ff3600"/>
<rect x="433.3" y="49.9" width="19.1" height="15.3" fill="#ff6b00"/>
<rect x="433.3" y="64.9" width="19.1" height="15.3" fill="#ffa100"/>
<rect x="433.3" y="79.9" width="19.1" height="15.3" fill="#ffd700"/>
<rect x="433.3" y="94.8" width="19.1" height="15.3" fill="#f2ff00"/>
<rect x="433.3" y="109.8" width="19.1" height="15.3" fill="#bcff00"/>
<rect x="433.3" y="124.7" width="19.1" height="15.3" fill="#86ff00"/>
<rect x="433.3" y="139.7" width="19.1" height="15.3" fill="#51ff00"/>
<rect x="433.3" y="154.7" width="19.1" height="15.3" fill="#1bff00"/>
<rect x="433.3" y="169.6" width="19.1" height="15.3" fill="#00ff1b"/>
<rect x="433.3" y="184.6" width="19.1" height="15.3" fill="#00ff51"/>
<rect x="433.3" y="199.5" width="19.1" height="15.3" fill="#00ff86"/>
<rect x="433.3" y="214.5" width="19.1" height="15.3" fill="#00ffbc"/>
<rect x="433.3" y="229.5" width="19.1" height="15.3" fill="#00fff2"/>
<rect x="433.3" y="244.4" width="19.1" height="15.3" fill="#00d7ff"/>
<rect x="433.3" y="259.4" width="19.1" height="15.3" fill="#00a1ff"/>
<rect x="433.3" y="274.3" width="19.1" height="15.3" fill="#006bff"/>
<rect x="433.3" y="289.3" width="19.1" height="15.3" fill="#0036ff"/>
<rect x="433.3" y="304.3" width="19.1" height="7.8" fill="#0000ff"/>
<path d="M433.3 35H452.4M433.3 49.9H452.4M433.3 64.9H452.4M433.3 79.9H452.4M433.3 94.8H452.4M433.3 109.8H452.4M433.3 124.7H452.4M433.3 139.7H452.4M433.3 154.7H452.4M433.3 169.6H452.4M433.3 184.6H452.4M433.3 199.5H452.4M433.3 214.5H452.4M433.3 229.5H452.4M433.3 244.4H452.4M433.3 259.4H452.4M433.3 274.3H452.4M433.3 289.3H452.4M433.3 304.3H452.4" stroke="#000" stroke-opacity="0.35" stroke-width="0.8"/>
<path d="M452.4 27.5V311.7" stroke="#000" stroke-opacity="0.4" stroke-width="0.8"/>
<text x="462" y="39.6" font-family="Liberation Serif, serif" font-size="13.5" fill="#2a2a2a">8731</text>
<text x="462" y="54.5" font-family="Liberation Serif, serif" font-size="13.5" fill="#2a2a2a">6236</text>
<text x="462" y="69.5" font-family="Liberation Serif, serif" font-size="13.5" fill="#2a2a2a">3742</text>
<text x="462" y="84.5" font-family="Liberation Serif, serif" font-size="13.5" fill="#2a2a2a">1248</text>
<text x="462" y="99.4" font-family="Liberation Serif, serif" font-size="13.5" fill="#2a2a2a">142</text>
<text x="462" y="114.4" font-family="Liberation Serif, serif" font-size="13.5" fill="#2a2a2a">101</text>
<text x="462" y="129.3" font-family="Liberation Serif, serif" font-size="13.5" fill="#2a2a2a">83</text>
<text x="462" y="144.3" font-family="Liberation Serif, serif" font-size="13.5" fill="#2a2a2a">61</text>
<text x="462" y="159.3" font-family="Liberation Serif, serif" font-size="13.5" fill="#2a2a2a">20</text>
<text x="462" y="174.2" font-family="Liberation Serif, serif" font-size="13.5" fill="#2a2a2a">0</text>
<text x="457.8" y="189.2" font-family="Liberation Serif, serif" font-size="13.5" fill="#2a2a2a">&#8209;</text>
<text x="462" y="189.2" font-family="Liberation Serif, serif" font-size="13.5" fill="#2a2a2a">20</text>
<text x="457.8" y="204.1" font-family="Liberation Serif, serif" font-size="13.5" fill="#2a2a2a">&#8209;</text>
<text x="462" y="204.1" font-family="Liberation Serif, serif" font-size="13.5" fill="#2a2a2a">61</text>
<text x="457.8" y="219.1" font-family="Liberation Serif, serif" font-size="13.5" fill="#2a2a2a">&#8209;</text>
<text x="462" y="219.1" font-family="Liberation Serif, serif" font-size="13.5" fill="#2a2a2a">83</text>
<text x="457.8" y="234.1" font-family="Liberation Serif, serif" font-size="13.5" fill="#2a2a2a">&#8209;</text>
<text x="462" y="234.1" font-family="Liberation Serif, serif" font-size="13.5" fill="#2a2a2a">101</text>
<text x="457.8" y="249" font-family="Liberation Serif, serif" font-size="13.5" fill="#2a2a2a">&#8209;</text>
<text x="462" y="249" font-family="Liberation Serif, serif" font-size="13.5" fill="#2a2a2a">142</text>
<text x="457.8" y="264" font-family="Liberation Serif, serif" font-size="13.5" fill="#2a2a2a">&#8209;</text>
<text x="462" y="264" font-family="Liberation Serif, serif" font-size="13.5" fill="#2a2a2a">1248</text>
<text x="457.8" y="278.9" font-family="Liberation Serif, serif" font-size="13.5" fill="#2a2a2a">&#8209;</text>
<text x="462" y="278.9" font-family="Liberation Serif, serif" font-size="13.5" fill="#2a2a2a">3742</text>
<text x="457.8" y="293.9" font-family="Liberation Serif, serif" font-size="13.5" fill="#2a2a2a">&#8209;</text>
<text x="462" y="293.9" font-family="Liberation Serif, serif" font-size="13.5" fill="#2a2a2a">6236</text>
<text x="457.8" y="308.9" font-family="Liberation Serif, serif" font-size="13.5" fill="#2a2a2a">&#8209;</text>
<text x="462" y="308.9" font-family="Liberation Serif, serif" font-size="13.5" fill="#2a2a2a">8731</text>
<rect x="942.5" y="27.5" width="17.7" height="7.8" fill="#ff0000"/>
<rect x="942.5" y="35" width="17.7" height="15.3" fill="#ff2e00"/>
<rect x="942.5" y="49.9" width="17.7" height="15.3" fill="#ff5d00"/>
<rect x="942.5" y="64.9" width="17.7" height="15.3" fill="#ff8b00"/>
<rect x="942.5" y="79.9" width="17.7" height="15.3" fill="#ffb900"/>
<rect x="942.5" y="94.8" width="17.7" height="15.3" fill="#ffe800"/>
<rect x="942.5" y="109.8" width="17.7" height="15.3" fill="#e8ff00"/>
<rect x="942.5" y="124.7" width="17.7" height="15.3" fill="#b9ff00"/>
<rect x="942.5" y="139.7" width="17.7" height="15.3" fill="#8bff00"/>
<rect x="942.5" y="154.7" width="17.7" height="15.3" fill="#5dff00"/>
<rect x="942.5" y="169.6" width="17.7" height="15.3" fill="#2eff00"/>
<rect x="942.5" y="184.6" width="17.7" height="15.3" fill="#00ff00"/>
<rect x="942.5" y="199.5" width="17.7" height="15.3" fill="#00ff2e"/>
<rect x="942.5" y="214.5" width="17.7" height="15.3" fill="#00ff5d"/>
<rect x="942.5" y="229.5" width="17.7" height="15.3" fill="#00ff8b"/>
<rect x="942.5" y="244.4" width="17.7" height="15.3" fill="#00ffb9"/>
<rect x="942.5" y="259.4" width="17.7" height="15.3" fill="#00ffe8"/>
<rect x="942.5" y="274.3" width="17.7" height="15.3" fill="#00e8ff"/>
<rect x="942.5" y="289.3" width="17.7" height="15.3" fill="#00b9ff"/>
<rect x="942.5" y="304.3" width="17.7" height="15.3" fill="#008bff"/>
<rect x="942.5" y="319.2" width="17.7" height="15.3" fill="#005dff"/>
<rect x="942.5" y="334.2" width="17.7" height="15.3" fill="#002eff"/>
<rect x="942.5" y="349.1" width="17.7" height="7.8" fill="#0000ff"/>
<path d="M942.5 35H960.2M942.5 49.9H960.2M942.5 64.9H960.2M942.5 79.9H960.2M942.5 94.8H960.2M942.5 109.8H960.2M942.5 124.7H960.2M942.5 139.7H960.2M942.5 154.7H960.2M942.5 169.6H960.2M942.5 184.6H960.2M942.5 199.5H960.2M942.5 214.5H960.2M942.5 229.5H960.2M942.5 244.4H960.2M942.5 259.4H960.2M942.5 274.3H960.2M942.5 289.3H960.2M942.5 304.3H960.2M942.5 319.2H960.2M942.5 334.2H960.2M942.5 349.1H960.2" stroke="#000" stroke-opacity="0.35" stroke-width="0.8"/>
<path d="M960.2 27.5V356.6" stroke="#000" stroke-opacity="0.4" stroke-width="0.8"/>
<text x="973.6" y="39.6" font-family="Liberation Serif, serif" font-size="13.5" fill="#2a2a2a">9.25</text>
<text x="973.6" y="54.5" font-family="Liberation Serif, serif" font-size="13.5" fill="#2a2a2a">8.00</text>
<text x="973.6" y="69.5" font-family="Liberation Serif, serif" font-size="13.5" fill="#2a2a2a">6.75</text>
<text x="973.6" y="84.5" font-family="Liberation Serif, serif" font-size="13.5" fill="#2a2a2a">0.35</text>
<text x="973.6" y="99.4" font-family="Liberation Serif, serif" font-size="13.5" fill="#2a2a2a">0.25</text>
<text x="973.6" y="114.4" font-family="Liberation Serif, serif" font-size="13.5" fill="#2a2a2a">0.13</text>
<text x="973.6" y="129.3" font-family="Liberation Serif, serif" font-size="13.5" fill="#2a2a2a">0.06</text>
<text x="973.6" y="144.3" font-family="Liberation Serif, serif" font-size="13.5" fill="#2a2a2a">0.00</text>
<text x="969.4" y="159.3" font-family="Liberation Serif, serif" font-size="13.5" fill="#2a2a2a">&#8209;</text>
<text x="973.6" y="159.3" font-family="Liberation Serif, serif" font-size="13.5" fill="#2a2a2a">0.06</text>
<text x="969.4" y="174.2" font-family="Liberation Serif, serif" font-size="13.5" fill="#2a2a2a">&#8209;</text>
<text x="973.6" y="174.2" font-family="Liberation Serif, serif" font-size="13.5" fill="#2a2a2a">0.13</text>
<text x="969.4" y="189.2" font-family="Liberation Serif, serif" font-size="13.5" fill="#2a2a2a">&#8209;</text>
<text x="973.6" y="189.2" font-family="Liberation Serif, serif" font-size="13.5" fill="#2a2a2a">0.25</text>
<text x="969.4" y="204.1" font-family="Liberation Serif, serif" font-size="13.5" fill="#2a2a2a">&#8209;</text>
<text x="973.6" y="204.1" font-family="Liberation Serif, serif" font-size="13.5" fill="#2a2a2a">0.35</text>
<text x="969.4" y="219.1" font-family="Liberation Serif, serif" font-size="13.5" fill="#2a2a2a">&#8209;</text>
<text x="973.6" y="219.1" font-family="Liberation Serif, serif" font-size="13.5" fill="#2a2a2a">0.50</text>
<text x="969.4" y="234.1" font-family="Liberation Serif, serif" font-size="13.5" fill="#2a2a2a">&#8209;</text>
<text x="973.6" y="234.1" font-family="Liberation Serif, serif" font-size="13.5" fill="#2a2a2a">0.63</text>
<text x="969.4" y="249" font-family="Liberation Serif, serif" font-size="13.5" fill="#2a2a2a">&#8209;</text>
<text x="973.6" y="249" font-family="Liberation Serif, serif" font-size="13.5" fill="#2a2a2a">0.69</text>
<text x="969.4" y="264" font-family="Liberation Serif, serif" font-size="13.5" fill="#2a2a2a">&#8209;</text>
<text x="973.6" y="264" font-family="Liberation Serif, serif" font-size="13.5" fill="#2a2a2a">0.75</text>
<text x="969.4" y="278.9" font-family="Liberation Serif, serif" font-size="13.5" fill="#2a2a2a">&#8209;</text>
<text x="973.6" y="278.9" font-family="Liberation Serif, serif" font-size="13.5" fill="#2a2a2a">0.82</text>
<text x="969.4" y="293.9" font-family="Liberation Serif, serif" font-size="13.5" fill="#2a2a2a">&#8209;</text>
<text x="973.6" y="293.9" font-family="Liberation Serif, serif" font-size="13.5" fill="#2a2a2a">0.88</text>
<text x="969.4" y="308.9" font-family="Liberation Serif, serif" font-size="13.5" fill="#2a2a2a">&#8209;</text>
<text x="973.6" y="308.9" font-family="Liberation Serif, serif" font-size="13.5" fill="#2a2a2a">0.94</text>
<text x="969.4" y="323.8" font-family="Liberation Serif, serif" font-size="13.5" fill="#2a2a2a">&#8209;</text>
<text x="973.6" y="323.8" font-family="Liberation Serif, serif" font-size="13.5" fill="#2a2a2a">6.75</text>
<text x="969.4" y="338.8" font-family="Liberation Serif, serif" font-size="13.5" fill="#2a2a2a">&#8209;</text>
<text x="973.6" y="338.8" font-family="Liberation Serif, serif" font-size="13.5" fill="#2a2a2a">8.00</text>
<text x="969.4" y="353.7" font-family="Liberation Serif, serif" font-size="13.5" fill="#2a2a2a">&#8209;</text>
<text x="973.6" y="353.7" font-family="Liberation Serif, serif" font-size="13.5" fill="#2a2a2a">9.25</text>
</g></svg></body></html>
